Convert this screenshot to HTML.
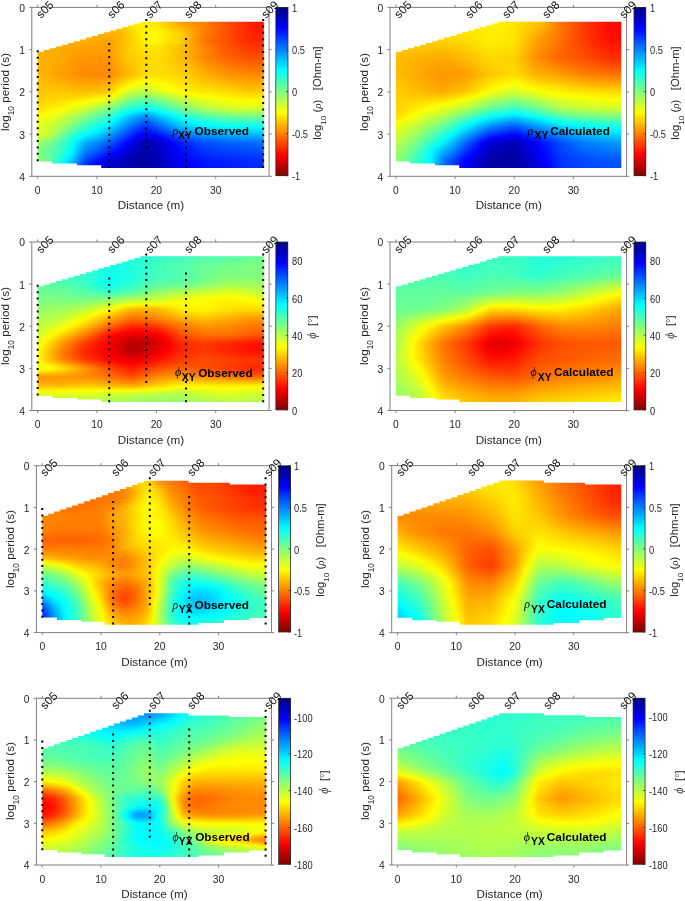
<!DOCTYPE html><html><head><meta charset="utf-8"><title>MT sections</title><style>
*{margin:0;padding:0}
body{width:685px;height:901px;position:relative;overflow:hidden;background:#fff;font-family:"Liberation Sans",sans-serif;color:#262626;-webkit-font-smoothing:antialiased}
.f{position:absolute;overflow:hidden}
.f i{position:absolute;left:0;right:0;display:block}
.cb{position:absolute}
.t{position:absolute;line-height:1;white-space:nowrap}
.t sub{font-size:0.8em;vertical-align:-0.25em;line-height:0}
.sb{position:relative}
.an{font-weight:bold;color:#000}
.an .g{font-weight:normal}
.g{font-family:"Liberation Serif",serif;font-style:italic}
svg{position:absolute;left:0;top:0}
#tx{position:absolute;left:0;top:0;width:685px;height:901px;will-change:transform}
#all{position:absolute;left:0;top:0;width:685px;height:901px;}</style></head><body><div id="all">
<div class="f" style="left:37px;top:21px;width:227px;height:147px;clip-path:polygon(0.7px 30.7px,6.8px 30.7px,6.8px 29.0px,12.8px 29.0px,12.8px 27.2px,18.8px 27.2px,18.8px 25.4px,24.9px 25.4px,24.9px 23.7px,30.9px 23.7px,30.9px 21.9px,36.9px 21.9px,36.9px 20.2px,43.0px 20.2px,43.0px 18.4px,49.0px 18.4px,49.0px 16.6px,55.0px 16.6px,55.0px 14.9px,61.0px 14.9px,61.0px 13.1px,67.1px 13.1px,67.1px 11.3px,73.1px 11.3px,73.1px 9.6px,79.1px 9.6px,79.1px 7.8px,85.2px 7.8px,85.2px 6.0px,91.2px 6.0px,91.2px 4.3px,97.2px 4.3px,97.2px 2.5px,103.3px 2.5px,103.3px 0.8px,109.3px 0.8px,109.3px 0.8px,226.8px 0.8px,226.8px 146.9px,64.2px 146.9px,64.2px 144.3px,39.9px 144.3px,39.9px 142.6px,15.0px 142.6px,15.0px 140.5px,0.7px 140.5px)">
<i style="top:0px;height:2px;background:linear-gradient(90deg,#ffeb00,#ffeb00,#ffeb00,#ffeb00,#ffeb00,#ffeb00,#ffeb00,#ffeb00,#ffeb00,#ffeb00,#ffeb00,#ffeb00,#ffeb00,#ffeb00,#ffeb00,#ffeb00,#ffeb00,#ffeb00,#ffeb00,#ffeb00,#ffeb00,#ffec00,#ffec00,#ffed00,#ffee00,#ffef00,#fff000,#fff000,#ffed00,#ffea00,#ffe600,#ffdb00,#ffd000,#ffc400,#ffb800,#ffad00,#ffa200,#ff9c00,#ff9600,#ff9000,#ff8b00,#ff8500,#ff7f00,#ff7700,#ff6e00,#ff6600,#ff5d00,#ff5400,#ff4c00,#ff4400,#ff3b00,#ff3300,#ff2a00,#ff2200,#ff1b00,#ff1700,#ff1300,#ff1000)"></i>
<i style="top:2px;height:2px;background:linear-gradient(90deg,#ffe300,#ffe300,#ffe300,#ffe300,#ffe300,#ffe300,#ffe300,#ffe300,#ffe300,#ffe300,#ffe300,#ffe300,#ffe300,#ffe300,#ffe300,#ffe300,#ffe300,#ffe300,#ffe300,#ffe300,#ffe300,#ffe300,#ffe500,#ffe800,#ffea00,#ffed00,#ffef00,#fff100,#ffef00,#ffec00,#ffe800,#ffdf00,#ffd400,#ffc900,#ffbe00,#ffb300,#ffa900,#ffa200,#ff9b00,#ff9400,#ff8d00,#ff8600,#ff7f00,#ff7700,#ff6e00,#ff6600,#ff5d00,#ff5400,#ff4c00,#ff4400,#ff3c00,#ff3400,#ff2b00,#ff2300,#ff1c00,#ff1800,#ff1500,#ff1200)"></i>
<i style="top:4px;height:2px;background:linear-gradient(90deg,#ffd800,#ffd800,#ffd800,#ffd800,#ffd800,#ffd800,#ffd800,#ffd800,#ffd800,#ffd800,#ffd800,#ffd800,#ffd800,#ffd800,#ffd800,#ffd800,#ffd800,#ffd800,#ffd800,#ffd800,#ffd800,#ffd900,#ffdd00,#ffe100,#ffe600,#ffea00,#ffef00,#fff300,#fff200,#ffef00,#ffec00,#ffe300,#ffd900,#ffcf00,#ffc500,#ffbb00,#ffb200,#ffa900,#ffa100,#ff9800,#ff9000,#ff8800,#ff7f00,#ff7700,#ff6e00,#ff6600,#ff5d00,#ff5400,#ff4c00,#ff4400,#ff3c00,#ff3400,#ff2d00,#ff2500,#ff1e00,#ff1a00,#ff1600,#ff1400)"></i>
<i style="top:6px;height:2px;background:linear-gradient(90deg,#ffcd00,#ffcd00,#ffcd00,#ffcd00,#ffcd00,#ffcd00,#ffcd00,#ffcd00,#ffcd00,#ffcd00,#ffcd00,#ffcd00,#ffcd00,#ffcd00,#ffcd00,#ffcd00,#ffcd00,#ffcd00,#ffcd00,#ffcd00,#ffcd00,#ffce00,#ffd400,#ffda00,#ffe100,#ffe800,#ffef00,#fff400,#fff400,#fff300,#fff000,#ffe800,#ffdf00,#ffd600,#ffcd00,#ffc400,#ffbb00,#ffb100,#ffa700,#ff9d00,#ff9300,#ff8900,#ff7f00,#ff7700,#ff6e00,#ff6600,#ff5d00,#ff5400,#ff4c00,#ff4400,#ff3d00,#ff3500,#ff2e00,#ff2600,#ff2000,#ff1c00,#ff1800,#ff1500)"></i>
<i style="top:8px;height:2px;background:linear-gradient(90deg,#ffc200,#ffc200,#ffc200,#ffc200,#ffc200,#ffc200,#ffc200,#ffc200,#ffc200,#ffc200,#ffc200,#ffc200,#ffc200,#ffc200,#ffc200,#ffc200,#ffc200,#ffc200,#ffc200,#ffc200,#ffc200,#ffc300,#ffcb00,#ffd400,#ffdd00,#ffe600,#ffee00,#fff600,#fff600,#fff600,#fff400,#ffed00,#ffe400,#ffdc00,#ffd400,#ffcc00,#ffc300,#ffb800,#ffad00,#ffa100,#ff9600,#ff8a00,#ff7f00,#ff7700,#ff6e00,#ff6600,#ff5d00,#ff5400,#ff4c00,#ff4500,#ff3e00,#ff3600,#ff2f00,#ff2800,#ff2100,#ff1d00,#ff1a00,#ff1700)"></i>
<i style="top:10px;height:2px;background:linear-gradient(90deg,#ffb800,#ffb800,#ffb800,#ffb800,#ffb800,#ffb800,#ffb800,#ffb800,#ffb800,#ffb800,#ffb800,#ffb800,#ffb800,#ffb800,#ffb800,#ffb800,#ffb800,#ffb800,#ffb800,#ffb800,#ffb800,#ffba00,#ffc300,#ffce00,#ffd900,#ffe300,#ffee00,#fff700,#fff900,#fff800,#fff700,#fff000,#ffe900,#ffe200,#ffdb00,#ffd300,#ffcb00,#ffbf00,#ffb200,#ffa500,#ff9800,#ff8b00,#ff7f00,#ff7600,#ff6e00,#ff6500,#ff5d00,#ff5400,#ff4c00,#ff4500,#ff3e00,#ff3700,#ff3000,#ff2900,#ff2300,#ff1f00,#ff1c00,#ff1a00)"></i>
<i style="top:12px;height:2px;background:linear-gradient(90deg,#ffb400,#ffb400,#ffb400,#ffb400,#ffb400,#ffb400,#ffb400,#ffb400,#ffb400,#ffb400,#ffb400,#ffb400,#ffb300,#ffb300,#ffb200,#ffb200,#ffb100,#ffb100,#ffb000,#ffb200,#ffb300,#ffb600,#ffc000,#ffcb00,#ffd600,#ffe100,#ffed00,#fff700,#fffa00,#fffa00,#fff800,#fff300,#ffec00,#ffe500,#ffde00,#ffd700,#ffcf00,#ffc200,#ffb400,#ffa600,#ff9900,#ff8b00,#ff7e00,#ff7500,#ff6d00,#ff6500,#ff5c00,#ff5400,#ff4c00,#ff4500,#ff3e00,#ff3800,#ff3100,#ff2a00,#ff2400,#ff2100,#ff1f00,#ff1d00)"></i>
<i style="top:14px;height:2px;background:linear-gradient(90deg,#ffb300,#ffb300,#ffb300,#ffb300,#ffb300,#ffb300,#ffb300,#ffb300,#ffb300,#ffb300,#ffb300,#ffb300,#ffb200,#ffb100,#ffb000,#ffaf00,#ffad00,#ffac00,#ffab00,#ffae00,#ffb100,#ffb600,#ffbf00,#ffca00,#ffd400,#ffe000,#ffec00,#fff700,#fffa00,#fffa00,#fff900,#fff300,#ffec00,#ffe500,#ffde00,#ffd800,#ffd000,#ffc200,#ffb400,#ffa600,#ff9700,#ff8900,#ff7c00,#ff7300,#ff6b00,#ff6400,#ff5c00,#ff5400,#ff4c00,#ff4500,#ff3e00,#ff3800,#ff3100,#ff2a00,#ff2400,#ff2300,#ff2200,#ff2100)"></i>
<i style="top:16px;height:2px;background:linear-gradient(90deg,#ffb300,#ffb200,#ffb200,#ffb200,#ffb200,#ffb200,#ffb200,#ffb200,#ffb200,#ffb200,#ffb200,#ffb200,#ffb200,#ffb000,#ffae00,#ffac00,#ffaa00,#ffa800,#ffa700,#ffab00,#ffb000,#ffb600,#ffbf00,#ffc900,#ffd300,#ffdf00,#ffeb00,#fff600,#fffa00,#fffa00,#fff900,#fff300,#ffec00,#ffe500,#ffde00,#ffd800,#ffcf00,#ffc200,#ffb300,#ffa500,#ff9600,#ff8700,#ff7a00,#ff7100,#ff6a00,#ff6200,#ff5b00,#ff5400,#ff4c00,#ff4500,#ff3e00,#ff3800,#ff3100,#ff2a00,#ff2500,#ff2500,#ff2500,#ff2600)"></i>
<i style="top:18px;height:2px;background:linear-gradient(90deg,#ffb200,#ffb200,#ffb200,#ffb200,#ffb200,#ffb200,#ffb200,#ffb200,#ffb200,#ffb200,#ffb200,#ffb200,#ffb200,#ffaf00,#ffad00,#ffaa00,#ffa700,#ffa400,#ffa300,#ffa900,#ffb000,#ffb700,#ffc000,#ffc900,#ffd200,#ffde00,#ffe900,#fff500,#fff900,#fff900,#fff800,#fff200,#ffec00,#ffe500,#ffde00,#ffd700,#ffcf00,#ffc100,#ffb200,#ffa400,#ff9500,#ff8600,#ff7800,#ff7000,#ff6900,#ff6200,#ff5b00,#ff5300,#ff4c00,#ff4600,#ff3f00,#ff3800,#ff3100,#ff2a00,#ff2500,#ff2700,#ff2900,#ff2b00)"></i>
<i style="top:20px;height:2px;background:linear-gradient(90deg,#ffb200,#ffb200,#ffb200,#ffb200,#ffb200,#ffb100,#ffb100,#ffb100,#ffb100,#ffb000,#ffb000,#ffb000,#ffaf00,#ffad00,#ffaa00,#ffa700,#ffa500,#ffa200,#ffa100,#ffa700,#ffaf00,#ffb800,#ffc000,#ffc900,#ffd200,#ffdc00,#ffe700,#fff200,#fff700,#fff700,#fff500,#fff000,#ffe900,#ffe300,#ffdc00,#ffd500,#ffcd00,#ffc000,#ffb100,#ffa300,#ff9500,#ff8600,#ff7900,#ff7100,#ff6a00,#ff6300,#ff5c00,#ff5500,#ff4e00,#ff4700,#ff4000,#ff3a00,#ff3300,#ff2d00,#ff2800,#ff2900,#ff2c00,#ff2e00)"></i>
<i style="top:22px;height:2px;background:linear-gradient(90deg,#ffb200,#ffb200,#ffb100,#ffb100,#ffb000,#ffb000,#ffaf00,#ffaf00,#ffae00,#ffad00,#ffad00,#ffac00,#ffab00,#ffa900,#ffa700,#ffa500,#ffa300,#ffa000,#ffa000,#ffa700,#ffaf00,#ffb800,#ffc100,#ffc900,#ffd100,#ffdb00,#ffe500,#ffee00,#fff200,#fff200,#fff000,#ffeb00,#ffe500,#ffde00,#ffd800,#ffd100,#ffc900,#ffbd00,#ffb000,#ffa300,#ff9600,#ff8900,#ff7d00,#ff7400,#ff6d00,#ff6600,#ff5e00,#ff5700,#ff5000,#ff4900,#ff4300,#ff3d00,#ff3700,#ff3000,#ff2c00,#ff2d00,#ff2f00,#ff3100)"></i>
<i style="top:24px;height:2px;background:linear-gradient(90deg,#ffb200,#ffb200,#ffb100,#ffb000,#ffaf00,#ffae00,#ffad00,#ffac00,#ffab00,#ffaa00,#ffa900,#ffa800,#ffa700,#ffa500,#ffa400,#ffa300,#ffa100,#ffa000,#ffa000,#ffa700,#ffb000,#ffb900,#ffc100,#ffc900,#ffd100,#ffd900,#ffe200,#ffea00,#ffed00,#ffec00,#ffea00,#ffe600,#ffe000,#ffda00,#ffd300,#ffcc00,#ffc500,#ffbb00,#ffaf00,#ffa400,#ff9800,#ff8c00,#ff8100,#ff7900,#ff7100,#ff6900,#ff6100,#ff5a00,#ff5200,#ff4c00,#ff4600,#ff4000,#ff3b00,#ff3500,#ff3000,#ff3100,#ff3200,#ff3400)"></i>
<i style="top:26px;height:2px;background:linear-gradient(90deg,#ffb200,#ffb100,#ffb000,#ffaf00,#ffad00,#ffac00,#ffaa00,#ffa900,#ffa800,#ffa600,#ffa500,#ffa400,#ffa200,#ffa100,#ffa100,#ffa000,#ff9f00,#ff9f00,#ff9f00,#ffa700,#ffb000,#ffb900,#ffc200,#ffca00,#ffd000,#ffd800,#ffdf00,#ffe600,#ffe800,#ffe600,#ffe400,#ffe100,#ffdc00,#ffd500,#ffce00,#ffc800,#ffc000,#ffb800,#ffae00,#ffa400,#ff9a00,#ff8f00,#ff8500,#ff7d00,#ff7500,#ff6d00,#ff6500,#ff5c00,#ff5500,#ff4f00,#ff4a00,#ff4400,#ff3f00,#ff3900,#ff3500,#ff3500,#ff3600,#ff3600)"></i>
<i style="top:28px;height:2px;background:linear-gradient(90deg,#ffb200,#ffb100,#ffaf00,#ffae00,#ffac00,#ffab00,#ffa900,#ffa700,#ffa500,#ffa400,#ffa200,#ffa000,#ff9e00,#ff9e00,#ff9e00,#ff9e00,#ff9d00,#ff9d00,#ff9f00,#ffa600,#ffb000,#ffb900,#ffc200,#ffca00,#ffd000,#ffd600,#ffdd00,#ffe300,#ffe400,#ffe200,#ffe000,#ffde00,#ffd900,#ffd200,#ffcb00,#ffc400,#ffbe00,#ffb600,#ffae00,#ffa400,#ff9b00,#ff9200,#ff8800,#ff8000,#ff7800,#ff6f00,#ff6700,#ff5f00,#ff5700,#ff5200,#ff4d00,#ff4800,#ff4300,#ff3e00,#ff3a00,#ff3a00,#ff3a00,#ff3a00)"></i>
<i style="top:30px;height:2px;background:linear-gradient(90deg,#ffb200,#ffb100,#ffaf00,#ffae00,#ffac00,#ffaa00,#ffa800,#ffa600,#ffa400,#ffa200,#ffa000,#ff9e00,#ff9c00,#ff9b00,#ff9b00,#ff9b00,#ff9b00,#ff9b00,#ff9d00,#ffa500,#ffaf00,#ffb800,#ffc200,#ffca00,#ffcf00,#ffd500,#ffdb00,#ffe000,#ffe200,#ffe000,#ffde00,#ffdc00,#ffd800,#ffd100,#ffca00,#ffc300,#ffbd00,#ffb600,#ffae00,#ffa500,#ff9b00,#ff9200,#ff8900,#ff8100,#ff7900,#ff7100,#ff6900,#ff6100,#ff5a00,#ff5500,#ff5000,#ff4b00,#ff4700,#ff4200,#ff3f00,#ff3f00,#ff4000,#ff4100)"></i>
<i style="top:32px;height:2px;background:linear-gradient(90deg,#ffb200,#ffb100,#ffaf00,#ffad00,#ffac00,#ffaa00,#ffa800,#ffa600,#ffa300,#ffa100,#ff9e00,#ff9b00,#ff9900,#ff9900,#ff9900,#ff9900,#ff9900,#ff9900,#ff9a00,#ffa300,#ffad00,#ffb700,#ffc200,#ffc900,#ffcf00,#ffd400,#ffd900,#ffde00,#ffdf00,#ffde00,#ffdd00,#ffdc00,#ffd800,#ffd100,#ffca00,#ffc300,#ffbc00,#ffb600,#ffae00,#ffa500,#ff9b00,#ff9200,#ff8a00,#ff8200,#ff7a00,#ff7200,#ff6b00,#ff6300,#ff5c00,#ff5800,#ff5300,#ff4f00,#ff4b00,#ff4700,#ff4400,#ff4500,#ff4600,#ff4800)"></i>
<i style="top:34px;height:2px;background:linear-gradient(90deg,#ffb200,#ffb100,#ffaf00,#ffad00,#ffac00,#ffaa00,#ffa800,#ffa500,#ffa200,#ff9f00,#ff9c00,#ff9a00,#ff9700,#ff9600,#ff9600,#ff9600,#ff9600,#ff9600,#ff9800,#ffa100,#ffac00,#ffb700,#ffc100,#ffc900,#ffce00,#ffd200,#ffd700,#ffdc00,#ffdd00,#ffdd00,#ffdc00,#ffdb00,#ffd800,#ffd100,#ffca00,#ffc300,#ffbd00,#ffb600,#ffae00,#ffa500,#ff9c00,#ff9300,#ff8a00,#ff8200,#ff7b00,#ff7400,#ff6d00,#ff6500,#ff5f00,#ff5a00,#ff5700,#ff5300,#ff4f00,#ff4b00,#ff4900,#ff4a00,#ff4d00,#ff4f00)"></i>
<i style="top:36px;height:2px;background:linear-gradient(90deg,#ffb300,#ffb100,#ffaf00,#ffad00,#ffac00,#ffaa00,#ffa800,#ffa500,#ffa200,#ff9e00,#ff9b00,#ff9800,#ff9500,#ff9400,#ff9400,#ff9400,#ff9400,#ff9400,#ff9600,#ff9f00,#ffaa00,#ffb500,#ffc000,#ffc800,#ffcd00,#ffd100,#ffd600,#ffda00,#ffdc00,#ffdc00,#ffdc00,#ffdb00,#ffd800,#ffd100,#ffcb00,#ffc400,#ffbd00,#ffb700,#ffaf00,#ffa600,#ff9d00,#ff9400,#ff8b00,#ff8400,#ff7d00,#ff7600,#ff6f00,#ff6800,#ff6200,#ff5e00,#ff5b00,#ff5700,#ff5400,#ff5000,#ff4e00,#ff5000,#ff5300,#ff5600)"></i>
<i style="top:38px;height:2px;background:linear-gradient(90deg,#ffb300,#ffb200,#ffb000,#ffae00,#ffab00,#ffa900,#ffa700,#ffa400,#ffa000,#ff9d00,#ff9a00,#ff9600,#ff9300,#ff9300,#ff9300,#ff9300,#ff9300,#ff9300,#ff9400,#ff9e00,#ffa900,#ffb400,#ffbf00,#ffc700,#ffcb00,#ffd000,#ffd500,#ffd900,#ffdb00,#ffdb00,#ffdb00,#ffdb00,#ffd800,#ffd200,#ffcc00,#ffc500,#ffbf00,#ffb900,#ffb100,#ffa900,#ffa000,#ff9700,#ff8f00,#ff8800,#ff8100,#ff7a00,#ff7400,#ff6d00,#ff6700,#ff6300,#ff6000,#ff5d00,#ff5a00,#ff5700,#ff5500,#ff5700,#ff5a00,#ff5c00)"></i>
<i style="top:40px;height:2px;background:linear-gradient(90deg,#ffb500,#ffb300,#ffb000,#ffae00,#ffab00,#ffa900,#ffa600,#ffa300,#ff9f00,#ff9c00,#ff9800,#ff9500,#ff9200,#ff9200,#ff9200,#ff9200,#ff9200,#ff9200,#ff9300,#ff9c00,#ffa700,#ffb200,#ffbd00,#ffc500,#ffca00,#ffcf00,#ffd400,#ffd900,#ffdb00,#ffdb00,#ffdb00,#ffdb00,#ffd800,#ffd300,#ffcd00,#ffc700,#ffc200,#ffbc00,#ffb500,#ffac00,#ffa400,#ff9b00,#ff9300,#ff8c00,#ff8600,#ff8000,#ff7900,#ff7300,#ff6d00,#ff6a00,#ff6700,#ff6400,#ff6100,#ff5e00,#ff5c00,#ff5e00,#ff6000,#ff6200)"></i>
<i style="top:42px;height:2px;background:linear-gradient(90deg,#ffb600,#ffb300,#ffb000,#ffae00,#ffab00,#ffa800,#ffa500,#ffa100,#ff9e00,#ff9b00,#ff9700,#ff9400,#ff9100,#ff9000,#ff9000,#ff9000,#ff9000,#ff9000,#ff9200,#ff9b00,#ffa500,#ffb000,#ffba00,#ffc200,#ffc800,#ffce00,#ffd300,#ffd900,#ffdb00,#ffdb00,#ffdb00,#ffdb00,#ffd900,#ffd400,#ffcf00,#ffca00,#ffc500,#ffbf00,#ffb900,#ffb100,#ffa800,#ffa000,#ff9800,#ff9200,#ff8b00,#ff8500,#ff7f00,#ff7900,#ff7300,#ff7000,#ff6d00,#ff6a00,#ff6700,#ff6500,#ff6300,#ff6400,#ff6700,#ff6800)"></i>
<i style="top:44px;height:2px;background:linear-gradient(90deg,#ffb700,#ffb400,#ffb100,#ffae00,#ffaa00,#ffa700,#ffa400,#ffa000,#ff9d00,#ff9900,#ff9600,#ff9300,#ff9000,#ff8f00,#ff8f00,#ff8f00,#ff8f00,#ff8f00,#ff9100,#ff9900,#ffa400,#ffae00,#ffb800,#ffc000,#ffc600,#ffcc00,#ffd300,#ffd800,#ffdb00,#ffdb00,#ffdb00,#ffdb00,#ffd900,#ffd500,#ffd000,#ffcc00,#ffc700,#ffc300,#ffbd00,#ffb500,#ffad00,#ffa500,#ff9d00,#ff9700,#ff9100,#ff8b00,#ff8500,#ff7e00,#ff7900,#ff7600,#ff7300,#ff7100,#ff6e00,#ff6c00,#ff6a00,#ff6b00,#ff6d00,#ff6e00)"></i>
<i style="top:46px;height:2px;background:linear-gradient(90deg,#ffb800,#ffb500,#ffb100,#ffae00,#ffaa00,#ffa600,#ffa300,#ff9f00,#ff9c00,#ff9800,#ff9500,#ff9100,#ff8f00,#ff8e00,#ff8e00,#ff8e00,#ff8e00,#ff8e00,#ff8f00,#ff9800,#ffa200,#ffac00,#ffb600,#ffbe00,#ffc500,#ffcb00,#ffd200,#ffd800,#ffdb00,#ffdb00,#ffdb00,#ffdb00,#ffd900,#ffd600,#ffd200,#ffce00,#ffca00,#ffc600,#ffc000,#ffb900,#ffb100,#ffa900,#ffa200,#ff9c00,#ff9600,#ff9000,#ff8a00,#ff8400,#ff7f00,#ff7c00,#ff7a00,#ff7800,#ff7500,#ff7300,#ff7100,#ff7200,#ff7300,#ff7500)"></i>
<i style="top:48px;height:2px;background:linear-gradient(90deg,#ffb900,#ffb600,#ffb200,#ffae00,#ffa900,#ffa500,#ffa100,#ff9e00,#ff9a00,#ff9700,#ff9400,#ff9000,#ff8d00,#ff8d00,#ff8d00,#ff8d00,#ff8d00,#ff8d00,#ff8e00,#ff9600,#ffa000,#ffaa00,#ffb400,#ffbc00,#ffc300,#ffca00,#ffd100,#ffd800,#ffdb00,#ffdb00,#ffdb00,#ffdb00,#ffda00,#ffd600,#ffd300,#ffd000,#ffcd00,#ffca00,#ffc400,#ffbd00,#ffb500,#ffae00,#ffa700,#ffa100,#ff9b00,#ff9500,#ff9000,#ff8a00,#ff8500,#ff8300,#ff8000,#ff7e00,#ff7c00,#ff7a00,#ff7800,#ff7900,#ff7a00,#ff7b00)"></i>
<i style="top:50px;height:2px;background:linear-gradient(90deg,#ffba00,#ffb700,#ffb200,#ffae00,#ffa900,#ffa500,#ffa000,#ff9d00,#ff9900,#ff9600,#ff9200,#ff8f00,#ff8c00,#ff8c00,#ff8c00,#ff8c00,#ff8c00,#ff8c00,#ff8d00,#ff9500,#ff9e00,#ffa800,#ffb100,#ffba00,#ffc200,#ffc900,#ffd100,#ffd800,#ffdb00,#ffdb00,#ffdb00,#ffdb00,#ffda00,#ffd700,#ffd500,#ffd200,#ffd000,#ffcd00,#ffc800,#ffc100,#ffb900,#ffb200,#ffab00,#ffa600,#ffa000,#ff9b00,#ff9500,#ff9000,#ff8b00,#ff8900,#ff8700,#ff8500,#ff8300,#ff8100,#ff7f00,#ff8000,#ff8000,#ff8100)"></i>
<i style="top:52px;height:2px;background:linear-gradient(90deg,#ffbc00,#ffb800,#ffb300,#ffae00,#ffa900,#ffa400,#ffa000,#ff9c00,#ff9900,#ff9600,#ff9200,#ff8f00,#ff8c00,#ff8b00,#ff8b00,#ff8b00,#ff8b00,#ff8b00,#ff8d00,#ff9500,#ff9e00,#ffa800,#ffb100,#ffba00,#ffc200,#ffca00,#ffd200,#ffd900,#ffdd00,#ffdd00,#ffdd00,#ffdc00,#ffdb00,#ffd900,#ffd700,#ffd500,#ffd300,#ffd000,#ffcc00,#ffc500,#ffbe00,#ffb700,#ffb000,#ffab00,#ffa600,#ffa100,#ff9b00,#ff9600,#ff9200,#ff8f00,#ff8e00,#ff8c00,#ff8a00,#ff8800,#ff8700,#ff8700,#ff8700,#ff8700)"></i>
<i style="top:54px;height:2px;background:linear-gradient(90deg,#ffbd00,#ffb900,#ffb400,#ffb000,#ffab00,#ffa600,#ffa200,#ff9e00,#ff9b00,#ff9800,#ff9400,#ff9100,#ff8e00,#ff8e00,#ff8e00,#ff8e00,#ff8e00,#ff8e00,#ff9000,#ff9800,#ffa200,#ffac00,#ffb600,#ffbf00,#ffc800,#ffd000,#ffd800,#ffdf00,#ffe300,#ffe200,#ffe100,#ffe000,#ffdf00,#ffdd00,#ffdb00,#ffd800,#ffd600,#ffd400,#ffcf00,#ffc900,#ffc200,#ffbc00,#ffb600,#ffb100,#ffac00,#ffa700,#ffa200,#ff9d00,#ff9900,#ff9700,#ff9500,#ff9300,#ff9100,#ff8f00,#ff8e00,#ff8e00,#ff8e00,#ff8e00)"></i>
<i style="top:56px;height:2px;background:linear-gradient(90deg,#ffbe00,#ffbb00,#ffb600,#ffb200,#ffae00,#ffaa00,#ffa600,#ffa300,#ff9f00,#ff9c00,#ff9900,#ff9600,#ff9400,#ff9300,#ff9400,#ff9400,#ff9400,#ff9400,#ff9600,#ffa000,#ffab00,#ffb600,#ffc100,#ffcb00,#ffd400,#ffdc00,#ffe300,#ffea00,#ffed00,#ffeb00,#ffe900,#ffe700,#ffe500,#ffe200,#ffe000,#ffdd00,#ffda00,#ffd800,#ffd300,#ffcd00,#ffc700,#ffc100,#ffbc00,#ffb700,#ffb200,#ffae00,#ffa900,#ffa500,#ffa100,#ff9f00,#ff9d00,#ff9b00,#ff9900,#ff9700,#ff9500,#ff9500,#ff9600,#ff9700)"></i>
<i style="top:58px;height:2px;background:linear-gradient(90deg,#ffbf00,#ffbc00,#ffb900,#ffb500,#ffb200,#ffae00,#ffab00,#ffa800,#ffa500,#ffa200,#ff9f00,#ff9c00,#ff9a00,#ff9900,#ff9a00,#ff9a00,#ff9b00,#ff9b00,#ff9e00,#ffa800,#ffb500,#ffc100,#ffcd00,#ffd800,#ffe200,#ffe900,#fff000,#fff700,#fff800,#fff500,#fff200,#ffef00,#ffec00,#ffe900,#ffe500,#ffe200,#ffdf00,#ffdc00,#ffd700,#ffd200,#ffcc00,#ffc700,#ffc200,#ffbd00,#ffb900,#ffb500,#ffb100,#ffad00,#ffa900,#ffa700,#ffa500,#ffa200,#ffa000,#ff9e00,#ff9c00,#ff9d00,#ff9e00,#ff9f00)"></i>
<i style="top:60px;height:2px;background:linear-gradient(90deg,#ffc100,#ffbe00,#ffbb00,#ffb800,#ffb500,#ffb200,#ffaf00,#ffad00,#ffaa00,#ffa700,#ffa400,#ffa200,#ffa000,#ffa000,#ffa000,#ffa100,#ffa200,#ffa200,#ffa500,#ffb100,#ffbf00,#ffcc00,#ffd900,#ffe500,#fff000,#fff700,#fefc01,#fbff04,#fbff04,#fefe01,#fffb00,#fff700,#fff300,#ffef00,#ffeb00,#ffe700,#ffe300,#ffe000,#ffdb00,#ffd600,#ffd100,#ffcc00,#ffc800,#ffc400,#ffc000,#ffbd00,#ffb900,#ffb500,#ffb200,#ffaf00,#ffad00,#ffaa00,#ffa800,#ffa500,#ffa400,#ffa500,#ffa600,#ffa700)"></i>
<i style="top:62px;height:2px;background:linear-gradient(90deg,#ffc200,#ffc000,#ffbe00,#ffbb00,#ffb900,#ffb600,#ffb400,#ffb200,#ffaf00,#ffad00,#ffaa00,#ffa800,#ffa600,#ffa600,#ffa700,#ffa800,#ffa900,#ffaa00,#ffad00,#ffb900,#ffc900,#ffd700,#ffe500,#fff200,#fefd01,#f9ff06,#f4ff0b,#efff10,#efff10,#f5ff0a,#faff05,#fefe01,#fffa00,#fff500,#fff100,#ffec00,#ffe800,#ffe400,#ffdf00,#ffdb00,#ffd600,#ffd200,#ffce00,#ffca00,#ffc700,#ffc400,#ffc000,#ffbd00,#ffba00,#ffb700,#ffb500,#ffb200,#ffaf00,#ffad00,#ffab00,#ffac00,#ffae00,#ffb000)"></i>
<i style="top:64px;height:2px;background:linear-gradient(90deg,#ffc300,#ffc200,#ffc000,#ffbe00,#ffbc00,#ffbb00,#ffb900,#ffb700,#ffb400,#ffb200,#ffb000,#ffad00,#ffac00,#ffac00,#ffad00,#ffae00,#ffaf00,#ffb100,#ffb400,#ffc200,#ffd300,#ffe300,#fff100,#fdfe02,#f2ff0d,#ecff13,#e7ff18,#e2ff1d,#e4ff1b,#eaff15,#f1ff0e,#f7ff08,#fdff02,#fffc00,#fff700,#fff200,#ffec00,#ffe700,#ffe300,#ffdf00,#ffdb00,#ffd800,#ffd400,#ffd100,#ffce00,#ffcb00,#ffc800,#ffc500,#ffc200,#ffc000,#ffbd00,#ffba00,#ffb700,#ffb400,#ffb200,#ffb400,#ffb600,#ffb800)"></i>
<i style="top:66px;height:2px;background:linear-gradient(90deg,#ffc400,#ffc300,#ffc200,#ffc100,#ffc000,#ffbf00,#ffbe00,#ffbc00,#ffba00,#ffb700,#ffb500,#ffb300,#ffb200,#ffb200,#ffb400,#ffb500,#ffb600,#ffb800,#ffbc00,#ffcb00,#ffdc00,#ffee00,#fefd01,#f1ff0e,#e4ff1b,#deff21,#daff25,#d6ff29,#d8ff27,#e0ff1f,#e8ff17,#f0ff0f,#f6ff09,#fcff03,#fffc00,#fff700,#fff100,#ffeb00,#ffe700,#ffe400,#ffe000,#ffdd00,#ffda00,#ffd700,#ffd500,#ffd200,#ffd000,#ffcd00,#ffcb00,#ffc800,#ffc500,#ffc200,#ffbf00,#ffbc00,#ffba00,#ffbc00,#ffbe00,#ffc100)"></i>
<i style="top:68px;height:2px;background:linear-gradient(90deg,#ffc600,#ffc500,#ffc500,#ffc400,#ffc400,#ffc300,#ffc200,#ffc100,#ffbf00,#ffbd00,#ffbb00,#ffb900,#ffb800,#ffb900,#ffba00,#ffbc00,#ffbe00,#ffbf00,#ffc300,#ffd400,#ffe700,#fff900,#f4ff0b,#e4ff1b,#d6ff29,#d0ff2f,#ccff33,#c9ff36,#ccff33,#d5ff2a,#deff21,#e7ff18,#efff10,#f5ff0a,#fbff04,#fffc00,#fff600,#fff000,#ffec00,#ffe900,#ffe600,#ffe300,#ffe000,#ffde00,#ffdc00,#ffda00,#ffd800,#ffd600,#ffd300,#ffd000,#ffcd00,#ffca00,#ffc700,#ffc300,#ffc100,#ffc400,#ffc700,#ffc900)"></i>
<i style="top:70px;height:2px;background:linear-gradient(90deg,#ffc700,#ffc700,#ffc700,#ffc700,#ffc700,#ffc700,#ffc700,#ffc600,#ffc500,#ffc300,#ffc200,#ffc100,#ffc000,#ffc100,#ffc300,#ffc600,#ffc800,#ffca00,#ffcf00,#ffe000,#fff400,#f7ff08,#e5ff1a,#d4ff2b,#c5ff3a,#c0ff3f,#bcff43,#b9ff46,#bdff42,#c7ff38,#d0ff2f,#daff25,#e3ff1c,#eaff15,#f1ff0e,#f8ff07,#fdfe02,#fff800,#fff300,#fff000,#ffee00,#ffeb00,#ffe800,#ffe600,#ffe400,#ffe200,#ffe000,#ffde00,#ffdc00,#ffd900,#ffd600,#ffd300,#ffcf00,#ffcc00,#ffca00,#ffcd00,#ffd000,#ffd300)"></i>
<i style="top:72px;height:2px;background:linear-gradient(90deg,#ffca00,#ffca00,#ffca00,#ffcb00,#ffcb00,#ffcc00,#ffcc00,#ffcc00,#ffcb00,#ffcb00,#ffcb00,#ffca00,#ffca00,#ffcd00,#ffd000,#ffd300,#ffd600,#ffd900,#ffdf00,#fff000,#f9ff06,#e5ff1a,#d3ff2c,#c1ff3e,#b1ff4e,#acff53,#a8ff57,#a4ff5b,#a8ff57,#b2ff4d,#bcff43,#c6ff39,#cfff30,#d7ff28,#dfff20,#e8ff17,#f0ff0f,#f8ff07,#fcfe03,#fefc01,#fff900,#fff600,#fff300,#fff000,#ffee00,#ffec00,#ffea00,#ffe800,#ffe500,#ffe300,#ffe000,#ffdd00,#ffda00,#ffd700,#ffd500,#ffd800,#ffdb00,#ffde00)"></i>
<i style="top:74px;height:2px;background:linear-gradient(90deg,#ffcc00,#ffcd00,#ffce00,#ffce00,#ffcf00,#ffd000,#ffd100,#ffd200,#ffd300,#ffd300,#ffd400,#ffd500,#ffd600,#ffda00,#ffde00,#ffe200,#ffe700,#ffeb00,#fff100,#fafe05,#e6ff19,#d2ff2d,#bfff40,#acff53,#9cff63,#95ff6a,#91ff6e,#8dff72,#90ff6f,#9aff65,#a4ff5b,#aeff51,#b8ff47,#c2ff3d,#cbff34,#d4ff2b,#deff21,#e7ff18,#eeff11,#f2ff0d,#f7ff08,#fbff04,#fefd01,#fffc00,#fff900,#fff700,#fff400,#fff200,#ffef00,#ffed00,#ffea00,#ffe700,#ffe500,#ffe200,#ffe100,#ffe400,#ffe700,#ffea00)"></i>
<i style="top:76px;height:2px;background:linear-gradient(90deg,#ffce00,#ffd000,#ffd100,#ffd200,#ffd300,#ffd500,#ffd600,#ffd800,#ffda00,#ffdc00,#ffde00,#ffe000,#ffe200,#ffe700,#ffed00,#fff200,#fff800,#fefc01,#f9ff06,#e7ff18,#d3ff2c,#bfff40,#abff54,#98ff67,#86ff79,#7fff80,#7aff85,#75ff8a,#78ff87,#82ff7d,#8cff73,#97ff68,#a1ff5e,#abff54,#b6ff49,#c0ff3f,#cbff34,#d5ff2a,#ddff22,#e3ff1c,#e8ff17,#eeff11,#f3ff0c,#f6ff09,#f9ff06,#fcff03,#fefe01,#fffc00,#fff900,#fff700,#fff500,#fff200,#fff000,#ffee00,#ffed00,#fff000,#fff300,#fff600)"></i>
<i style="top:78px;height:2px;background:linear-gradient(90deg,#ffd100,#ffd200,#ffd400,#ffd600,#ffd800,#ffd900,#ffdb00,#ffde00,#ffe200,#ffe500,#ffe800,#ffeb00,#ffef00,#fff500,#fffb00,#fbff04,#f5ff0a,#eeff11,#e5ff1a,#d3ff2c,#bfff40,#aaff55,#96ff69,#83ff7c,#71ff8e,#69ff96,#64ff9b,#5effa1,#61ff9e,#6bff94,#75ff8a,#7fff80,#8aff75,#96ff69,#a1ff5e,#adff52,#b8ff47,#c4ff3b,#cdff32,#d4ff2b,#daff25,#e1ff1e,#e7ff18,#ebff14,#eeff11,#f1ff0e,#f5ff0a,#f8ff07,#fbff04,#fdff02,#fefe01,#fffd00,#fffb00,#fff900,#fff800,#fffb00,#fefd01,#fcff03)"></i>
<i style="top:80px;height:2px;background:linear-gradient(90deg,#ffd300,#ffd500,#ffd800,#ffda00,#ffdd00,#ffdf00,#ffe200,#ffe600,#ffea00,#ffef00,#fff300,#fff800,#fefc01,#faff05,#f2ff0d,#e9ff16,#e1ff1e,#d9ff26,#cfff30,#bcff43,#a8ff57,#94ff6b,#81ff7e,#6eff91,#5dffa2,#55ffaa,#4fffb0,#49ffb6,#4cffb3,#56ffa9,#60ff9f,#6aff95,#76ff89,#82ff7d,#8eff71,#9aff65,#a7ff58,#b3ff4c,#bdff42,#c4ff3b,#ccff33,#d4ff2b,#dbff24,#dfff20,#e3ff1c,#e7ff18,#eaff15,#eeff11,#f2ff0d,#f3ff0c,#f5ff0a,#f7ff08,#f9ff06,#faff05,#fbff04,#f8ff07,#f5ff0a,#f2ff0d)"></i>
<i style="top:82px;height:2px;background:linear-gradient(90deg,#ffd600,#ffd900,#ffdc00,#ffdf00,#ffe200,#ffe500,#ffe900,#ffee00,#fff400,#fff900,#fdfe02,#f9ff06,#f3ff0c,#eaff15,#e0ff1f,#d6ff29,#ccff33,#c3ff3c,#b7ff48,#a5ff5a,#90ff6f,#7cff83,#6aff95,#59ffa6,#49ffb6,#41ffbe,#3bffc4,#36ffc9,#39ffc6,#43ffbc,#4dffb2,#57ffa8,#62ff9d,#6fff90,#7cff83,#88ff77,#95ff6a,#a2ff5d,#acff53,#b5ff4a,#beff41,#c7ff38,#cfff30,#d3ff2c,#d8ff27,#dcff23,#e0ff1f,#e4ff1b,#e8ff17,#eaff15,#ecff13,#edff12,#efff10,#f1ff0e,#f1ff0e,#efff10,#ebff14,#e8ff17)"></i>
<i style="top:84px;height:2px;background:linear-gradient(90deg,#ffd900,#ffdc00,#ffe000,#ffe400,#ffe800,#ffec00,#fff000,#fff700,#fefd01,#faff05,#f3ff0c,#ecff13,#e4ff1b,#daff25,#ceff31,#c3ff3c,#b8ff47,#acff53,#9fff60,#8cff73,#78ff87,#64ff9b,#54ffab,#44ffbb,#35ffca,#2effd1,#28ffd7,#22ffdd,#25ffda,#2fffd0,#39ffc6,#44ffbb,#4fffb0,#5cffa3,#69ff96,#76ff89,#83ff7c,#90ff6f,#9cff63,#a6ff59,#b0ff4f,#b9ff46,#c2ff3d,#c8ff37,#ccff33,#d1ff2e,#d5ff2a,#daff25,#deff21,#e0ff1f,#e2ff1d,#e3ff1c,#e5ff1a,#e7ff18,#e7ff18,#e5ff1a,#e1ff1e,#dfff20)"></i>
<i style="top:86px;height:2px;background:linear-gradient(90deg,#ffdc00,#ffe000,#ffe500,#ffe900,#ffee00,#fff300,#fff800,#fdfe02,#f6ff09,#eeff11,#e6ff19,#deff21,#d5ff2a,#c9ff36,#bcff43,#b0ff4f,#a3ff5c,#96ff69,#88ff77,#75ff8a,#61ff9e,#4dffb2,#3dffc2,#2fffd0,#21ffde,#1affe5,#13ffec,#0dfff2,#10ffef,#1affe5,#25ffda,#2fffd0,#3bffc4,#49ffb6,#56ffa9,#63ff9c,#71ff8e,#7eff81,#8aff75,#95ff6a,#a0ff5f,#aaff55,#b4ff4b,#baff45,#bfff40,#c3ff3c,#c8ff37,#cdff32,#d2ff2d,#d4ff2b,#d5ff2a,#d7ff28,#d9ff26,#dbff24,#dbff24,#d9ff26,#d5ff2a,#d3ff2c)"></i>
<i style="top:88px;height:2px;background:linear-gradient(90deg,#ffe100,#ffe600,#ffeb00,#fff100,#fff600,#fffc00,#fcff03,#f3ff0c,#eaff15,#e1ff1e,#d7ff28,#ceff31,#c4ff3b,#b7ff48,#aaff55,#9cff63,#8fff70,#81ff7e,#73ff8c,#60ff9f,#4bffb4,#38ffc7,#28ffd7,#19ffe6,#0bfff4,#04fdfb,#01f9fe,#00f3ff,#00f6ff,#04fdfb,#0dfff2,#19ffe6,#25ffda,#33ffcc,#40ffbf,#4effb1,#5cffa3,#69ff96,#75ff8a,#80ff7f,#8bff74,#96ff69,#a0ff5f,#a6ff59,#abff54,#b0ff4f,#b5ff4a,#baff45,#beff41,#c1ff3e,#c2ff3d,#c4ff3b,#c6ff39,#c7ff38,#c8ff37,#c6ff39,#c3ff3c,#c1ff3e)"></i>
<i style="top:90px;height:2px;background:linear-gradient(90deg,#ffe800,#ffed00,#fff400,#fffa00,#fdfe02,#f7ff08,#f0ff0f,#e6ff19,#dcff23,#d1ff2e,#c7ff38,#bcff43,#b1ff4e,#a4ff5b,#97ff68,#89ff76,#7bff84,#6eff91,#5fffa0,#4cffb3,#37ffc8,#24ffdb,#13ffec,#04fdfb,#00f2ff,#00e8ff,#00deff,#00d6ff,#00d8ff,#00e5ff,#00f2ff,#03fcfc,#0efff1,#1bffe4,#29ffd6,#36ffc9,#44ffbb,#52ffad,#5effa1,#68ff97,#73ff8c,#7dff82,#87ff78,#8cff73,#92ff6d,#97ff68,#9cff63,#a1ff5e,#a5ff5a,#a7ff58,#a9ff56,#abff54,#adff52,#aeff51,#afff50,#aeff51,#acff53,#aaff55)"></i>
<i style="top:92px;height:2px;background:linear-gradient(90deg,#ffef00,#fff500,#fffc00,#faff05,#f3ff0c,#ecff13,#e4ff1b,#d9ff26,#cdff32,#c2ff3d,#b6ff49,#aaff55,#9eff61,#91ff6e,#83ff7c,#76ff89,#68ff97,#5bffa4,#4cffb3,#39ffc6,#24ffdb,#10ffef,#02fbfd,#00ebff,#00daff,#00ceff,#00c2ff,#00b7ff,#00baff,#00c9ff,#00d8ff,#00e6ff,#00f4ff,#05fefa,#11ffee,#1effe1,#2cffd3,#3affc5,#45ffba,#4fffb0,#59ffa6,#63ff9c,#6cff93,#72ff8d,#77ff88,#7cff83,#81ff7e,#86ff79,#8bff74,#8dff72,#8fff70,#90ff6f,#92ff6d,#94ff6b,#95ff6a,#94ff6b,#93ff6c,#92ff6d)"></i>
<i style="top:94px;height:2px;background:linear-gradient(90deg,#fff700,#fffd00,#f9ff06,#f1ff0e,#e9ff16,#e1ff1e,#d8ff27,#ccff33,#c0ff3f,#b3ff4c,#a6ff59,#99ff66,#8cff73,#7eff81,#71ff8e,#63ff9c,#55ffaa,#48ffb7,#39ffc6,#26ffd9,#11ffee,#01fbfe,#00e8ff,#00d5ff,#00c2ff,#00b4ff,#00a7ff,#009aff,#009dff,#00adff,#00beff,#00ceff,#00ddff,#00ebff,#00f8ff,#07fff8,#15ffea,#22ffdd,#2effd1,#37ffc8,#41ffbe,#4affb5,#53ffac,#58ffa7,#5dffa2,#63ff9c,#68ff97,#6dff92,#71ff8e,#73ff8c,#75ff8a,#77ff88,#78ff87,#7aff85,#7bff84,#7bff84,#7aff85,#7aff85)"></i>
<i style="top:96px;height:2px;background:linear-gradient(90deg,#fffe00,#f9ff06,#f1ff0e,#e9ff16,#e1ff1e,#d8ff27,#cfff30,#c2ff3d,#b4ff4b,#a6ff59,#97ff68,#89ff76,#7bff84,#6dff92,#5fffa0,#52ffad,#44ffbb,#37ffc8,#28ffd7,#14ffeb,#02fdfd,#00eaff,#00d6ff,#00c1ff,#00aeff,#009eff,#0090ff,#0082ff,#0085ff,#0096ff,#00a7ff,#00b8ff,#00c8ff,#00d6ff,#00e4ff,#00f2ff,#03fdfc,#0efff1,#19ffe6,#22ffdd,#2bffd4,#34ffcb,#3dffc2,#42ffbd,#47ffb8,#4cffb3,#51ffae,#56ffa9,#5affa5,#5cffa3,#5dffa2,#5fffa0,#60ff9f,#62ff9d,#63ff9c,#63ff9c,#63ff9c,#63ff9c)"></i>
<i style="top:98px;height:2px;background:linear-gradient(90deg,#f9ff06,#f2ff0d,#eaff15,#e2ff1d,#daff25,#d0ff2f,#c7ff38,#b9ff46,#aaff55,#9bff64,#8bff74,#7cff83,#6cff93,#5effa1,#50ffaf,#43ffbc,#35ffca,#27ffd8,#19ffe6,#05fffa,#00efff,#00daff,#00c5ff,#00b0ff,#009cff,#008cff,#007dff,#006fff,#0072ff,#0083ff,#0094ff,#00a5ff,#00b5ff,#00c4ff,#00d3ff,#00e1ff,#00f0ff,#01fbfe,#07fff8,#10ffef,#19ffe6,#22ffdd,#2affd5,#2fffd0,#34ffcb,#38ffc7,#3dffc2,#42ffbd,#45ffba,#47ffb8,#48ffb7,#49ffb6,#4affb5,#4cffb3,#4cffb3,#4dffb2,#4dffb2,#4dffb2)"></i>
<i style="top:100px;height:2px;background:linear-gradient(90deg,#f2ff0d,#ecff13,#e4ff1b,#dcff23,#d3ff2c,#caff35,#bfff40,#b1ff4e,#a1ff5e,#91ff6e,#80ff7f,#6fff90,#5effa1,#4fffb0,#42ffbd,#34ffcb,#26ffd9,#19ffe6,#0afff5,#00f5ff,#00dfff,#00caff,#00b5ff,#009fff,#008bff,#007bff,#006cff,#005eff,#0061ff,#0071ff,#0082ff,#0093ff,#00a3ff,#00b3ff,#00c3ff,#00d2ff,#00e1ff,#00ecff,#00f6ff,#02fdfd,#08fff7,#11ffee,#19ffe6,#1effe1,#22ffdd,#26ffd9,#2affd5,#2effd1,#32ffcd,#33ffcc,#34ffcb,#35ffca,#35ffca,#36ffc9,#37ffc8,#37ffc8,#37ffc8,#37ffc8)"></i>
<i style="top:102px;height:2px;background:linear-gradient(90deg,#ebff14,#e5ff1a,#deff21,#d6ff29,#cdff32,#c3ff3c,#b8ff47,#a8ff57,#98ff67,#87ff78,#75ff8a,#62ff9d,#4fffb0,#41ffbe,#33ffcc,#26ffd9,#18ffe7,#0afff5,#00faff,#00e6ff,#00d0ff,#00baff,#00a4ff,#008fff,#007aff,#006aff,#005bff,#004dff,#004fff,#005fff,#0070ff,#0081ff,#0092ff,#00a2ff,#00b2ff,#00c3ff,#00d2ff,#00dcff,#00e5ff,#00eeff,#00f7ff,#02fdfd,#08fff7,#0cfff3,#10ffef,#14ffeb,#18ffe7,#1bffe4,#1fffe0,#1fffe0,#20ffdf,#20ffdf,#20ffdf,#21ffde,#21ffde,#21ffde,#21ffde,#21ffde)"></i>
<i style="top:104px;height:2px;background:linear-gradient(90deg,#e6ff19,#e0ff1f,#d9ff26,#d1ff2e,#c7ff38,#bbff44,#afff50,#9eff61,#8dff72,#7bff84,#68ff97,#54ffab,#41ffbe,#33ffcc,#25ffda,#18ffe7,#0afff5,#00faff,#00ebff,#00d6ff,#00c0ff,#00aaff,#0094ff,#007eff,#006aff,#005aff,#004bff,#003dff,#003fff,#004eff,#005eff,#006eff,#007fff,#0090ff,#00a1ff,#00b1ff,#00c1ff,#00cbff,#00d3ff,#00dcff,#00e5ff,#00edff,#00f5ff,#00f9ff,#01fbfe,#03fdfc,#05fffa,#08fff7,#0bfff4,#0bfff4,#0cfff3,#0cfff3,#0cfff3,#0cfff3,#0cfff3,#0cfff3,#0dfff2,#0dfff2)"></i>
<i style="top:106px;height:2px;background:linear-gradient(90deg,#e5ff1a,#deff21,#d7ff28,#ceff31,#c1ff3e,#b3ff4c,#a4ff5b,#92ff6d,#7fff80,#6cff93,#59ffa6,#45ffba,#33ffcc,#25ffda,#18ffe7,#0bfff4,#00faff,#00ebff,#00dbff,#00c6ff,#00b0ff,#009aff,#0084ff,#006eff,#005aff,#0049ff,#003aff,#002dff,#002fff,#003dff,#004bff,#005bff,#006cff,#007dff,#008dff,#009eff,#00aeff,#00b7ff,#00c0ff,#00c8ff,#00d1ff,#00d9ff,#00e1ff,#00e5ff,#00e8ff,#00ecff,#00efff,#00f3ff,#00f6ff,#00f6ff,#00f6ff,#00f7ff,#00f7ff,#00f7ff,#00f8ff,#00f8ff,#00f8ff,#00f9ff)"></i>
<i style="top:108px;height:2px;background:linear-gradient(90deg,#e4ff1b,#ddff22,#d5ff2a,#cbff34,#bbff44,#aaff55,#98ff67,#84ff7b,#70ff8f,#5cffa3,#49ffb6,#36ffc9,#24ffdb,#17ffe8,#0bfff4,#01fcfe,#00edff,#00dcff,#00caff,#00b5ff,#009fff,#008aff,#0074ff,#005eff,#004aff,#0039ff,#002aff,#001dff,#0020ff,#002bff,#0038ff,#0048ff,#0058ff,#0069ff,#007aff,#008aff,#0099ff,#00a3ff,#00abff,#00b4ff,#00bcff,#00c5ff,#00ccff,#00d1ff,#00d4ff,#00d7ff,#00dbff,#00deff,#00e1ff,#00e2ff,#00e2ff,#00e3ff,#00e3ff,#00e4ff,#00e4ff,#00e5ff,#00e6ff,#00e7ff)"></i>
<i style="top:110px;height:2px;background:linear-gradient(90deg,#e4ff1b,#dcff23,#d3ff2c,#c8ff37,#b6ff49,#a1ff5e,#8dff72,#77ff88,#61ff9e,#4bffb4,#38ffc7,#26ffd9,#15ffea,#09fff6,#00fcff,#00efff,#00deff,#00ccff,#00baff,#00a4ff,#008fff,#0079ff,#0064ff,#004eff,#003aff,#0029ff,#001aff,#000dff,#0010ff,#001aff,#0025ff,#0034ff,#0045ff,#0055ff,#0065ff,#0076ff,#0085ff,#008eff,#0097ff,#009fff,#00a8ff,#00b0ff,#00b8ff,#00bcff,#00bfff,#00c3ff,#00c6ff,#00caff,#00cdff,#00cdff,#00ceff,#00cfff,#00cfff,#00d0ff,#00d1ff,#00d2ff,#00d3ff,#00d4ff)"></i>
<i style="top:112px;height:2px;background:linear-gradient(90deg,#dfff20,#d7ff28,#cdff32,#c2ff3d,#adff52,#97ff68,#80ff7f,#69ff96,#52ffad,#3cffc3,#29ffd6,#17ffe8,#06fff9,#00f8ff,#00edff,#00e0ff,#00cfff,#00bcff,#00a9ff,#0094ff,#007eff,#0069ff,#0054ff,#003fff,#002aff,#0019ff,#0009ff,#0000fb,#0002fd,#0008ff,#0011ff,#0021ff,#0031ff,#0041ff,#0051ff,#0061ff,#0070ff,#007aff,#0082ff,#008bff,#0093ff,#009cff,#00a3ff,#00a8ff,#00abff,#00aeff,#00b2ff,#00b5ff,#00b8ff,#00b9ff,#00baff,#00bbff,#00bcff,#00bdff,#00beff,#00bfff,#00c1ff,#00c2ff)"></i>
<i style="top:114px;height:2px;background:linear-gradient(90deg,#d3ff2c,#cbff34,#c1ff3e,#b5ff4a,#a0ff5f,#89ff76,#72ff8d,#5bffa4,#44ffbb,#2effd1,#1affe5,#06fff9,#00f3ff,#00e6ff,#00daff,#00ceff,#00bdff,#00abff,#0098ff,#0083ff,#006eff,#0059ff,#0044ff,#002fff,#001aff,#0009ff,#0000f8,#0000eb,#0000ef,#0000f5,#0002fc,#000dff,#001dff,#002dff,#003dff,#004dff,#005cff,#0065ff,#006eff,#0076ff,#007fff,#0087ff,#008fff,#0093ff,#0096ff,#009aff,#009dff,#00a1ff,#00a4ff,#00a5ff,#00a6ff,#00a7ff,#00a8ff,#00a9ff,#00aaff,#00acff,#00aeff,#00b0ff)"></i>
<i style="top:116px;height:2px;background:linear-gradient(90deg,#c3ff3c,#bbff44,#b0ff4f,#a5ff5a,#91ff6e,#7aff85,#64ff9b,#4effb1,#37ffc8,#21ffde,#0bfff4,#00f5ff,#00e0ff,#00d2ff,#00c6ff,#00b9ff,#00a9ff,#0098ff,#0087ff,#0072ff,#005dff,#0048ff,#0034ff,#001fff,#000bff,#0000f8,#0000e8,#0000db,#0000dd,#0000e3,#0000ea,#0000f9,#0009ff,#0019ff,#0029ff,#0039ff,#0047ff,#0051ff,#0059ff,#0062ff,#006aff,#0073ff,#007aff,#007eff,#0082ff,#0085ff,#0089ff,#008cff,#008fff,#0091ff,#0092ff,#0093ff,#0094ff,#0096ff,#0097ff,#0099ff,#009cff,#009eff)"></i>
<i style="top:118px;height:2px;background:linear-gradient(90deg,#b2ff4d,#aaff55,#a0ff5f,#94ff6b,#81ff7e,#6bff94,#56ffa9,#40ffbf,#2bffd4,#15ffea,#01fbfe,#00e4ff,#00cdff,#00bfff,#00b2ff,#00a5ff,#0095ff,#0086ff,#0076ff,#0062ff,#004dff,#0038ff,#0024ff,#000fff,#0000fa,#0000e9,#0000d8,#0000cb,#0000cc,#0000d1,#0000d7,#0000e5,#0000f5,#0006ff,#0015ff,#0025ff,#0033ff,#003cff,#0045ff,#004dff,#0056ff,#005eff,#0066ff,#006aff,#006eff,#0071ff,#0074ff,#0078ff,#007bff,#007cff,#007eff,#007fff,#0081ff,#0082ff,#0084ff,#0087ff,#008aff,#008cff)"></i>
<i style="top:120px;height:2px;background:linear-gradient(90deg,#a3ff5c,#9bff64,#91ff6e,#85ff7a,#72ff8d,#5effa1,#49ffb6,#34ffcb,#20ffdf,#0afff5,#00efff,#00d4ff,#00bcff,#00acff,#009fff,#0091ff,#0083ff,#0075ff,#0065ff,#0052ff,#003dff,#0029ff,#0015ff,#0002fe,#0000ec,#0000db,#0000ca,#0000bc,#0000bd,#0000c1,#0000c7,#0000d5,#0000e4,#0000f4,#0004ff,#0013ff,#0021ff,#002bff,#0033ff,#003cff,#0044ff,#004dff,#0054ff,#0058ff,#005cff,#005fff,#0062ff,#0066ff,#0069ff,#006bff,#006cff,#006eff,#006fff,#0071ff,#0073ff,#0076ff,#0079ff,#007cff)"></i>
<i style="top:122px;height:2px;background:linear-gradient(90deg,#98ff67,#90ff6f,#86ff79,#7aff85,#69ff96,#55ffaa,#42ffbd,#2effd1,#19ffe6,#03fffc,#00e6ff,#00c9ff,#00adff,#009dff,#0090ff,#0083ff,#0074ff,#0065ff,#0056ff,#0043ff,#0030ff,#001cff,#0009ff,#0000f4,#0000e1,#0000d1,#0000c1,#0000b4,#0000b6,#0000b9,#0000bf,#0000cc,#0000db,#0000ea,#0000f9,#0009ff,#0017ff,#0020ff,#0029ff,#0031ff,#0039ff,#0041ff,#0048ff,#004cff,#0050ff,#0053ff,#0056ff,#0059ff,#005cff,#005eff,#0060ff,#0062ff,#0063ff,#0065ff,#0067ff,#006aff,#006dff,#006fff)"></i>
<i style="top:124px;height:2px;background:linear-gradient(90deg,#90ff6f,#88ff77,#7eff81,#73ff8c,#62ff9d,#51ffae,#3fffc0,#2bffd4,#16ffe9,#01fefe,#00e0ff,#00bfff,#00a1ff,#0091ff,#0085ff,#0078ff,#0068ff,#0058ff,#0048ff,#0036ff,#0023ff,#0011ff,#0001fd,#0000eb,#0000da,#0000cb,#0000bc,#0000b1,#0000b2,#0000b7,#0000bc,#0000ca,#0000d8,#0000e7,#0000f5,#0005ff,#0013ff,#001bff,#0023ff,#002bff,#0033ff,#003bff,#0042ff,#0045ff,#0048ff,#004cff,#004fff,#0052ff,#0054ff,#0056ff,#0058ff,#005aff,#005bff,#005dff,#005fff,#0061ff,#0064ff,#0066ff)"></i>
<i style="top:126px;height:2px;background:linear-gradient(90deg,#89ff76,#81ff7e,#76ff89,#6cff93,#5cffa3,#4cffb3,#3cffc3,#28ffd7,#14ffeb,#01fbfe,#00dbff,#00b7ff,#0096ff,#0086ff,#007aff,#006dff,#005dff,#004bff,#0039ff,#0028ff,#0017ff,#0006ff,#0000f4,#0000e3,#0000d2,#0000c5,#0000b8,#0000ae,#0000b0,#0000b5,#0000bb,#0000c8,#0000d6,#0000e4,#0000f3,#0002ff,#000fff,#0017ff,#001fff,#0026ff,#002dff,#0035ff,#003bff,#003fff,#0042ff,#0045ff,#0048ff,#004aff,#004dff,#004fff,#0051ff,#0052ff,#0054ff,#0056ff,#0057ff,#005aff,#005cff,#005eff)"></i>
<i style="top:128px;height:2px;background:linear-gradient(90deg,#83ff7c,#7bff84,#71ff8e,#66ff99,#57ffa8,#48ffb7,#39ffc6,#25ffda,#10ffef,#00f8ff,#00d4ff,#00adff,#008aff,#007aff,#006fff,#0062ff,#0051ff,#003eff,#002bff,#001bff,#000bff,#0000fa,#0000ea,#0000da,#0000cb,#0000bf,#0000b4,#0000ac,#0000ae,#0000b3,#0000ba,#0000c6,#0000d4,#0000e2,#0000f0,#0000fd,#000bff,#0013ff,#001aff,#0021ff,#0028ff,#002fff,#0035ff,#0039ff,#003cff,#003eff,#0041ff,#0043ff,#0046ff,#0048ff,#0049ff,#004bff,#004dff,#004eff,#0050ff,#0052ff,#0054ff,#0055ff)"></i>
<i style="top:130px;height:2px;background:linear-gradient(90deg,#82ff7d,#79ff86,#6fff90,#63ff9c,#54ffab,#44ffbb,#34ffcb,#1fffe0,#0afff5,#00f1ff,#00cbff,#00a3ff,#007fff,#006eff,#0062ff,#0055ff,#0043ff,#0030ff,#001dff,#000eff,#0001fd,#0000ef,#0000e1,#0000d2,#0000c4,#0000ba,#0000b0,#0000a9,#0000ac,#0000b2,#0000b8,#0000c5,#0000d2,#0000df,#0000ed,#0000fa,#0008ff,#000fff,#0016ff,#001cff,#0023ff,#002aff,#002fff,#0033ff,#0035ff,#0038ff,#003aff,#003cff,#003fff,#0040ff,#0042ff,#0044ff,#0045ff,#0047ff,#0049ff,#004aff,#004cff,#004dff)"></i>
<i style="top:132px;height:2px;background:linear-gradient(90deg,#86ff79,#7cff83,#71ff8e,#64ff9b,#53ffac,#40ffbf,#2dffd2,#17ffe8,#02fefd,#00e6ff,#00c0ff,#0097ff,#0072ff,#0060ff,#0053ff,#0045ff,#0033ff,#0021ff,#000fff,#0002fe,#0000f2,#0000e4,#0000d7,#0000c9,#0000bd,#0000b4,#0000ac,#0000a7,#0000aa,#0000b0,#0000b7,#0000c3,#0000d0,#0000dd,#0000ea,#0000f7,#0004ff,#000bff,#0011ff,#0018ff,#001eff,#0024ff,#0029ff,#002cff,#002fff,#0031ff,#0033ff,#0035ff,#0037ff,#0039ff,#003bff,#003dff,#003eff,#0040ff,#0042ff,#0043ff,#0044ff,#0045ff)"></i>
<i style="top:134px;height:2px;background:linear-gradient(90deg,#8aff75,#80ff7f,#74ff8b,#66ff99,#52ffad,#3dffc2,#26ffd9,#0efff1,#00f5ff,#00daff,#00b4ff,#008bff,#0066ff,#0053ff,#0044ff,#0035ff,#0024ff,#0012ff,#0002fd,#0000f2,#0000e6,#0000da,#0000cd,#0000c1,#0000b6,#0000af,#0000a8,#0000a4,#0000a8,#0000af,#0000b6,#0000c1,#0000ce,#0000db,#0000e7,#0000f4,#0001ff,#0007ff,#000dff,#0013ff,#0018ff,#001eff,#0023ff,#0026ff,#0028ff,#002aff,#002cff,#002eff,#0030ff,#0032ff,#0034ff,#0035ff,#0037ff,#0039ff,#003aff,#003bff,#003cff,#003cff)"></i>
<i style="top:136px;height:2px;background:linear-gradient(90deg,#8eff71,#83ff7c,#76ff89,#68ff97,#51ffae,#39ffc6,#20ffdf,#06fff9,#00ebff,#00ceff,#00a8ff,#007fff,#005aff,#0046ff,#0036ff,#0026ff,#0015ff,#0004fe,#0000f2,#0000e5,#0000da,#0000cf,#0000c4,#0000b9,#0000af,#0000a9,#0000a5,#0000a2,#0000a7,#0000ad,#0000b4,#0000c0,#0000cc,#0000d8,#0000e4,#0000f1,#0000fc,#0003ff,#0009ff,#000eff,#0013ff,#0019ff,#001eff,#0020ff,#0022ff,#0024ff,#0026ff,#0027ff,#0029ff,#002bff,#002dff,#002eff,#0030ff,#0032ff,#0033ff,#0034ff,#0034ff,#0034ff)"></i>
<i style="top:138px;height:2px;background:linear-gradient(90deg,#8fff70,#84ff7b,#77ff88,#67ff98,#4fffb0,#34ffcb,#1affe5,#01fcfe,#00e1ff,#00c4ff,#009dff,#0073ff,#004eff,#0039ff,#0029ff,#0019ff,#0008ff,#0000f7,#0000e7,#0000dc,#0000d1,#0000c7,#0000bd,#0000b3,#0000aa,#0000a5,#0000a2,#0000a1,#0000a5,#0000ac,#0000b3,#0000be,#0000ca,#0000d6,#0000e2,#0000ee,#0000f9,#0000fe,#0005ff,#000aff,#000fff,#0015ff,#0019ff,#001bff,#001dff,#001fff,#0021ff,#0022ff,#0024ff,#0026ff,#0027ff,#0029ff,#002bff,#002dff,#002eff,#002eff,#002eff,#002eff)"></i>
<i style="top:140px;height:2px;background:linear-gradient(90deg,#8cff73,#81ff7e,#73ff8c,#64ff9b,#4bffb4,#30ffcf,#14ffeb,#00f6ff,#00d9ff,#00baff,#0092ff,#0068ff,#0042ff,#002eff,#001eff,#000fff,#0001fe,#0000ef,#0000e0,#0000d6,#0000cc,#0000c2,#0000b9,#0000af,#0000a6,#0000a3,#0000a2,#0000a1,#0000a5,#0000aa,#0000b1,#0000bb,#0000c7,#0000d3,#0000df,#0000eb,#0000f6,#0000fc,#0002ff,#0007ff,#000cff,#0012ff,#0016ff,#0018ff,#001aff,#001cff,#001dff,#001fff,#0021ff,#0022ff,#0024ff,#0026ff,#0028ff,#0029ff,#002bff,#002bff,#002bff,#002bff)"></i>
<i style="top:142px;height:2px;background:linear-gradient(90deg,#87ff78,#7cff83,#6eff91,#5fffa0,#46ffb9,#2bffd4,#0ffff0,#00f0ff,#00d1ff,#00b0ff,#0088ff,#005dff,#0036ff,#0023ff,#0015ff,#0006ff,#0000f7,#0000e9,#0000db,#0000d1,#0000c8,#0000bf,#0000b5,#0000ac,#0000a4,#0000a2,#0000a1,#0000a2,#0000a5,#0000a9,#0000ae,#0000b9,#0000c5,#0000d1,#0000dd,#0000e9,#0000f4,#0000fa,#0000fe,#0005ff,#000aff,#000fff,#0014ff,#0016ff,#0017ff,#0019ff,#001bff,#001dff,#001eff,#0020ff,#0022ff,#0023ff,#0025ff,#0027ff,#0028ff,#0028ff,#0028ff,#0028ff)"></i>
<i style="top:144px;height:2px;background:linear-gradient(90deg,#83ff7c,#77ff88,#6aff95,#5affa5,#42ffbd,#26ffd9,#0afff5,#00eaff,#00c9ff,#00a7ff,#007eff,#0052ff,#002bff,#0019ff,#000cff,#0000fd,#0000f0,#0000e3,#0000d7,#0000cd,#0000c4,#0000bb,#0000b2,#0000a9,#0000a2,#0000a1,#0000a2,#0000a2,#0000a5,#0000a8,#0000ac,#0000b7,#0000c3,#0000cf,#0000db,#0000e7,#0000f1,#0000f7,#0000fc,#0003ff,#0008ff,#000dff,#0011ff,#0013ff,#0015ff,#0017ff,#0019ff,#001aff,#001cff,#001eff,#001fff,#0021ff,#0023ff,#0025ff,#0026ff,#0026ff,#0026ff,#0026ff)"></i>
<i style="top:146px;height:1px;background:linear-gradient(90deg,#80ff7f,#75ff8a,#67ff98,#58ffa7,#3fffc0,#24ffdb,#08fff7,#00e6ff,#00c5ff,#00a2ff,#0078ff,#004cff,#0025ff,#0013ff,#0006ff,#0000f9,#0000ed,#0000e0,#0000d4,#0000cb,#0000c2,#0000b9,#0000b1,#0000a8,#0000a1,#0000a0,#0000a2,#0000a3,#0000a5,#0000a7,#0000ab,#0000b6,#0000c1,#0000cd,#0000d9,#0000e5,#0000f0,#0000f6,#0000fb,#0001ff,#0006ff,#000cff,#0010ff,#0012ff,#0014ff,#0016ff,#0017ff,#0019ff,#001bff,#001cff,#001eff,#0020ff,#0022ff,#0023ff,#0025ff,#0025ff,#0025ff,#0025ff)"></i>
</div>
<div class="cb" style="left:275.80px;top:7.40px;width:12.20px;height:168.30px;background:linear-gradient(180deg,#000080,#00009f,#0000bf,#0000df,#0000ff,#0020ff,#0040ff,#0060ff,#0080ff,#009fff,#00bfff,#00dfff,#00ffff,#20ffdf,#40ffbf,#60ff9f,#80ff80,#9fff60,#bfff40,#dfff20,#ffff00,#ffdf00,#ffbf00,#ff9f00,#ff8000,#ff6000,#ff4000,#ff2000,#ff0000,#df0000,#bf0000,#9f0000,#800000)"></div>
<div class="f" style="left:395px;top:21px;width:227px;height:147px;clip-path:polygon(0.9px 30.7px,6.9px 30.7px,6.9px 29.0px,12.9px 29.0px,12.9px 27.2px,19.0px 27.2px,19.0px 25.4px,25.0px 25.4px,25.0px 23.7px,31.0px 23.7px,31.0px 21.9px,37.0px 21.9px,37.0px 20.2px,43.0px 20.2px,43.0px 18.4px,49.0px 18.4px,49.0px 16.6px,55.0px 16.6px,55.0px 14.9px,61.1px 14.9px,61.1px 13.1px,67.1px 13.1px,67.1px 11.3px,73.1px 11.3px,73.1px 9.6px,79.1px 9.6px,79.1px 7.8px,85.1px 7.8px,85.1px 6.0px,91.1px 6.0px,91.1px 4.3px,97.1px 4.3px,97.1px 2.5px,103.1px 2.5px,103.1px 0.8px,109.2px 0.8px,109.2px 0.8px,226.3px 0.8px,226.3px 146.9px,64.2px 146.9px,64.2px 144.3px,40.0px 144.3px,40.0px 142.6px,15.1px 142.6px,15.1px 140.5px,0.9px 140.5px)">
<i style="top:0px;height:2px;background:linear-gradient(90deg,#ffee00,#ffee00,#ffee00,#ffee00,#ffee00,#ffee00,#ffee00,#ffee00,#ffee00,#ffee00,#ffee00,#ffee00,#ffef00,#ffef00,#ffef00,#ffef00,#ffef00,#ffef00,#ffef00,#ffef00,#ffef00,#ffef00,#ffef00,#fff000,#fff000,#fff000,#fff000,#ffef00,#ffec00,#ffe900,#ffe500,#ffe000,#ffda00,#ffd500,#ffd000,#ffca00,#ffc300,#ffb700,#ffa900,#ff9c00,#ff8e00,#ff8100,#ff7400,#ff6900,#ff5f00,#ff5500,#ff4b00,#ff4100,#ff3700,#ff2e00,#ff2600,#ff1d00,#ff1500,#ff0c00,#ff0600,#ff0600,#ff0600,#ff0600)"></i>
<i style="top:2px;height:2px;background:linear-gradient(90deg,#ffec00,#ffec00,#ffec00,#ffec00,#ffec00,#ffec00,#ffec00,#ffec00,#ffec00,#ffec00,#ffec00,#ffec00,#ffec00,#ffec00,#ffec00,#ffed00,#ffed00,#ffed00,#ffed00,#ffee00,#ffee00,#ffee00,#ffef00,#ffef00,#fff000,#ffef00,#ffef00,#ffef00,#ffec00,#ffe900,#ffe500,#ffdf00,#ffd900,#ffd300,#ffcd00,#ffc700,#ffc000,#ffb400,#ffa700,#ff9a00,#ff8d00,#ff8000,#ff7300,#ff6900,#ff5f00,#ff5500,#ff4b00,#ff4100,#ff3700,#ff2e00,#ff2600,#ff1e00,#ff1500,#ff0d00,#ff0700,#ff0600,#ff0600,#ff0600)"></i>
<i style="top:4px;height:2px;background:linear-gradient(90deg,#ffe900,#ffe900,#ffe900,#ffe900,#ffe900,#ffe900,#ffe900,#ffe900,#ffe900,#ffe900,#ffe900,#ffe900,#ffe900,#ffe900,#ffea00,#ffea00,#ffea00,#ffeb00,#ffeb00,#ffec00,#ffed00,#ffed00,#ffee00,#ffef00,#fff000,#ffef00,#ffef00,#ffee00,#ffeb00,#ffe800,#ffe500,#ffde00,#ffd800,#ffd100,#ffcb00,#ffc400,#ffbc00,#ffb000,#ffa400,#ff9700,#ff8b00,#ff7e00,#ff7200,#ff6800,#ff5e00,#ff5400,#ff4a00,#ff4000,#ff3700,#ff2f00,#ff2600,#ff1e00,#ff1600,#ff0e00,#ff0800,#ff0700,#ff0700,#ff0700)"></i>
<i style="top:6px;height:2px;background:linear-gradient(90deg,#ffe600,#ffe600,#ffe600,#ffe600,#ffe600,#ffe600,#ffe600,#ffe600,#ffe600,#ffe600,#ffe600,#ffe600,#ffe600,#ffe600,#ffe700,#ffe700,#ffe800,#ffe900,#ffe900,#ffea00,#ffeb00,#ffec00,#ffee00,#ffef00,#ffef00,#ffef00,#ffef00,#ffee00,#ffeb00,#ffe800,#ffe500,#ffde00,#ffd600,#ffcf00,#ffc800,#ffc000,#ffb800,#ffad00,#ffa100,#ff9500,#ff8900,#ff7d00,#ff7100,#ff6700,#ff5d00,#ff5400,#ff4a00,#ff4000,#ff3700,#ff2f00,#ff2700,#ff1f00,#ff1700,#ff0f00,#ff0900,#ff0800,#ff0800,#ff0800)"></i>
<i style="top:8px;height:2px;background:linear-gradient(90deg,#ffe300,#ffe300,#ffe300,#ffe300,#ffe300,#ffe300,#ffe300,#ffe300,#ffe300,#ffe300,#ffe300,#ffe300,#ffe300,#ffe300,#ffe400,#ffe500,#ffe600,#ffe600,#ffe700,#ffe800,#ffea00,#ffeb00,#ffed00,#ffee00,#ffef00,#ffef00,#ffee00,#ffed00,#ffeb00,#ffe800,#ffe400,#ffdd00,#ffd500,#ffcd00,#ffc500,#ffbd00,#ffb400,#ffa900,#ff9e00,#ff9200,#ff8700,#ff7b00,#ff7000,#ff6600,#ff5d00,#ff5300,#ff4a00,#ff4000,#ff3700,#ff2f00,#ff2700,#ff1f00,#ff1800,#ff1000,#ff0a00,#ff0900,#ff0900,#ff0900)"></i>
<i style="top:10px;height:2px;background:linear-gradient(90deg,#ffe000,#ffe000,#ffe000,#ffe000,#ffe000,#ffe000,#ffe000,#ffe000,#ffe000,#ffe000,#ffe000,#ffe000,#ffe000,#ffe000,#ffe100,#ffe200,#ffe300,#ffe400,#ffe500,#ffe700,#ffe900,#ffea00,#ffec00,#ffee00,#ffef00,#ffef00,#ffee00,#ffed00,#ffea00,#ffe800,#ffe400,#ffdc00,#ffd400,#ffcb00,#ffc200,#ffb900,#ffb000,#ffa500,#ff9a00,#ff8f00,#ff8500,#ff7a00,#ff6f00,#ff6500,#ff5c00,#ff5300,#ff4900,#ff4000,#ff3700,#ff2f00,#ff2800,#ff2000,#ff1800,#ff1100,#ff0b00,#ff0a00,#ff0a00,#ff0a00)"></i>
<i style="top:12px;height:2px;background:linear-gradient(90deg,#ffdc00,#ffdc00,#ffdc00,#ffdc00,#ffdc00,#ffdc00,#ffdc00,#ffdc00,#ffdc00,#ffdc00,#ffdc00,#ffdc00,#ffdd00,#ffdd00,#ffdf00,#ffe000,#ffe100,#ffe200,#ffe300,#ffe500,#ffe700,#ffe900,#ffeb00,#ffee00,#ffef00,#ffef00,#ffee00,#ffec00,#ffea00,#ffe800,#ffe400,#ffdc00,#ffd200,#ffc900,#ffbf00,#ffb600,#ffac00,#ffa200,#ff9700,#ff8d00,#ff8200,#ff7800,#ff6e00,#ff6500,#ff5b00,#ff5200,#ff4900,#ff4000,#ff3700,#ff2f00,#ff2800,#ff2100,#ff1900,#ff1200,#ff0c00,#ff0c00,#ff0c00,#ff0c00)"></i>
<i style="top:14px;height:2px;background:linear-gradient(90deg,#ffd900,#ffd900,#ffd900,#ffd900,#ffd900,#ffd900,#ffd900,#ffd900,#ffd900,#ffd900,#ffd900,#ffd900,#ffd900,#ffda00,#ffdc00,#ffdd00,#ffde00,#ffdf00,#ffe100,#ffe300,#ffe600,#ffe800,#ffeb00,#ffed00,#ffef00,#ffee00,#ffed00,#ffec00,#ffea00,#ffe800,#ffe400,#ffdb00,#ffd100,#ffc600,#ffbc00,#ffb200,#ffa800,#ff9e00,#ff9400,#ff8a00,#ff8000,#ff7700,#ff6d00,#ff6400,#ff5b00,#ff5200,#ff4900,#ff4000,#ff3700,#ff3000,#ff2800,#ff2100,#ff1a00,#ff1300,#ff0d00,#ff0d00,#ff0d00,#ff0d00)"></i>
<i style="top:16px;height:2px;background:linear-gradient(90deg,#ffd600,#ffd600,#ffd600,#ffd600,#ffd600,#ffd600,#ffd600,#ffd600,#ffd600,#ffd600,#ffd600,#ffd600,#ffd600,#ffd700,#ffd900,#ffda00,#ffdc00,#ffdd00,#ffdf00,#ffe100,#ffe400,#ffe700,#ffea00,#ffed00,#ffef00,#ffee00,#ffed00,#ffeb00,#ffe900,#ffe700,#ffe400,#ffda00,#ffcf00,#ffc400,#ffb900,#ffaf00,#ffa400,#ff9b00,#ff9100,#ff8800,#ff7e00,#ff7500,#ff6c00,#ff6300,#ff5a00,#ff5100,#ff4800,#ff4000,#ff3700,#ff3000,#ff2900,#ff2200,#ff1b00,#ff1300,#ff0e00,#ff0e00,#ff0e00,#ff0e00)"></i>
<i style="top:18px;height:2px;background:linear-gradient(90deg,#ffd300,#ffd300,#ffd300,#ffd300,#ffd300,#ffd300,#ffd300,#ffd300,#ffd300,#ffd300,#ffd300,#ffd300,#ffd300,#ffd400,#ffd600,#ffd800,#ffd900,#ffdb00,#ffdd00,#ffe000,#ffe300,#ffe600,#ffe900,#ffec00,#ffef00,#ffee00,#ffec00,#ffeb00,#ffe900,#ffe700,#ffe300,#ffd900,#ffce00,#ffc200,#ffb700,#ffab00,#ffa000,#ff9700,#ff8e00,#ff8500,#ff7c00,#ff7300,#ff6b00,#ff6200,#ff5900,#ff5100,#ff4800,#ff4000,#ff3700,#ff3000,#ff2900,#ff2200,#ff1c00,#ff1500,#ff1000,#ff0f00,#ff0f00,#ff0f00)"></i>
<i style="top:20px;height:2px;background:linear-gradient(90deg,#ffd000,#ffd000,#ffd000,#ffd000,#ffd000,#ffd000,#ffd000,#ffcf00,#ffcf00,#ffcf00,#ffcf00,#ffcf00,#ffcf00,#ffd100,#ffd200,#ffd400,#ffd600,#ffd800,#ffda00,#ffdd00,#ffe100,#ffe400,#ffe700,#ffeb00,#ffee00,#ffed00,#ffeb00,#ffe900,#ffe800,#ffe600,#ffe200,#ffd800,#ffcc00,#ffc000,#ffb400,#ffa800,#ff9d00,#ff9400,#ff8c00,#ff8300,#ff7b00,#ff7200,#ff6a00,#ff6100,#ff5900,#ff5100,#ff4900,#ff4000,#ff3900,#ff3200,#ff2b00,#ff2400,#ff1d00,#ff1700,#ff1200,#ff1100,#ff1100,#ff1100)"></i>
<i style="top:22px;height:2px;background:linear-gradient(90deg,#ffce00,#ffcd00,#ffcd00,#ffcd00,#ffcd00,#ffcc00,#ffcc00,#ffcc00,#ffcb00,#ffcb00,#ffcb00,#ffcb00,#ffcb00,#ffcc00,#ffce00,#ffd000,#ffd200,#ffd400,#ffd600,#ffda00,#ffde00,#ffe100,#ffe500,#ffe900,#ffeb00,#ffeb00,#ffe900,#ffe700,#ffe500,#ffe400,#ffe000,#ffd500,#ffc900,#ffbd00,#ffb200,#ffa600,#ff9a00,#ff9200,#ff8900,#ff8100,#ff7900,#ff7100,#ff6900,#ff6100,#ff5900,#ff5100,#ff4a00,#ff4200,#ff3b00,#ff3400,#ff2d00,#ff2700,#ff2000,#ff1a00,#ff1500,#ff1400,#ff1400,#ff1400)"></i>
<i style="top:24px;height:2px;background:linear-gradient(90deg,#ffcb00,#ffcb00,#ffca00,#ffca00,#ffc900,#ffc900,#ffc800,#ffc800,#ffc700,#ffc700,#ffc600,#ffc600,#ffc600,#ffc800,#ffca00,#ffcc00,#ffce00,#ffd000,#ffd300,#ffd600,#ffda00,#ffde00,#ffe200,#ffe600,#ffe900,#ffe800,#ffe600,#ffe500,#ffe300,#ffe100,#ffde00,#ffd300,#ffc700,#ffbb00,#ffaf00,#ffa300,#ff9800,#ff8f00,#ff8700,#ff7f00,#ff7700,#ff6f00,#ff6700,#ff6000,#ff5900,#ff5200,#ff4b00,#ff4400,#ff3d00,#ff3700,#ff3000,#ff2a00,#ff2400,#ff1d00,#ff1900,#ff1800,#ff1800,#ff1800)"></i>
<i style="top:26px;height:2px;background:linear-gradient(90deg,#ffc900,#ffc800,#ffc800,#ffc700,#ffc600,#ffc500,#ffc500,#ffc400,#ffc300,#ffc300,#ffc200,#ffc100,#ffc100,#ffc300,#ffc500,#ffc800,#ffca00,#ffcd00,#ffcf00,#ffd300,#ffd700,#ffdb00,#ffdf00,#ffe300,#ffe700,#ffe600,#ffe400,#ffe200,#ffe100,#ffdf00,#ffdb00,#ffd100,#ffc500,#ffb900,#ffad00,#ffa100,#ff9600,#ff8d00,#ff8500,#ff7e00,#ff7600,#ff6e00,#ff6600,#ff6000,#ff5900,#ff5300,#ff4c00,#ff4600,#ff3f00,#ff3900,#ff3300,#ff2d00,#ff2700,#ff2100,#ff1c00,#ff1c00,#ff1c00,#ff1c00)"></i>
<i style="top:28px;height:2px;background:linear-gradient(90deg,#ffc600,#ffc600,#ffc500,#ffc400,#ffc300,#ffc200,#ffc100,#ffc000,#ffbf00,#ffbf00,#ffbe00,#ffbd00,#ffbc00,#ffbe00,#ffc100,#ffc300,#ffc600,#ffc900,#ffcc00,#ffd000,#ffd400,#ffd800,#ffdd00,#ffe100,#ffe400,#ffe300,#ffe200,#ffe000,#ffde00,#ffdc00,#ffd900,#ffce00,#ffc200,#ffb600,#ffaa00,#ff9e00,#ff9300,#ff8b00,#ff8300,#ff7c00,#ff7400,#ff6c00,#ff6500,#ff5f00,#ff5900,#ff5300,#ff4e00,#ff4800,#ff4200,#ff3c00,#ff3600,#ff3000,#ff2a00,#ff2400,#ff2000,#ff1f00,#ff1f00,#ff1f00)"></i>
<i style="top:30px;height:2px;background:linear-gradient(90deg,#ffc400,#ffc300,#ffc200,#ffc100,#ffc000,#ffbf00,#ffbe00,#ffbc00,#ffbb00,#ffba00,#ffb900,#ffb800,#ffb800,#ffba00,#ffbc00,#ffbf00,#ffc200,#ffc500,#ffc800,#ffcc00,#ffd100,#ffd500,#ffda00,#ffde00,#ffe200,#ffe100,#ffdf00,#ffdd00,#ffdc00,#ffda00,#ffd600,#ffcc00,#ffc000,#ffb400,#ffa800,#ff9c00,#ff9100,#ff8900,#ff8100,#ff7a00,#ff7300,#ff6b00,#ff6400,#ff5f00,#ff5900,#ff5400,#ff4f00,#ff4a00,#ff4400,#ff3f00,#ff3900,#ff3300,#ff2d00,#ff2800,#ff2300,#ff2300,#ff2300,#ff2300)"></i>
<i style="top:32px;height:2px;background:linear-gradient(90deg,#ffc100,#ffc000,#ffbf00,#ffbe00,#ffbd00,#ffbb00,#ffba00,#ffb900,#ffb700,#ffb600,#ffb500,#ffb300,#ffb300,#ffb500,#ffb800,#ffbb00,#ffbe00,#ffc100,#ffc400,#ffc900,#ffcd00,#ffd200,#ffd700,#ffdc00,#ffdf00,#ffde00,#ffdd00,#ffdb00,#ffd900,#ffd800,#ffd400,#ffc900,#ffbd00,#ffb100,#ffa500,#ff9a00,#ff8f00,#ff8700,#ff7f00,#ff7800,#ff7100,#ff6a00,#ff6300,#ff5e00,#ff5900,#ff5500,#ff5000,#ff4c00,#ff4700,#ff4100,#ff3c00,#ff3600,#ff3100,#ff2b00,#ff2700,#ff2700,#ff2700,#ff2700)"></i>
<i style="top:34px;height:2px;background:linear-gradient(90deg,#ffbf00,#ffbe00,#ffbc00,#ffbb00,#ffb900,#ffb800,#ffb600,#ffb500,#ffb300,#ffb200,#ffb000,#ffaf00,#ffae00,#ffb000,#ffb400,#ffb700,#ffba00,#ffbd00,#ffc100,#ffc500,#ffca00,#ffcf00,#ffd400,#ffd900,#ffdd00,#ffdc00,#ffda00,#ffd900,#ffd700,#ffd500,#ffd200,#ffc700,#ffbb00,#ffaf00,#ffa300,#ff9700,#ff8c00,#ff8500,#ff7e00,#ff7700,#ff7000,#ff6900,#ff6200,#ff5e00,#ff5a00,#ff5600,#ff5200,#ff4e00,#ff4900,#ff4400,#ff3f00,#ff3900,#ff3400,#ff2f00,#ff2b00,#ff2a00,#ff2a00,#ff2a00)"></i>
<i style="top:36px;height:2px;background:linear-gradient(90deg,#ffbd00,#ffbc00,#ffba00,#ffb900,#ffb700,#ffb500,#ffb300,#ffb200,#ffb000,#ffae00,#ffad00,#ffab00,#ffaa00,#ffac00,#ffb000,#ffb300,#ffb600,#ffba00,#ffbd00,#ffc200,#ffc700,#ffcc00,#ffd100,#ffd600,#ffda00,#ffda00,#ffd800,#ffd700,#ffd500,#ffd400,#ffd000,#ffc600,#ffba00,#ffae00,#ffa200,#ff9700,#ff8c00,#ff8500,#ff7e00,#ff7700,#ff7000,#ff6900,#ff6300,#ff5f00,#ff5c00,#ff5800,#ff5400,#ff5100,#ff4d00,#ff4800,#ff4300,#ff3e00,#ff3800,#ff3300,#ff3000,#ff2f00,#ff2f00,#ff2f00)"></i>
<i style="top:38px;height:2px;background:linear-gradient(90deg,#ffbd00,#ffbb00,#ffb900,#ffb700,#ffb500,#ffb300,#ffb200,#ffb000,#ffae00,#ffac00,#ffaa00,#ffa800,#ffa700,#ffa900,#ffac00,#ffb000,#ffb300,#ffb600,#ffba00,#ffbe00,#ffc400,#ffc900,#ffce00,#ffd400,#ffd800,#ffd800,#ffd700,#ffd600,#ffd500,#ffd300,#ffd000,#ffc600,#ffbb00,#ffb000,#ffa400,#ff9900,#ff8f00,#ff8800,#ff8100,#ff7b00,#ff7400,#ff6e00,#ff6800,#ff6400,#ff6100,#ff5d00,#ff5900,#ff5600,#ff5200,#ff4d00,#ff4800,#ff4400,#ff3f00,#ff3a00,#ff3700,#ff3600,#ff3600,#ff3600)"></i>
<i style="top:40px;height:2px;background:linear-gradient(90deg,#ffbc00,#ffbb00,#ffb900,#ffb700,#ffb400,#ffb200,#ffb000,#ffae00,#ffac00,#ffaa00,#ffa800,#ffa600,#ffa400,#ffa600,#ffa900,#ffac00,#ffb000,#ffb300,#ffb600,#ffbb00,#ffc100,#ffc600,#ffcc00,#ffd100,#ffd600,#ffd600,#ffd600,#ffd500,#ffd400,#ffd400,#ffd200,#ffc800,#ffbd00,#ffb300,#ffa800,#ff9d00,#ff9300,#ff8d00,#ff8700,#ff8100,#ff7a00,#ff7400,#ff6f00,#ff6b00,#ff6700,#ff6300,#ff5f00,#ff5c00,#ff5800,#ff5300,#ff4f00,#ff4b00,#ff4600,#ff4200,#ff3f00,#ff3f00,#ff3f00,#ff3f00)"></i>
<i style="top:42px;height:2px;background:linear-gradient(90deg,#ffbc00,#ffbb00,#ffb800,#ffb600,#ffb400,#ffb100,#ffaf00,#ffad00,#ffaa00,#ffa800,#ffa600,#ffa400,#ffa200,#ffa400,#ffa700,#ffa900,#ffac00,#ffaf00,#ffb200,#ffb800,#ffbd00,#ffc300,#ffc900,#ffcf00,#ffd300,#ffd400,#ffd400,#ffd400,#ffd500,#ffd500,#ffd300,#ffca00,#ffc000,#ffb600,#ffab00,#ffa100,#ff9800,#ff9200,#ff8c00,#ff8700,#ff8100,#ff7b00,#ff7600,#ff7200,#ff6e00,#ff6a00,#ff6600,#ff6200,#ff5e00,#ff5a00,#ff5600,#ff5200,#ff4e00,#ff4a00,#ff4700,#ff4700,#ff4700,#ff4700)"></i>
<i style="top:44px;height:2px;background:linear-gradient(90deg,#ffbc00,#ffba00,#ffb800,#ffb500,#ffb300,#ffb000,#ffae00,#ffab00,#ffa900,#ffa600,#ffa400,#ffa100,#ffa000,#ffa100,#ffa400,#ffa600,#ffa900,#ffac00,#ffaf00,#ffb400,#ffba00,#ffc000,#ffc600,#ffcc00,#ffd100,#ffd200,#ffd300,#ffd400,#ffd500,#ffd500,#ffd400,#ffcc00,#ffc200,#ffb900,#ffaf00,#ffa600,#ff9d00,#ff9700,#ff9200,#ff8d00,#ff8700,#ff8200,#ff7d00,#ff7900,#ff7500,#ff7000,#ff6c00,#ff6800,#ff6400,#ff6000,#ff5d00,#ff5900,#ff5600,#ff5200,#ff5000,#ff4f00,#ff4f00,#ff4f00)"></i>
<i style="top:46px;height:2px;background:linear-gradient(90deg,#ffbc00,#ffba00,#ffb800,#ffb500,#ffb200,#ffaf00,#ffad00,#ffaa00,#ffa700,#ffa500,#ffa200,#ff9f00,#ff9d00,#ff9f00,#ffa100,#ffa300,#ffa600,#ffa800,#ffab00,#ffb100,#ffb700,#ffbd00,#ffc300,#ffc900,#ffcf00,#ffd100,#ffd200,#ffd300,#ffd500,#ffd600,#ffd500,#ffce00,#ffc500,#ffbc00,#ffb300,#ffaa00,#ffa200,#ff9c00,#ff9800,#ff9300,#ff8e00,#ff8900,#ff8400,#ff8000,#ff7b00,#ff7700,#ff7300,#ff6e00,#ff6a00,#ff6700,#ff6400,#ff6100,#ff5e00,#ff5a00,#ff5800,#ff5800,#ff5800,#ff5800)"></i>
<i style="top:48px;height:2px;background:linear-gradient(90deg,#ffbc00,#ffba00,#ffb700,#ffb400,#ffb100,#ffae00,#ffac00,#ffa900,#ffa600,#ffa300,#ffa000,#ff9d00,#ff9b00,#ff9c00,#ff9e00,#ffa000,#ffa300,#ffa500,#ffa800,#ffad00,#ffb400,#ffba00,#ffc000,#ffc700,#ffcc00,#ffcf00,#ffd100,#ffd300,#ffd500,#ffd600,#ffd700,#ffcf00,#ffc700,#ffbf00,#ffb600,#ffae00,#ffa700,#ffa200,#ff9d00,#ff9900,#ff9400,#ff9000,#ff8c00,#ff8700,#ff8200,#ff7e00,#ff7900,#ff7400,#ff7000,#ff6d00,#ff6b00,#ff6800,#ff6500,#ff6300,#ff6100,#ff6000,#ff6000,#ff6000)"></i>
<i style="top:50px;height:2px;background:linear-gradient(90deg,#ffbc00,#ffba00,#ffb700,#ffb400,#ffb100,#ffad00,#ffaa00,#ffa700,#ffa400,#ffa100,#ff9e00,#ff9b00,#ff9800,#ff9900,#ff9b00,#ff9d00,#ffa000,#ffa200,#ffa400,#ffaa00,#ffb100,#ffb700,#ffbe00,#ffc400,#ffca00,#ffcd00,#ffd000,#ffd200,#ffd500,#ffd700,#ffd800,#ffd100,#ffca00,#ffc200,#ffba00,#ffb200,#ffab00,#ffa700,#ffa300,#ff9f00,#ff9b00,#ff9700,#ff9300,#ff8e00,#ff8900,#ff8400,#ff8000,#ff7b00,#ff7600,#ff7400,#ff7200,#ff6f00,#ff6d00,#ff6b00,#ff6900,#ff6900,#ff6900,#ff6900)"></i>
<i style="top:52px;height:2px;background:linear-gradient(90deg,#ffbd00,#ffba00,#ffb700,#ffb300,#ffb000,#ffad00,#ffaa00,#ffa600,#ffa300,#ffa000,#ff9c00,#ff9900,#ff9700,#ff9800,#ff9900,#ff9b00,#ff9d00,#ff9f00,#ffa200,#ffa800,#ffae00,#ffb500,#ffbc00,#ffc300,#ffc900,#ffcd00,#ffd000,#ffd300,#ffd600,#ffd900,#ffda00,#ffd400,#ffcd00,#ffc600,#ffbf00,#ffb700,#ffb100,#ffad00,#ffa900,#ffa600,#ffa200,#ff9e00,#ff9a00,#ff9500,#ff9000,#ff8b00,#ff8700,#ff8200,#ff7d00,#ff7b00,#ff7900,#ff7700,#ff7500,#ff7300,#ff7200,#ff7200,#ff7200,#ff7200)"></i>
<i style="top:54px;height:2px;background:linear-gradient(90deg,#ffbe00,#ffbb00,#ffb800,#ffb400,#ffb100,#ffae00,#ffaa00,#ffa700,#ffa300,#ffa000,#ff9d00,#ff9900,#ff9700,#ff9800,#ff9a00,#ff9c00,#ff9e00,#ffa000,#ffa200,#ffa900,#ffb000,#ffb700,#ffbe00,#ffc500,#ffcb00,#ffd000,#ffd300,#ffd700,#ffda00,#ffde00,#ffe000,#ffda00,#ffd300,#ffcc00,#ffc500,#ffbe00,#ffb800,#ffb400,#ffb100,#ffad00,#ffaa00,#ffa600,#ffa300,#ff9e00,#ff9900,#ff9400,#ff8f00,#ff8b00,#ff8700,#ff8500,#ff8300,#ff8100,#ff7f00,#ff7d00,#ff7c00,#ff7c00,#ff7c00,#ff7c00)"></i>
<i style="top:56px;height:2px;background:linear-gradient(90deg,#ffc000,#ffbd00,#ffba00,#ffb700,#ffb300,#ffb000,#ffac00,#ffa900,#ffa500,#ffa200,#ff9f00,#ff9b00,#ff9900,#ff9a00,#ff9c00,#ff9f00,#ffa100,#ffa300,#ffa600,#ffad00,#ffb400,#ffbc00,#ffc300,#ffcb00,#ffd200,#ffd600,#ffda00,#ffde00,#ffe200,#ffe600,#ffe800,#ffe300,#ffdc00,#ffd500,#ffce00,#ffc700,#ffc100,#ffbd00,#ffba00,#ffb700,#ffb300,#ffb000,#ffac00,#ffa800,#ffa300,#ff9f00,#ff9a00,#ff9600,#ff9200,#ff9000,#ff8e00,#ff8d00,#ff8b00,#ff8900,#ff8800,#ff8800,#ff8800,#ff8800)"></i>
<i style="top:58px;height:2px;background:linear-gradient(90deg,#ffc200,#ffc000,#ffbc00,#ffb900,#ffb500,#ffb200,#ffaf00,#ffab00,#ffa800,#ffa400,#ffa100,#ff9e00,#ff9b00,#ff9d00,#ff9f00,#ffa200,#ffa500,#ffa800,#ffab00,#ffb200,#ffba00,#ffc200,#ffca00,#ffd200,#ffd900,#ffde00,#ffe200,#ffe700,#ffeb00,#ffef00,#fff200,#ffec00,#ffe600,#ffdf00,#ffd800,#ffd100,#ffcb00,#ffc700,#ffc400,#ffc000,#ffbd00,#ffb900,#ffb600,#ffb200,#ffae00,#ffaa00,#ffa600,#ffa100,#ff9e00,#ff9c00,#ff9a00,#ff9900,#ff9700,#ff9500,#ff9400,#ff9400,#ff9400,#ff9400)"></i>
<i style="top:60px;height:2px;background:linear-gradient(90deg,#ffc500,#ffc200,#ffbf00,#ffbb00,#ffb800,#ffb400,#ffb100,#ffae00,#ffaa00,#ffa700,#ffa300,#ffa000,#ff9d00,#ff9f00,#ffa300,#ffa600,#ffa900,#ffac00,#ffb000,#ffb700,#ffc000,#ffc800,#ffd000,#ffd800,#ffe000,#ffe500,#ffea00,#ffef00,#fff400,#fff900,#fffb00,#fff600,#ffef00,#ffe800,#ffe200,#ffdb00,#ffd500,#ffd100,#ffcd00,#ffca00,#ffc700,#ffc300,#ffc000,#ffbc00,#ffb800,#ffb500,#ffb100,#ffad00,#ffaa00,#ffa800,#ffa600,#ffa500,#ffa300,#ffa100,#ffa000,#ffa000,#ffa000,#ffa000)"></i>
<i style="top:62px;height:2px;background:linear-gradient(90deg,#ffc700,#ffc500,#ffc100,#ffbe00,#ffba00,#ffb700,#ffb300,#ffb000,#ffad00,#ffa900,#ffa600,#ffa200,#ffa000,#ffa200,#ffa600,#ffa900,#ffad00,#ffb000,#ffb500,#ffbd00,#ffc500,#ffce00,#ffd700,#ffdf00,#ffe700,#ffed00,#fff200,#fff800,#fffd00,#fcff03,#f9ff06,#fdfe02,#fff900,#fff200,#ffeb00,#ffe400,#ffde00,#ffda00,#ffd700,#ffd400,#ffd000,#ffcd00,#ffc900,#ffc600,#ffc300,#ffbf00,#ffbc00,#ffb900,#ffb600,#ffb400,#ffb200,#ffb100,#ffaf00,#ffad00,#ffac00,#ffac00,#ffac00,#ffac00)"></i>
<i style="top:64px;height:2px;background:linear-gradient(90deg,#ffca00,#ffc700,#ffc400,#ffc000,#ffbd00,#ffb900,#ffb600,#ffb200,#ffaf00,#ffac00,#ffa800,#ffa500,#ffa200,#ffa500,#ffa900,#ffad00,#ffb100,#ffb500,#ffba00,#ffc200,#ffcb00,#ffd400,#ffdd00,#ffe600,#ffef00,#fff500,#fffa00,#fdfe02,#f8ff07,#f3ff0c,#efff10,#f5ff0a,#fbff04,#fffc00,#fff500,#ffee00,#ffe800,#ffe400,#ffe100,#ffdd00,#ffda00,#ffd600,#ffd300,#ffd000,#ffcd00,#ffca00,#ffc800,#ffc500,#ffc200,#ffc000,#ffbe00,#ffbd00,#ffbb00,#ffb900,#ffb800,#ffb800,#ffb800,#ffb800)"></i>
<i style="top:66px;height:2px;background:linear-gradient(90deg,#ffcc00,#ffc900,#ffc600,#ffc300,#ffbf00,#ffbc00,#ffb800,#ffb500,#ffb100,#ffae00,#ffab00,#ffa700,#ffa500,#ffa800,#ffac00,#ffb100,#ffb500,#ffb900,#ffbe00,#ffc700,#ffd100,#ffda00,#ffe300,#ffed00,#fff600,#fffc00,#fcff03,#f6ff09,#efff10,#e9ff16,#e6ff19,#ebff14,#f2ff0d,#f9ff06,#fefe01,#fff800,#fff200,#ffee00,#ffea00,#ffe700,#ffe400,#ffe000,#ffdd00,#ffda00,#ffd800,#ffd500,#ffd300,#ffd000,#ffce00,#ffcc00,#ffcb00,#ffc900,#ffc700,#ffc500,#ffc400,#ffc400,#ffc400,#ffc400)"></i>
<i style="top:68px;height:2px;background:linear-gradient(90deg,#ffce00,#ffcc00,#ffc800,#ffc500,#ffc200,#ffbe00,#ffbb00,#ffb800,#ffb400,#ffb100,#ffad00,#ffaa00,#ffa800,#ffab00,#ffb000,#ffb500,#ffb900,#ffbe00,#ffc400,#ffcd00,#ffd700,#ffe100,#ffea00,#fff400,#fffd00,#f9ff06,#f3ff0c,#edff12,#e6ff19,#e0ff1f,#dcff23,#e1ff1e,#e8ff17,#efff10,#f5ff0a,#fcff03,#fffc00,#fff800,#fff400,#fff100,#ffed00,#ffea00,#ffe700,#ffe400,#ffe200,#ffe000,#ffde00,#ffdc00,#ffda00,#ffd800,#ffd700,#ffd500,#ffd300,#ffd100,#ffd000,#ffd000,#ffd000,#ffd000)"></i>
<i style="top:70px;height:2px;background:linear-gradient(90deg,#ffd000,#ffce00,#ffca00,#ffc700,#ffc400,#ffc100,#ffbe00,#ffbb00,#ffb800,#ffb500,#ffb200,#ffaf00,#ffae00,#ffb100,#ffb600,#ffbc00,#ffc100,#ffc600,#ffcc00,#ffd500,#ffe000,#ffea00,#fff400,#fefd01,#f6ff09,#efff10,#e8ff17,#e1ff1e,#daff25,#d4ff2b,#cfff30,#d5ff2a,#dcff23,#e2ff1d,#e9ff16,#f0ff0f,#f7ff08,#fbff04,#fdfe02,#fffc00,#fff800,#fff400,#fff100,#ffef00,#ffed00,#ffeb00,#ffe900,#ffe700,#ffe500,#ffe400,#ffe200,#ffe000,#ffde00,#ffdd00,#ffdb00,#ffdb00,#ffdb00,#ffdb00)"></i>
<i style="top:72px;height:2px;background:linear-gradient(90deg,#ffd100,#ffcf00,#ffcc00,#ffca00,#ffc800,#ffc600,#ffc300,#ffc100,#ffbf00,#ffbd00,#ffbb00,#ffb900,#ffb800,#ffbc00,#ffc200,#ffc700,#ffcd00,#ffd300,#ffd900,#ffe300,#ffed00,#fff800,#fbff04,#f0ff0f,#e6ff19,#dfff20,#d8ff27,#d1ff2e,#cbff34,#c4ff3b,#c0ff3f,#c5ff3a,#ccff33,#d3ff2c,#daff25,#e1ff1e,#e8ff17,#ecff13,#f1ff0e,#f6ff09,#faff05,#fdfe02,#fffb00,#fff900,#fff700,#fff500,#fff300,#fff100,#fff000,#ffee00,#ffec00,#ffea00,#ffe900,#ffe700,#ffe600,#ffe600,#ffe600,#ffe600)"></i>
<i style="top:74px;height:2px;background:linear-gradient(90deg,#ffd100,#ffd000,#ffce00,#ffcc00,#ffcb00,#ffca00,#ffc900,#ffc800,#ffc800,#ffc700,#ffc600,#ffc500,#ffc500,#ffca00,#ffd000,#ffd600,#ffdc00,#ffe100,#ffe800,#fff300,#fefc01,#f5ff0a,#eaff15,#dfff20,#d5ff2a,#cdff32,#c6ff39,#c0ff3f,#b9ff46,#b2ff4d,#aeff51,#b3ff4c,#baff45,#c2ff3d,#c9ff36,#d0ff2f,#d7ff28,#ddff22,#e2ff1d,#e8ff17,#edff12,#f3ff0c,#f8ff07,#faff05,#fcff03,#fdfe02,#fffd00,#fffb00,#fff900,#fff800,#fff600,#fff400,#fff200,#fff100,#ffef00,#ffef00,#ffef00,#ffef00)"></i>
<i style="top:76px;height:2px;background:linear-gradient(90deg,#ffd100,#ffd000,#ffcf00,#ffcf00,#ffcf00,#ffcf00,#ffcf00,#ffd000,#ffd000,#ffd000,#ffd100,#ffd100,#ffd200,#ffd700,#ffde00,#ffe400,#ffea00,#fff100,#fff800,#fbff04,#f0ff0f,#e4ff1b,#d9ff26,#cdff32,#c3ff3c,#bbff44,#b4ff4b,#aeff51,#a7ff58,#a0ff5f,#9cff63,#a1ff5e,#a9ff56,#b0ff4f,#b8ff47,#bfff40,#c6ff39,#cdff32,#d4ff2b,#daff25,#e1ff1e,#e7ff18,#edff12,#efff10,#f2ff0d,#f4ff0b,#f6ff09,#f9ff06,#fbff04,#fdff02,#fefe01,#fefd01,#fffc00,#fffa00,#fff900,#fff900,#fff900,#fff900)"></i>
<i style="top:78px;height:2px;background:linear-gradient(90deg,#ffd100,#ffd100,#ffd100,#ffd100,#ffd200,#ffd400,#ffd500,#ffd700,#ffd800,#ffda00,#ffdb00,#ffdd00,#ffdf00,#ffe500,#ffec00,#fff300,#fff900,#fdfe02,#f6ff09,#ebff14,#dfff20,#d3ff2c,#c8ff37,#bcff43,#b1ff4e,#a9ff56,#a2ff5d,#9bff64,#95ff6a,#8eff71,#8aff75,#8fff70,#97ff68,#9fff60,#a6ff59,#aeff51,#b6ff49,#bdff42,#c5ff3a,#ccff33,#d4ff2b,#dbff24,#e2ff1d,#e5ff1a,#e7ff18,#eaff15,#ecff13,#efff10,#f1ff0e,#f3ff0c,#f5ff0a,#f7ff08,#f8ff07,#faff05,#fbff04,#fbff04,#fbff04,#fbff04)"></i>
<i style="top:80px;height:2px;background:linear-gradient(90deg,#ffd100,#ffd200,#ffd200,#ffd300,#ffd600,#ffd800,#ffdb00,#ffde00,#ffe100,#ffe300,#ffe600,#ffe900,#ffec00,#fff300,#fffa00,#fcfe03,#f6ff09,#efff10,#e7ff18,#dbff24,#cfff30,#c3ff3c,#b6ff49,#aaff55,#9fff60,#97ff68,#90ff6f,#89ff76,#82ff7d,#7cff83,#77ff88,#7dff82,#85ff7a,#8dff72,#95ff6a,#9dff62,#a5ff5a,#adff52,#b6ff49,#bfff40,#c7ff38,#d0ff2f,#d7ff28,#daff25,#ddff22,#e0ff1f,#e2ff1d,#e5ff1a,#e8ff17,#e9ff16,#ebff14,#edff12,#efff10,#f0ff0f,#f2ff0d,#f2ff0d,#f2ff0d,#f2ff0d)"></i>
<i style="top:82px;height:2px;background:linear-gradient(90deg,#ffd100,#ffd200,#ffd400,#ffd600,#ffd900,#ffdd00,#ffe100,#ffe500,#ffe900,#ffed00,#fff100,#fff500,#fff900,#fdfe02,#f6ff09,#efff10,#e7ff18,#dfff20,#d7ff28,#cbff34,#beff41,#b2ff4d,#a5ff5a,#98ff67,#8cff73,#85ff7a,#7eff81,#77ff88,#70ff8f,#69ff96,#65ff9a,#6cff93,#74ff8b,#7cff83,#84ff7b,#8cff73,#94ff6b,#9eff61,#a7ff58,#b1ff4e,#baff45,#c4ff3b,#ccff33,#d0ff2f,#d3ff2c,#d5ff2a,#d8ff27,#dbff24,#deff21,#e0ff1f,#e1ff1e,#e3ff1c,#e5ff1a,#e7ff18,#e8ff17,#e8ff17,#e8ff17,#e8ff17)"></i>
<i style="top:84px;height:2px;background:linear-gradient(90deg,#ffd100,#ffd300,#ffd600,#ffd800,#ffdd00,#ffe200,#ffe700,#ffec00,#fff100,#fff700,#fffc00,#fdfe02,#f8ff07,#f0ff0f,#e8ff17,#e0ff1f,#d8ff27,#d0ff2f,#c7ff38,#bbff44,#aeff51,#a1ff5e,#94ff6b,#86ff79,#7aff85,#73ff8c,#6cff93,#65ff9a,#5effa1,#57ffa8,#53ffac,#5affa5,#62ff9d,#6aff95,#72ff8d,#7bff84,#83ff7c,#8eff71,#98ff67,#a3ff5c,#adff52,#b8ff47,#c1ff3e,#c5ff3a,#c8ff37,#cbff34,#ceff31,#d1ff2e,#d4ff2b,#d6ff29,#d8ff27,#d9ff26,#dbff24,#ddff22,#deff21,#deff21,#deff21,#deff21)"></i>
<i style="top:86px;height:2px;background:linear-gradient(90deg,#ffd200,#ffd400,#ffd800,#ffdb00,#ffe100,#ffe700,#ffee00,#fff400,#fffa00,#fdfe02,#f7ff08,#f1ff0e,#ebff14,#e2ff1d,#daff25,#d1ff2e,#c8ff37,#c0ff3f,#b7ff48,#aaff55,#9cff63,#8fff70,#81ff7e,#74ff8b,#67ff98,#60ff9f,#59ffa6,#52ffad,#4bffb4,#44ffbb,#40ffbf,#47ffb8,#4fffb0,#58ffa7,#60ff9f,#68ff97,#72ff8d,#7dff82,#88ff77,#93ff6c,#9fff60,#aaff55,#b4ff4b,#b8ff47,#bbff44,#bfff40,#c2ff3d,#c5ff3a,#c8ff37,#caff35,#ccff33,#ceff31,#d0ff2f,#d1ff2e,#d3ff2c,#d3ff2c,#d3ff2c,#d3ff2c)"></i>
<i style="top:88px;height:2px;background:linear-gradient(90deg,#ffd300,#ffd700,#ffdb00,#ffe000,#ffe700,#ffee00,#fff600,#fffd00,#faff05,#f3ff0c,#ecff13,#e5ff1a,#deff21,#d4ff2b,#caff35,#c1ff3e,#b7ff48,#aeff51,#a4ff5b,#96ff69,#88ff77,#7bff84,#6dff92,#5fffa0,#52ffad,#4affb5,#43ffbc,#3cffc3,#35ffca,#2effd1,#2affd5,#31ffce,#39ffc6,#42ffbd,#4bffb4,#53ffac,#5dffa2,#68ff97,#74ff8b,#80ff7f,#8cff73,#98ff67,#a2ff5d,#a6ff59,#a9ff56,#adff52,#b1ff4e,#b4ff4b,#b7ff48,#b9ff46,#bbff44,#bdff42,#bfff40,#c1ff3e,#c2ff3d,#c2ff3d,#c2ff3d,#c2ff3d)"></i>
<i style="top:90px;height:2px;background:linear-gradient(90deg,#ffd600,#ffda00,#ffe100,#ffe700,#ffef00,#fff700,#fefe01,#f7ff08,#efff10,#e7ff18,#e0ff1f,#d9ff26,#d1ff2e,#c6ff39,#bbff44,#afff50,#a4ff5b,#9aff65,#8eff71,#81ff7e,#72ff8d,#64ff9b,#56ffa9,#47ffb8,#3affc5,#32ffcd,#2bffd4,#24ffdb,#1dffe2,#15ffea,#11ffee,#18ffe7,#21ffde,#2affd5,#33ffcc,#3cffc3,#45ffba,#51ffae,#5dffa2,#69ff96,#75ff8a,#81ff7e,#8bff74,#8fff70,#93ff6c,#97ff68,#9aff65,#9eff61,#a2ff5d,#a4ff5b,#a6ff59,#a8ff57,#aaff55,#acff53,#adff52,#aeff51,#aeff51,#aeff51)"></i>
<i style="top:92px;height:2px;background:linear-gradient(90deg,#ffd800,#ffde00,#ffe600,#ffee00,#fff700,#fefe01,#f6ff09,#edff12,#e4ff1b,#dbff24,#d4ff2b,#cdff32,#c5ff3a,#b8ff47,#abff54,#9dff62,#91ff6e,#85ff7a,#79ff86,#6bff94,#5cffa3,#4dffb2,#3effc1,#30ffcf,#22ffdd,#1affe5,#12ffed,#0bfff4,#05fefa,#01fafe,#00f7ff,#03fbfc,#08fff7,#11ffee,#1affe5,#23ffdc,#2dffd2,#39ffc6,#45ffba,#51ffae,#5dffa2,#68ff97,#73ff8c,#77ff88,#7bff84,#7fff80,#83ff7c,#87ff78,#8bff74,#8dff72,#8fff70,#91ff6e,#94ff6b,#96ff69,#98ff67,#98ff67,#98ff67,#98ff67)"></i>
<i style="top:94px;height:2px;background:linear-gradient(90deg,#ffdc00,#ffe300,#ffec00,#fff500,#fefe01,#f6ff09,#ecff13,#e2ff1d,#d8ff27,#cfff30,#c7ff38,#c0ff3f,#b8ff47,#aaff55,#9aff65,#8bff74,#7eff81,#71ff8e,#63ff9c,#55ffaa,#45ffba,#36ffc9,#27ffd8,#18ffe7,#0afff5,#04fdfb,#00f9ff,#00f1ff,#00e9ff,#00e2ff,#00deff,#00e5ff,#00eeff,#00f7ff,#04fdfb,#0bfff4,#15ffea,#20ffdf,#2cffd3,#38ffc7,#44ffbb,#50ffaf,#5bffa4,#5fffa0,#63ff9c,#67ff98,#6cff93,#70ff8f,#74ff8b,#76ff89,#79ff86,#7bff84,#7eff81,#80ff7f,#82ff7d,#82ff7d,#82ff7d,#82ff7d)"></i>
<i style="top:96px;height:2px;background:linear-gradient(90deg,#ffe100,#ffea00,#fff400,#fefd01,#f6ff09,#ecff13,#e2ff1d,#d8ff27,#cdff32,#c3ff3c,#bbff44,#b3ff4c,#aaff55,#9bff64,#8aff75,#79ff86,#6aff95,#5cffa3,#4effb1,#3effc1,#2fffd0,#1fffe0,#10ffef,#03fcfc,#00f1ff,#00e8ff,#00e0ff,#00d8ff,#00d0ff,#00c9ff,#00c4ff,#00ccff,#00d5ff,#00deff,#00e8ff,#00f2ff,#01fafe,#08fff7,#14ffeb,#20ffdf,#2cffd3,#38ffc7,#42ffbd,#47ffb8,#4cffb3,#50ffaf,#54ffab,#59ffa6,#5dffa2,#60ff9f,#62ff9d,#65ff9a,#67ff98,#6aff95,#6cff93,#6cff93,#6cff93,#6cff93)"></i>
<i style="top:98px;height:2px;background:linear-gradient(90deg,#ffea00,#fff300,#fefd01,#f4ff0b,#ebff14,#e2ff1d,#d8ff27,#cdff32,#c2ff3d,#b7ff48,#adff52,#a4ff5b,#9aff65,#8aff75,#78ff87,#67ff98,#57ffa8,#48ffb7,#38ffc7,#28ffd7,#18ffe7,#08fff7,#00f7ff,#00e7ff,#00d9ff,#00d0ff,#00c8ff,#00bfff,#00b8ff,#00b0ff,#00abff,#00b2ff,#00bcff,#00c6ff,#00cfff,#00d9ff,#00e3ff,#00efff,#01fafe,#08fff7,#14ffeb,#20ffdf,#2affd5,#2fffd0,#34ffcb,#38ffc7,#3dffc2,#42ffbd,#46ffb9,#49ffb6,#4cffb3,#4effb1,#51ffae,#54ffab,#56ffa9,#57ffa8,#57ffa8,#57ffa8)"></i>
<i style="top:100px;height:2px;background:linear-gradient(90deg,#fff400,#fefd01,#f4ff0b,#e9ff16,#dfff20,#d7ff28,#ceff31,#c3ff3c,#b7ff48,#abff54,#a0ff5f,#95ff6a,#89ff76,#78ff87,#66ff99,#55ffaa,#44ffbb,#33ffcc,#23ffdc,#12ffed,#04fdfb,#00f0ff,#00e0ff,#00d0ff,#00c1ff,#00b7ff,#00afff,#00a7ff,#009fff,#0097ff,#0092ff,#0099ff,#00a3ff,#00adff,#00b7ff,#00c1ff,#00cbff,#00d7ff,#00e3ff,#00efff,#01fafe,#08fff7,#12ffed,#18ffe7,#1cffe3,#21ffde,#26ffd9,#2bffd4,#2fffd0,#32ffcd,#35ffca,#38ffc7,#3bffc4,#3effc1,#41ffbe,#41ffbe,#41ffbe,#41ffbe)"></i>
<i style="top:102px;height:2px;background:linear-gradient(90deg,#fefd01,#f6ff09,#e9ff16,#ddff22,#d4ff2b,#cdff32,#c4ff3b,#b8ff47,#abff54,#9fff60,#92ff6d,#86ff79,#79ff86,#67ff98,#55ffaa,#42ffbd,#31ffce,#1fffe0,#0dfff2,#01fafe,#00eaff,#00daff,#00c9ff,#00b8ff,#00a9ff,#009fff,#0097ff,#008eff,#0086ff,#007eff,#0079ff,#0081ff,#008bff,#0095ff,#009fff,#00a9ff,#00b3ff,#00bfff,#00cbff,#00d7ff,#00e3ff,#00efff,#00f9ff,#03fcfc,#05fffa,#0afff5,#0ffff0,#14ffeb,#19ffe6,#1cffe3,#1fffe0,#22ffdd,#26ffd9,#29ffd6,#2bffd4,#2cffd3,#2cffd3,#2cffd3)"></i>
<i style="top:104px;height:2px;background:linear-gradient(90deg,#f7ff08,#edff12,#e0ff1f,#d4ff2b,#cbff34,#c3ff3c,#bbff44,#aeff51,#a0ff5f,#92ff6d,#85ff7a,#77ff88,#69ff96,#57ffa8,#44ffbb,#31ffce,#1effe1,#0bfff4,#00f8ff,#00e6ff,#00d5ff,#00c3ff,#00b2ff,#00a1ff,#0091ff,#0087ff,#007fff,#0077ff,#006eff,#0066ff,#0061ff,#0069ff,#0074ff,#007eff,#0088ff,#0093ff,#009dff,#00a9ff,#00b5ff,#00c1ff,#00cdff,#00d9ff,#00e3ff,#00e9ff,#00efff,#00f4ff,#00f9ff,#02fcfd,#04fffb,#08fff7,#0bfff4,#0efff1,#12ffed,#15ffea,#18ffe7,#18ffe7,#18ffe7,#18ffe7)"></i>
<i style="top:106px;height:2px;background:linear-gradient(90deg,#edff12,#e4ff1b,#d8ff27,#cdff32,#c4ff3b,#bbff44,#b1ff4e,#a4ff5b,#95ff6a,#86ff79,#78ff87,#69ff96,#5affa5,#48ffb7,#35ffca,#21ffde,#0efff1,#00f9ff,#00e5ff,#00d3ff,#00c1ff,#00aeff,#009cff,#008aff,#007aff,#0070ff,#0068ff,#0060ff,#0058ff,#0050ff,#004cff,#0054ff,#005fff,#006aff,#0074ff,#007fff,#008aff,#0096ff,#00a2ff,#00aeff,#00baff,#00c6ff,#00d0ff,#00d6ff,#00dcff,#00e2ff,#00e7ff,#00edff,#00f2ff,#00f6ff,#00f9ff,#01fcfe,#02fdfd,#04fffb,#07fff8,#08fff7,#08fff7,#08fff7)"></i>
<i style="top:108px;height:2px;background:linear-gradient(90deg,#e4ff1b,#dcff23,#d2ff2d,#c7ff38,#bdff42,#b3ff4c,#a8ff57,#99ff66,#8aff75,#7aff85,#6bff94,#5bffa4,#4bffb4,#39ffc6,#26ffd9,#12ffed,#01fbfe,#00e7ff,#00d3ff,#00c0ff,#00adff,#009aff,#0087ff,#0074ff,#0063ff,#005aff,#0052ff,#004bff,#0043ff,#003bff,#0037ff,#0040ff,#004bff,#0056ff,#0061ff,#006cff,#0078ff,#0084ff,#0090ff,#009cff,#00a7ff,#00b3ff,#00beff,#00c5ff,#00cbff,#00d1ff,#00d7ff,#00ddff,#00e2ff,#00e6ff,#00e9ff,#00edff,#00f0ff,#00f3ff,#00f6ff,#00f7ff,#00f8ff,#00f9ff)"></i>
<i style="top:110px;height:2px;background:linear-gradient(90deg,#daff25,#d4ff2b,#cbff34,#c2ff3d,#b7ff48,#abff54,#9eff61,#8fff70,#7fff80,#6eff91,#5effa1,#4effb1,#3dffc2,#2affd5,#17ffe8,#04fefb,#00ecff,#00d6ff,#00c1ff,#00adff,#0099ff,#0085ff,#0072ff,#005eff,#004cff,#0043ff,#003cff,#0035ff,#002eff,#0026ff,#0023ff,#002cff,#0037ff,#0043ff,#004eff,#005aff,#0066ff,#0071ff,#007dff,#0089ff,#0095ff,#00a1ff,#00acff,#00b3ff,#00b9ff,#00c0ff,#00c6ff,#00cdff,#00d2ff,#00d6ff,#00d9ff,#00ddff,#00e0ff,#00e4ff,#00e7ff,#00e8ff,#00e9ff,#00eaff)"></i>
<i style="top:112px;height:2px;background:linear-gradient(90deg,#d2ff2d,#ccff33,#c4ff3b,#bcff43,#b0ff4f,#a3ff5c,#95ff6a,#84ff7b,#73ff8c,#62ff9d,#51ffae,#41ffbe,#2fffd0,#1cffe3,#08fff7,#00f2ff,#00dcff,#00c5ff,#00afff,#009aff,#0085ff,#0071ff,#005cff,#0048ff,#0036ff,#002dff,#0026ff,#001fff,#0018ff,#0011ff,#000eff,#0018ff,#0024ff,#0030ff,#003bff,#0047ff,#0053ff,#005fff,#006bff,#0077ff,#0083ff,#008fff,#009aff,#00a1ff,#00a8ff,#00afff,#00b6ff,#00bdff,#00c3ff,#00c6ff,#00caff,#00cdff,#00d1ff,#00d4ff,#00d7ff,#00d9ff,#00daff,#00dcff)"></i>
<i style="top:114px;height:2px;background:linear-gradient(90deg,#ccff33,#c6ff39,#beff41,#b6ff49,#a8ff57,#9aff65,#8bff74,#7aff85,#68ff97,#56ffa9,#45ffba,#34ffcb,#22ffdd,#0efff1,#00f8ff,#00e2ff,#00cbff,#00b4ff,#009cff,#0087ff,#0072ff,#005cff,#0047ff,#0032ff,#001fff,#0016ff,#0010ff,#0009ff,#0004fe,#0001fb,#0000f9,#0004fe,#0010ff,#001cff,#0029ff,#0035ff,#0041ff,#004dff,#0059ff,#0065ff,#0071ff,#007dff,#0088ff,#0090ff,#0097ff,#009eff,#00a5ff,#00adff,#00b3ff,#00b7ff,#00baff,#00bdff,#00c1ff,#00c4ff,#00c7ff,#00caff,#00ccff,#00cdff)"></i>
<i style="top:116px;height:2px;background:linear-gradient(90deg,#c7ff38,#c0ff3f,#b8ff47,#aeff51,#a1ff5e,#91ff6e,#82ff7d,#70ff8f,#5dffa2,#4affb5,#39ffc6,#28ffd7,#16ffe9,#02fefd,#00e9ff,#00d2ff,#00baff,#00a2ff,#008aff,#0074ff,#005eff,#0048ff,#0032ff,#001cff,#0008ff,#0003fc,#0000f9,#0000f3,#0000ed,#0000e7,#0000e4,#0000ee,#0001fb,#0009ff,#0016ff,#0022ff,#002fff,#003bff,#0047ff,#0053ff,#005fff,#006bff,#0076ff,#007eff,#0086ff,#008dff,#0095ff,#009dff,#00a3ff,#00a7ff,#00aaff,#00aeff,#00b1ff,#00b5ff,#00b8ff,#00baff,#00bdff,#00bfff)"></i>
<i style="top:118px;height:2px;background:linear-gradient(90deg,#c2ff3d,#bbff44,#b1ff4e,#a7ff58,#99ff66,#89ff76,#78ff87,#65ff9a,#52ffad,#3fffc0,#2dffd2,#1cffe3,#0afff5,#00f2ff,#00daff,#00c2ff,#00aaff,#0091ff,#0078ff,#0061ff,#004aff,#0033ff,#001cff,#0006ff,#0000f1,#0000e9,#0000e3,#0000dd,#0000d8,#0000d2,#0000d0,#0000db,#0000e8,#0000f5,#0004fe,#0010ff,#001dff,#0029ff,#0035ff,#0041ff,#004dff,#0059ff,#0064ff,#006dff,#0075ff,#007dff,#0085ff,#008dff,#0094ff,#0097ff,#009bff,#009eff,#00a2ff,#00a5ff,#00a8ff,#00abff,#00aeff,#00b0ff)"></i>
<i style="top:120px;height:2px;background:linear-gradient(90deg,#bdff42,#b5ff4a,#abff54,#a0ff5f,#91ff6e,#80ff7f,#6eff91,#5bffa4,#47ffb8,#33ffcc,#21ffde,#0ffff0,#01fbfe,#00e4ff,#00ccff,#00b3ff,#009aff,#0080ff,#0067ff,#0050ff,#0038ff,#0021ff,#000aff,#0000f1,#0000dd,#0000d5,#0000d0,#0000cb,#0000c6,#0000c0,#0000be,#0000ca,#0000d7,#0000e5,#0000f2,#0002fe,#000eff,#001aff,#0026ff,#0032ff,#003eff,#004aff,#0055ff,#005eff,#0066ff,#006eff,#0076ff,#007eff,#0086ff,#0089ff,#008dff,#0090ff,#0094ff,#0097ff,#009aff,#009dff,#00a1ff,#00a3ff)"></i>
<i style="top:122px;height:2px;background:linear-gradient(90deg,#b8ff47,#afff50,#a5ff5a,#99ff66,#89ff76,#77ff88,#65ff9a,#51ffae,#3dffc2,#28ffd7,#15ffea,#03fefc,#00edff,#00d6ff,#00beff,#00a6ff,#008cff,#0072ff,#0059ff,#0042ff,#002bff,#0014ff,#0000fc,#0000e5,#0000d1,#0000ca,#0000c5,#0000c0,#0000bb,#0000b7,#0000b5,#0000c0,#0000ce,#0000db,#0000e9,#0000f6,#0004ff,#0011ff,#001dff,#0029ff,#0035ff,#0041ff,#004cff,#0055ff,#005dff,#0065ff,#006dff,#0075ff,#007cff,#007fff,#0083ff,#0086ff,#0089ff,#008dff,#0090ff,#0093ff,#0096ff,#0098ff)"></i>
<i style="top:124px;height:2px;background:linear-gradient(90deg,#b3ff4c,#aaff55,#9eff61,#92ff6d,#81ff7e,#6eff91,#5bffa4,#47ffb8,#33ffcc,#1effe1,#09fff6,#00f3ff,#00ddff,#00c7ff,#00b1ff,#009aff,#0080ff,#0066ff,#004dff,#0036ff,#0020ff,#000bff,#0000f4,#0000de,#0000cb,#0000c4,#0000c0,#0000bb,#0000b7,#0000b3,#0000b1,#0000bd,#0000ca,#0000d7,#0000e5,#0000f2,#0001fe,#000cff,#0019ff,#0025ff,#0031ff,#003eff,#0049ff,#0051ff,#0058ff,#0060ff,#0067ff,#006fff,#0075ff,#0079ff,#007cff,#007fff,#0082ff,#0085ff,#0088ff,#008bff,#008dff,#008fff)"></i>
<i style="top:126px;height:2px;background:linear-gradient(90deg,#aeff51,#a4ff5b,#98ff67,#8bff74,#79ff86,#65ff9a,#52ffad,#3effc1,#29ffd6,#14ffeb,#01fbfe,#00e4ff,#00cdff,#00b8ff,#00a3ff,#008eff,#0075ff,#005aff,#0041ff,#002bff,#0017ff,#0003ff,#0000ed,#0000d8,#0000c6,#0000c0,#0000bc,#0000b8,#0000b4,#0000b0,#0000af,#0000ba,#0000c7,#0000d4,#0000e1,#0000ee,#0000fb,#0009ff,#0016ff,#0022ff,#002fff,#003bff,#0046ff,#004eff,#0055ff,#005cff,#0062ff,#0069ff,#006fff,#0072ff,#0075ff,#0078ff,#007bff,#007eff,#0080ff,#0083ff,#0085ff,#0087ff)"></i>
<i style="top:128px;height:2px;background:linear-gradient(90deg,#a9ff56,#9fff60,#92ff6d,#84ff7b,#71ff8e,#5dffa2,#49ffb6,#35ffca,#20ffdf,#0bfff4,#00f1ff,#00d7ff,#00bdff,#00a9ff,#0096ff,#0082ff,#0069ff,#004eff,#0035ff,#0020ff,#000dff,#0000f9,#0000e5,#0000d2,#0000c1,#0000bb,#0000b8,#0000b4,#0000b0,#0000ad,#0000ac,#0000b7,#0000c4,#0000d1,#0000de,#0000eb,#0000f8,#0006ff,#0012ff,#001fff,#002cff,#0038ff,#0044ff,#004bff,#0051ff,#0057ff,#005eff,#0064ff,#0069ff,#006cff,#006fff,#0072ff,#0074ff,#0077ff,#0079ff,#007bff,#007dff,#007eff)"></i>
<i style="top:130px;height:2px;background:linear-gradient(90deg,#a4ff5b,#9aff65,#8cff73,#7eff81,#6bff94,#56ffa9,#42ffbd,#2effd1,#1affe5,#05fffa,#00e8ff,#00cbff,#00afff,#009bff,#0088ff,#0074ff,#005cff,#0042ff,#0029ff,#0016ff,#0004ff,#0000f0,#0000de,#0000cc,#0000bc,#0000b7,#0000b4,#0000b0,#0000ad,#0000aa,#0000aa,#0000b5,#0000c2,#0000ce,#0000db,#0000e7,#0000f4,#0002ff,#000fff,#001cff,#0029ff,#0036ff,#0041ff,#0048ff,#004dff,#0053ff,#0059ff,#005eff,#0063ff,#0066ff,#0068ff,#006bff,#006dff,#0070ff,#0072ff,#0073ff,#0075ff,#0076ff)"></i>
<i style="top:132px;height:2px;background:linear-gradient(90deg,#a0ff5f,#95ff6a,#87ff78,#79ff86,#65ff9a,#51ffae,#3dffc2,#29ffd6,#16ffe9,#02fefd,#00e2ff,#00c2ff,#00a3ff,#008eff,#007aff,#0066ff,#004eff,#0035ff,#001dff,#000bff,#0000f9,#0000e8,#0000d7,#0000c6,#0000b7,#0000b2,#0000b0,#0000ad,#0000aa,#0000a7,#0000a7,#0000b2,#0000bf,#0000cb,#0000d8,#0000e4,#0000f1,#0000fe,#000cff,#0019ff,#0026ff,#0033ff,#003eff,#0044ff,#004aff,#004fff,#0054ff,#0059ff,#005dff,#0060ff,#0062ff,#0064ff,#0066ff,#0069ff,#006aff,#006cff,#006dff,#006dff)"></i>
<i style="top:134px;height:2px;background:linear-gradient(90deg,#9bff64,#90ff6f,#82ff7d,#74ff8b,#61ff9e,#4cffb3,#38ffc7,#25ffda,#13ffec,#01fcfe,#00dcff,#00b9ff,#0098ff,#0081ff,#006cff,#0057ff,#0040ff,#0028ff,#0011ff,#0001fe,#0000ef,#0000df,#0000d0,#0000c0,#0000b2,#0000ae,#0000ac,#0000a9,#0000a7,#0000a5,#0000a5,#0000af,#0000bc,#0000c8,#0000d4,#0000e1,#0000ed,#0000fa,#0009ff,#0016ff,#0023ff,#0031ff,#003cff,#0041ff,#0046ff,#004aff,#004fff,#0053ff,#0057ff,#0059ff,#005bff,#005dff,#005fff,#0061ff,#0063ff,#0064ff,#0065ff,#0065ff)"></i>
<i style="top:136px;height:2px;background:linear-gradient(90deg,#96ff69,#8bff74,#7eff81,#6fff90,#5cffa3,#47ffb8,#33ffcc,#21ffde,#0ffff0,#00faff,#00d7ff,#00b1ff,#008dff,#0074ff,#005fff,#0049ff,#0032ff,#001bff,#0005ff,#0000f4,#0000e6,#0000d7,#0000c9,#0000ba,#0000ae,#0000aa,#0000a8,#0000a6,#0000a4,#0000a2,#0000a2,#0000ad,#0000b9,#0000c5,#0000d1,#0000dd,#0000ea,#0000f7,#0005ff,#0013ff,#0021ff,#002eff,#0039ff,#003eff,#0042ff,#0046ff,#004aff,#004eff,#0051ff,#0053ff,#0055ff,#0057ff,#0059ff,#005bff,#005cff,#005dff,#005dff,#005dff)"></i>
<i style="top:138px;height:2px;background:linear-gradient(90deg,#92ff6d,#87ff78,#7aff85,#6bff94,#58ffa7,#44ffbb,#2fffd0,#1dffe2,#0cfff3,#00f6ff,#00d2ff,#00a9ff,#0084ff,#006aff,#0054ff,#003eff,#0028ff,#0011ff,#0000fb,#0000ec,#0000de,#0000d1,#0000c3,#0000b5,#0000aa,#0000a6,#0000a5,#0000a3,#0000a2,#0000a0,#0000a1,#0000ab,#0000b7,#0000c3,#0000ce,#0000da,#0000e6,#0000f4,#0003ff,#0010ff,#001eff,#002bff,#0037ff,#003bff,#003fff,#0042ff,#0046ff,#0049ff,#004dff,#004eff,#0050ff,#0052ff,#0054ff,#0055ff,#0057ff,#0057ff,#0057ff,#0057ff)"></i>
<i style="top:140px;height:2px;background:linear-gradient(90deg,#8fff70,#85ff7a,#77ff88,#68ff97,#55ffaa,#41ffbe,#2dffd2,#1affe5,#08fff7,#00f2ff,#00cdff,#00a4ff,#007eff,#0064ff,#004eff,#0038ff,#0021ff,#000bff,#0000f5,#0000e7,#0000da,#0000cc,#0000bf,#0000b2,#0000a7,#0000a4,#0000a3,#0000a2,#0000a0,#00009f,#0000a0,#0000aa,#0000b6,#0000c1,#0000cd,#0000d8,#0000e4,#0000f1,#0001fe,#000eff,#001bff,#0029ff,#0034ff,#0039ff,#003cff,#0040ff,#0043ff,#0047ff,#004aff,#004bff,#004dff,#004fff,#0051ff,#0052ff,#0054ff,#0054ff,#0054ff,#0054ff)"></i>
<i style="top:142px;height:2px;background:linear-gradient(90deg,#8dff72,#82ff7d,#74ff8b,#66ff99,#53ffac,#3effc1,#2affd5,#17ffe8,#04fffb,#00edff,#00c8ff,#009fff,#0079ff,#005fff,#0049ff,#0033ff,#001cff,#0006ff,#0000f0,#0000e2,#0000d5,#0000c9,#0000bc,#0000af,#0000a4,#0000a2,#0000a1,#0000a0,#0000a0,#00009f,#0000a0,#0000aa,#0000b5,#0000c0,#0000cb,#0000d6,#0000e2,#0000ef,#0000fd,#000bff,#0019ff,#0027ff,#0032ff,#0036ff,#003aff,#003dff,#0041ff,#0044ff,#0047ff,#0049ff,#004bff,#004cff,#004eff,#0050ff,#0051ff,#0051ff,#0051ff,#0051ff)"></i>
<i style="top:144px;height:2px;background:linear-gradient(90deg,#8bff74,#80ff7f,#72ff8d,#64ff9b,#51ffae,#3cffc3,#28ffd7,#14ffeb,#01fefe,#00e9ff,#00c4ff,#009bff,#0074ff,#005bff,#0044ff,#002eff,#0018ff,#0002fe,#0000ec,#0000de,#0000d2,#0000c5,#0000b9,#0000ad,#0000a2,#0000a0,#0000a0,#00009f,#00009f,#00009e,#0000a0,#0000a9,#0000b4,#0000bf,#0000c9,#0000d4,#0000df,#0000ed,#0000fa,#0009ff,#0017ff,#0024ff,#0030ff,#0034ff,#0038ff,#003bff,#003eff,#0042ff,#0045ff,#0047ff,#0048ff,#004aff,#004cff,#004eff,#004fff,#004fff,#004fff,#004fff)"></i>
<i style="top:146px;height:1px;background:linear-gradient(90deg,#89ff76,#7fff80,#71ff8e,#62ff9d,#4fffb0,#3bffc4,#26ffd9,#12ffed,#00fdff,#00e6ff,#00c1ff,#0098ff,#0072ff,#0058ff,#0042ff,#002cff,#0015ff,#0001fd,#0000e9,#0000dc,#0000d0,#0000c3,#0000b7,#0000ab,#0000a1,#00009f,#00009f,#00009f,#00009e,#00009e,#0000a0,#0000a9,#0000b4,#0000be,#0000c8,#0000d3,#0000de,#0000eb,#0000f9,#0008ff,#0015ff,#0023ff,#002eff,#0033ff,#0036ff,#003aff,#003dff,#0041ff,#0044ff,#0045ff,#0047ff,#0049ff,#004bff,#004cff,#004dff,#004eff,#004eff,#004eff)"></i>
</div>
<div class="cb" style="left:634.00px;top:7.40px;width:11.80px;height:168.30px;background:linear-gradient(180deg,#000080,#00009f,#0000bf,#0000df,#0000ff,#0020ff,#0040ff,#0060ff,#0080ff,#009fff,#00bfff,#00dfff,#00ffff,#20ffdf,#40ffbf,#60ff9f,#80ff80,#9fff60,#bfff40,#dfff20,#ffff00,#ffdf00,#ffbf00,#ff9f00,#ff8000,#ff6000,#ff4000,#ff2000,#ff0000,#df0000,#bf0000,#9f0000,#800000)"></div>
<div class="f" style="left:37px;top:256px;width:227px;height:147px;clip-path:polygon(0.7px 30.2px,6.8px 30.2px,6.8px 28.5px,12.8px 28.5px,12.8px 26.7px,18.8px 26.7px,18.8px 25.0px,24.9px 25.0px,24.9px 23.2px,30.9px 23.2px,30.9px 21.4px,36.9px 21.4px,36.9px 19.7px,43.0px 19.7px,43.0px 17.9px,49.0px 17.9px,49.0px 16.2px,55.0px 16.2px,55.0px 14.4px,61.0px 14.4px,61.0px 12.6px,67.1px 12.6px,67.1px 10.9px,73.1px 10.9px,73.1px 9.1px,79.1px 9.1px,79.1px 7.4px,85.2px 7.4px,85.2px 5.6px,91.2px 5.6px,91.2px 3.8px,97.2px 3.8px,97.2px 2.1px,103.3px 2.1px,103.3px 0.3px,109.3px 0.3px,109.3px 0.3px,226.8px 0.3px,226.8px 146.1px,64.2px 146.1px,64.2px 143.5px,39.9px 143.5px,39.9px 141.9px,15.0px 141.9px,15.0px 139.8px,0.7px 139.8px)">
<i style="top:0px;height:2px;background:linear-gradient(90deg,#23ffdc,#23ffdc,#23ffdc,#23ffdc,#23ffdc,#23ffdc,#23ffdc,#23ffdc,#23ffdc,#23ffdc,#23ffdc,#23ffdc,#23ffdc,#23ffdc,#23ffdc,#23ffdc,#23ffdc,#23ffdc,#23ffdc,#23ffdc,#23ffdc,#23ffdc,#23ffdc,#23ffdc,#24ffdb,#24ffdb,#24ffdb,#25ffda,#28ffd7,#2cffd3,#30ffcf,#32ffcd,#34ffcb,#36ffc9,#37ffc8,#39ffc6,#3bffc4,#3fffc0,#42ffbd,#45ffba,#49ffb6,#4cffb3,#4fffb0,#51ffae,#53ffac,#55ffaa,#56ffa9,#58ffa7,#5affa5,#5bffa4,#5dffa2,#5fffa0,#61ff9e,#62ff9d,#64ff9b,#67ff98,#6aff95,#6dff92)"></i>
<i style="top:2px;height:2px;background:linear-gradient(90deg,#21ffde,#21ffde,#21ffde,#21ffde,#21ffde,#21ffde,#21ffde,#21ffde,#21ffde,#21ffde,#21ffde,#21ffde,#21ffde,#21ffde,#21ffde,#21ffde,#21ffde,#21ffde,#21ffde,#21ffde,#21ffde,#21ffde,#22ffdd,#23ffdc,#24ffdb,#25ffda,#25ffda,#27ffd8,#2bffd4,#2fffd0,#33ffcc,#35ffca,#37ffc8,#39ffc6,#3bffc4,#3effc1,#40ffbf,#43ffbc,#47ffb8,#4affb5,#4dffb2,#51ffae,#54ffab,#56ffa9,#58ffa7,#59ffa6,#5bffa4,#5dffa2,#5effa1,#60ff9f,#62ff9d,#63ff9c,#65ff9a,#67ff98,#69ff96,#6bff94,#6eff91,#70ff8f)"></i>
<i style="top:4px;height:2px;background:linear-gradient(90deg,#1fffe0,#1fffe0,#1fffe0,#1fffe0,#1fffe0,#1fffe0,#1fffe0,#1fffe0,#1fffe0,#1fffe0,#1fffe0,#1fffe0,#1fffe0,#1fffe0,#1fffe0,#1fffe0,#1fffe0,#1fffe0,#1fffe0,#1fffe0,#1fffe0,#20ffdf,#21ffde,#22ffdd,#24ffdb,#25ffda,#27ffd8,#29ffd6,#2dffd2,#32ffcd,#36ffc9,#39ffc6,#3cffc3,#3effc1,#40ffbf,#43ffbc,#45ffba,#49ffb6,#4cffb3,#50ffaf,#53ffac,#56ffa9,#59ffa6,#5bffa4,#5dffa2,#5fffa0,#60ff9f,#62ff9d,#64ff9b,#66ff99,#67ff98,#69ff96,#6bff94,#6cff93,#6eff91,#70ff8f,#72ff8d,#74ff8b)"></i>
<i style="top:6px;height:2px;background:linear-gradient(90deg,#1dffe2,#1dffe2,#1dffe2,#1dffe2,#1dffe2,#1dffe2,#1dffe2,#1dffe2,#1dffe2,#1dffe2,#1dffe2,#1dffe2,#1dffe2,#1dffe2,#1dffe2,#1dffe2,#1dffe2,#1dffe2,#1dffe2,#1dffe2,#1dffe2,#1effe1,#20ffdf,#22ffdd,#24ffdb,#26ffd9,#28ffd7,#2affd5,#2fffd0,#35ffca,#3affc5,#3dffc2,#40ffbf,#43ffbc,#45ffba,#48ffb7,#4bffb4,#4effb1,#52ffad,#55ffaa,#58ffa7,#5cffa3,#5fffa0,#61ff9e,#63ff9c,#64ff9b,#66ff99,#68ff97,#69ff96,#6bff94,#6dff92,#6fff90,#70ff8f,#72ff8d,#74ff8b,#75ff8a,#76ff89,#77ff88)"></i>
<i style="top:8px;height:2px;background:linear-gradient(90deg,#1cffe3,#1cffe3,#1cffe3,#1cffe3,#1cffe3,#1cffe3,#1cffe3,#1cffe3,#1cffe3,#1cffe3,#1cffe3,#1cffe3,#1cffe3,#1cffe3,#1cffe3,#1cffe3,#1cffe3,#1cffe3,#1cffe3,#1cffe3,#1cffe3,#1cffe3,#1effe1,#21ffde,#24ffdb,#26ffd9,#29ffd6,#2cffd3,#32ffcd,#38ffc7,#3effc1,#41ffbe,#44ffbb,#47ffb8,#4affb5,#4dffb2,#50ffaf,#54ffab,#57ffa8,#5affa5,#5effa1,#61ff9e,#64ff9b,#66ff99,#68ff97,#6aff95,#6cff93,#6dff92,#6fff90,#71ff8e,#72ff8d,#74ff8b,#76ff89,#77ff88,#79ff86,#7aff85,#7aff85,#7bff84)"></i>
<i style="top:10px;height:2px;background:linear-gradient(90deg,#1cffe3,#1cffe3,#1cffe3,#1cffe3,#1cffe3,#1cffe3,#1cffe3,#1cffe3,#1cffe3,#1cffe3,#1cffe3,#1cffe3,#1cffe3,#1cffe3,#1bffe4,#1bffe4,#1affe5,#1affe5,#1affe5,#1affe5,#1affe5,#1affe5,#1dffe2,#20ffdf,#23ffdc,#26ffd9,#2affd5,#2effd1,#34ffcb,#3affc5,#40ffbf,#44ffbb,#47ffb8,#4affb5,#4effb1,#51ffae,#54ffab,#58ffa7,#5bffa4,#5fffa0,#62ff9d,#66ff99,#69ff96,#6bff94,#6dff92,#6eff91,#70ff8f,#72ff8d,#74ff8b,#75ff8a,#77ff88,#79ff86,#7aff85,#7cff83,#7dff82,#7eff81,#7eff81,#7eff81)"></i>
<i style="top:12px;height:2px;background:linear-gradient(90deg,#20ffdf,#20ffdf,#20ffdf,#20ffdf,#20ffdf,#20ffdf,#20ffdf,#20ffdf,#20ffdf,#20ffdf,#20ffdf,#20ffdf,#20ffdf,#1fffe0,#1dffe2,#1cffe3,#1affe5,#19ffe6,#18ffe7,#18ffe7,#18ffe7,#19ffe6,#1bffe4,#1effe1,#22ffdd,#26ffd9,#2affd5,#2effd1,#35ffca,#3bffc4,#42ffbd,#45ffba,#48ffb7,#4bffb4,#4effb1,#51ffae,#54ffab,#58ffa7,#5cffa3,#60ff9f,#63ff9c,#67ff98,#6bff94,#6dff92,#6fff90,#71ff8e,#73ff8c,#75ff8a,#77ff88,#79ff86,#7aff85,#7bff84,#7dff82,#7eff81,#7fff80,#7fff80,#7fff80,#7fff80)"></i>
<i style="top:14px;height:2px;background:linear-gradient(90deg,#27ffd8,#27ffd8,#27ffd8,#27ffd8,#27ffd8,#27ffd8,#27ffd8,#27ffd8,#27ffd8,#27ffd8,#27ffd8,#27ffd8,#27ffd8,#24ffdb,#21ffde,#1effe1,#1bffe4,#18ffe7,#16ffe9,#16ffe9,#16ffe9,#18ffe7,#1affe5,#1dffe2,#20ffdf,#24ffdb,#29ffd6,#2effd1,#35ffca,#3cffc3,#42ffbd,#45ffba,#48ffb7,#4affb5,#4dffb2,#50ffaf,#53ffac,#56ffa9,#5bffa4,#5fffa0,#63ff9c,#67ff98,#6bff94,#6eff91,#70ff8f,#73ff8c,#75ff8a,#77ff88,#7aff85,#7bff84,#7cff83,#7dff82,#7eff81,#7fff80,#7fff80,#7fff80,#7fff80,#7fff80)"></i>
<i style="top:16px;height:2px;background:linear-gradient(90deg,#2effd1,#2effd1,#2effd1,#2effd1,#2effd1,#2effd1,#2effd1,#2effd1,#2effd1,#2effd1,#2effd1,#2effd1,#2effd1,#2affd5,#25ffda,#20ffdf,#1cffe3,#17ffe8,#14ffeb,#14ffeb,#15ffea,#16ffe9,#18ffe7,#1bffe4,#1dffe2,#23ffdc,#28ffd7,#2effd1,#35ffca,#3cffc3,#42ffbd,#45ffba,#47ffb8,#49ffb6,#4bffb4,#4effb1,#50ffaf,#55ffaa,#59ffa6,#5effa1,#62ff9d,#67ff98,#6bff94,#6eff91,#71ff8e,#74ff8b,#77ff88,#7aff85,#7cff83,#7dff82,#7dff82,#7eff81,#7fff80,#7fff80,#80ff7f,#80ff7f,#80ff7f,#80ff7f)"></i>
<i style="top:18px;height:2px;background:linear-gradient(90deg,#36ffc9,#36ffc9,#36ffc9,#36ffc9,#36ffc9,#36ffc9,#36ffc9,#35ffca,#35ffca,#35ffca,#35ffca,#35ffca,#33ffcc,#2effd1,#28ffd7,#22ffdd,#1cffe3,#16ffe9,#11ffee,#12ffed,#14ffeb,#15ffea,#17ffe8,#19ffe6,#1cffe3,#22ffdd,#28ffd7,#2fffd0,#36ffc9,#3cffc3,#42ffbd,#45ffba,#47ffb8,#49ffb6,#4bffb4,#4dffb2,#4fffb0,#54ffab,#59ffa6,#5dffa2,#62ff9d,#67ff98,#6cff93,#6fff90,#73ff8c,#76ff89,#79ff86,#7cff83,#7fff80,#80ff7f,#80ff7f,#80ff7f,#80ff7f,#81ff7e,#81ff7e,#81ff7e,#81ff7e,#81ff7e)"></i>
<i style="top:20px;height:2px;background:linear-gradient(90deg,#3fffc0,#3effc1,#3effc1,#3effc1,#3dffc2,#3dffc2,#3dffc2,#3cffc3,#3bffc4,#3affc5,#39ffc6,#38ffc7,#37ffc8,#31ffce,#2affd5,#23ffdc,#1cffe3,#15ffea,#0ffff0,#10ffef,#13ffec,#15ffea,#18ffe7,#1bffe4,#1effe1,#24ffdb,#2bffd4,#32ffcd,#38ffc7,#3fffc0,#45ffba,#48ffb7,#49ffb6,#4bffb4,#4dffb2,#4fffb0,#51ffae,#56ffa9,#5bffa4,#60ff9f,#65ff9a,#6aff95,#6fff90,#73ff8c,#76ff89,#7aff85,#7eff81,#81ff7e,#84ff7b,#85ff7a,#85ff7a,#85ff7a,#85ff7a,#85ff7a,#85ff7a,#85ff7a,#85ff7a,#85ff7a)"></i>
<i style="top:22px;height:2px;background:linear-gradient(90deg,#48ffb7,#47ffb8,#47ffb8,#46ffb9,#45ffba,#45ffba,#44ffbb,#42ffbd,#40ffbf,#3effc1,#3cffc3,#3affc5,#37ffc8,#31ffce,#29ffd6,#22ffdd,#1affe5,#13ffec,#0dfff2,#0ffff0,#13ffec,#16ffe9,#1affe5,#1effe1,#22ffdd,#28ffd7,#2fffd0,#36ffc9,#3dffc2,#44ffbb,#4affb5,#4cffb3,#4effb1,#4fffb0,#51ffae,#53ffac,#55ffaa,#5affa5,#5fffa0,#64ff9b,#69ff96,#6eff91,#73ff8c,#77ff88,#7bff84,#80ff7f,#84ff7b,#88ff77,#8bff74,#8cff73,#8cff73,#8cff73,#8cff73,#8cff73,#8cff73,#8cff73,#8cff73,#8cff73)"></i>
<i style="top:24px;height:2px;background:linear-gradient(90deg,#52ffad,#51ffae,#50ffaf,#4fffb0,#4effb1,#4cffb3,#4bffb4,#48ffb7,#45ffba,#42ffbd,#3fffc0,#3bffc4,#38ffc7,#30ffcf,#29ffd6,#21ffde,#19ffe6,#11ffee,#0bfff4,#0efff1,#13ffec,#18ffe7,#1dffe2,#21ffde,#27ffd8,#2dffd2,#34ffcb,#3bffc4,#42ffbd,#48ffb7,#4fffb0,#51ffae,#53ffac,#54ffab,#56ffa9,#58ffa7,#5affa5,#5fffa0,#64ff9b,#69ff96,#6eff91,#73ff8c,#78ff87,#7dff82,#81ff7e,#86ff79,#8aff75,#8fff70,#92ff6d,#93ff6c,#93ff6c,#93ff6c,#93ff6c,#93ff6c,#93ff6c,#93ff6c,#93ff6c,#93ff6c)"></i>
<i style="top:26px;height:2px;background:linear-gradient(90deg,#5affa5,#59ffa6,#58ffa7,#57ffa8,#55ffaa,#54ffab,#52ffad,#4effb1,#4affb5,#46ffb9,#42ffbd,#3dffc2,#38ffc7,#31ffce,#29ffd6,#21ffde,#19ffe6,#10ffef,#0afff5,#0efff1,#14ffeb,#1affe5,#20ffdf,#26ffd9,#2cffd3,#33ffcc,#3affc5,#40ffbf,#47ffb8,#4effb1,#54ffab,#57ffa8,#59ffa6,#5bffa4,#5cffa3,#5effa1,#60ff9f,#65ff9a,#6aff95,#6fff90,#74ff8b,#7aff85,#7fff80,#83ff7c,#88ff77,#8dff72,#92ff6d,#97ff68,#9bff64,#9bff64,#9bff64,#9bff64,#9bff64,#9bff64,#9bff64,#9aff65,#9aff65,#9aff65)"></i>
<i style="top:28px;height:2px;background:linear-gradient(90deg,#61ff9e,#60ff9f,#5effa1,#5dffa2,#5bffa4,#5affa5,#58ffa7,#54ffab,#4fffb0,#4bffb4,#46ffb9,#41ffbe,#3cffc3,#35ffca,#2dffd2,#25ffda,#1dffe2,#15ffea,#0ffff0,#13ffec,#19ffe6,#20ffdf,#26ffd9,#2cffd3,#33ffcc,#3affc5,#41ffbe,#49ffb6,#50ffaf,#57ffa8,#5effa1,#61ff9e,#63ff9c,#65ff9a,#67ff98,#69ff96,#6cff93,#71ff8e,#76ff89,#7bff84,#80ff7f,#85ff7a,#8aff75,#8fff70,#94ff6b,#99ff66,#9eff61,#a2ff5d,#a6ff59,#a6ff59,#a6ff59,#a5ff5a,#a5ff5a,#a5ff5a,#a4ff5b,#a3ff5c,#a2ff5d,#a1ff5e)"></i>
<i style="top:30px;height:2px;background:linear-gradient(90deg,#64ff9b,#63ff9c,#62ff9d,#61ff9e,#60ff9f,#5fffa0,#5dffa2,#59ffa6,#55ffaa,#50ffaf,#4cffb3,#47ffb8,#42ffbd,#3bffc4,#34ffcb,#2dffd2,#25ffda,#1effe1,#19ffe6,#1dffe2,#23ffdc,#29ffd6,#2fffd0,#36ffc9,#3cffc3,#44ffbb,#4cffb3,#54ffab,#5cffa3,#64ff9b,#6bff94,#6fff90,#71ff8e,#74ff8b,#77ff88,#7aff85,#7dff82,#82ff7d,#87ff78,#8cff73,#92ff6d,#97ff68,#9cff63,#a0ff5f,#a5ff5a,#a9ff56,#aeff51,#b2ff4d,#b6ff49,#b5ff4a,#b4ff4b,#b3ff4c,#b2ff4d,#b1ff4e,#afff50,#adff52,#abff54,#a9ff56)"></i>
<i style="top:32px;height:2px;background:linear-gradient(90deg,#67ff98,#66ff99,#65ff9a,#65ff9a,#64ff9b,#63ff9c,#62ff9d,#5fffa0,#5affa5,#56ffa9,#52ffad,#4effb1,#4affb5,#43ffbc,#3dffc2,#36ffc9,#30ffcf,#29ffd6,#25ffda,#28ffd7,#2effd1,#34ffcb,#3affc5,#40ffbf,#46ffb9,#4effb1,#57ffa8,#60ff9f,#69ff96,#71ff8e,#79ff86,#7eff81,#82ff7d,#85ff7a,#89ff76,#8dff72,#90ff6f,#95ff6a,#9aff65,#a0ff5f,#a5ff5a,#aaff55,#afff50,#b3ff4c,#b7ff48,#bbff44,#bfff40,#c4ff3b,#c7ff38,#c5ff3a,#c3ff3c,#c1ff3e,#bfff40,#bdff42,#bbff44,#b7ff48,#b3ff4c,#b0ff4f)"></i>
<i style="top:34px;height:2px;background:linear-gradient(90deg,#69ff96,#69ff96,#69ff96,#68ff97,#68ff97,#68ff97,#67ff98,#64ff9b,#60ff9f,#5cffa3,#59ffa6,#55ffaa,#51ffae,#4cffb3,#46ffb9,#40ffbf,#3bffc4,#35ffca,#31ffce,#35ffca,#3affc5,#40ffbf,#45ffba,#4bffb4,#51ffae,#5affa5,#63ff9c,#6dff92,#76ff89,#7fff80,#88ff77,#8dff72,#92ff6d,#96ff69,#9bff64,#9fff60,#a4ff5b,#a9ff56,#aeff51,#b3ff4c,#b8ff47,#bdff42,#c2ff3d,#c6ff39,#c9ff36,#cdff32,#d1ff2e,#d4ff2b,#d7ff28,#d5ff2a,#d2ff2d,#d0ff2f,#cdff32,#caff35,#c7ff38,#c2ff3d,#bcff43,#b8ff47)"></i>
<i style="top:36px;height:2px;background:linear-gradient(90deg,#6dff92,#6dff92,#6dff92,#6cff93,#6cff93,#6cff93,#6cff93,#69ff96,#66ff99,#63ff9c,#60ff9f,#5dffa2,#59ffa6,#55ffaa,#51ffae,#4dffb2,#49ffb6,#44ffbb,#42ffbd,#45ffba,#4bffb4,#50ffaf,#55ffaa,#5bffa4,#61ff9e,#69ff96,#73ff8c,#7cff83,#85ff7a,#8eff71,#97ff68,#9cff63,#a1ff5e,#a7ff58,#acff53,#b1ff4e,#b6ff49,#bbff44,#bfff40,#c4ff3b,#c9ff36,#ceff31,#d2ff2d,#d6ff29,#d9ff26,#dcff23,#e0ff1f,#e3ff1c,#e5ff1a,#e3ff1c,#e0ff1f,#ddff22,#daff25,#d7ff28,#d3ff2c,#cdff32,#c7ff38,#c2ff3d)"></i>
<i style="top:38px;height:2px;background:linear-gradient(90deg,#71ff8e,#71ff8e,#71ff8e,#71ff8e,#71ff8e,#71ff8e,#71ff8e,#6fff90,#6cff93,#6aff95,#67ff98,#65ff9a,#63ff9c,#61ff9e,#5effa1,#5cffa3,#5affa5,#58ffa7,#57ffa8,#5cffa3,#61ff9e,#67ff98,#6cff93,#72ff8d,#78ff87,#7fff80,#87ff78,#8fff70,#96ff69,#9eff61,#a5ff5a,#abff54,#b1ff4e,#b7ff48,#bcff43,#c2ff3d,#c7ff38,#cbff34,#d0ff2f,#d4ff2b,#d8ff27,#dcff23,#e0ff1f,#e3ff1c,#e6ff19,#e9ff16,#ecff13,#eeff11,#f0ff0f,#eeff11,#ebff14,#e8ff17,#e5ff1a,#e3ff1c,#dfff20,#daff25,#d4ff2b,#cfff30)"></i>
<i style="top:40px;height:2px;background:linear-gradient(90deg,#76ff89,#76ff89,#76ff89,#76ff89,#76ff89,#76ff89,#76ff89,#74ff8b,#73ff8c,#71ff8e,#70ff8f,#6eff91,#6dff92,#6dff92,#6dff92,#6dff92,#6dff92,#6eff91,#6fff90,#74ff8b,#7aff85,#80ff7f,#86ff79,#8cff73,#92ff6d,#98ff67,#9dff62,#a3ff5c,#a9ff56,#afff50,#b4ff4b,#baff45,#c0ff3f,#c6ff39,#ccff33,#d2ff2d,#d8ff27,#dcff23,#dfff20,#e2ff1d,#e6ff19,#e9ff16,#ecff13,#efff10,#f1ff0e,#f4ff0b,#f6ff09,#f9ff06,#faff05,#f8ff07,#f6ff09,#f3ff0c,#f1ff0e,#eeff11,#ebff14,#e7ff18,#e2ff1d,#deff21)"></i>
<i style="top:42px;height:2px;background:linear-gradient(90deg,#7bff84,#7bff84,#7bff84,#7bff84,#7bff84,#7bff84,#7bff84,#7aff85,#79ff86,#79ff86,#78ff87,#77ff88,#77ff88,#79ff86,#7bff84,#7eff81,#81ff7e,#83ff7c,#87ff78,#8cff73,#93ff6c,#99ff66,#a0ff5f,#a6ff59,#acff53,#b1ff4e,#b4ff4b,#b8ff47,#bcff43,#c0ff3f,#c4ff3b,#caff35,#d0ff2f,#d6ff29,#dcff23,#e3ff1c,#e8ff17,#ebff14,#eeff11,#f0ff0f,#f3ff0c,#f5ff0a,#f8ff07,#faff05,#fcff03,#fdfe02,#fefd01,#fffc00,#fffa00,#fffc00,#fefd01,#fdfe02,#fcff03,#faff05,#f7ff08,#f3ff0c,#efff10,#ecff13)"></i>
<i style="top:44px;height:2px;background:linear-gradient(90deg,#80ff7f,#80ff7f,#80ff7f,#80ff7f,#80ff7f,#80ff7f,#80ff7f,#80ff7f,#81ff7e,#81ff7e,#81ff7e,#81ff7e,#82ff7d,#86ff79,#8bff74,#8fff70,#94ff6b,#99ff66,#9eff61,#a5ff5a,#acff53,#b3ff4c,#baff45,#c2ff3d,#c8ff37,#cbff34,#cdff32,#cfff30,#d2ff2d,#d4ff2b,#d7ff28,#dbff24,#e1ff1e,#e6ff19,#ecff13,#f1ff0e,#f6ff09,#f8ff07,#faff05,#fbff04,#fdff02,#fefe01,#fffd00,#fffc00,#fffa00,#fff800,#fff600,#fff400,#fff200,#fff400,#fff500,#fff700,#fff800,#fffa00,#fffc00,#fefe01,#fcff03,#f9ff06)"></i>
<i style="top:46px;height:2px;background:linear-gradient(90deg,#84ff7b,#85ff7a,#85ff7a,#86ff79,#86ff79,#87ff78,#87ff78,#88ff77,#89ff76,#8bff74,#8cff73,#8dff72,#8fff70,#95ff6a,#9bff64,#a1ff5e,#a7ff58,#aeff51,#b4ff4b,#bcff43,#c5ff3a,#cdff32,#d6ff29,#deff21,#e6ff19,#e8ff17,#eaff15,#ebff14,#ecff13,#eeff11,#efff10,#f2ff0d,#f4ff0b,#f7ff08,#f9ff06,#fcff03,#feff01,#fefe01,#fffe00,#fffd00,#fffc00,#fffb00,#fffa00,#fff800,#fff600,#fff400,#fff200,#fff000,#ffee00,#ffee00,#ffef00,#fff000,#fff100,#fff200,#fff300,#fff600,#fff800,#fffa00)"></i>
<i style="top:48px;height:2px;background:linear-gradient(90deg,#89ff76,#8aff75,#8bff74,#8cff73,#8cff73,#8dff72,#8eff71,#90ff6f,#93ff6c,#95ff6a,#98ff67,#9aff65,#9dff62,#a4ff5b,#acff53,#b3ff4c,#bbff44,#c2ff3d,#caff35,#d4ff2b,#deff21,#e8ff17,#f2ff0d,#fafd05,#fef801,#fff700,#fff600,#fff500,#fff400,#fff300,#fff300,#fff400,#fff500,#fff600,#fff800,#fff900,#fffa00,#fffa00,#fffa00,#fffa00,#fffa00,#fffa00,#fff900,#fff700,#fff500,#fff200,#fff000,#ffed00,#ffeb00,#ffeb00,#ffeb00,#ffeb00,#ffeb00,#ffeb00,#ffec00,#ffed00,#ffef00,#fff000)"></i>
<i style="top:50px;height:2px;background:linear-gradient(90deg,#8eff71,#8fff70,#90ff6f,#92ff6d,#93ff6c,#94ff6b,#96ff69,#99ff66,#9dff62,#a0ff5f,#a4ff5b,#a8ff57,#acff53,#b4ff4b,#bdff42,#c5ff3a,#ceff31,#d7ff28,#e0ff1f,#ebff14,#f7ff08,#fdfa02,#fff000,#ffe400,#ffda00,#ffd800,#ffd800,#ffd700,#ffd700,#ffd600,#ffd700,#ffdb00,#ffe000,#ffe600,#ffeb00,#fff000,#fff500,#fff600,#fff700,#fff800,#fff800,#fff900,#fff900,#fff700,#fff400,#fff100,#ffee00,#ffeb00,#ffe800,#ffe700,#ffe700,#ffe600,#ffe500,#ffe500,#ffe400,#ffe500,#ffe600,#ffe700)"></i>
<i style="top:52px;height:2px;background:linear-gradient(90deg,#93ff6c,#94ff6b,#96ff69,#98ff67,#99ff66,#9bff64,#9dff62,#a1ff5e,#a6ff59,#abff54,#b0ff4f,#b5ff4a,#baff45,#c3ff3c,#cdff32,#d7ff28,#e1ff1e,#ebff14,#f5ff0a,#fefb01,#fff000,#ffe300,#ffd600,#ffc900,#ffbf00,#ffbd00,#ffbd00,#ffbd00,#ffbd00,#ffbd00,#ffbe00,#ffc500,#ffcd00,#ffd600,#ffde00,#ffe600,#ffee00,#fff000,#fff100,#fff300,#fff400,#fff600,#fff600,#fff400,#fff100,#ffed00,#ffea00,#ffe700,#ffe400,#ffe200,#ffe100,#ffdf00,#ffde00,#ffdc00,#ffdb00,#ffdc00,#ffdc00,#ffdc00)"></i>
<i style="top:54px;height:2px;background:linear-gradient(90deg,#98ff67,#9aff65,#9cff63,#9eff61,#a0ff5f,#a2ff5d,#a4ff5b,#aaff55,#b0ff4f,#b6ff49,#bcff43,#c2ff3d,#c9ff36,#d3ff2c,#deff21,#e9ff16,#f3ff0c,#fcfd03,#fff500,#ffe800,#ffdb00,#ffce00,#ffc200,#ffb500,#ffaa00,#ffa900,#ffa900,#ffaa00,#ffab00,#ffab00,#ffad00,#ffb500,#ffbf00,#ffc800,#ffd100,#ffda00,#ffe200,#ffe600,#ffe800,#ffea00,#ffec00,#ffee00,#ffef00,#ffec00,#ffe900,#ffe500,#ffe200,#ffde00,#ffdb00,#ffd900,#ffd700,#ffd500,#ffd300,#ffd100,#ffcf00,#ffcf00,#ffcf00,#ffcf00)"></i>
<i style="top:56px;height:2px;background:linear-gradient(90deg,#9dff62,#9fff60,#a1ff5e,#a4ff5b,#a6ff59,#a9ff56,#acff53,#b2ff4d,#b9ff46,#c1ff3e,#c8ff37,#cfff30,#d7ff28,#e2ff1d,#eeff11,#f9ff06,#fff900,#ffed00,#ffe100,#ffd500,#ffc900,#ffbd00,#ffb100,#ffa500,#ff9a00,#ff9a00,#ff9b00,#ff9d00,#ff9e00,#ffa000,#ffa200,#ffaa00,#ffb300,#ffbc00,#ffc400,#ffcd00,#ffd500,#ffd800,#ffda00,#ffdd00,#ffdf00,#ffe200,#ffe300,#ffe100,#ffdd00,#ffda00,#ffd600,#ffd300,#ffd000,#ffcd00,#ffcb00,#ffc800,#ffc600,#ffc300,#ffc100,#ffc100,#ffc100,#ffc100)"></i>
<i style="top:58px;height:2px;background:linear-gradient(90deg,#a2ff5d,#a4ff5b,#a7ff58,#aaff55,#adff52,#b0ff4f,#b3ff4c,#bbff44,#c3ff3c,#ccff33,#d4ff2b,#ddff22,#e6ff19,#f2ff0d,#fcfd03,#fff400,#ffe700,#ffdb00,#ffce00,#ffc300,#ffb700,#ffac00,#ffa100,#ff9500,#ff8c00,#ff8c00,#ff8e00,#ff9100,#ff9300,#ff9500,#ff9800,#ff9f00,#ffa700,#ffaf00,#ffb700,#ffbf00,#ffc600,#ffca00,#ffcd00,#ffd000,#ffd200,#ffd500,#ffd700,#ffd400,#ffd100,#ffce00,#ffca00,#ffc700,#ffc400,#ffc100,#ffbe00,#ffbb00,#ffb800,#ffb500,#ffb300,#ffb300,#ffb300,#ffb300)"></i>
<i style="top:60px;height:2px;background:linear-gradient(90deg,#a7ff58,#a9ff56,#adff52,#b0ff4f,#b3ff4c,#b7ff48,#bbff44,#c3ff3c,#cdff32,#d7ff28,#e0ff1f,#eaff15,#f4ff0b,#fefc01,#fff000,#ffe300,#ffd600,#ffc800,#ffbb00,#ffb000,#ffa600,#ff9b00,#ff9000,#ff8500,#ff7d00,#ff7e00,#ff8000,#ff8300,#ff8600,#ff8900,#ff8d00,#ff9400,#ff9b00,#ffa300,#ffaa00,#ffb100,#ffb800,#ffbc00,#ffbf00,#ffc200,#ffc600,#ffc900,#ffcb00,#ffc800,#ffc500,#ffc200,#ffbe00,#ffbb00,#ffb800,#ffb400,#ffb100,#ffae00,#ffab00,#ffa800,#ffa500,#ffa500,#ffa500,#ffa500)"></i>
<i style="top:62px;height:2px;background:linear-gradient(90deg,#acff53,#afff50,#b3ff4c,#b7ff48,#bbff44,#bfff40,#c3ff3c,#cdff32,#d8ff27,#e2ff1d,#edff12,#f7ff08,#fffb00,#ffee00,#ffe000,#ffd200,#ffc500,#ffb700,#ffa900,#ff9e00,#ff9400,#ff8900,#ff7f00,#ff7400,#ff6c00,#ff6d00,#ff7000,#ff7300,#ff7700,#ff7a00,#ff7e00,#ff8500,#ff8c00,#ff9400,#ff9b00,#ffa300,#ffaa00,#ffae00,#ffb100,#ffb500,#ffb900,#ffbc00,#ffbf00,#ffbd00,#ffb900,#ffb600,#ffb300,#ffb000,#ffad00,#ffaa00,#ffa600,#ffa300,#ff9f00,#ff9c00,#ff9900,#ff9900,#ff9900,#ff9900)"></i>
<i style="top:64px;height:2px;background:linear-gradient(90deg,#b1ff4e,#b4ff4b,#b9ff46,#beff41,#c2ff3d,#c7ff38,#cdff32,#d7ff28,#e3ff1c,#eeff11,#faff05,#fff900,#ffed00,#ffdf00,#ffd100,#ffc300,#ffb400,#ffa600,#ff9800,#ff8d00,#ff8200,#ff7700,#ff6c00,#ff6100,#ff5900,#ff5a00,#ff5d00,#ff6100,#ff6400,#ff6800,#ff6c00,#ff7300,#ff7b00,#ff8300,#ff8b00,#ff9400,#ff9b00,#ffa000,#ffa400,#ffa800,#ffac00,#ffb000,#ffb300,#ffb100,#ffae00,#ffab00,#ffa800,#ffa600,#ffa300,#ffa000,#ff9c00,#ff9900,#ff9500,#ff9200,#ff8f00,#ff8f00,#ff8f00,#ff8f00)"></i>
<i style="top:66px;height:2px;background:linear-gradient(90deg,#b5ff4a,#baff45,#c0ff3f,#c5ff3a,#cbff34,#d0ff2f,#d6ff29,#e2ff1d,#eeff11,#faff05,#fff700,#ffeb00,#ffde00,#ffd000,#ffc200,#ffb300,#ffa400,#ff9500,#ff8700,#ff7c00,#ff7000,#ff6500,#ff5a00,#ff4e00,#ff4500,#ff4700,#ff4a00,#ff4d00,#ff5100,#ff5400,#ff5900,#ff6100,#ff6a00,#ff7200,#ff7b00,#ff8400,#ff8c00,#ff9200,#ff9600,#ff9a00,#ff9f00,#ffa300,#ffa700,#ffa500,#ffa300,#ffa000,#ff9e00,#ff9c00,#ff9900,#ff9600,#ff9200,#ff8f00,#ff8c00,#ff8800,#ff8500,#ff8500,#ff8500,#ff8500)"></i>
<i style="top:68px;height:2px;background:linear-gradient(90deg,#baff45,#bfff40,#c6ff39,#ccff33,#d3ff2c,#d9ff26,#e1ff1e,#ecff13,#faff05,#fff700,#ffea00,#ffdd00,#ffd000,#ffc100,#ffb200,#ffa300,#ff9400,#ff8500,#ff7600,#ff6a00,#ff5e00,#ff5300,#ff4700,#ff3c00,#ff3300,#ff3400,#ff3700,#ff3a00,#ff3e00,#ff4100,#ff4600,#ff4e00,#ff5800,#ff6200,#ff6c00,#ff7500,#ff7e00,#ff8400,#ff8900,#ff8e00,#ff9200,#ff9700,#ff9b00,#ff9a00,#ff9800,#ff9600,#ff9400,#ff9200,#ff9000,#ff8d00,#ff8900,#ff8600,#ff8200,#ff7f00,#ff7c00,#ff7c00,#ff7c00,#ff7c00)"></i>
<i style="top:70px;height:2px;background:linear-gradient(90deg,#beff41,#c5ff3a,#ccff33,#d4ff2b,#dcff23,#e4ff1b,#ecff13,#f9ff06,#fff700,#ffea00,#ffdc00,#ffce00,#ffc000,#ffb100,#ffa100,#ff9100,#ff8200,#ff7200,#ff6300,#ff5700,#ff4c00,#ff4100,#ff3500,#ff2a00,#ff2100,#ff2200,#ff2500,#ff2900,#ff2c00,#ff2f00,#ff3300,#ff3d00,#ff4800,#ff5300,#ff5d00,#ff6800,#ff7200,#ff7800,#ff7d00,#ff8200,#ff8800,#ff8d00,#ff9100,#ff9000,#ff8f00,#ff8d00,#ff8c00,#ff8a00,#ff8800,#ff8500,#ff8200,#ff7e00,#ff7b00,#ff7700,#ff7500,#ff7400,#ff7300,#ff7300)"></i>
<i style="top:72px;height:2px;background:linear-gradient(90deg,#c1ff3e,#c9ff36,#d3ff2c,#dcff23,#e6ff19,#f0ff0f,#faff05,#fff700,#ffe900,#ffdb00,#ffcc00,#ffbe00,#ffb000,#ffa000,#ff8f00,#ff7f00,#ff6e00,#ff5e00,#ff4e00,#ff4300,#ff3900,#ff2e00,#ff2400,#ff1a00,#ff1200,#ff1300,#ff1500,#ff1800,#ff1b00,#ff1e00,#ff2200,#ff2d00,#ff3900,#ff4500,#ff5100,#ff5d00,#ff6700,#ff6e00,#ff7400,#ff7900,#ff7f00,#ff8500,#ff8900,#ff8900,#ff8800,#ff8600,#ff8500,#ff8400,#ff8300,#ff7f00,#ff7c00,#ff7900,#ff7500,#ff7200,#ff6f00,#ff6d00,#ff6c00,#ff6b00)"></i>
<i style="top:74px;height:2px;background:linear-gradient(90deg,#c4ff3b,#cdff32,#d9ff26,#e5ff1a,#f0ff0f,#fcff03,#fff600,#ffe800,#ffd900,#ffcb00,#ffbc00,#ffae00,#ff9f00,#ff8e00,#ff7d00,#ff6b00,#ff5a00,#ff4900,#ff3900,#ff2e00,#ff2500,#ff1c00,#ff1300,#ff0a00,#ff0300,#ff0400,#ff0600,#ff0900,#ff0b00,#ff0d00,#ff1200,#ff1d00,#ff2a00,#ff3700,#ff4500,#ff5200,#ff5d00,#ff6500,#ff6b00,#ff7100,#ff7700,#ff7d00,#ff8200,#ff8200,#ff8100,#ff8000,#ff8000,#ff7f00,#ff7e00,#ff7b00,#ff7700,#ff7400,#ff7000,#ff6d00,#ff6a00,#ff6800,#ff6600,#ff6400)"></i>
<i style="top:76px;height:2px;background:linear-gradient(90deg,#c7ff38,#d2ff2d,#e0ff1f,#edff12,#fbff04,#fff600,#ffe800,#ffd900,#ffca00,#ffbb00,#ffac00,#ff9d00,#ff8e00,#ff7c00,#ff6a00,#ff5800,#ff4700,#ff3500,#ff2400,#ff1b00,#ff1300,#ff0b00,#fe0300,#fa0000,#f30000,#f40000,#f60000,#f80000,#fa0000,#fc0100,#fe0300,#ff0e00,#ff1c00,#ff2a00,#ff3900,#ff4700,#ff5400,#ff5b00,#ff6200,#ff6800,#ff6e00,#ff7500,#ff7a00,#ff7b00,#ff7a00,#ff7a00,#ff7900,#ff7900,#ff7800,#ff7500,#ff7100,#ff6e00,#ff6b00,#ff6700,#ff6400,#ff6100,#ff5f00,#ff5d00)"></i>
<i style="top:78px;height:2px;background:linear-gradient(90deg,#cbff34,#d8ff27,#e7ff18,#f6ff09,#fff800,#ffe900,#ffda00,#ffca00,#ffbb00,#ffab00,#ff9c00,#ff8d00,#ff7d00,#ff6c00,#ff5a00,#ff4800,#ff3600,#ff2500,#ff1400,#ff0b00,#ff0400,#fb0000,#f30000,#ec0000,#e60000,#e60000,#e80000,#ea0000,#ed0000,#ef0000,#f30000,#fe0200,#ff1000,#ff1f00,#ff2e00,#ff3d00,#ff4a00,#ff5200,#ff5800,#ff5e00,#ff6500,#ff6b00,#ff7000,#ff7100,#ff7000,#ff7000,#ff6f00,#ff6f00,#ff6e00,#ff6b00,#ff6800,#ff6400,#ff6100,#ff5d00,#ff5a00,#ff5700,#ff5400,#ff5200)"></i>
<i style="top:80px;height:2px;background:linear-gradient(90deg,#d2ff2d,#dfff20,#f0ff0f,#fffd00,#ffed00,#ffdc00,#ffcb00,#ffbb00,#ffab00,#ff9c00,#ff8c00,#ff7c00,#ff6c00,#ff5c00,#ff4c00,#ff3b00,#ff2b00,#ff1b00,#ff0c00,#ff0200,#f90000,#f00000,#e80000,#e00000,#d90000,#da0000,#dd0000,#e00000,#e20000,#e50000,#e90000,#f70000,#ff0600,#ff1500,#ff2400,#ff3300,#ff4000,#ff4700,#ff4d00,#ff5300,#ff5900,#ff5f00,#ff6300,#ff6300,#ff6200,#ff6100,#ff6000,#ff5f00,#ff5e00,#ff5b00,#ff5700,#ff5400,#ff5100,#ff4d00,#ff4a00,#ff4700,#ff4500,#ff4300)"></i>
<i style="top:82px;height:2px;background:linear-gradient(90deg,#d9ff26,#e8ff17,#f9ff06,#fff300,#ffe100,#ffcf00,#ffbd00,#ffac00,#ff9c00,#ff8c00,#ff7c00,#ff6c00,#ff5c00,#ff4d00,#ff3f00,#ff3000,#ff2200,#ff1300,#ff0600,#fb0000,#f10000,#e80000,#de0000,#d50000,#cd0000,#cf0000,#d20000,#d60000,#d90000,#dd0000,#e20000,#ef0000,#fd0000,#ff0d00,#ff1b00,#ff2a00,#ff3600,#ff3d00,#ff4200,#ff4700,#ff4c00,#ff5100,#ff5500,#ff5400,#ff5200,#ff5100,#ff4f00,#ff4d00,#ff4b00,#ff4800,#ff4400,#ff4100,#ff3e00,#ff3a00,#ff3700,#ff3500,#ff3400,#ff3200)"></i>
<i style="top:84px;height:2px;background:linear-gradient(90deg,#e0ff1f,#f0ff0f,#fffb00,#ffe800,#ffd500,#ffc200,#ffaf00,#ff9e00,#ff8d00,#ff7d00,#ff6c00,#ff5b00,#ff4b00,#ff3e00,#ff3200,#ff2600,#ff1900,#ff0d00,#ff0100,#f50000,#ea0000,#df0000,#d50000,#ca0000,#c20000,#c40000,#c80000,#cc0000,#d10000,#d50000,#db0000,#e70000,#f50000,#ff0500,#ff1300,#ff2100,#ff2d00,#ff3300,#ff3700,#ff3b00,#ff4000,#ff4400,#ff4700,#ff4500,#ff4300,#ff4000,#ff3e00,#ff3b00,#ff3800,#ff3500,#ff3200,#ff2e00,#ff2b00,#ff2700,#ff2500,#ff2300,#ff2300,#ff2200)"></i>
<i style="top:86px;height:2px;background:linear-gradient(90deg,#e7ff18,#f7ff08,#fff200,#ffde00,#ffca00,#ffb600,#ffa200,#ff9100,#ff8000,#ff6f00,#ff5f00,#ff4e00,#ff3e00,#ff3200,#ff2700,#ff1d00,#ff1200,#ff0700,#fc0000,#f00000,#e50000,#d90000,#ce0000,#c20000,#b90000,#bc0000,#c10000,#c60000,#cb0000,#d00000,#d60000,#e30000,#f00000,#fe0000,#ff0c00,#ff1a00,#ff2600,#ff2b00,#ff2f00,#ff3200,#ff3600,#ff3a00,#ff3c00,#ff3a00,#ff3700,#ff3400,#ff3000,#ff2d00,#ff2a00,#ff2700,#ff2300,#ff2000,#ff1d00,#ff1900,#ff1600,#ff1600,#ff1500,#ff1500)"></i>
<i style="top:88px;height:2px;background:linear-gradient(90deg,#edff12,#feff01,#ffec00,#ffd700,#ffc200,#ffad00,#ff9900,#ff8800,#ff7700,#ff6600,#ff5600,#ff4500,#ff3600,#ff2b00,#ff2100,#ff1800,#ff0e00,#ff0500,#fa0000,#ee0000,#e30000,#d70000,#cb0000,#bf0000,#b60000,#b90000,#bf0000,#c50000,#cb0000,#d00000,#d70000,#e30000,#f00000,#fd0000,#ff0b00,#ff1800,#ff2300,#ff2800,#ff2b00,#ff2f00,#ff3200,#ff3500,#ff3800,#ff3500,#ff3200,#ff2e00,#ff2b00,#ff2800,#ff2400,#ff2100,#ff1e00,#ff1a00,#ff1700,#ff1300,#ff1100,#ff1000,#ff1000,#ff1000)"></i>
<i style="top:90px;height:2px;background:linear-gradient(90deg,#f2ff0d,#fffb00,#ffe600,#ffd100,#ffbb00,#ffa600,#ff9200,#ff8000,#ff7000,#ff6000,#ff5000,#ff3f00,#ff3000,#ff2600,#ff1e00,#ff1500,#ff0c00,#ff0400,#fa0000,#ee0000,#e20000,#d60000,#ca0000,#be0000,#b50000,#b90000,#c00000,#c70000,#cd0000,#d40000,#dc0000,#e70000,#f30000,#ff0000,#ff0c00,#ff1800,#ff2300,#ff2700,#ff2b00,#ff2e00,#ff3100,#ff3500,#ff3700,#ff3500,#ff3100,#ff2e00,#ff2a00,#ff2700,#ff2400,#ff2000,#ff1d00,#ff1900,#ff1600,#ff1200,#ff1000,#ff0f00,#ff0f00,#ff0f00)"></i>
<i style="top:92px;height:2px;background:linear-gradient(90deg,#f6ff09,#fff600,#ffe000,#ffcb00,#ffb500,#ff9f00,#ff8b00,#ff7a00,#ff6a00,#ff5a00,#ff4a00,#ff3a00,#ff2c00,#ff2200,#ff1a00,#ff1300,#ff0b00,#ff0300,#f90000,#ee0000,#e20000,#d60000,#ca0000,#bf0000,#b60000,#ba0000,#c20000,#c90000,#d10000,#d80000,#e00000,#eb0000,#f60000,#ff0200,#ff0e00,#ff1900,#ff2300,#ff2700,#ff2b00,#ff2e00,#ff3200,#ff3500,#ff3700,#ff3500,#ff3100,#ff2e00,#ff2a00,#ff2700,#ff2400,#ff2000,#ff1d00,#ff1900,#ff1600,#ff1300,#ff1000,#ff0f00,#ff0f00,#ff0f00)"></i>
<i style="top:94px;height:2px;background:linear-gradient(90deg,#fbff04,#fff100,#ffdb00,#ffc600,#ffb000,#ff9a00,#ff8500,#ff7500,#ff6500,#ff5600,#ff4600,#ff3700,#ff2800,#ff2000,#ff1900,#ff1100,#ff0a00,#ff0300,#fa0000,#ef0000,#e30000,#d80000,#cc0000,#c00000,#b80000,#bd0000,#c50000,#cd0000,#d50000,#dd0000,#e60000,#f00000,#fa0000,#ff0600,#ff1000,#ff1b00,#ff2400,#ff2800,#ff2c00,#ff2f00,#ff3200,#ff3600,#ff3800,#ff3600,#ff3200,#ff2f00,#ff2c00,#ff2800,#ff2500,#ff2200,#ff1e00,#ff1b00,#ff1800,#ff1400,#ff1200,#ff1100,#ff1100,#ff1100)"></i>
<i style="top:96px;height:2px;background:linear-gradient(90deg,#feff01,#ffee00,#ffd900,#ffc300,#ffae00,#ff9800,#ff8400,#ff7400,#ff6500,#ff5500,#ff4600,#ff3700,#ff2a00,#ff2100,#ff1a00,#ff1300,#ff0b00,#ff0400,#fb0000,#f10000,#e70000,#dc0000,#d10000,#c70000,#bf0000,#c40000,#cd0000,#d50000,#dd0000,#e50000,#ed0000,#f70000,#ff0200,#ff0b00,#ff1500,#ff1e00,#ff2700,#ff2b00,#ff2f00,#ff3200,#ff3500,#ff3900,#ff3b00,#ff3900,#ff3600,#ff3300,#ff3000,#ff2c00,#ff2900,#ff2600,#ff2300,#ff2000,#ff1d00,#ff1a00,#ff1700,#ff1700,#ff1700,#ff1700)"></i>
<i style="top:98px;height:2px;background:linear-gradient(90deg,#fffd00,#ffec00,#ffd800,#ffc300,#ffae00,#ff9900,#ff8500,#ff7600,#ff6700,#ff5800,#ff4a00,#ff3b00,#ff2e00,#ff2500,#ff1d00,#ff1600,#ff0e00,#ff0700,#fe0000,#f50000,#ec0000,#e30000,#da0000,#d10000,#ca0000,#cf0000,#d70000,#df0000,#e70000,#ef0000,#f70000,#fe0100,#ff0900,#ff1200,#ff1b00,#ff2400,#ff2b00,#ff3000,#ff3300,#ff3600,#ff3a00,#ff3d00,#ff4000,#ff3e00,#ff3b00,#ff3800,#ff3600,#ff3300,#ff3000,#ff2d00,#ff2b00,#ff2800,#ff2500,#ff2300,#ff2000,#ff2000,#ff2000,#ff2000)"></i>
<i style="top:100px;height:2px;background:linear-gradient(90deg,#fffb00,#ffeb00,#ffd700,#ffc300,#ffaf00,#ff9b00,#ff8800,#ff7900,#ff6b00,#ff5c00,#ff4e00,#ff4000,#ff3200,#ff2900,#ff2200,#ff1a00,#ff1200,#ff0a00,#ff0200,#f90000,#f20000,#ea0000,#e30000,#db0000,#d60000,#db0000,#e20000,#ea0000,#f10000,#f90000,#fe0200,#ff0900,#ff1100,#ff1900,#ff2100,#ff2900,#ff3000,#ff3500,#ff3800,#ff3b00,#ff3f00,#ff4200,#ff4400,#ff4300,#ff4100,#ff3e00,#ff3c00,#ff3a00,#ff3700,#ff3500,#ff3300,#ff3000,#ff2e00,#ff2c00,#ff2a00,#ff2a00,#ff2a00,#ff2a00)"></i>
<i style="top:102px;height:2px;background:linear-gradient(90deg,#fffb00,#ffeb00,#ffd800,#ffc500,#ffb200,#ff9f00,#ff8d00,#ff7e00,#ff7000,#ff6300,#ff5500,#ff4700,#ff3a00,#ff3000,#ff2800,#ff1f00,#ff1700,#ff0f00,#ff0600,#fe0100,#f90000,#f20000,#ec0000,#e60000,#e20000,#e70000,#ee0000,#f50000,#fc0000,#ff0400,#ff0b00,#ff1300,#ff1a00,#ff2100,#ff2800,#ff2f00,#ff3600,#ff3a00,#ff3d00,#ff4000,#ff4300,#ff4600,#ff4900,#ff4700,#ff4500,#ff4300,#ff4100,#ff3f00,#ff3d00,#ff3b00,#ff3900,#ff3700,#ff3500,#ff3300,#ff3200,#ff3200,#ff3200,#ff3200)"></i>
<i style="top:104px;height:2px;background:linear-gradient(90deg,#fdfe02,#fff200,#ffe000,#ffce00,#ffbd00,#ffab00,#ff9a00,#ff8c00,#ff7e00,#ff7100,#ff6300,#ff5500,#ff4800,#ff3e00,#ff3500,#ff2c00,#ff2200,#ff1900,#ff1000,#ff0a00,#ff0400,#fd0100,#f80000,#f20000,#ee0000,#f30000,#fa0000,#ff0300,#ff0900,#ff1100,#ff1800,#ff1e00,#ff2400,#ff2b00,#ff3100,#ff3800,#ff3d00,#ff4000,#ff4300,#ff4500,#ff4700,#ff4a00,#ff4b00,#ff4a00,#ff4800,#ff4600,#ff4400,#ff4200,#ff4000,#ff3e00,#ff3c00,#ff3a00,#ff3800,#ff3600,#ff3400,#ff3400,#ff3400,#ff3400)"></i>
<i style="top:106px;height:2px;background:linear-gradient(90deg,#f3ff0c,#fefd01,#ffee00,#ffde00,#ffcf00,#ffbf00,#ffb000,#ffa200,#ff9400,#ff8600,#ff7900,#ff6b00,#ff5e00,#ff5300,#ff4900,#ff3e00,#ff3400,#ff2a00,#ff2000,#ff1900,#ff1200,#ff0c00,#ff0600,#fd0100,#fa0000,#fe0200,#ff0800,#ff0f00,#ff1700,#ff1e00,#ff2500,#ff2b00,#ff3100,#ff3600,#ff3c00,#ff4200,#ff4600,#ff4800,#ff4900,#ff4a00,#ff4b00,#ff4c00,#ff4c00,#ff4a00,#ff4800,#ff4500,#ff4300,#ff4100,#ff3e00,#ff3c00,#ff3a00,#ff3700,#ff3500,#ff3300,#ff3100,#ff3100,#ff3100,#ff3100)"></i>
<i style="top:108px;height:2px;background:linear-gradient(90deg,#e7ff18,#f3ff0c,#fefc01,#fff000,#ffe300,#ffd500,#ffc700,#ffba00,#ffac00,#ff9e00,#ff9100,#ff8300,#ff7600,#ff6a00,#ff5e00,#ff5300,#ff4700,#ff3c00,#ff3100,#ff2900,#ff2200,#ff1b00,#ff1300,#ff0c00,#ff0700,#ff0d00,#ff1500,#ff1d00,#ff2400,#ff2c00,#ff3400,#ff3900,#ff3e00,#ff4200,#ff4700,#ff4c00,#ff5000,#ff5000,#ff4f00,#ff4f00,#ff4e00,#ff4d00,#ff4c00,#ff4a00,#ff4700,#ff4400,#ff4200,#ff3f00,#ff3c00,#ff3900,#ff3700,#ff3400,#ff3100,#ff2e00,#ff2c00,#ff2c00,#ff2c00,#ff2c00)"></i>
<i style="top:110px;height:2px;background:linear-gradient(90deg,#dfff20,#e8ff17,#f4ff0b,#fefe01,#fff300,#ffe700,#ffdc00,#ffce00,#ffc100,#ffb400,#ffa600,#ff9900,#ff8c00,#ff7f00,#ff7200,#ff6600,#ff5900,#ff4d00,#ff4100,#ff3800,#ff3100,#ff2900,#ff2100,#ff1900,#ff1400,#ff1900,#ff2200,#ff2a00,#ff3200,#ff3a00,#ff4200,#ff4700,#ff4b00,#ff4f00,#ff5300,#ff5700,#ff5a00,#ff5800,#ff5600,#ff5400,#ff5200,#ff5000,#ff4d00,#ff4a00,#ff4700,#ff4400,#ff4100,#ff3e00,#ff3b00,#ff3800,#ff3500,#ff3200,#ff2f00,#ff2b00,#ff2900,#ff2900,#ff2900,#ff2900)"></i>
<i style="top:112px;height:2px;background:linear-gradient(90deg,#e7ff18,#efff10,#f8ff07,#fefc01,#fff300,#ffea00,#ffe100,#ffd500,#ffc900,#ffbc00,#ffb000,#ffa400,#ff9800,#ff8b00,#ff7f00,#ff7300,#ff6700,#ff5b00,#ff4f00,#ff4600,#ff3e00,#ff3600,#ff2e00,#ff2500,#ff2000,#ff2600,#ff2f00,#ff3700,#ff4000,#ff4900,#ff5000,#ff5500,#ff5800,#ff5c00,#ff5f00,#ff6300,#ff6500,#ff6300,#ff6000,#ff5d00,#ff5a00,#ff5700,#ff5300,#ff5000,#ff4d00,#ff4900,#ff4600,#ff4300,#ff3f00,#ff3c00,#ff3900,#ff3500,#ff3200,#ff2f00,#ff2c00,#ff2c00,#ff2c00,#ff2c00)"></i>
<i style="top:114px;height:2px;background:linear-gradient(90deg,#fef701,#fff300,#ffed00,#ffe600,#ffe000,#ffd900,#ffd200,#ffc900,#ffbf00,#ffb500,#ffab00,#ffa100,#ff9800,#ff8d00,#ff8300,#ff7800,#ff6e00,#ff6400,#ff5a00,#ff5100,#ff4900,#ff4100,#ff3900,#ff3100,#ff2c00,#ff3200,#ff3c00,#ff4500,#ff4e00,#ff5700,#ff5f00,#ff6300,#ff6600,#ff6a00,#ff6d00,#ff7100,#ff7300,#ff7100,#ff6d00,#ff6a00,#ff6600,#ff6300,#ff6000,#ff5c00,#ff5900,#ff5500,#ff5200,#ff4f00,#ff4b00,#ff4800,#ff4400,#ff4100,#ff3e00,#ff3a00,#ff3700,#ff3700,#ff3700,#ff3700)"></i>
<i style="top:116px;height:2px;background:linear-gradient(90deg,#ffd300,#ffd000,#ffcc00,#ffc900,#ffc500,#ffc100,#ffbd00,#ffb700,#ffaf00,#ffa800,#ffa100,#ff9a00,#ff9300,#ff8b00,#ff8300,#ff7b00,#ff7300,#ff6b00,#ff6300,#ff5b00,#ff5400,#ff4c00,#ff4500,#ff3d00,#ff3800,#ff3f00,#ff4800,#ff5200,#ff5b00,#ff6500,#ff6d00,#ff7200,#ff7500,#ff7800,#ff7c00,#ff7f00,#ff8100,#ff7f00,#ff7c00,#ff7800,#ff7500,#ff7100,#ff6e00,#ff6b00,#ff6700,#ff6400,#ff6000,#ff5d00,#ff5a00,#ff5600,#ff5300,#ff4f00,#ff4c00,#ff4800,#ff4600,#ff4500,#ff4500,#ff4500)"></i>
<i style="top:118px;height:2px;background:linear-gradient(90deg,#ffaf00,#ffae00,#ffad00,#ffac00,#ffab00,#ffaa00,#ffa900,#ffa500,#ffa100,#ff9c00,#ff9800,#ff9400,#ff8f00,#ff8900,#ff8400,#ff7e00,#ff7800,#ff7300,#ff6d00,#ff6600,#ff5f00,#ff5700,#ff5000,#ff4900,#ff4500,#ff4c00,#ff5600,#ff5f00,#ff6900,#ff7300,#ff7c00,#ff8000,#ff8400,#ff8700,#ff8a00,#ff8e00,#ff9000,#ff8e00,#ff8a00,#ff8700,#ff8400,#ff8000,#ff7d00,#ff7a00,#ff7600,#ff7300,#ff6f00,#ff6c00,#ff6900,#ff6500,#ff6200,#ff5f00,#ff5b00,#ff5800,#ff5500,#ff5500,#ff5500,#ff5500)"></i>
<i style="top:120px;height:2px;background:linear-gradient(90deg,#ff9800,#ff9900,#ff9900,#ff9a00,#ff9b00,#ff9c00,#ff9c00,#ff9b00,#ff9900,#ff9700,#ff9500,#ff9200,#ff9000,#ff8c00,#ff8800,#ff8400,#ff8000,#ff7c00,#ff7800,#ff7200,#ff6b00,#ff6400,#ff5e00,#ff5700,#ff5300,#ff5a00,#ff6400,#ff6e00,#ff7800,#ff8100,#ff8a00,#ff8f00,#ff9300,#ff9600,#ff9a00,#ff9e00,#ffa000,#ff9e00,#ff9b00,#ff9800,#ff9500,#ff9200,#ff8f00,#ff8b00,#ff8800,#ff8500,#ff8200,#ff7f00,#ff7c00,#ff7900,#ff7600,#ff7300,#ff7000,#ff6c00,#ff6a00,#ff6a00,#ff6a00,#ff6a00)"></i>
<i style="top:122px;height:2px;background:linear-gradient(90deg,#ff9600,#ff9700,#ff9800,#ff9900,#ff9a00,#ff9c00,#ff9d00,#ff9c00,#ff9c00,#ff9c00,#ff9b00,#ff9b00,#ff9a00,#ff9700,#ff9300,#ff9000,#ff8c00,#ff8900,#ff8500,#ff8000,#ff7a00,#ff7400,#ff6e00,#ff6800,#ff6400,#ff6b00,#ff7500,#ff7e00,#ff8700,#ff9100,#ff9900,#ff9e00,#ffa200,#ffa700,#ffab00,#ffaf00,#ffb200,#ffb100,#ffae00,#ffac00,#ffaa00,#ffa700,#ffa500,#ffa200,#ffa000,#ff9d00,#ff9b00,#ff9800,#ff9600,#ff9300,#ff9100,#ff8e00,#ff8c00,#ff8900,#ff8700,#ff8700,#ff8700,#ff8700)"></i>
<i style="top:124px;height:2px;background:linear-gradient(90deg,#ff9e00,#ff9f00,#ffa000,#ffa100,#ffa100,#ffa200,#ffa300,#ffa400,#ffa500,#ffa600,#ffa700,#ffa700,#ffa800,#ffa500,#ffa200,#ff9e00,#ff9b00,#ff9700,#ff9400,#ff8f00,#ff8a00,#ff8500,#ff7f00,#ff7a00,#ff7700,#ff7e00,#ff8600,#ff8f00,#ff9700,#ffa000,#ffa800,#ffad00,#ffb300,#ffb800,#ffbd00,#ffc200,#ffc600,#ffc500,#ffc300,#ffc200,#ffc000,#ffbe00,#ffbc00,#ffbb00,#ffb900,#ffb700,#ffb600,#ffb400,#ffb200,#ffb100,#ffaf00,#ffad00,#ffab00,#ffaa00,#ffa800,#ffa800,#ffa800,#ffa800)"></i>
<i style="top:126px;height:2px;background:linear-gradient(90deg,#ffa800,#ffa900,#ffa900,#ffaa00,#ffaa00,#ffaa00,#ffab00,#ffad00,#ffaf00,#ffb100,#ffb300,#ffb500,#ffb600,#ffb400,#ffb000,#ffad00,#ffaa00,#ffa600,#ffa300,#ff9f00,#ff9a00,#ff9600,#ff9200,#ff8d00,#ff8b00,#ff9100,#ff9800,#ffa000,#ffa800,#ffb000,#ffb700,#ffbd00,#ffc300,#ffc900,#ffcf00,#ffd500,#ffd900,#ffd900,#ffd800,#ffd700,#ffd600,#ffd500,#ffd400,#ffd300,#ffd300,#ffd200,#ffd100,#ffd000,#ffcf00,#ffce00,#ffcd00,#ffcc00,#ffcb00,#ffca00,#ffca00,#ffc900,#ffc900,#ffc900)"></i>
<i style="top:128px;height:2px;background:linear-gradient(90deg,#ffb500,#ffb500,#ffb600,#ffb600,#ffb600,#ffb600,#ffb700,#ffb900,#ffbc00,#ffbe00,#ffc100,#ffc400,#ffc600,#ffc400,#ffc100,#ffbe00,#ffbb00,#ffb800,#ffb500,#ffb100,#ffae00,#ffab00,#ffa700,#ffa400,#ffa200,#ffa700,#ffae00,#ffb500,#ffbc00,#ffc200,#ffc900,#ffcf00,#ffd600,#ffdc00,#ffe200,#ffe800,#ffed00,#ffee00,#ffed00,#ffec00,#ffec00,#ffeb00,#ffea00,#ffea00,#ffe900,#ffe900,#ffe800,#ffe800,#ffe700,#ffe700,#ffe700,#ffe700,#ffe700,#ffe700,#ffe700,#ffe700,#ffe700,#ffe700)"></i>
<i style="top:130px;height:2px;background:linear-gradient(90deg,#ffc900,#ffc900,#ffc900,#ffc900,#ffc900,#ffc900,#ffc900,#ffcb00,#ffce00,#ffd100,#ffd300,#ffd600,#ffd800,#ffd700,#ffd500,#ffd300,#ffd100,#ffcf00,#ffcd00,#ffcb00,#ffc800,#ffc600,#ffc400,#ffc200,#ffc000,#ffc500,#ffcb00,#ffd000,#ffd600,#ffdc00,#ffe200,#ffe700,#ffed00,#fff200,#fff800,#fdfc02,#fbfe04,#fbfe04,#fcfd03,#fcfd03,#fdfc02,#fefc01,#fefc01,#fffb00,#fffa00,#fffa00,#fff900,#fff800,#fff800,#fff800,#fff900,#fff900,#fffa00,#fffb00,#fffb00,#fffb00,#fffb00,#fffb00)"></i>
<i style="top:132px;height:2px;background:linear-gradient(90deg,#ffe000,#ffe000,#ffe000,#ffe000,#ffe000,#ffe000,#ffe000,#ffe200,#ffe400,#ffe600,#ffe800,#ffea00,#ffeb00,#ffeb00,#ffeb00,#ffea00,#ffea00,#ffea00,#ffe900,#ffe800,#ffe700,#ffe600,#ffe500,#ffe400,#ffe400,#ffe700,#ffec00,#fff000,#fff500,#fef801,#fcfb03,#fafd05,#f7ff08,#f3ff0c,#eeff11,#eaff15,#e6ff19,#e8ff17,#eaff15,#ecff13,#eeff11,#f1ff0e,#f3ff0c,#f5ff0a,#f6ff09,#f8ff07,#f9ff06,#fbff04,#fcff03,#faff05,#f9ff06,#f7ff08,#f6ff09,#f4ff0b,#f3ff0c,#f3ff0c,#f3ff0c,#f3ff0c)"></i>
<i style="top:134px;height:2px;background:linear-gradient(90deg,#fff800,#fff800,#fff800,#fff800,#fff800,#fff800,#fff800,#fff900,#fffa00,#fefb01,#fefb01,#fdfc02,#fdfc02,#fcfd03,#fbfd04,#fafe05,#fafe05,#f9ff06,#f8ff07,#f8ff07,#f8ff07,#f7ff08,#f7ff08,#f7fe08,#f7ff08,#f4ff0b,#f1ff0e,#edff12,#eaff15,#e7ff18,#e3ff1c,#e0ff1f,#ddff22,#d9ff26,#d6ff29,#d3ff2c,#d1ff2e,#d3ff2c,#d7ff28,#daff25,#deff21,#e1ff1e,#e4ff1b,#e7ff18,#e9ff16,#ebff14,#eeff11,#f0ff0f,#f2ff0d,#f0ff0f,#eeff11,#ebff14,#e9ff16,#e7ff18,#e5ff1a,#e4ff1b,#e4ff1b,#e4ff1b)"></i>
<i style="top:136px;height:2px;background:linear-gradient(90deg,#f0ff0f,#efff10,#efff10,#efff10,#efff10,#efff10,#efff10,#efff10,#efff10,#eeff11,#eeff11,#edff12,#edff12,#eaff15,#e8ff17,#e5ff1a,#e3ff1c,#e0ff1f,#deff21,#ddff22,#dcff23,#dbff24,#daff25,#d8ff27,#d7ff28,#d5ff2a,#d3ff2c,#d0ff2f,#ceff31,#ccff33,#caff35,#c7ff38,#c5ff3a,#c3ff3c,#c1ff3e,#beff41,#bdff42,#c1ff3e,#c5ff3a,#caff35,#ceff31,#d2ff2d,#d7ff28,#daff25,#ddff22,#e0ff1f,#e3ff1c,#e5ff1a,#e7ff18,#e5ff1a,#e2ff1d,#dfff20,#ddff22,#daff25,#d7ff28,#d7ff28,#d7ff28,#d7ff28)"></i>
<i style="top:138px;height:2px;background:linear-gradient(90deg,#deff21,#deff21,#deff21,#deff21,#deff21,#deff21,#deff21,#deff21,#ddff22,#ddff22,#ddff22,#ddff22,#dcff23,#daff25,#d7ff28,#d5ff2a,#d2ff2d,#cfff30,#ccff33,#cbff34,#c9ff36,#c7ff38,#c6ff39,#c4ff3b,#c3ff3c,#c1ff3e,#bfff40,#bdff42,#bbff44,#baff45,#b8ff47,#b6ff49,#b5ff4a,#b3ff4c,#b2ff4d,#b0ff4f,#b0ff4f,#b4ff4b,#b8ff47,#bdff42,#c2ff3d,#c6ff39,#cbff34,#ceff31,#d1ff2e,#d4ff2b,#d7ff28,#daff25,#dcff23,#daff25,#d8ff27,#d5ff2a,#d2ff2d,#cfff30,#cdff32,#cdff32,#cdff32,#cdff32)"></i>
<i style="top:140px;height:2px;background:linear-gradient(90deg,#d1ff2e,#d1ff2e,#d1ff2e,#d1ff2e,#d0ff2f,#d0ff2f,#d0ff2f,#d0ff2f,#cfff30,#cfff30,#cfff30,#cfff30,#ceff31,#ccff33,#caff35,#c8ff37,#c6ff39,#c3ff3c,#c1ff3e,#bfff40,#beff41,#bcff43,#baff45,#b9ff46,#b7ff48,#b5ff4a,#b3ff4c,#b2ff4d,#b0ff4f,#aeff51,#adff52,#acff53,#aaff55,#a9ff56,#a8ff57,#a7ff58,#a7ff58,#abff54,#afff50,#b4ff4b,#b8ff47,#bdff42,#c1ff3e,#c4ff3b,#c6ff39,#c9ff36,#ccff33,#cfff30,#d0ff2f,#cfff30,#cdff32,#cbff34,#c9ff36,#c7ff38,#c5ff3a,#c5ff3a,#c5ff3a,#c5ff3a)"></i>
<i style="top:142px;height:2px;background:linear-gradient(90deg,#c5ff3a,#c5ff3a,#c5ff3a,#c4ff3b,#c4ff3b,#c3ff3c,#c3ff3c,#c3ff3c,#c2ff3d,#c2ff3d,#c2ff3d,#c1ff3e,#c1ff3e,#bfff40,#beff41,#bcff43,#bbff44,#b9ff46,#b7ff48,#b6ff49,#b4ff4b,#b2ff4d,#b0ff4f,#afff50,#adff52,#abff54,#aaff55,#a8ff57,#a6ff59,#a5ff5a,#a3ff5c,#a2ff5d,#a2ff5d,#a1ff5e,#a0ff5f,#a0ff5f,#a0ff5f,#a3ff5c,#a7ff58,#abff54,#afff50,#b3ff4c,#b7ff48,#baff45,#bcff43,#beff41,#c1ff3e,#c3ff3c,#c5ff3a,#c4ff3b,#c3ff3c,#c1ff3e,#c0ff3f,#bfff40,#beff41,#beff41,#beff41,#beff41)"></i>
<i style="top:144px;height:2px;background:linear-gradient(90deg,#baff45,#baff45,#baff45,#b9ff46,#b9ff46,#b8ff47,#b8ff47,#b7ff48,#b7ff48,#b6ff49,#b6ff49,#b5ff4a,#b5ff4a,#b4ff4b,#b3ff4c,#b2ff4d,#b1ff4e,#b0ff4f,#afff50,#adff52,#abff54,#aaff55,#a8ff57,#a6ff59,#a4ff5b,#a3ff5c,#a1ff5e,#9fff60,#9eff61,#9cff63,#9aff65,#9aff65,#9aff65,#99ff66,#99ff66,#99ff66,#99ff66,#9cff63,#a0ff5f,#a4ff5b,#a8ff57,#abff54,#afff50,#b1ff4e,#b3ff4c,#b5ff4a,#b7ff48,#b9ff46,#baff45,#baff45,#b9ff46,#b9ff46,#b8ff47,#b8ff47,#b7ff48,#b7ff48,#b7ff48,#b7ff48)"></i>
<i style="top:146px;height:1px;background:linear-gradient(90deg,#b5ff4a,#b5ff4a,#b4ff4b,#b3ff4c,#b3ff4c,#b2ff4d,#b2ff4d,#b1ff4e,#b1ff4e,#b0ff4f,#b0ff4f,#afff50,#afff50,#aeff51,#adff52,#acff53,#acff53,#abff54,#aaff55,#a9ff56,#a7ff58,#a5ff5a,#a4ff5b,#a2ff5d,#a0ff5f,#9eff61,#9dff62,#9bff64,#99ff66,#98ff67,#96ff69,#96ff69,#96ff69,#96ff69,#96ff69,#96ff69,#96ff69,#99ff66,#9dff62,#a0ff5f,#a4ff5b,#a7ff58,#aaff55,#acff53,#aeff51,#b0ff4f,#b2ff4d,#b3ff4c,#b5ff4a,#b5ff4a,#b5ff4a,#b5ff4a,#b4ff4b,#b4ff4b,#b4ff4b,#b4ff4b,#b4ff4b,#b4ff4b)"></i>
</div>
<div class="cb" style="left:275.80px;top:242.00px;width:12.00px;height:167.90px;background:linear-gradient(180deg,#000080,#00009f,#0000bf,#0000df,#0000ff,#0020ff,#0040ff,#0060ff,#0080ff,#009fff,#00bfff,#00dfff,#00ffff,#20ffdf,#40ffbf,#60ff9f,#80ff80,#9fff60,#bfff40,#dfff20,#ffff00,#ffdf00,#ffbf00,#ff9f00,#ff8000,#ff6000,#ff4000,#ff2000,#ff0000,#df0000,#bf0000,#9f0000,#800000)"></div>
<div class="f" style="left:395px;top:256px;width:227px;height:147px;clip-path:polygon(0.9px 30.2px,6.9px 30.2px,6.9px 28.5px,12.9px 28.5px,12.9px 26.7px,19.0px 26.7px,19.0px 25.0px,25.0px 25.0px,25.0px 23.2px,31.0px 23.2px,31.0px 21.4px,37.0px 21.4px,37.0px 19.7px,43.0px 19.7px,43.0px 17.9px,49.0px 17.9px,49.0px 16.2px,55.0px 16.2px,55.0px 14.4px,61.1px 14.4px,61.1px 12.6px,67.1px 12.6px,67.1px 10.9px,73.1px 10.9px,73.1px 9.1px,79.1px 9.1px,79.1px 7.4px,85.1px 7.4px,85.1px 5.6px,91.1px 5.6px,91.1px 3.8px,97.1px 3.8px,97.1px 2.1px,103.1px 2.1px,103.1px 0.3px,109.2px 0.3px,109.2px 0.3px,226.3px 0.3px,226.3px 146.1px,64.2px 146.1px,64.2px 143.5px,40.0px 143.5px,40.0px 141.9px,15.1px 141.9px,15.1px 139.8px,0.9px 139.8px)">
<i style="top:0px;height:2px;background:linear-gradient(90deg,#39ffc6,#39ffc6,#39ffc6,#39ffc6,#39ffc6,#39ffc6,#39ffc6,#39ffc6,#39ffc6,#39ffc6,#39ffc6,#39ffc6,#39ffc6,#39ffc6,#39ffc6,#39ffc6,#38ffc7,#38ffc7,#38ffc7,#38ffc7,#38ffc7,#39ffc6,#39ffc6,#39ffc6,#39ffc6,#39ffc6,#39ffc6,#39ffc6,#39ffc6,#39ffc6,#38ffc7,#35ffca,#32ffcd,#2effd1,#2bffd4,#27ffd8,#25ffda,#24ffdb,#25ffda,#25ffda,#25ffda,#25ffda,#26ffd9,#27ffd8,#29ffd6,#2bffd4,#2cffd3,#2effd1,#30ffcf,#32ffcd,#33ffcc,#35ffca,#37ffc8,#39ffc6,#3affc5,#3affc5,#3affc5,#3affc5)"></i>
<i style="top:2px;height:2px;background:linear-gradient(90deg,#3bffc4,#3bffc4,#3bffc4,#3bffc4,#3bffc4,#3bffc4,#3bffc4,#3bffc4,#3bffc4,#3bffc4,#3bffc4,#3bffc4,#3bffc4,#3affc5,#3affc5,#3affc5,#39ffc6,#39ffc6,#38ffc7,#39ffc6,#39ffc6,#3affc5,#3affc5,#3affc5,#3bffc4,#3bffc4,#3affc5,#3affc5,#3affc5,#3affc5,#39ffc6,#36ffc9,#32ffcd,#2fffd0,#2cffd3,#28ffd7,#26ffd9,#26ffd9,#26ffd9,#27ffd8,#27ffd8,#28ffd7,#28ffd7,#2affd5,#2cffd3,#2dffd2,#2fffd0,#31ffce,#33ffcc,#34ffcb,#36ffc9,#38ffc7,#3affc5,#3cffc3,#3effc1,#3effc1,#3effc1,#3effc1)"></i>
<i style="top:4px;height:2px;background:linear-gradient(90deg,#3dffc2,#3dffc2,#3dffc2,#3dffc2,#3dffc2,#3dffc2,#3dffc2,#3dffc2,#3dffc2,#3dffc2,#3dffc2,#3dffc2,#3dffc2,#3cffc3,#3bffc4,#3bffc4,#3affc5,#39ffc6,#38ffc7,#39ffc6,#3affc5,#3bffc4,#3bffc4,#3cffc3,#3dffc2,#3dffc2,#3cffc3,#3cffc3,#3bffc4,#3bffc4,#3affc5,#37ffc8,#34ffcb,#30ffcf,#2dffd2,#29ffd6,#27ffd8,#27ffd8,#28ffd7,#29ffd6,#2affd5,#2affd5,#2bffd4,#2dffd2,#2fffd0,#30ffcf,#32ffcd,#34ffcb,#36ffc9,#38ffc7,#3affc5,#3cffc3,#3effc1,#40ffbf,#42ffbd,#42ffbd,#42ffbd,#42ffbd)"></i>
<i style="top:6px;height:2px;background:linear-gradient(90deg,#3fffc0,#3fffc0,#3fffc0,#3fffc0,#3fffc0,#3fffc0,#3fffc0,#3fffc0,#3fffc0,#3fffc0,#3fffc0,#3fffc0,#3fffc0,#3effc1,#3dffc2,#3cffc3,#3affc5,#39ffc6,#38ffc7,#39ffc6,#3affc5,#3cffc3,#3dffc2,#3effc1,#3fffc0,#3fffc0,#3effc1,#3dffc2,#3dffc2,#3cffc3,#3bffc4,#38ffc7,#35ffca,#31ffce,#2effd1,#2affd5,#28ffd7,#29ffd6,#2affd5,#2bffd4,#2cffd3,#2dffd2,#2fffd0,#30ffcf,#32ffcd,#34ffcb,#35ffca,#37ffc8,#39ffc6,#3bffc4,#3dffc2,#40ffbf,#42ffbd,#44ffbb,#46ffb9,#46ffb9,#46ffb9,#46ffb9)"></i>
<i style="top:8px;height:2px;background:linear-gradient(90deg,#41ffbe,#41ffbe,#41ffbe,#41ffbe,#41ffbe,#41ffbe,#41ffbe,#41ffbe,#41ffbe,#41ffbe,#41ffbe,#41ffbe,#41ffbe,#40ffbf,#3effc1,#3dffc2,#3bffc4,#3affc5,#39ffc6,#3affc5,#3bffc4,#3dffc2,#3effc1,#40ffbf,#41ffbe,#40ffbf,#40ffbf,#3fffc0,#3effc1,#3dffc2,#3cffc3,#39ffc6,#36ffc9,#32ffcd,#2fffd0,#2bffd4,#29ffd6,#2affd5,#2bffd4,#2dffd2,#2fffd0,#30ffcf,#32ffcd,#33ffcc,#35ffca,#37ffc8,#38ffc7,#3affc5,#3cffc3,#3effc1,#41ffbe,#43ffbc,#46ffb9,#48ffb7,#4affb5,#4affb5,#4affb5,#4affb5)"></i>
<i style="top:10px;height:2px;background:linear-gradient(90deg,#43ffbc,#43ffbc,#43ffbc,#43ffbc,#43ffbc,#43ffbc,#43ffbc,#43ffbc,#43ffbc,#43ffbc,#43ffbc,#43ffbc,#43ffbc,#42ffbd,#40ffbf,#3effc1,#3cffc3,#3affc5,#39ffc6,#3affc5,#3cffc3,#3effc1,#40ffbf,#42ffbd,#43ffbc,#42ffbd,#41ffbe,#40ffbf,#40ffbf,#3fffc0,#3dffc2,#3affc5,#37ffc8,#33ffcc,#30ffcf,#2cffd3,#2affd5,#2bffd4,#2dffd2,#2fffd0,#31ffce,#33ffcc,#35ffca,#36ffc9,#38ffc7,#3affc5,#3cffc3,#3dffc2,#3fffc0,#42ffbd,#44ffbb,#47ffb8,#4affb5,#4cffb3,#4effb1,#4fffb0,#4fffb0,#4fffb0)"></i>
<i style="top:12px;height:2px;background:linear-gradient(90deg,#45ffba,#45ffba,#45ffba,#45ffba,#45ffba,#45ffba,#45ffba,#45ffba,#45ffba,#45ffba,#45ffba,#45ffba,#45ffba,#43ffbc,#41ffbe,#3fffc0,#3dffc2,#3affc5,#39ffc6,#3affc5,#3dffc2,#3fffc0,#41ffbe,#43ffbc,#45ffba,#44ffbb,#43ffbc,#42ffbd,#41ffbe,#40ffbf,#3effc1,#3bffc4,#38ffc7,#34ffcb,#31ffce,#2dffd2,#2bffd4,#2dffd2,#2fffd0,#31ffce,#34ffcb,#36ffc9,#38ffc7,#3affc5,#3bffc4,#3dffc2,#3fffc0,#40ffbf,#42ffbd,#45ffba,#48ffb7,#4bffb4,#4effb1,#50ffaf,#53ffac,#53ffac,#53ffac,#53ffac)"></i>
<i style="top:14px;height:2px;background:linear-gradient(90deg,#48ffb7,#48ffb7,#48ffb7,#48ffb7,#48ffb7,#48ffb7,#48ffb7,#48ffb7,#48ffb7,#48ffb7,#48ffb7,#48ffb7,#47ffb8,#45ffba,#42ffbd,#40ffbf,#3dffc2,#3bffc4,#39ffc6,#3bffc4,#3dffc2,#40ffbf,#42ffbd,#45ffba,#47ffb8,#46ffb9,#45ffba,#44ffbb,#42ffbd,#41ffbe,#3fffc0,#3cffc3,#39ffc6,#35ffca,#32ffcd,#2fffd0,#2cffd3,#2effd1,#31ffce,#33ffcc,#36ffc9,#39ffc6,#3bffc4,#3dffc2,#3fffc0,#40ffbf,#42ffbd,#44ffbb,#46ffb9,#49ffb6,#4cffb3,#4fffb0,#52ffad,#55ffaa,#57ffa8,#57ffa8,#57ffa8,#57ffa8)"></i>
<i style="top:16px;height:2px;background:linear-gradient(90deg,#4affb5,#4affb5,#4affb5,#4affb5,#4affb5,#4affb5,#4affb5,#4affb5,#4affb5,#4affb5,#4affb5,#4affb5,#49ffb6,#47ffb8,#44ffbb,#41ffbe,#3effc1,#3bffc4,#39ffc6,#3bffc4,#3effc1,#41ffbe,#44ffbb,#47ffb8,#49ffb6,#48ffb7,#47ffb8,#45ffba,#44ffbb,#42ffbd,#41ffbe,#3dffc2,#3affc5,#37ffc8,#33ffcc,#30ffcf,#2effd1,#30ffcf,#33ffcc,#36ffc9,#39ffc6,#3cffc3,#3effc1,#40ffbf,#42ffbd,#43ffbc,#45ffba,#47ffb8,#49ffb6,#4cffb3,#4fffb0,#52ffad,#56ffa9,#59ffa6,#5bffa4,#5bffa4,#5bffa4,#5bffa4)"></i>
<i style="top:18px;height:2px;background:linear-gradient(90deg,#4cffb3,#4cffb3,#4cffb3,#4cffb3,#4cffb3,#4cffb3,#4cffb3,#4cffb3,#4cffb3,#4cffb3,#4cffb3,#4cffb3,#4bffb4,#49ffb6,#46ffb9,#42ffbd,#3fffc0,#3cffc3,#3affc5,#3cffc3,#3fffc0,#43ffbc,#46ffb9,#49ffb6,#4bffb4,#4affb5,#49ffb6,#47ffb8,#46ffb9,#44ffbb,#43ffbc,#3fffc0,#3cffc3,#39ffc6,#35ffca,#32ffcd,#30ffcf,#33ffcc,#36ffc9,#39ffc6,#3cffc3,#3fffc0,#42ffbd,#44ffbb,#46ffb9,#48ffb7,#4affb5,#4cffb3,#4effb1,#51ffae,#54ffab,#58ffa7,#5bffa4,#5fffa0,#61ff9e,#62ff9d,#62ff9d,#62ff9d)"></i>
<i style="top:20px;height:2px;background:linear-gradient(90deg,#4effb1,#4effb1,#4effb1,#4effb1,#4effb1,#4effb1,#4effb1,#4effb1,#4effb1,#4effb1,#4effb1,#4effb1,#4effb1,#4bffb4,#48ffb7,#45ffba,#42ffbd,#3fffc0,#3dffc2,#3fffc0,#42ffbd,#45ffba,#49ffb6,#4cffb3,#4effb1,#4effb1,#4cffb3,#4bffb4,#4affb5,#49ffb6,#47ffb8,#44ffbb,#41ffbe,#3effc1,#3bffc4,#38ffc7,#36ffc9,#39ffc6,#3cffc3,#3fffc0,#43ffbc,#46ffb9,#49ffb6,#4cffb3,#4effb1,#50ffaf,#52ffad,#54ffab,#57ffa8,#5affa5,#5effa1,#62ff9d,#65ff9a,#69ff96,#6cff93,#6dff92,#6eff91,#6eff91)"></i>
<i style="top:22px;height:2px;background:linear-gradient(90deg,#50ffaf,#50ffaf,#50ffaf,#50ffaf,#50ffaf,#50ffaf,#50ffaf,#50ffaf,#50ffaf,#50ffaf,#50ffaf,#50ffaf,#50ffaf,#4effb1,#4bffb4,#48ffb7,#46ffb9,#43ffbc,#41ffbe,#43ffbc,#46ffb9,#49ffb6,#4cffb3,#4fffb0,#52ffad,#52ffad,#51ffae,#50ffaf,#50ffaf,#4fffb0,#4effb1,#4bffb4,#49ffb6,#46ffb9,#43ffbc,#40ffbf,#3fffc0,#42ffbd,#45ffba,#48ffb7,#4cffb3,#4fffb0,#53ffac,#55ffaa,#58ffa7,#5bffa4,#5effa1,#60ff9f,#63ff9c,#67ff98,#6bff94,#6fff90,#74ff8b,#78ff87,#7bff84,#7dff82,#7eff81,#7fff80)"></i>
<i style="top:24px;height:2px;background:linear-gradient(90deg,#53ffac,#53ffac,#53ffac,#53ffac,#53ffac,#53ffac,#53ffac,#53ffac,#53ffac,#53ffac,#53ffac,#53ffac,#53ffac,#51ffae,#4effb1,#4cffb3,#4affb5,#47ffb8,#46ffb9,#48ffb7,#4bffb4,#4effb1,#50ffaf,#53ffac,#56ffa9,#56ffa9,#56ffa9,#56ffa9,#56ffa9,#56ffa9,#55ffaa,#53ffac,#51ffae,#4effb1,#4cffb3,#4affb5,#49ffb6,#4bffb4,#4fffb0,#52ffad,#56ffa9,#59ffa6,#5cffa3,#60ff9f,#63ff9c,#66ff99,#6aff95,#6dff92,#71ff8e,#75ff8a,#79ff86,#7eff81,#82ff7d,#87ff78,#8bff74,#8dff72,#8fff70,#91ff6e)"></i>
<i style="top:26px;height:2px;background:linear-gradient(90deg,#55ffaa,#55ffaa,#55ffaa,#55ffaa,#55ffaa,#55ffaa,#55ffaa,#55ffaa,#55ffaa,#55ffaa,#55ffaa,#55ffaa,#55ffaa,#53ffac,#52ffad,#50ffaf,#4effb1,#4cffb3,#4bffb4,#4cffb3,#4fffb0,#52ffad,#54ffab,#57ffa8,#59ffa6,#5affa5,#5bffa4,#5bffa4,#5cffa3,#5cffa3,#5cffa3,#5bffa4,#59ffa6,#57ffa8,#55ffaa,#53ffac,#52ffad,#55ffaa,#58ffa7,#5cffa3,#5fffa0,#63ff9c,#66ff99,#6aff95,#6eff91,#72ff8d,#76ff89,#7aff85,#7eff81,#83ff7c,#88ff77,#8dff72,#91ff6e,#96ff69,#9bff64,#9eff61,#a1ff5e,#a3ff5c)"></i>
<i style="top:28px;height:2px;background:linear-gradient(90deg,#58ffa7,#58ffa7,#58ffa7,#58ffa7,#58ffa7,#58ffa7,#58ffa7,#58ffa7,#58ffa7,#58ffa7,#58ffa7,#58ffa7,#58ffa7,#56ffa9,#55ffaa,#53ffac,#52ffad,#50ffaf,#4fffb0,#51ffae,#54ffab,#56ffa9,#59ffa6,#5bffa4,#5dffa2,#5fffa0,#60ff9f,#61ff9e,#62ff9d,#63ff9c,#64ff9b,#62ff9d,#61ff9e,#5fffa0,#5effa1,#5cffa3,#5cffa3,#5fffa0,#62ff9d,#66ff99,#69ff96,#6cff93,#70ff8f,#74ff8b,#79ff86,#7eff81,#82ff7d,#87ff78,#8bff74,#91ff6e,#96ff69,#9bff64,#a0ff5f,#a6ff59,#abff54,#afff50,#b2ff4d,#b5ff4a)"></i>
<i style="top:30px;height:2px;background:linear-gradient(90deg,#5affa5,#5affa5,#5affa5,#5affa5,#5affa5,#5affa5,#5affa5,#5affa5,#5affa5,#5affa5,#5affa5,#5affa5,#5affa5,#59ffa6,#58ffa7,#57ffa8,#56ffa9,#55ffaa,#54ffab,#56ffa9,#58ffa7,#5affa5,#5dffa2,#5fffa0,#61ff9e,#63ff9c,#65ff9a,#66ff99,#68ff97,#6aff95,#6bff94,#6aff95,#69ff96,#68ff97,#67ff98,#66ff99,#65ff9a,#68ff97,#6cff93,#6fff90,#73ff8c,#76ff89,#7aff85,#7fff80,#84ff7b,#89ff76,#8eff71,#93ff6c,#99ff66,#9eff61,#a4ff5b,#aaff55,#afff50,#b5ff4a,#bbff44,#bfff40,#c4ff3b,#c7ff38)"></i>
<i style="top:32px;height:2px;background:linear-gradient(90deg,#5dffa2,#5dffa2,#5dffa2,#5dffa2,#5dffa2,#5dffa2,#5dffa2,#5dffa2,#5dffa2,#5dffa2,#5dffa2,#5dffa2,#5dffa2,#5cffa3,#5bffa4,#5affa5,#5affa5,#59ffa6,#59ffa6,#5affa5,#5cffa3,#5fffa0,#61ff9e,#63ff9c,#65ff9a,#67ff98,#69ff96,#6cff93,#6eff91,#70ff8f,#72ff8d,#72ff8d,#71ff8e,#70ff8f,#70ff8f,#6fff90,#6fff90,#72ff8d,#75ff8a,#79ff86,#7cff83,#80ff7f,#84ff7b,#89ff76,#8fff70,#95ff6a,#9aff65,#a0ff5f,#a6ff59,#acff53,#b2ff4d,#b8ff47,#beff41,#c5ff3a,#cbff34,#d0ff2f,#d5ff2a,#d9ff26)"></i>
<i style="top:34px;height:2px;background:linear-gradient(90deg,#5fffa0,#5fffa0,#5fffa0,#5fffa0,#5fffa0,#5fffa0,#5fffa0,#5fffa0,#5fffa0,#5fffa0,#5fffa0,#5fffa0,#5fffa0,#5fffa0,#5fffa0,#5effa1,#5effa1,#5effa1,#5effa1,#5fffa0,#61ff9e,#63ff9c,#65ff9a,#67ff98,#6aff95,#6cff93,#6fff90,#72ff8d,#75ff8a,#78ff87,#7aff85,#7aff85,#7aff85,#7aff85,#79ff86,#79ff86,#79ff86,#7cff83,#80ff7f,#83ff7c,#86ff79,#8aff75,#8eff71,#94ff6b,#9aff65,#a0ff5f,#a7ff58,#adff52,#b3ff4c,#baff45,#c0ff3f,#c7ff38,#cdff32,#d4ff2b,#daff25,#e0ff1f,#e7ff18,#ebff14)"></i>
<i style="top:36px;height:2px;background:linear-gradient(90deg,#61ff9e,#61ff9e,#61ff9e,#61ff9e,#61ff9e,#61ff9e,#61ff9e,#61ff9e,#61ff9e,#61ff9e,#62ff9d,#62ff9d,#62ff9d,#62ff9d,#63ff9c,#63ff9c,#63ff9c,#64ff9b,#64ff9b,#67ff98,#69ff96,#6cff93,#6fff90,#71ff8e,#74ff8b,#77ff88,#7aff85,#7dff82,#80ff7f,#83ff7c,#86ff79,#86ff79,#86ff79,#86ff79,#85ff7a,#85ff7a,#86ff79,#88ff77,#8cff73,#8fff70,#92ff6d,#95ff6a,#99ff66,#a0ff5f,#a6ff59,#adff52,#b3ff4c,#baff45,#c1ff3e,#c7ff38,#ceff31,#d5ff2a,#dbff24,#e2ff1d,#e9ff16,#efff10,#f6ff09,#fbff04)"></i>
<i style="top:38px;height:2px;background:linear-gradient(90deg,#62ff9d,#62ff9d,#62ff9d,#62ff9d,#62ff9d,#62ff9d,#62ff9d,#63ff9c,#63ff9c,#64ff9b,#64ff9b,#65ff9a,#65ff9a,#67ff98,#68ff97,#69ff96,#6aff95,#6cff93,#6dff92,#71ff8e,#75ff8a,#7aff85,#7eff81,#82ff7d,#86ff79,#89ff76,#8cff73,#8fff70,#92ff6d,#95ff6a,#97ff68,#97ff68,#96ff69,#96ff69,#95ff6a,#95ff6a,#95ff6a,#98ff67,#9aff65,#9dff62,#a0ff5f,#a3ff5c,#a7ff58,#adff52,#b4ff4b,#baff45,#c1ff3e,#c7ff38,#ceff31,#d5ff2a,#dbff24,#e2ff1d,#e8ff17,#efff10,#f6ff09,#fcff03,#fffb00,#fff600)"></i>
<i style="top:40px;height:2px;background:linear-gradient(90deg,#64ff9b,#64ff9b,#64ff9b,#64ff9b,#64ff9b,#64ff9b,#64ff9b,#64ff9b,#65ff9a,#66ff99,#67ff98,#68ff97,#69ff96,#6bff94,#6dff92,#70ff8f,#72ff8d,#74ff8b,#77ff88,#7dff82,#83ff7c,#89ff76,#8fff70,#96ff69,#9bff64,#9eff61,#a1ff5e,#a3ff5c,#a6ff59,#a8ff57,#aaff55,#aaff55,#a9ff56,#a8ff57,#a7ff58,#a6ff59,#a6ff59,#a8ff57,#aaff55,#adff52,#b0ff4f,#b2ff4d,#b5ff4a,#bbff44,#c2ff3d,#c8ff37,#cfff30,#d5ff2a,#dbff24,#e2ff1d,#e8ff17,#eeff11,#f5ff0a,#fbff04,#fffc00,#fff500,#ffef00,#ffea00)"></i>
<i style="top:42px;height:2px;background:linear-gradient(90deg,#65ff9a,#65ff9a,#65ff9a,#65ff9a,#65ff9a,#65ff9a,#65ff9a,#66ff99,#67ff98,#69ff96,#6aff95,#6bff94,#6dff92,#70ff8f,#73ff8c,#76ff89,#7aff85,#7dff82,#81ff7e,#88ff77,#91ff6e,#99ff66,#a1ff5e,#a9ff56,#b1ff4e,#b4ff4b,#b6ff49,#b8ff47,#baff45,#bcff43,#bdff42,#bdff42,#bbff44,#baff45,#b9ff46,#b7ff48,#b7ff48,#b8ff47,#bbff44,#bdff42,#bfff40,#c1ff3e,#c4ff3b,#caff35,#d0ff2f,#d6ff29,#dcff23,#e2ff1d,#e9ff16,#efff10,#f5ff0a,#fbff04,#fffc00,#fff600,#fff000,#ffe900,#ffe300,#ffde00)"></i>
<i style="top:44px;height:2px;background:linear-gradient(90deg,#66ff99,#66ff99,#66ff99,#66ff99,#66ff99,#66ff99,#66ff99,#68ff97,#69ff96,#6bff94,#6dff92,#6eff91,#71ff8e,#74ff8b,#79ff86,#7dff82,#81ff7e,#86ff79,#8bff74,#94ff6b,#9eff61,#a9ff56,#b3ff4c,#bdff42,#c6ff39,#c9ff36,#cbff34,#ccff33,#ceff31,#d0ff2f,#d1ff2e,#d0ff2f,#ceff31,#ccff33,#caff35,#c9ff36,#c8ff37,#c9ff36,#cbff34,#ccff33,#ceff31,#d0ff2f,#d2ff2d,#d8ff27,#deff21,#e4ff1b,#eaff15,#f0ff0f,#f6ff09,#fcff03,#fffc00,#fff600,#fff000,#ffea00,#ffe400,#ffdd00,#ffd600,#ffd100)"></i>
<i style="top:46px;height:2px;background:linear-gradient(90deg,#67ff98,#67ff98,#67ff98,#67ff98,#67ff98,#67ff98,#67ff98,#69ff96,#6bff94,#6dff92,#70ff8f,#72ff8d,#74ff8b,#79ff86,#7eff81,#84ff7b,#89ff76,#8eff71,#95ff6a,#a0ff5f,#acff53,#b8ff47,#c5ff3a,#d1ff2e,#dbff24,#deff21,#e0ff1f,#e1ff1e,#e2ff1d,#e3ff1c,#e4ff1b,#e2ff1d,#e0ff1f,#deff21,#dcff23,#daff25,#d9ff26,#d9ff26,#dbff24,#dcff23,#ddff22,#dfff20,#e1ff1e,#e6ff19,#ecff13,#f2ff0d,#f8ff07,#fdfe02,#fffb00,#fff500,#ffef00,#ffe900,#ffe400,#ffde00,#ffd800,#ffd100,#ffca00,#ffc500)"></i>
<i style="top:48px;height:2px;background:linear-gradient(90deg,#68ff97,#68ff97,#68ff97,#68ff97,#68ff97,#68ff97,#69ff96,#6bff94,#6dff92,#70ff8f,#72ff8d,#75ff8a,#78ff87,#7eff81,#84ff7b,#8aff75,#91ff6e,#97ff68,#9eff61,#abff54,#baff45,#c8ff37,#d6ff29,#e5ff1a,#f1ff0e,#f4ff0b,#f5ff0a,#f5ff0a,#f6ff09,#f7ff08,#f8ff07,#f5ff0a,#f3ff0c,#f0ff0f,#eeff11,#ebff14,#e9ff16,#eaff15,#ebff14,#ecff13,#edff12,#eeff11,#efff10,#f5ff0a,#faff05,#fefd01,#fff900,#fff300,#ffee00,#ffe800,#ffe200,#ffdd00,#ffd700,#ffd200,#ffcc00,#ffc500,#ffbe00,#ffb900)"></i>
<i style="top:50px;height:2px;background:linear-gradient(90deg,#6aff95,#6aff95,#6aff95,#6aff95,#6aff95,#6aff95,#6aff95,#6dff92,#70ff8f,#73ff8c,#76ff89,#78ff87,#7cff83,#83ff7c,#8aff75,#91ff6e,#98ff67,#a0ff5f,#a9ff56,#b7ff48,#c8ff37,#d8ff27,#e8ff17,#f8ff07,#fff800,#fff500,#fff400,#fff400,#fff300,#fff300,#fff300,#fff600,#fff900,#fefb01,#fdfc02,#fcfe03,#faff05,#faff05,#fbff04,#fbff04,#fcff03,#fcfe03,#fdfe02,#fffb00,#fff600,#fff000,#ffeb00,#ffe600,#ffe000,#ffdb00,#ffd600,#ffd000,#ffcb00,#ffc600,#ffc000,#ffb900,#ffb200,#ffad00)"></i>
<i style="top:52px;height:2px;background:linear-gradient(90deg,#6cff93,#6cff93,#6cff93,#6dff92,#6dff92,#6dff92,#6eff91,#71ff8e,#75ff8a,#78ff87,#7cff83,#7fff80,#83ff7c,#8bff74,#93ff6c,#9bff64,#a3ff5c,#abff54,#b5ff4a,#c5ff3a,#d7ff28,#e9ff16,#faff05,#fff200,#ffe300,#ffe000,#ffe000,#ffdf00,#ffdf00,#ffdf00,#ffdf00,#ffe200,#ffe600,#ffe900,#ffed00,#fff000,#fff300,#fff300,#fff300,#fff300,#fff300,#fff300,#fff200,#ffed00,#ffe800,#ffe300,#ffde00,#ffd900,#ffd400,#ffcf00,#ffca00,#ffc500,#ffc000,#ffba00,#ffb500,#ffae00,#ffa800,#ffa300)"></i>
<i style="top:54px;height:2px;background:linear-gradient(90deg,#6fff90,#70ff8f,#72ff8d,#73ff8c,#75ff8a,#76ff89,#78ff87,#7cff83,#80ff7f,#85ff7a,#89ff76,#8dff72,#92ff6d,#9aff65,#a3ff5c,#acff53,#b4ff4b,#bdff42,#c7ff38,#d8ff27,#eaff15,#fbfe04,#fff000,#ffde00,#ffce00,#ffcc00,#ffcb00,#ffcb00,#ffca00,#ffca00,#ffcb00,#ffce00,#ffd200,#ffd600,#ffda00,#ffde00,#ffe200,#ffe300,#ffe400,#ffe400,#ffe500,#ffe600,#ffe500,#ffe100,#ffdc00,#ffd800,#ffd300,#ffcf00,#ffca00,#ffc500,#ffc000,#ffbb00,#ffb700,#ffb200,#ffad00,#ffa700,#ffa100,#ff9c00)"></i>
<i style="top:56px;height:2px;background:linear-gradient(90deg,#74ff8b,#76ff89,#79ff86,#7cff83,#7fff80,#82ff7d,#85ff7a,#8aff75,#90ff6f,#96ff69,#9bff64,#a1ff5e,#a7ff58,#afff50,#b8ff47,#c1ff3e,#caff35,#d3ff2c,#ddff22,#eeff11,#fcfc03,#ffed00,#ffdb00,#ffca00,#ffbb00,#ffb800,#ffb700,#ffb600,#ffb500,#ffb500,#ffb500,#ffb900,#ffbe00,#ffc300,#ffc800,#ffcd00,#ffd100,#ffd300,#ffd400,#ffd600,#ffd700,#ffd900,#ffd900,#ffd500,#ffd100,#ffcd00,#ffc900,#ffc500,#ffc100,#ffbd00,#ffb800,#ffb400,#ffb000,#ffab00,#ffa700,#ffa100,#ff9c00,#ff9800)"></i>
<i style="top:58px;height:2px;background:linear-gradient(90deg,#79ff86,#7dff82,#81ff7e,#86ff79,#8aff75,#8fff70,#94ff6b,#9aff65,#a1ff5e,#a8ff57,#afff50,#b5ff4a,#bdff42,#c5ff3a,#ceff31,#d8ff27,#e1ff1e,#eaff15,#f4ff0b,#fef901,#ffe900,#ffd800,#ffc700,#ffb600,#ffa700,#ffa400,#ffa300,#ffa200,#ffa000,#ff9f00,#ff9f00,#ffa400,#ffaa00,#ffb000,#ffb500,#ffbb00,#ffc000,#ffc300,#ffc500,#ffc700,#ffca00,#ffcc00,#ffcd00,#ffca00,#ffc700,#ffc300,#ffc000,#ffbc00,#ffb900,#ffb500,#ffb100,#ffad00,#ffa900,#ffa500,#ffa100,#ff9c00,#ff9800,#ff9400)"></i>
<i style="top:60px;height:2px;background:linear-gradient(90deg,#7eff81,#83ff7c,#89ff76,#8fff70,#96ff69,#9cff63,#a2ff5d,#aaff55,#b2ff4d,#baff45,#c2ff3d,#caff35,#d2ff2d,#dbff24,#e5ff1a,#eeff11,#f7ff08,#fdfb02,#fff300,#ffe400,#ffd300,#ffc300,#ffb200,#ffa200,#ff9400,#ff9000,#ff8f00,#ff8d00,#ff8b00,#ff8a00,#ff8a00,#ff8f00,#ff9600,#ff9c00,#ffa300,#ffa900,#ffaf00,#ffb300,#ffb600,#ffb900,#ffbc00,#ffbf00,#ffc100,#ffbf00,#ffbc00,#ffb900,#ffb600,#ffb300,#ffb000,#ffad00,#ffa900,#ffa600,#ffa200,#ff9e00,#ff9b00,#ff9700,#ff9300,#ff9100)"></i>
<i style="top:62px;height:2px;background:linear-gradient(90deg,#83ff7c,#89ff76,#91ff6e,#99ff66,#a1ff5e,#a8ff57,#b0ff4f,#b9ff46,#c3ff3c,#ccff33,#d5ff2a,#deff21,#e8ff17,#f1ff0e,#fafe05,#fff900,#fff000,#ffe700,#ffdc00,#ffcd00,#ffbd00,#ffae00,#ff9e00,#ff8e00,#ff8000,#ff7c00,#ff7a00,#ff7800,#ff7600,#ff7500,#ff7400,#ff7a00,#ff8200,#ff8900,#ff9000,#ff9800,#ff9e00,#ffa300,#ffa600,#ffaa00,#ffae00,#ffb200,#ffb500,#ffb300,#ffb100,#ffaf00,#ffac00,#ffaa00,#ffa800,#ffa500,#ffa200,#ff9e00,#ff9b00,#ff9800,#ff9500,#ff9200,#ff8f00,#ff8d00)"></i>
<i style="top:64px;height:2px;background:linear-gradient(90deg,#88ff77,#90ff6f,#99ff66,#a2ff5d,#acff53,#b5ff4a,#bfff40,#c9ff36,#d4ff2b,#deff21,#e9ff16,#f3ff0c,#fbfd04,#fff700,#ffed00,#ffe300,#ffda00,#ffd000,#ffc500,#ffb700,#ffa800,#ff9800,#ff8900,#ff7a00,#ff6d00,#ff6900,#ff6600,#ff6400,#ff6100,#ff5f00,#ff5f00,#ff6600,#ff6e00,#ff7600,#ff7e00,#ff8600,#ff8d00,#ff9300,#ff9700,#ff9c00,#ffa100,#ffa500,#ffa900,#ffa800,#ffa600,#ffa400,#ffa300,#ffa100,#ff9f00,#ff9d00,#ff9a00,#ff9700,#ff9400,#ff9200,#ff8f00,#ff8d00,#ff8b00,#ff8900)"></i>
<i style="top:66px;height:2px;background:linear-gradient(90deg,#8dff72,#96ff69,#a1ff5e,#acff53,#b7ff48,#c2ff3d,#cdff32,#d9ff26,#e4ff1b,#f0ff0f,#fbfe04,#fff700,#ffeb00,#ffe100,#ffd700,#ffcd00,#ffc300,#ffb900,#ffae00,#ffa100,#ff9200,#ff8300,#ff7500,#ff6600,#ff5900,#ff5500,#ff5200,#ff4f00,#ff4d00,#ff4a00,#ff4900,#ff5100,#ff5a00,#ff6300,#ff6b00,#ff7400,#ff7d00,#ff8300,#ff8800,#ff8e00,#ff9300,#ff9900,#ff9d00,#ff9c00,#ff9b00,#ff9a00,#ff9900,#ff9800,#ff9700,#ff9500,#ff9200,#ff9000,#ff8e00,#ff8b00,#ff8900,#ff8800,#ff8600,#ff8500)"></i>
<i style="top:68px;height:2px;background:linear-gradient(90deg,#92ff6d,#9cff63,#a8ff57,#b5ff4a,#c2ff3d,#ceff31,#dbff24,#e8ff17,#f4ff0b,#fefc01,#fff000,#ffe300,#ffd700,#ffcc00,#ffc200,#ffb800,#ffae00,#ffa400,#ff9900,#ff8b00,#ff7d00,#ff6f00,#ff6100,#ff5300,#ff4700,#ff4200,#ff3f00,#ff3c00,#ff3900,#ff3600,#ff3500,#ff3d00,#ff4700,#ff5000,#ff5a00,#ff6400,#ff6d00,#ff7300,#ff7a00,#ff8000,#ff8600,#ff8c00,#ff9100,#ff9100,#ff9100,#ff9000,#ff9000,#ff9000,#ff8f00,#ff8d00,#ff8b00,#ff8900,#ff8700,#ff8500,#ff8300,#ff8300,#ff8200,#ff8200)"></i>
<i style="top:70px;height:2px;background:linear-gradient(90deg,#96ff69,#a1ff5e,#afff50,#bdff42,#caff35,#d8ff27,#e6ff19,#f4ff0b,#fffc00,#ffef00,#ffe100,#ffd300,#ffc600,#ffbb00,#ffb100,#ffa700,#ff9d00,#ff9300,#ff8800,#ff7b00,#ff6d00,#ff5f00,#ff5100,#ff4300,#ff3700,#ff3300,#ff2f00,#ff2c00,#ff2900,#ff2700,#ff2600,#ff2f00,#ff3900,#ff4300,#ff4d00,#ff5700,#ff6100,#ff6800,#ff6e00,#ff7500,#ff7b00,#ff8200,#ff8700,#ff8800,#ff8800,#ff8800,#ff8800,#ff8800,#ff8700,#ff8600,#ff8400,#ff8300,#ff8100,#ff7f00,#ff7e00,#ff7e00,#ff7e00,#ff7d00)"></i>
<i style="top:72px;height:2px;background:linear-gradient(90deg,#99ff66,#a4ff5b,#b3ff4c,#c2ff3d,#d1ff2e,#e0ff1f,#eeff11,#fcff03,#fff300,#ffe500,#ffd700,#ffc900,#ffbb00,#ffb000,#ffa600,#ff9b00,#ff9100,#ff8700,#ff7c00,#ff6f00,#ff6100,#ff5400,#ff4600,#ff3800,#ff2c00,#ff2700,#ff2400,#ff2100,#ff1f00,#ff1d00,#ff1e00,#ff2600,#ff3100,#ff3b00,#ff4500,#ff4f00,#ff5900,#ff6000,#ff6600,#ff6d00,#ff7300,#ff7a00,#ff7f00,#ff8000,#ff8000,#ff8100,#ff8100,#ff8100,#ff8100,#ff8000,#ff7e00,#ff7d00,#ff7b00,#ff7a00,#ff7900,#ff7900,#ff7900,#ff7900)"></i>
<i style="top:74px;height:2px;background:linear-gradient(90deg,#9bff64,#a8ff57,#b7ff48,#c7ff38,#d6ff29,#e6ff19,#f6ff09,#fffa00,#ffeb00,#ffdc00,#ffce00,#ffbf00,#ffb100,#ffa600,#ff9c00,#ff9200,#ff8700,#ff7d00,#ff7200,#ff6500,#ff5700,#ff4a00,#ff3c00,#ff2e00,#ff2200,#ff1e00,#ff1a00,#ff1700,#ff1600,#ff1600,#ff1700,#ff2000,#ff2a00,#ff3500,#ff3f00,#ff4900,#ff5300,#ff5900,#ff6000,#ff6600,#ff6d00,#ff7300,#ff7800,#ff7900,#ff7900,#ff7a00,#ff7a00,#ff7b00,#ff7b00,#ff7a00,#ff7900,#ff7700,#ff7600,#ff7500,#ff7400,#ff7400,#ff7400,#ff7400)"></i>
<i style="top:76px;height:2px;background:linear-gradient(90deg,#9eff61,#abff54,#bbff44,#ccff33,#dcff23,#ecff13,#fdff02,#fff200,#ffe300,#ffd400,#ffc500,#ffb600,#ffa700,#ff9c00,#ff9200,#ff8800,#ff7e00,#ff7300,#ff6900,#ff5b00,#ff4e00,#ff4000,#ff3200,#ff2500,#ff1900,#ff1400,#ff1000,#ff0e00,#ff0e00,#ff0f00,#ff1100,#ff1a00,#ff2400,#ff2f00,#ff3900,#ff4300,#ff4d00,#ff5300,#ff5900,#ff5f00,#ff6600,#ff6c00,#ff7100,#ff7200,#ff7300,#ff7300,#ff7400,#ff7500,#ff7500,#ff7400,#ff7300,#ff7200,#ff7100,#ff7000,#ff6f00,#ff6f00,#ff6f00,#ff6f00)"></i>
<i style="top:78px;height:2px;background:linear-gradient(90deg,#a0ff5f,#aeff51,#bfff40,#d0ff2f,#e2ff1d,#f3ff0c,#fffa00,#ffea00,#ffdb00,#ffcb00,#ffbc00,#ffad00,#ff9e00,#ff9300,#ff8800,#ff7e00,#ff7400,#ff6a00,#ff5f00,#ff5200,#ff4400,#ff3600,#ff2900,#ff1b00,#ff0f00,#ff0a00,#ff0700,#ff0400,#ff0600,#ff0700,#ff0b00,#ff1400,#ff1e00,#ff2900,#ff3300,#ff3d00,#ff4600,#ff4d00,#ff5300,#ff5900,#ff5f00,#ff6500,#ff6a00,#ff6b00,#ff6c00,#ff6d00,#ff6e00,#ff6e00,#ff6f00,#ff6e00,#ff6d00,#ff6d00,#ff6c00,#ff6b00,#ff6a00,#ff6a00,#ff6a00,#ff6a00)"></i>
<i style="top:80px;height:2px;background:linear-gradient(90deg,#a3ff5c,#b1ff4e,#c3ff3c,#d5ff2a,#e7ff18,#f9ff06,#fff300,#ffe300,#ffd300,#ffc300,#ffb300,#ffa300,#ff9400,#ff8900,#ff7f00,#ff7400,#ff6a00,#ff6000,#ff5500,#ff4800,#ff3a00,#ff2d00,#ff1f00,#ff1100,#ff0500,#fe0100,#fc0000,#fa0000,#fc0000,#fe0100,#ff0500,#ff0e00,#ff1800,#ff2300,#ff2d00,#ff3700,#ff4000,#ff4700,#ff4c00,#ff5200,#ff5800,#ff5e00,#ff6200,#ff6400,#ff6500,#ff6600,#ff6700,#ff6800,#ff6900,#ff6800,#ff6800,#ff6700,#ff6700,#ff6600,#ff6600,#ff6500,#ff6500,#ff6500)"></i>
<i style="top:82px;height:2px;background:linear-gradient(90deg,#a5ff5a,#b4ff4b,#c7ff38,#daff25,#edff12,#fefe01,#ffec00,#ffdb00,#ffcb00,#ffbb00,#ffaa00,#ff9a00,#ff8b00,#ff7f00,#ff7500,#ff6b00,#ff6100,#ff5600,#ff4c00,#ff3e00,#ff3100,#ff2300,#ff1500,#ff0800,#fb0000,#f60000,#f20000,#f00000,#f40000,#f80000,#fd0000,#ff0800,#ff1200,#ff1c00,#ff2700,#ff3100,#ff3a00,#ff4000,#ff4600,#ff4b00,#ff5100,#ff5700,#ff5b00,#ff5d00,#ff5e00,#ff5f00,#ff6100,#ff6200,#ff6300,#ff6300,#ff6200,#ff6200,#ff6100,#ff6100,#ff6100,#ff6100,#ff6100,#ff6100)"></i>
<i style="top:84px;height:2px;background:linear-gradient(90deg,#a8ff57,#b7ff48,#cbff34,#dfff20,#f2ff0d,#fff800,#ffe500,#ffd400,#ffc300,#ffb200,#ffa200,#ff9100,#ff8100,#ff7600,#ff6c00,#ff6200,#ff5700,#ff4d00,#ff4200,#ff3500,#ff2700,#ff1a00,#ff0c00,#fd0100,#f20000,#ed0000,#e90000,#e70000,#ec0000,#f10000,#f80000,#ff0200,#ff0d00,#ff1700,#ff2100,#ff2b00,#ff3500,#ff3a00,#ff4000,#ff4500,#ff4a00,#ff5000,#ff5400,#ff5600,#ff5800,#ff5900,#ff5b00,#ff5c00,#ff5d00,#ff5d00,#ff5d00,#ff5d00,#ff5c00,#ff5c00,#ff5c00,#ff5c00,#ff5c00,#ff5c00)"></i>
<i style="top:86px;height:2px;background:linear-gradient(90deg,#aaff55,#baff45,#ceff31,#e2ff1d,#f6ff09,#fff400,#ffe000,#ffce00,#ffbd00,#ffad00,#ff9c00,#ff8b00,#ff7b00,#ff6f00,#ff6500,#ff5b00,#ff5100,#ff4600,#ff3c00,#ff2f00,#ff2100,#ff1400,#ff0600,#f70000,#ec0000,#e70000,#e40000,#e20000,#e70000,#ed0000,#f40000,#fe0000,#ff0900,#ff1300,#ff1e00,#ff2800,#ff3100,#ff3700,#ff3c00,#ff4100,#ff4600,#ff4b00,#ff4f00,#ff5100,#ff5300,#ff5400,#ff5600,#ff5800,#ff5900,#ff5900,#ff5900,#ff5900,#ff5900,#ff5900,#ff5900,#ff5900,#ff5900,#ff5900)"></i>
<i style="top:88px;height:2px;background:linear-gradient(90deg,#acff53,#bbff44,#cfff30,#e4ff1b,#f8ff07,#fff200,#ffdf00,#ffcd00,#ffbc00,#ffab00,#ff9a00,#ff8900,#ff7900,#ff6d00,#ff6300,#ff5900,#ff4f00,#ff4500,#ff3b00,#ff2e00,#ff2100,#ff1300,#ff0600,#f80000,#ec0000,#e80000,#e50000,#e40000,#e90000,#ef0000,#f60000,#ff0100,#ff0a00,#ff1500,#ff1f00,#ff2900,#ff3200,#ff3700,#ff3c00,#ff4000,#ff4500,#ff4a00,#ff4e00,#ff5000,#ff5200,#ff5300,#ff5500,#ff5700,#ff5800,#ff5800,#ff5900,#ff5900,#ff5900,#ff5900,#ff5900,#ff5900,#ff5900,#ff5900)"></i>
<i style="top:90px;height:2px;background:linear-gradient(90deg,#adff52,#bcff43,#d0ff2f,#e4ff1b,#f7ff08,#fff300,#ffdf00,#ffce00,#ffbd00,#ffac00,#ff9b00,#ff8900,#ff7900,#ff6e00,#ff6400,#ff5a00,#ff5100,#ff4700,#ff3c00,#ff3000,#ff2300,#ff1600,#ff0900,#fc0000,#f00000,#ed0000,#ea0000,#ea0000,#ee0000,#f40000,#fa0000,#ff0500,#ff0e00,#ff1800,#ff2200,#ff2c00,#ff3500,#ff3a00,#ff3e00,#ff4200,#ff4700,#ff4b00,#ff4f00,#ff5100,#ff5300,#ff5400,#ff5600,#ff5800,#ff5900,#ff5a00,#ff5a00,#ff5a00,#ff5b00,#ff5b00,#ff5b00,#ff5b00,#ff5b00,#ff5b00)"></i>
<i style="top:92px;height:2px;background:linear-gradient(90deg,#aeff51,#bdff42,#d0ff2f,#e4ff1b,#f7ff08,#fff400,#ffe100,#ffcf00,#ffbe00,#ffad00,#ff9c00,#ff8b00,#ff7b00,#ff7000,#ff6600,#ff5c00,#ff5300,#ff4900,#ff3f00,#ff3300,#ff2600,#ff1a00,#ff0d00,#ff0100,#f50000,#f20000,#f10000,#f00000,#f40000,#f90000,#fe0100,#ff0900,#ff1300,#ff1d00,#ff2600,#ff3000,#ff3800,#ff3d00,#ff4100,#ff4500,#ff4900,#ff4d00,#ff5000,#ff5200,#ff5400,#ff5500,#ff5700,#ff5900,#ff5a00,#ff5b00,#ff5c00,#ff5c00,#ff5d00,#ff5d00,#ff5e00,#ff5e00,#ff5e00,#ff5e00)"></i>
<i style="top:94px;height:2px;background:linear-gradient(90deg,#afff50,#beff41,#d1ff2e,#e4ff1b,#f7ff08,#fff400,#ffe200,#ffd000,#ffbf00,#ffae00,#ff9d00,#ff8c00,#ff7c00,#ff7100,#ff6800,#ff5e00,#ff5500,#ff4b00,#ff4100,#ff3600,#ff2a00,#ff1e00,#ff1100,#ff0500,#fa0000,#f80000,#f70000,#f60000,#fa0000,#fe0100,#ff0500,#ff0e00,#ff1700,#ff2100,#ff2a00,#ff3400,#ff3c00,#ff4000,#ff4400,#ff4700,#ff4b00,#ff4e00,#ff5100,#ff5300,#ff5500,#ff5700,#ff5800,#ff5a00,#ff5c00,#ff5c00,#ff5d00,#ff5e00,#ff5f00,#ff6000,#ff6000,#ff6000,#ff6000,#ff6000)"></i>
<i style="top:96px;height:2px;background:linear-gradient(90deg,#b0ff4f,#bfff40,#d1ff2e,#e4ff1b,#f6ff09,#fff500,#ffe300,#ffd100,#ffc000,#ffaf00,#ff9e00,#ff8d00,#ff7d00,#ff7200,#ff6900,#ff6000,#ff5700,#ff4d00,#ff4400,#ff3800,#ff2d00,#ff2100,#ff1600,#ff0a00,#fe0100,#fd0000,#fd0000,#fd0000,#ff0100,#ff0500,#ff0a00,#ff1200,#ff1c00,#ff2500,#ff2e00,#ff3700,#ff3f00,#ff4300,#ff4600,#ff4a00,#ff4d00,#ff5000,#ff5300,#ff5400,#ff5600,#ff5800,#ff5a00,#ff5b00,#ff5d00,#ff5e00,#ff5f00,#ff6000,#ff6100,#ff6200,#ff6300,#ff6300,#ff6300,#ff6300)"></i>
<i style="top:98px;height:2px;background:linear-gradient(90deg,#b1ff4e,#c0ff3f,#d2ff2d,#e4ff1b,#f6ff09,#fff600,#ffe400,#ffd300,#ffc200,#ffb000,#ff9f00,#ff8e00,#ff7e00,#ff7400,#ff6b00,#ff6200,#ff5900,#ff5000,#ff4600,#ff3b00,#ff3000,#ff2500,#ff1a00,#ff0e00,#ff0500,#ff0400,#ff0400,#ff0400,#ff0700,#ff0a00,#ff0f00,#ff1700,#ff2000,#ff2900,#ff3200,#ff3b00,#ff4300,#ff4600,#ff4900,#ff4c00,#ff4f00,#ff5100,#ff5400,#ff5600,#ff5700,#ff5900,#ff5b00,#ff5c00,#ff5e00,#ff5f00,#ff6100,#ff6200,#ff6300,#ff6400,#ff6500,#ff6500,#ff6500,#ff6500)"></i>
<i style="top:100px;height:2px;background:linear-gradient(90deg,#b3ff4c,#c1ff3e,#d2ff2d,#e4ff1b,#f6ff09,#fff700,#ffe500,#ffd400,#ffc300,#ffb200,#ffa100,#ff9000,#ff8000,#ff7500,#ff6c00,#ff6400,#ff5b00,#ff5200,#ff4900,#ff3e00,#ff3300,#ff2800,#ff1e00,#ff1300,#ff0a00,#ff0900,#ff0a00,#ff0b00,#ff0d00,#ff1000,#ff1400,#ff1c00,#ff2500,#ff2d00,#ff3600,#ff3f00,#ff4700,#ff4a00,#ff4c00,#ff4e00,#ff5100,#ff5300,#ff5500,#ff5700,#ff5900,#ff5a00,#ff5c00,#ff5e00,#ff5f00,#ff6100,#ff6200,#ff6400,#ff6500,#ff6600,#ff6700,#ff6800,#ff6800,#ff6800)"></i>
<i style="top:102px;height:2px;background:linear-gradient(90deg,#b3ff4c,#c1ff3e,#d2ff2d,#e3ff1c,#f5ff0a,#fff800,#ffe700,#ffd600,#ffc500,#ffb300,#ffa200,#ff9100,#ff8100,#ff7700,#ff6e00,#ff6600,#ff5d00,#ff5400,#ff4b00,#ff4100,#ff3700,#ff2c00,#ff2200,#ff1800,#ff0f00,#ff0f00,#ff1000,#ff1200,#ff1300,#ff1500,#ff1900,#ff2000,#ff2900,#ff3200,#ff3a00,#ff4300,#ff4a00,#ff4d00,#ff4f00,#ff5100,#ff5300,#ff5500,#ff5700,#ff5900,#ff5a00,#ff5c00,#ff5e00,#ff5f00,#ff6100,#ff6300,#ff6400,#ff6600,#ff6700,#ff6900,#ff6a00,#ff6a00,#ff6a00,#ff6a00)"></i>
<i style="top:104px;height:2px;background:linear-gradient(90deg,#b3ff4c,#c0ff3f,#d1ff2e,#e2ff1d,#f2ff0d,#fffb00,#ffea00,#ffd900,#ffc800,#ffb600,#ffa500,#ff9400,#ff8400,#ff7a00,#ff7100,#ff6900,#ff6000,#ff5800,#ff4f00,#ff4500,#ff3c00,#ff3200,#ff2800,#ff1e00,#ff1600,#ff1600,#ff1700,#ff1800,#ff1a00,#ff1b00,#ff1e00,#ff2600,#ff2e00,#ff3600,#ff3f00,#ff4700,#ff4e00,#ff5000,#ff5200,#ff5400,#ff5600,#ff5800,#ff5a00,#ff5c00,#ff5d00,#ff5f00,#ff6100,#ff6200,#ff6400,#ff6600,#ff6800,#ff6900,#ff6b00,#ff6d00,#ff6e00,#ff6e00,#ff6f00,#ff6f00)"></i>
<i style="top:106px;height:2px;background:linear-gradient(90deg,#b2ff4d,#bfff40,#cfff30,#dfff20,#eeff11,#feff01,#fff000,#ffde00,#ffcd00,#ffbb00,#ffa900,#ff9700,#ff8700,#ff7d00,#ff7500,#ff6d00,#ff6400,#ff5c00,#ff5400,#ff4b00,#ff4100,#ff3800,#ff2f00,#ff2500,#ff1e00,#ff1d00,#ff1e00,#ff2000,#ff2100,#ff2200,#ff2400,#ff2b00,#ff3300,#ff3b00,#ff4300,#ff4b00,#ff5200,#ff5400,#ff5600,#ff5800,#ff5a00,#ff5c00,#ff5e00,#ff6000,#ff6200,#ff6300,#ff6500,#ff6700,#ff6900,#ff6a00,#ff6c00,#ff6e00,#ff6f00,#ff7100,#ff7300,#ff7300,#ff7400,#ff7400)"></i>
<i style="top:108px;height:2px;background:linear-gradient(90deg,#b1ff4e,#bdff42,#ccff33,#dbff24,#eaff15,#f9ff06,#fff600,#ffe400,#ffd200,#ffc000,#ffae00,#ff9c00,#ff8b00,#ff8100,#ff7900,#ff7100,#ff6900,#ff6100,#ff5900,#ff5000,#ff4700,#ff3f00,#ff3600,#ff2d00,#ff2600,#ff2500,#ff2600,#ff2700,#ff2700,#ff2800,#ff2a00,#ff3100,#ff3800,#ff4000,#ff4700,#ff4f00,#ff5500,#ff5800,#ff5a00,#ff5d00,#ff5f00,#ff6100,#ff6300,#ff6500,#ff6700,#ff6800,#ff6a00,#ff6c00,#ff6d00,#ff6f00,#ff7100,#ff7300,#ff7400,#ff7600,#ff7700,#ff7900,#ff7a00,#ff7a00)"></i>
<i style="top:110px;height:2px;background:linear-gradient(90deg,#b0ff4f,#bbff44,#c9ff36,#d7ff28,#e6ff19,#f4ff0b,#fffb00,#ffea00,#ffd700,#ffc500,#ffb200,#ffa000,#ff8f00,#ff8500,#ff7d00,#ff7500,#ff6d00,#ff6500,#ff5e00,#ff5600,#ff4d00,#ff4500,#ff3d00,#ff3500,#ff2e00,#ff2d00,#ff2e00,#ff2e00,#ff2e00,#ff2f00,#ff3000,#ff3600,#ff3d00,#ff4500,#ff4c00,#ff5300,#ff5900,#ff5c00,#ff5e00,#ff6100,#ff6300,#ff6600,#ff6800,#ff6a00,#ff6b00,#ff6d00,#ff6f00,#ff7100,#ff7200,#ff7400,#ff7600,#ff7700,#ff7900,#ff7b00,#ff7c00,#ff7e00,#ff7f00,#ff8000)"></i>
<i style="top:112px;height:2px;background:linear-gradient(90deg,#aeff51,#b9ff46,#c6ff39,#d4ff2b,#e1ff1e,#efff10,#fdff02,#ffef00,#ffdc00,#ffc900,#ffb700,#ffa400,#ff9200,#ff8900,#ff8100,#ff7900,#ff7200,#ff6a00,#ff6200,#ff5b00,#ff5300,#ff4c00,#ff4400,#ff3d00,#ff3700,#ff3600,#ff3500,#ff3500,#ff3500,#ff3500,#ff3600,#ff3c00,#ff4300,#ff4900,#ff5000,#ff5700,#ff5d00,#ff6000,#ff6200,#ff6500,#ff6800,#ff6a00,#ff6d00,#ff6f00,#ff7000,#ff7200,#ff7400,#ff7500,#ff7700,#ff7900,#ff7a00,#ff7c00,#ff7e00,#ff8000,#ff8100,#ff8300,#ff8500,#ff8600)"></i>
<i style="top:114px;height:2px;background:linear-gradient(90deg,#adff52,#b7ff48,#c4ff3b,#d0ff2f,#ddff22,#eaff15,#f7ff08,#fff500,#ffe200,#ffce00,#ffbb00,#ffa800,#ff9600,#ff8c00,#ff8500,#ff7e00,#ff7600,#ff6f00,#ff6700,#ff6000,#ff5a00,#ff5300,#ff4c00,#ff4500,#ff3f00,#ff3e00,#ff3d00,#ff3d00,#ff3c00,#ff3b00,#ff3c00,#ff4200,#ff4800,#ff4e00,#ff5500,#ff5b00,#ff6000,#ff6400,#ff6600,#ff6900,#ff6c00,#ff6f00,#ff7200,#ff7300,#ff7500,#ff7700,#ff7900,#ff7a00,#ff7c00,#ff7e00,#ff7f00,#ff8100,#ff8300,#ff8400,#ff8600,#ff8900,#ff8b00,#ff8c00)"></i>
<i style="top:116px;height:2px;background:linear-gradient(90deg,#acff53,#b5ff4a,#c1ff3e,#cdff32,#d9ff26,#e4ff1b,#f1ff0e,#fffb00,#ffe700,#ffd300,#ffbf00,#ffac00,#ff9a00,#ff9000,#ff8900,#ff8200,#ff7b00,#ff7300,#ff6c00,#ff6600,#ff6000,#ff5900,#ff5300,#ff4d00,#ff4700,#ff4600,#ff4500,#ff4400,#ff4300,#ff4200,#ff4200,#ff4700,#ff4d00,#ff5300,#ff5900,#ff5f00,#ff6400,#ff6800,#ff6b00,#ff6e00,#ff7100,#ff7400,#ff7600,#ff7800,#ff7a00,#ff7c00,#ff7d00,#ff7f00,#ff8100,#ff8200,#ff8400,#ff8600,#ff8800,#ff8900,#ff8b00,#ff8e00,#ff9000,#ff9200)"></i>
<i style="top:118px;height:2px;background:linear-gradient(90deg,#abff54,#b3ff4c,#beff41,#c9ff36,#d4ff2b,#dfff20,#ebff14,#fdff02,#ffec00,#ffd800,#ffc400,#ffb000,#ff9e00,#ff9400,#ff8d00,#ff8600,#ff7f00,#ff7800,#ff7100,#ff6b00,#ff6600,#ff6000,#ff5a00,#ff5500,#ff5000,#ff4e00,#ff4c00,#ff4b00,#ff4a00,#ff4800,#ff4800,#ff4d00,#ff5300,#ff5800,#ff5e00,#ff6300,#ff6800,#ff6c00,#ff6f00,#ff7200,#ff7500,#ff7800,#ff7b00,#ff7d00,#ff7f00,#ff8100,#ff8200,#ff8400,#ff8600,#ff8700,#ff8900,#ff8b00,#ff8d00,#ff8e00,#ff9000,#ff9300,#ff9600,#ff9800)"></i>
<i style="top:120px;height:2px;background:linear-gradient(90deg,#a9ff56,#b1ff4e,#bbff44,#c6ff39,#d0ff2f,#daff25,#e6ff19,#f8ff07,#fff100,#ffdd00,#ffc900,#ffb400,#ffa200,#ff9900,#ff9200,#ff8b00,#ff8400,#ff7e00,#ff7700,#ff7200,#ff6c00,#ff6700,#ff6200,#ff5d00,#ff5800,#ff5600,#ff5400,#ff5300,#ff5100,#ff5000,#ff5000,#ff5400,#ff5900,#ff5e00,#ff6300,#ff6900,#ff6d00,#ff7100,#ff7400,#ff7700,#ff7b00,#ff7e00,#ff8100,#ff8300,#ff8500,#ff8600,#ff8800,#ff8a00,#ff8b00,#ff8d00,#ff8f00,#ff9000,#ff9200,#ff9400,#ff9600,#ff9900,#ff9c00,#ff9e00)"></i>
<i style="top:122px;height:2px;background:linear-gradient(90deg,#a7ff58,#aeff51,#b8ff47,#c2ff3d,#ccff33,#d6ff29,#e1ff1e,#f3ff0c,#fff700,#ffe200,#ffce00,#ffba00,#ffa800,#ff9e00,#ff9800,#ff9100,#ff8b00,#ff8400,#ff7e00,#ff7800,#ff7400,#ff6f00,#ff6a00,#ff6500,#ff6000,#ff5f00,#ff5d00,#ff5c00,#ff5a00,#ff5900,#ff5800,#ff5c00,#ff6100,#ff6600,#ff6b00,#ff7000,#ff7500,#ff7800,#ff7b00,#ff7e00,#ff8200,#ff8500,#ff8800,#ff8900,#ff8b00,#ff8d00,#ff8f00,#ff9000,#ff9200,#ff9400,#ff9500,#ff9700,#ff9900,#ff9b00,#ff9d00,#ff9f00,#ffa200,#ffa500)"></i>
<i style="top:124px;height:2px;background:linear-gradient(90deg,#a4ff5b,#acff53,#b5ff4a,#beff41,#c8ff37,#d1ff2e,#dcff23,#eeff11,#fffc00,#ffe800,#ffd400,#ffc000,#ffae00,#ffa500,#ff9e00,#ff9800,#ff9100,#ff8b00,#ff8500,#ff8000,#ff7b00,#ff7600,#ff7200,#ff6d00,#ff6900,#ff6700,#ff6600,#ff6500,#ff6300,#ff6200,#ff6200,#ff6600,#ff6b00,#ff6f00,#ff7400,#ff7900,#ff7d00,#ff8000,#ff8300,#ff8600,#ff8900,#ff8c00,#ff8f00,#ff9100,#ff9200,#ff9400,#ff9600,#ff9800,#ff9900,#ff9b00,#ff9d00,#ff9e00,#ffa000,#ffa200,#ffa400,#ffa600,#ffa900,#ffab00)"></i>
<i style="top:126px;height:2px;background:linear-gradient(90deg,#a2ff5d,#a9ff56,#b2ff4d,#bbff44,#c4ff3b,#cdff32,#d7ff28,#e9ff16,#fdff02,#ffed00,#ffd900,#ffc600,#ffb400,#ffab00,#ffa500,#ff9e00,#ff9800,#ff9200,#ff8c00,#ff8700,#ff8300,#ff7e00,#ff7a00,#ff7500,#ff7100,#ff7000,#ff6f00,#ff6e00,#ff6d00,#ff6c00,#ff6b00,#ff6f00,#ff7400,#ff7800,#ff7d00,#ff8100,#ff8500,#ff8800,#ff8b00,#ff8e00,#ff9100,#ff9400,#ff9600,#ff9800,#ff9a00,#ff9b00,#ff9d00,#ff9f00,#ffa000,#ffa200,#ffa400,#ffa600,#ffa700,#ffa900,#ffab00,#ffad00,#ffaf00,#ffb100)"></i>
<i style="top:128px;height:2px;background:linear-gradient(90deg,#9fff60,#a6ff59,#afff50,#b7ff48,#c0ff3f,#c8ff37,#d2ff2d,#e4ff1b,#f8ff07,#fff300,#ffdf00,#ffcb00,#ffba00,#ffb100,#ffab00,#ffa500,#ff9f00,#ff9900,#ff9300,#ff8f00,#ff8b00,#ff8600,#ff8200,#ff7e00,#ff7a00,#ff7900,#ff7800,#ff7700,#ff7600,#ff7500,#ff7500,#ff7900,#ff7d00,#ff8100,#ff8600,#ff8a00,#ff8e00,#ff9100,#ff9300,#ff9600,#ff9800,#ff9b00,#ff9d00,#ff9f00,#ffa100,#ffa300,#ffa400,#ffa600,#ffa800,#ffa900,#ffab00,#ffad00,#ffaf00,#ffb000,#ffb200,#ffb400,#ffb600,#ffb700)"></i>
<i style="top:130px;height:2px;background:linear-gradient(90deg,#9dff62,#a3ff5c,#abff54,#b4ff4b,#bcff43,#c4ff3b,#ceff31,#dfff20,#f2ff0d,#fff800,#ffe500,#ffd100,#ffc000,#ffb700,#ffb200,#ffac00,#ffa600,#ffa000,#ff9b00,#ff9600,#ff9200,#ff8e00,#ff8a00,#ff8600,#ff8200,#ff8100,#ff8100,#ff8000,#ff7f00,#ff7f00,#ff7f00,#ff8200,#ff8600,#ff8a00,#ff8f00,#ff9300,#ff9600,#ff9900,#ff9b00,#ff9e00,#ffa000,#ffa200,#ffa500,#ffa600,#ffa800,#ffaa00,#ffac00,#ffad00,#ffaf00,#ffb100,#ffb200,#ffb400,#ffb600,#ffb800,#ffb900,#ffbb00,#ffbc00,#ffbd00)"></i>
<i style="top:132px;height:2px;background:linear-gradient(90deg,#9aff65,#a1ff5e,#a8ff57,#b0ff4f,#b8ff47,#c0ff3f,#c9ff36,#daff25,#edff12,#fefd01,#ffea00,#ffd700,#ffc600,#ffbe00,#ffb800,#ffb200,#ffad00,#ffa700,#ffa200,#ff9e00,#ff9a00,#ff9600,#ff9200,#ff8e00,#ff8b00,#ff8a00,#ff8900,#ff8900,#ff8800,#ff8800,#ff8800,#ff8c00,#ff9000,#ff9300,#ff9700,#ff9b00,#ff9f00,#ffa100,#ffa300,#ffa600,#ffa800,#ffaa00,#ffac00,#ffae00,#ffaf00,#ffb100,#ffb300,#ffb500,#ffb600,#ffb800,#ffba00,#ffbb00,#ffbd00,#ffbf00,#ffc000,#ffc100,#ffc200,#ffc300)"></i>
<i style="top:134px;height:2px;background:linear-gradient(90deg,#98ff67,#9eff61,#a5ff5a,#adff52,#b4ff4b,#bbff44,#c4ff3b,#d5ff2a,#e8ff17,#fbff04,#fff000,#ffdd00,#ffcc00,#ffc400,#ffbe00,#ffb900,#ffb400,#ffae00,#ffa900,#ffa500,#ffa100,#ff9e00,#ff9a00,#ff9600,#ff9300,#ff9300,#ff9200,#ff9200,#ff9200,#ff9100,#ff9200,#ff9500,#ff9900,#ff9d00,#ffa000,#ffa400,#ffa700,#ffa900,#ffab00,#ffad00,#ffaf00,#ffb100,#ffb300,#ffb500,#ffb700,#ffb800,#ffba00,#ffbc00,#ffbe00,#ffbf00,#ffc100,#ffc300,#ffc400,#ffc600,#ffc700,#ffc800,#ffc900,#ffc900)"></i>
<i style="top:136px;height:2px;background:linear-gradient(90deg,#96ff69,#9bff64,#a2ff5d,#a9ff56,#b1ff4e,#b8ff47,#c0ff3f,#d1ff2e,#e3ff1c,#f6ff09,#fff500,#ffe200,#ffd200,#ffca00,#ffc500,#ffbf00,#ffba00,#ffb500,#ffb000,#ffac00,#ffa900,#ffa500,#ffa200,#ff9e00,#ff9b00,#ff9b00,#ff9a00,#ff9a00,#ff9a00,#ff9a00,#ff9b00,#ff9e00,#ffa100,#ffa500,#ffa900,#ffac00,#ffaf00,#ffb200,#ffb300,#ffb500,#ffb700,#ffb900,#ffbb00,#ffbc00,#ffbe00,#ffc000,#ffc100,#ffc300,#ffc500,#ffc700,#ffc800,#ffca00,#ffcc00,#ffcd00,#ffcf00,#ffcf00,#ffcf00,#ffcf00)"></i>
<i style="top:138px;height:2px;background:linear-gradient(90deg,#95ff6a,#9aff65,#a1ff5e,#a8ff57,#afff50,#b6ff49,#beff41,#ceff31,#e0ff1f,#f2ff0d,#fff900,#ffe700,#ffd700,#ffcf00,#ffca00,#ffc500,#ffc000,#ffbb00,#ffb600,#ffb200,#ffaf00,#ffab00,#ffa800,#ffa400,#ffa200,#ffa100,#ffa100,#ffa100,#ffa100,#ffa100,#ffa200,#ffa500,#ffa900,#ffac00,#ffb000,#ffb400,#ffb700,#ffb900,#ffbb00,#ffbd00,#ffbe00,#ffc000,#ffc200,#ffc400,#ffc500,#ffc700,#ffc900,#ffca00,#ffcc00,#ffce00,#ffcf00,#ffd100,#ffd300,#ffd500,#ffd600,#ffd600,#ffd600,#ffd600)"></i>
<i style="top:140px;height:2px;background:linear-gradient(90deg,#95ff6a,#9aff65,#a1ff5e,#a8ff57,#afff50,#b5ff4a,#bdff42,#cdff32,#deff21,#f0ff0f,#fffd00,#ffeb00,#ffdc00,#ffd400,#ffcf00,#ffca00,#ffc500,#ffc000,#ffbb00,#ffb700,#ffb400,#ffb000,#ffad00,#ffaa00,#ffa700,#ffa600,#ffa600,#ffa600,#ffa600,#ffa600,#ffa700,#ffab00,#ffaf00,#ffb300,#ffb700,#ffbb00,#ffbf00,#ffc100,#ffc200,#ffc400,#ffc600,#ffc700,#ffc900,#ffcb00,#ffcc00,#ffce00,#ffd000,#ffd200,#ffd300,#ffd500,#ffd700,#ffd800,#ffda00,#ffdc00,#ffdd00,#ffdd00,#ffdd00,#ffdd00)"></i>
<i style="top:142px;height:2px;background:linear-gradient(90deg,#95ff6a,#9aff65,#a1ff5e,#a8ff57,#afff50,#b5ff4a,#bdff42,#ccff33,#ddff22,#edff12,#feff01,#ffef00,#ffe000,#ffd900,#ffd400,#ffcf00,#ffca00,#ffc500,#ffc000,#ffbc00,#ffb900,#ffb500,#ffb200,#ffae00,#ffab00,#ffab00,#ffab00,#ffab00,#ffab00,#ffab00,#ffac00,#ffb000,#ffb400,#ffb900,#ffbd00,#ffc200,#ffc600,#ffc800,#ffc900,#ffcb00,#ffcd00,#ffcf00,#ffd000,#ffd200,#ffd400,#ffd500,#ffd700,#ffd900,#ffdb00,#ffdc00,#ffde00,#ffe000,#ffe100,#ffe300,#ffe400,#ffe400,#ffe400,#ffe400)"></i>
<i style="top:144px;height:2px;background:linear-gradient(90deg,#95ff6a,#9aff65,#a1ff5e,#a8ff57,#afff50,#b5ff4a,#bdff42,#cbff34,#dbff24,#ebff14,#fbff04,#fff300,#ffe400,#ffdd00,#ffd800,#ffd300,#ffce00,#ffc900,#ffc400,#ffc000,#ffbd00,#ffb900,#ffb600,#ffb300,#ffb000,#ffaf00,#ffaf00,#ffaf00,#ffaf00,#ffaf00,#ffb000,#ffb400,#ffb900,#ffbe00,#ffc300,#ffc800,#ffcc00,#ffce00,#ffd000,#ffd200,#ffd300,#ffd500,#ffd700,#ffd800,#ffda00,#ffdc00,#ffde00,#ffdf00,#ffe100,#ffe300,#ffe400,#ffe600,#ffe800,#ffea00,#ffeb00,#ffeb00,#ffeb00,#ffeb00)"></i>
<i style="top:146px;height:1px;background:linear-gradient(90deg,#95ff6a,#9aff65,#a1ff5e,#a8ff57,#afff50,#b5ff4a,#bdff42,#cbff34,#dbff24,#eaff15,#faff05,#fff500,#ffe700,#ffe000,#ffda00,#ffd500,#ffd000,#ffcb00,#ffc600,#ffc200,#ffbf00,#ffbc00,#ffb800,#ffb500,#ffb200,#ffb100,#ffb100,#ffb100,#ffb100,#ffb100,#ffb200,#ffb700,#ffbc00,#ffc100,#ffc600,#ffcb00,#ffcf00,#ffd100,#ffd300,#ffd500,#ffd700,#ffd800,#ffda00,#ffdc00,#ffdd00,#ffdf00,#ffe100,#ffe300,#ffe400,#ffe600,#ffe800,#ffe900,#ffeb00,#ffed00,#ffee00,#ffee00,#ffee00,#ffee00)"></i>
</div>
<div class="cb" style="left:634.00px;top:242.00px;width:11.80px;height:167.90px;background:linear-gradient(180deg,#000080,#00009f,#0000bf,#0000df,#0000ff,#0020ff,#0040ff,#0060ff,#0080ff,#009fff,#00bfff,#00dfff,#00ffff,#20ffdf,#40ffbf,#60ff9f,#80ff80,#9fff60,#bfff40,#dfff20,#ffff00,#ffdf00,#ffbf00,#ff9f00,#ff8000,#ff6000,#ff4000,#ff2000,#ff0000,#df0000,#bf0000,#9f0000,#800000)"></div>
<div class="f" style="left:42px;top:480px;width:225px;height:145px;clip-path:polygon(0.3px 35.8px,6.3px 35.8px,6.3px 33.7px,12.2px 33.7px,12.2px 31.6px,18.2px 31.6px,18.2px 29.6px,24.2px 29.6px,24.2px 27.5px,30.2px 27.5px,30.2px 25.5px,36.1px 25.5px,36.1px 23.4px,42.1px 23.4px,42.1px 21.3px,48.1px 21.3px,48.1px 19.3px,54.1px 19.3px,54.1px 17.2px,60.0px 17.2px,60.0px 15.2px,66.0px 15.2px,66.0px 13.1px,72.0px 13.1px,72.0px 11.0px,78.0px 11.0px,78.0px 9.0px,83.9px 9.0px,83.9px 6.9px,89.9px 6.9px,89.9px 4.8px,95.9px 4.8px,95.9px 2.8px,101.9px 2.8px,101.9px 0.7px,107.8px 0.7px,107.8px 0.7px,146.6px 0.7px,146.6px 2.8px,187.8px 2.8px,187.8px 4.5px,224.2px 4.5px,224.2px 138.0px,207.2px 138.0px,207.2px 140.1px,181.9px 140.1px,181.9px 143.0px,156.6px 143.0px,156.6px 144.7px,62.6px 144.7px,62.6px 141.8px,39.1px 141.8px,39.1px 140.1px,15.0px 140.1px,15.0px 137.6px,0.3px 137.6px)">
<i style="top:0px;height:2px;background:linear-gradient(90deg,#ffcf00,#ffcf00,#ffcf00,#ffcf00,#ffcf00,#ffcf00,#ffcf00,#ffcf00,#ffcf00,#ffcf00,#ffcf00,#ffcf00,#ffcf00,#ffcf00,#ffcf00,#ffcf00,#ffcf00,#ffcf00,#ffcf00,#ffcf00,#ffcf00,#ffd000,#ffd200,#ffd500,#ffd700,#ffda00,#ffdc00,#ffce00,#ffb500,#ff9b00,#ff8c00,#ff8300,#ff7b00,#ff7300,#ff6c00,#ff6500,#ff5d00,#ff5600,#ff4e00,#ff4d00,#ff4c00,#ff4c00,#ff4900,#ff4600,#ff4200,#ff3c00,#ff3600,#ff3000,#ff2b00,#ff2700,#ff2300,#ff2000,#ff1c00,#ff1a00,#ff1a00,#ff1a00,#ff1a00)"></i>
<i style="top:2px;height:2px;background:linear-gradient(90deg,#ffc100,#ffc100,#ffc100,#ffc100,#ffc100,#ffc100,#ffc100,#ffc100,#ffc100,#ffc100,#ffc100,#ffc100,#ffc100,#ffc100,#ffc100,#ffc100,#ffc100,#ffc100,#ffc100,#ffc100,#ffc100,#ffc300,#ffc800,#ffcd00,#ffd300,#ffd900,#ffde00,#ffd300,#ffbb00,#ffa400,#ff9400,#ff8900,#ff7e00,#ff7600,#ff6f00,#ff6800,#ff6000,#ff5700,#ff4f00,#ff4d00,#ff4c00,#ff4c00,#ff4900,#ff4600,#ff4200,#ff3d00,#ff3700,#ff3100,#ff2c00,#ff2800,#ff2300,#ff2000,#ff1c00,#ff1a00,#ff1a00,#ff1a00,#ff1a00)"></i>
<i style="top:4px;height:2px;background:linear-gradient(90deg,#ffb000,#ffb000,#ffb000,#ffb000,#ffb000,#ffb000,#ffb000,#ffb000,#ffb000,#ffb000,#ffb000,#ffb000,#ffb000,#ffb000,#ffb000,#ffb000,#ffb000,#ffb000,#ffb000,#ffb000,#ffb000,#ffb400,#ffbc00,#ffc400,#ffcd00,#ffd700,#ffe000,#ffd800,#ffc300,#ffae00,#ff9e00,#ff9000,#ff8300,#ff7a00,#ff7300,#ff6c00,#ff6200,#ff5800,#ff4f00,#ff4d00,#ff4c00,#ff4c00,#ff4900,#ff4600,#ff4200,#ff3d00,#ff3800,#ff3300,#ff2d00,#ff2800,#ff2400,#ff2000,#ff1c00,#ff1a00,#ff1a00,#ff1a00,#ff1a00)"></i>
<i style="top:6px;height:2px;background:linear-gradient(90deg,#ff9f00,#ff9f00,#ff9f00,#ff9f00,#ff9f00,#ff9f00,#ff9f00,#ff9f00,#ff9f00,#ff9f00,#ff9f00,#ff9f00,#ff9f00,#ff9f00,#ff9f00,#ff9f00,#ff9f00,#ff9f00,#ff9f00,#ff9f00,#ff9f00,#ffa500,#ffb000,#ffbb00,#ffc800,#ffd600,#ffe200,#ffdd00,#ffcb00,#ffb800,#ffa700,#ff9700,#ff8700,#ff7e00,#ff7700,#ff6f00,#ff6500,#ff5a00,#ff4f00,#ff4d00,#ff4d00,#ff4c00,#ff4900,#ff4600,#ff4200,#ff3e00,#ff3900,#ff3400,#ff2f00,#ff2900,#ff2400,#ff2000,#ff1c00,#ff1a00,#ff1a00,#ff1a00,#ff1a00)"></i>
<i style="top:8px;height:2px;background:linear-gradient(90deg,#ff8f00,#ff8f00,#ff8f00,#ff8f00,#ff8f00,#ff8f00,#ff8f00,#ff8f00,#ff8f00,#ff8f00,#ff8f00,#ff8f00,#ff8f00,#ff8f00,#ff8f00,#ff8f00,#ff8f00,#ff8f00,#ff8f00,#ff8f00,#ff8f00,#ff9600,#ffa500,#ffb300,#ffc300,#ffd400,#ffe500,#ffe200,#ffd200,#ffc200,#ffb000,#ff9e00,#ff8c00,#ff8100,#ff7a00,#ff7300,#ff6800,#ff5b00,#ff5000,#ff4d00,#ff4d00,#ff4c00,#ff4900,#ff4600,#ff4200,#ff3e00,#ff3a00,#ff3600,#ff3000,#ff2a00,#ff2400,#ff2000,#ff1d00,#ff1a00,#ff1a00,#ff1a00,#ff1a00)"></i>
<i style="top:10px;height:2px;background:linear-gradient(90deg,#ff8200,#ff8200,#ff8200,#ff8200,#ff8200,#ff8200,#ff8200,#ff8200,#ff8200,#ff8200,#ff8200,#ff8200,#ff8200,#ff8200,#ff8300,#ff8300,#ff8300,#ff8300,#ff8300,#ff8400,#ff8500,#ff8d00,#ff9e00,#ffaf00,#ffc100,#ffd400,#ffe700,#ffe700,#ffd900,#ffca00,#ffb800,#ffa400,#ff9100,#ff8500,#ff7e00,#ff7600,#ff6b00,#ff5e00,#ff5200,#ff4e00,#ff4e00,#ff4d00,#ff4a00,#ff4700,#ff4300,#ff4000,#ff3c00,#ff3800,#ff3200,#ff2b00,#ff2600,#ff2200,#ff1e00,#ff1c00,#ff1b00,#ff1b00,#ff1b00)"></i>
<i style="top:12px;height:2px;background:linear-gradient(90deg,#ff7a00,#ff7a00,#ff7a00,#ff7a00,#ff7a00,#ff7a00,#ff7a00,#ff7a00,#ff7a00,#ff7a00,#ff7a00,#ff7a00,#ff7b00,#ff7c00,#ff7d00,#ff7d00,#ff7d00,#ff7d00,#ff7e00,#ff8000,#ff8200,#ff8c00,#ff9e00,#ffb000,#ffc300,#ffd700,#ffea00,#ffea00,#ffde00,#ffd000,#ffbe00,#ffaa00,#ff9600,#ff8a00,#ff8200,#ff7900,#ff6e00,#ff6100,#ff5500,#ff5100,#ff5000,#ff4f00,#ff4c00,#ff4900,#ff4500,#ff4200,#ff3e00,#ff3a00,#ff3500,#ff2f00,#ff2900,#ff2600,#ff2200,#ff1f00,#ff1f00,#ff1f00,#ff1f00)"></i>
<i style="top:14px;height:2px;background:linear-gradient(90deg,#ff7500,#ff7500,#ff7500,#ff7500,#ff7500,#ff7500,#ff7500,#ff7500,#ff7500,#ff7500,#ff7500,#ff7500,#ff7600,#ff7700,#ff7900,#ff7a00,#ff7a00,#ff7a00,#ff7c00,#ff7f00,#ff8300,#ff8e00,#ffa100,#ffb400,#ffc700,#ffda00,#ffec00,#ffed00,#ffe100,#ffd500,#ffc300,#ffaf00,#ff9a00,#ff8e00,#ff8500,#ff7c00,#ff7100,#ff6500,#ff5a00,#ff5500,#ff5400,#ff5200,#ff4f00,#ff4b00,#ff4800,#ff4400,#ff4100,#ff3d00,#ff3800,#ff3300,#ff2e00,#ff2a00,#ff2700,#ff2400,#ff2400,#ff2400,#ff2400)"></i>
<i style="top:16px;height:2px;background:linear-gradient(90deg,#ff7000,#ff7000,#ff7000,#ff7000,#ff7000,#ff7000,#ff7000,#ff7000,#ff7000,#ff7000,#ff7000,#ff7000,#ff7100,#ff7400,#ff7600,#ff7800,#ff7800,#ff7800,#ff7a00,#ff8000,#ff8500,#ff9100,#ffa500,#ffb900,#ffcc00,#ffde00,#ffef00,#fff000,#ffe500,#ffda00,#ffc800,#ffb300,#ff9f00,#ff9200,#ff8900,#ff7f00,#ff7400,#ff6900,#ff5e00,#ff5a00,#ff5700,#ff5400,#ff5100,#ff4d00,#ff4a00,#ff4600,#ff4300,#ff3f00,#ff3b00,#ff3700,#ff3300,#ff2f00,#ff2c00,#ff2900,#ff2900,#ff2900,#ff2900)"></i>
<i style="top:18px;height:2px;background:linear-gradient(90deg,#ff6d00,#ff6d00,#ff6d00,#ff6d00,#ff6d00,#ff6d00,#ff6d00,#ff6d00,#ff6d00,#ff6d00,#ff6e00,#ff6e00,#ff6f00,#ff7200,#ff7500,#ff7700,#ff7700,#ff7800,#ff7b00,#ff8100,#ff8800,#ff9600,#ffaa00,#ffbe00,#ffd100,#ffe200,#fff200,#fff300,#ffe900,#ffde00,#ffcd00,#ffb800,#ffa400,#ff9600,#ff8c00,#ff8200,#ff7700,#ff6c00,#ff6200,#ff5d00,#ff5a00,#ff5600,#ff5300,#ff4f00,#ff4c00,#ff4800,#ff4500,#ff4100,#ff3e00,#ff3a00,#ff3600,#ff3300,#ff2f00,#ff2d00,#ff2c00,#ff2c00,#ff2c00)"></i>
<i style="top:20px;height:2px;background:linear-gradient(90deg,#ff6b00,#ff6b00,#ff6b00,#ff6b00,#ff6b00,#ff6b00,#ff6c00,#ff6c00,#ff6d00,#ff6e00,#ff6e00,#ff6e00,#ff6f00,#ff7200,#ff7600,#ff7800,#ff7900,#ff7a00,#ff7e00,#ff8600,#ff8f00,#ff9d00,#ffb100,#ffc500,#ffd700,#ffe600,#fff500,#fff600,#ffed00,#ffe300,#ffd200,#ffbd00,#ffa900,#ff9b00,#ff8f00,#ff8400,#ff7a00,#ff6f00,#ff6500,#ff6000,#ff5b00,#ff5700,#ff5300,#ff5000,#ff4c00,#ff4900,#ff4600,#ff4200,#ff3f00,#ff3b00,#ff3800,#ff3400,#ff3100,#ff2e00,#ff2e00,#ff2e00,#ff2e00)"></i>
<i style="top:22px;height:2px;background:linear-gradient(90deg,#ff6b00,#ff6b00,#ff6b00,#ff6b00,#ff6b00,#ff6b00,#ff6c00,#ff6d00,#ff6f00,#ff7000,#ff7000,#ff7000,#ff7100,#ff7400,#ff7800,#ff7b00,#ff7c00,#ff7e00,#ff8300,#ff8d00,#ff9800,#ffa600,#ffb900,#ffcc00,#ffdd00,#ffeb00,#fff800,#fff900,#fff100,#ffe700,#ffd700,#ffc200,#ffae00,#ff9f00,#ff9300,#ff8700,#ff7c00,#ff7200,#ff6800,#ff6100,#ff5c00,#ff5700,#ff5400,#ff5000,#ff4d00,#ff4900,#ff4600,#ff4200,#ff3f00,#ff3b00,#ff3800,#ff3400,#ff3100,#ff2e00,#ff2e00,#ff2e00,#ff2e00)"></i>
<i style="top:24px;height:2px;background:linear-gradient(90deg,#ff6b00,#ff6b00,#ff6b00,#ff6b00,#ff6b00,#ff6b00,#ff6c00,#ff6e00,#ff7000,#ff7200,#ff7200,#ff7200,#ff7400,#ff7700,#ff7a00,#ff7d00,#ff8000,#ff8200,#ff8900,#ff9500,#ffa000,#ffaf00,#ffc200,#ffd400,#ffe300,#fff000,#fffc00,#fffc00,#fff400,#ffec00,#ffdc00,#ffc700,#ffb300,#ffa300,#ff9600,#ff8a00,#ff7f00,#ff7400,#ff6a00,#ff6300,#ff5d00,#ff5800,#ff5400,#ff5000,#ff4d00,#ff4900,#ff4600,#ff4200,#ff3f00,#ff3b00,#ff3800,#ff3400,#ff3100,#ff2e00,#ff2e00,#ff2e00,#ff2e00)"></i>
<i style="top:26px;height:2px;background:linear-gradient(90deg,#ff6d00,#ff6d00,#ff6d00,#ff6d00,#ff6c00,#ff6c00,#ff6d00,#ff7000,#ff7300,#ff7500,#ff7500,#ff7500,#ff7600,#ff7900,#ff7c00,#ff8000,#ff8300,#ff8700,#ff8f00,#ff9b00,#ffa800,#ffb700,#ffc800,#ffda00,#ffe800,#fff300,#fffe00,#fffe00,#fff700,#ffef00,#ffe000,#ffcc00,#ffb800,#ffa800,#ff9a00,#ff8d00,#ff8100,#ff7700,#ff6d00,#ff6600,#ff5f00,#ff5900,#ff5500,#ff5100,#ff4e00,#ff4a00,#ff4700,#ff4300,#ff4000,#ff3c00,#ff3900,#ff3600,#ff3200,#ff3000,#ff2f00,#ff2f00,#ff2f00)"></i>
<i style="top:28px;height:2px;background:linear-gradient(90deg,#ff7100,#ff7100,#ff7100,#ff7100,#ff7100,#ff7000,#ff7000,#ff7200,#ff7500,#ff7700,#ff7700,#ff7700,#ff7800,#ff7b00,#ff7e00,#ff8100,#ff8700,#ff8c00,#ff9500,#ffa000,#ffac00,#ffba00,#ffcb00,#ffdb00,#ffe900,#fff300,#fffd00,#fffe00,#fff800,#fff100,#ffe300,#ffd000,#ffbe00,#ffae00,#ff9f00,#ff9100,#ff8500,#ff7b00,#ff7100,#ff6900,#ff6200,#ff5c00,#ff5800,#ff5400,#ff5100,#ff4d00,#ff4a00,#ff4600,#ff4300,#ff3f00,#ff3c00,#ff3900,#ff3600,#ff3400,#ff3400,#ff3400,#ff3400)"></i>
<i style="top:30px;height:2px;background:linear-gradient(90deg,#ff7800,#ff7800,#ff7800,#ff7800,#ff7700,#ff7500,#ff7400,#ff7600,#ff7800,#ff7a00,#ff7a00,#ff7a00,#ff7a00,#ff7c00,#ff7e00,#ff8300,#ff8a00,#ff9200,#ff9b00,#ffa400,#ffae00,#ffba00,#ffca00,#ffda00,#ffe700,#fff100,#fffb00,#fffc00,#fff700,#fff100,#ffe500,#ffd400,#ffc400,#ffb400,#ffa500,#ff9600,#ff8a00,#ff8000,#ff7600,#ff6e00,#ff6700,#ff6000,#ff5c00,#ff5900,#ff5500,#ff5200,#ff4e00,#ff4b00,#ff4700,#ff4400,#ff4100,#ff3f00,#ff3d00,#ff3b00,#ff3b00,#ff3b00,#ff3b00)"></i>
<i style="top:32px;height:2px;background:linear-gradient(90deg,#ff7f00,#ff7f00,#ff7f00,#ff7f00,#ff7d00,#ff7b00,#ff7900,#ff7a00,#ff7b00,#ff7c00,#ff7c00,#ff7c00,#ff7c00,#ff7e00,#ff7f00,#ff8400,#ff8e00,#ff9800,#ffa100,#ffa800,#ffaf00,#ffba00,#ffc900,#ffd800,#ffe400,#ffef00,#fff900,#fffa00,#fff600,#fff100,#ffe600,#ffd900,#ffcb00,#ffbb00,#ffab00,#ff9b00,#ff8f00,#ff8500,#ff7b00,#ff7300,#ff6c00,#ff6500,#ff6100,#ff5e00,#ff5a00,#ff5700,#ff5300,#ff5000,#ff4c00,#ff4900,#ff4600,#ff4400,#ff4300,#ff4200,#ff4200,#ff4200,#ff4200)"></i>
<i style="top:34px;height:2px;background:linear-gradient(90deg,#ff8600,#ff8600,#ff8500,#ff8500,#ff8200,#ff7f00,#ff7d00,#ff7d00,#ff7e00,#ff7e00,#ff7e00,#ff7e00,#ff7e00,#ff7f00,#ff7f00,#ff8400,#ff9000,#ff9d00,#ffa600,#ffab00,#ffb000,#ffba00,#ffc800,#ffd600,#ffe300,#ffed00,#fff700,#fff900,#fff600,#fff100,#ffe800,#ffdd00,#ffd000,#ffc100,#ffb000,#ffa000,#ff9400,#ff8a00,#ff7f00,#ff7800,#ff7100,#ff6a00,#ff6600,#ff6300,#ff5f00,#ff5c00,#ff5800,#ff5500,#ff5100,#ff4e00,#ff4b00,#ff4a00,#ff4a00,#ff4900,#ff4900,#ff4900,#ff4900)"></i>
<i style="top:36px;height:2px;background:linear-gradient(90deg,#ff8900,#ff8800,#ff8800,#ff8700,#ff8400,#ff8100,#ff7f00,#ff7f00,#ff7f00,#ff7f00,#ff7f00,#ff7f00,#ff7f00,#ff7f00,#ff8000,#ff8500,#ff9100,#ff9e00,#ffa700,#ffac00,#ffb000,#ffba00,#ffc800,#ffd700,#ffe300,#ffed00,#fff700,#fffa00,#fff700,#fff400,#ffec00,#ffe000,#ffd500,#ffc600,#ffb500,#ffa500,#ff9900,#ff8e00,#ff8400,#ff7d00,#ff7600,#ff6f00,#ff6b00,#ff6700,#ff6400,#ff6100,#ff5d00,#ff5a00,#ff5600,#ff5300,#ff5000,#ff4f00,#ff4f00,#ff4f00,#ff4f00,#ff4f00,#ff4f00)"></i>
<i style="top:38px;height:2px;background:linear-gradient(90deg,#ff8900,#ff8800,#ff8700,#ff8500,#ff8300,#ff8100,#ff8000,#ff7f00,#ff7f00,#ff7f00,#ff7f00,#ff7f00,#ff7f00,#ff7f00,#ff8000,#ff8400,#ff9100,#ff9d00,#ffa600,#ffab00,#ffb000,#ffba00,#ffc900,#ffd800,#ffe500,#ffef00,#fff900,#fffc00,#fffa00,#fff800,#fff000,#ffe400,#ffd800,#ffc900,#ffb900,#ffaa00,#ff9e00,#ff9300,#ff8900,#ff8100,#ff7b00,#ff7400,#ff7000,#ff6c00,#ff6900,#ff6500,#ff6200,#ff5e00,#ff5b00,#ff5800,#ff5500,#ff5400,#ff5400,#ff5400,#ff5400,#ff5400,#ff5400)"></i>
<i style="top:40px;height:2px;background:linear-gradient(90deg,#ff8900,#ff8700,#ff8500,#ff8300,#ff8200,#ff8100,#ff8000,#ff7f00,#ff7f00,#ff7f00,#ff7f00,#ff7f00,#ff7f00,#ff7f00,#ff8000,#ff8400,#ff8f00,#ff9b00,#ffa400,#ffaa00,#ffb000,#ffba00,#ffca00,#ffda00,#ffe700,#fff200,#fffc00,#feff01,#fffe00,#fffc00,#fff400,#ffe700,#ffdb00,#ffcc00,#ffbd00,#ffae00,#ffa300,#ff9800,#ff8e00,#ff8600,#ff7f00,#ff7900,#ff7500,#ff7100,#ff6e00,#ff6a00,#ff6700,#ff6300,#ff6000,#ff5c00,#ff5a00,#ff5900,#ff5900,#ff5900,#ff5900,#ff5900,#ff5900)"></i>
<i style="top:42px;height:2px;background:linear-gradient(90deg,#ff8900,#ff8600,#ff8300,#ff8100,#ff8000,#ff8000,#ff7f00,#ff7f00,#ff7f00,#ff7f00,#ff7f00,#ff7f00,#ff7f00,#ff7f00,#ff7f00,#ff8400,#ff8e00,#ff9900,#ffa200,#ffa900,#ffaf00,#ffbb00,#ffcb00,#ffdc00,#ffe900,#fff400,#fffe00,#fcff03,#fdff02,#feff01,#fff800,#ffeb00,#ffdd00,#ffcf00,#ffc100,#ffb300,#ffa800,#ff9d00,#ff9300,#ff8b00,#ff8400,#ff7e00,#ff7a00,#ff7600,#ff7300,#ff6f00,#ff6c00,#ff6800,#ff6500,#ff6100,#ff5f00,#ff5e00,#ff5e00,#ff5e00,#ff5e00,#ff5e00,#ff5e00)"></i>
<i style="top:44px;height:2px;background:linear-gradient(90deg,#ff8800,#ff8500,#ff8100,#ff7f00,#ff7e00,#ff7e00,#ff7e00,#ff7e00,#ff7e00,#ff7e00,#ff7e00,#ff7e00,#ff7e00,#ff7e00,#ff7e00,#ff8200,#ff8c00,#ff9700,#ffa000,#ffa700,#ffae00,#ffba00,#ffcb00,#ffdc00,#ffe900,#fff400,#fffe00,#fcff03,#fbff04,#fbff04,#fffa00,#ffed00,#ffe000,#ffd300,#ffc500,#ffb800,#ffac00,#ffa200,#ff9800,#ff9000,#ff8900,#ff8300,#ff7e00,#ff7b00,#ff7800,#ff7400,#ff7100,#ff6d00,#ff6a00,#ff6600,#ff6300,#ff6300,#ff6200,#ff6200,#ff6200,#ff6200,#ff6200)"></i>
<i style="top:46px;height:2px;background:linear-gradient(90deg,#ff8500,#ff8200,#ff7f00,#ff7c00,#ff7c00,#ff7c00,#ff7c00,#ff7c00,#ff7c00,#ff7c00,#ff7c00,#ff7c00,#ff7c00,#ff7c00,#ff7c00,#ff8000,#ff8a00,#ff9500,#ff9d00,#ffa400,#ffac00,#ffb800,#ffc900,#ffda00,#ffe800,#fff200,#fffc00,#fdff02,#fcff03,#fbff04,#fffb00,#ffef00,#ffe200,#ffd600,#ffc900,#ffbc00,#ffb100,#ffa700,#ff9d00,#ff9500,#ff8e00,#ff8800,#ff8300,#ff8000,#ff7c00,#ff7900,#ff7500,#ff7200,#ff6f00,#ff6b00,#ff6800,#ff6700,#ff6500,#ff6500,#ff6400,#ff6400,#ff6400)"></i>
<i style="top:48px;height:2px;background:linear-gradient(90deg,#ff8300,#ff8000,#ff7d00,#ff7a00,#ff7a00,#ff7a00,#ff7a00,#ff7a00,#ff7a00,#ff7a00,#ff7a00,#ff7a00,#ff7a00,#ff7a00,#ff7a00,#ff7e00,#ff8800,#ff9200,#ff9b00,#ffa200,#ffa900,#ffb500,#ffc600,#ffd800,#ffe500,#fff000,#fffa00,#ffff00,#fdff02,#fbff04,#fffc00,#fff000,#ffe400,#ffd900,#ffcd00,#ffc100,#ffb600,#ffac00,#ffa200,#ff9a00,#ff9300,#ff8c00,#ff8800,#ff8500,#ff8100,#ff7e00,#ff7a00,#ff7700,#ff7300,#ff7000,#ff6d00,#ff6b00,#ff6900,#ff6700,#ff6700,#ff6700,#ff6700)"></i>
<i style="top:50px;height:2px;background:linear-gradient(90deg,#ff8000,#ff7d00,#ff7a00,#ff7700,#ff7700,#ff7700,#ff7700,#ff7700,#ff7700,#ff7700,#ff7700,#ff7700,#ff7700,#ff7700,#ff7700,#ff7b00,#ff8500,#ff9000,#ff9800,#ffa000,#ffa700,#ffb300,#ffc400,#ffd500,#ffe300,#ffed00,#fff700,#fffd00,#feff01,#fcff03,#fffc00,#fff200,#ffe700,#ffdc00,#ffd100,#ffc600,#ffbb00,#ffb100,#ffa700,#ff9f00,#ff9800,#ff9100,#ff8d00,#ff8a00,#ff8600,#ff8300,#ff7f00,#ff7c00,#ff7900,#ff7500,#ff7200,#ff6f00,#ff6c00,#ff6a00,#ff6a00,#ff6a00,#ff6a00)"></i>
<i style="top:52px;height:2px;background:linear-gradient(90deg,#ff7c00,#ff7900,#ff7600,#ff7400,#ff7400,#ff7400,#ff7400,#ff7400,#ff7400,#ff7400,#ff7400,#ff7400,#ff7400,#ff7400,#ff7400,#ff7900,#ff8200,#ff8c00,#ff9500,#ff9e00,#ffa600,#ffb200,#ffc300,#ffd400,#ffe100,#ffeb00,#fff400,#fffa00,#fffd00,#feff01,#fffb00,#fff200,#ffe900,#ffdf00,#ffd500,#ffca00,#ffc000,#ffb600,#ffad00,#ffa500,#ff9e00,#ff9700,#ff9300,#ff9000,#ff8c00,#ff8900,#ff8500,#ff8200,#ff7e00,#ff7b00,#ff7700,#ff7400,#ff7100,#ff6e00,#ff6e00,#ff6e00,#ff6e00)"></i>
<i style="top:54px;height:2px;background:linear-gradient(90deg,#ff7600,#ff7400,#ff7100,#ff6f00,#ff6f00,#ff6f00,#ff6f00,#ff6f00,#ff6f00,#ff6f00,#ff6f00,#ff6f00,#ff6f00,#ff7000,#ff7200,#ff7600,#ff7f00,#ff8800,#ff9200,#ff9c00,#ffa600,#ffb300,#ffc400,#ffd400,#ffe000,#ffe800,#fff000,#fff600,#fff900,#fffc00,#fff900,#fff200,#ffea00,#ffe200,#ffd800,#ffcf00,#ffc600,#ffbc00,#ffb300,#ffac00,#ffa500,#ff9e00,#ff9a00,#ff9700,#ff9300,#ff9000,#ff8c00,#ff8900,#ff8500,#ff8200,#ff7e00,#ff7b00,#ff7700,#ff7500,#ff7400,#ff7400,#ff7400)"></i>
<i style="top:56px;height:2px;background:linear-gradient(90deg,#ff6f00,#ff6d00,#ff6c00,#ff6a00,#ff6a00,#ff6a00,#ff6a00,#ff6a00,#ff6a00,#ff6a00,#ff6a00,#ff6a00,#ff6b00,#ff6d00,#ff6f00,#ff7300,#ff7b00,#ff8400,#ff8e00,#ff9b00,#ffa700,#ffb500,#ffc500,#ffd400,#ffdf00,#ffe600,#ffec00,#fff100,#fff400,#fff800,#fff600,#fff100,#ffec00,#ffe500,#ffdc00,#ffd400,#ffcb00,#ffc300,#ffba00,#ffb300,#ffac00,#ffa600,#ffa100,#ff9e00,#ff9a00,#ff9700,#ff9300,#ff9000,#ff8d00,#ff8900,#ff8600,#ff8200,#ff7f00,#ff7c00,#ff7c00,#ff7c00,#ff7c00)"></i>
<i style="top:58px;height:2px;background:linear-gradient(90deg,#ff6800,#ff6700,#ff6700,#ff6600,#ff6600,#ff6600,#ff6600,#ff6600,#ff6600,#ff6600,#ff6600,#ff6600,#ff6700,#ff6900,#ff6c00,#ff7100,#ff7800,#ff8000,#ff8b00,#ff9900,#ffa800,#ffb700,#ffc600,#ffd400,#ffde00,#ffe300,#ffe800,#ffec00,#fff000,#fff300,#fff300,#fff000,#ffee00,#ffe800,#ffe000,#ffd900,#ffd100,#ffc900,#ffc100,#ffba00,#ffb300,#ffad00,#ffa900,#ffa500,#ffa200,#ff9e00,#ff9b00,#ff9700,#ff9400,#ff9000,#ff8d00,#ff8900,#ff8600,#ff8300,#ff8300,#ff8300,#ff8300)"></i>
<i style="top:60px;height:2px;background:linear-gradient(90deg,#ff6600,#ff6500,#ff6500,#ff6500,#ff6500,#ff6500,#ff6500,#ff6500,#ff6500,#ff6500,#ff6500,#ff6500,#ff6600,#ff6900,#ff6c00,#ff7000,#ff7700,#ff7e00,#ff8900,#ff9900,#ffa900,#ffb800,#ffc500,#ffd300,#ffdc00,#ffe000,#ffe400,#ffe800,#ffec00,#ffef00,#fff000,#fff000,#fff000,#ffeb00,#ffe500,#ffde00,#ffd700,#ffd000,#ffc900,#ffc200,#ffbb00,#ffb400,#ffb000,#ffad00,#ffa900,#ffa600,#ffa200,#ff9f00,#ff9b00,#ff9800,#ff9400,#ff9100,#ff8d00,#ff8b00,#ff8a00,#ff8a00,#ff8a00)"></i>
<i style="top:62px;height:2px;background:linear-gradient(90deg,#ff6900,#ff6900,#ff6900,#ff6900,#ff6900,#ff6900,#ff6900,#ff6900,#ff6900,#ff6900,#ff6900,#ff6900,#ff6a00,#ff6d00,#ff6f00,#ff7300,#ff7900,#ff7f00,#ff8900,#ff9800,#ffa800,#ffb600,#ffc300,#ffd000,#ffd800,#ffdd00,#ffe100,#ffe500,#ffe800,#ffec00,#ffee00,#fff000,#fff200,#ffef00,#ffea00,#ffe400,#ffde00,#ffd700,#ffd000,#ffc900,#ffc200,#ffbc00,#ffb700,#ffb400,#ffb000,#ffad00,#ffa900,#ffa600,#ffa300,#ff9f00,#ff9c00,#ff9800,#ff9500,#ff9200,#ff9200,#ff9200,#ff9200)"></i>
<i style="top:64px;height:2px;background:linear-gradient(90deg,#ff7000,#ff7000,#ff7000,#ff7000,#ff7000,#ff7000,#ff7000,#ff7000,#ff7000,#ff7000,#ff7000,#ff7000,#ff7100,#ff7300,#ff7400,#ff7700,#ff7c00,#ff8200,#ff8b00,#ff9800,#ffa600,#ffb300,#ffbf00,#ffcb00,#ffd400,#ffd900,#ffde00,#ffe200,#ffe600,#ffe900,#ffed00,#fff000,#fff400,#fff200,#ffef00,#ffeb00,#ffe500,#ffde00,#ffd700,#ffd000,#ffc900,#ffc300,#ffbf00,#ffbb00,#ffb800,#ffb400,#ffb100,#ffad00,#ffaa00,#ffa600,#ffa300,#ff9f00,#ff9c00,#ff9900,#ff9900,#ff9900,#ff9900)"></i>
<i style="top:66px;height:2px;background:linear-gradient(90deg,#ff7800,#ff7800,#ff7800,#ff7800,#ff7800,#ff7800,#ff7800,#ff7800,#ff7800,#ff7800,#ff7700,#ff7700,#ff7800,#ff7900,#ff7a00,#ff7c00,#ff8000,#ff8500,#ff8c00,#ff9800,#ffa400,#ffb000,#ffbc00,#ffc700,#ffcf00,#ffd500,#ffdb00,#ffe000,#ffe400,#ffe700,#ffec00,#fff100,#fff600,#fff600,#fff400,#fff200,#ffed00,#ffe600,#ffdf00,#ffd800,#ffd100,#ffca00,#ffc600,#ffc300,#ffbf00,#ffbc00,#ffb800,#ffb500,#ffb100,#ffae00,#ffaa00,#ffa700,#ffa300,#ffa100,#ffa000,#ffa000,#ffa000)"></i>
<i style="top:68px;height:2px;background:linear-gradient(90deg,#ff8000,#ff8000,#ff8000,#ff8000,#ff7f00,#ff7f00,#ff7f00,#ff7f00,#ff7e00,#ff7e00,#ff7e00,#ff7e00,#ff7e00,#ff7e00,#ff7e00,#ff8000,#ff8300,#ff8700,#ff8d00,#ff9700,#ffa100,#ffac00,#ffb600,#ffc100,#ffca00,#ffd100,#ffd800,#ffdd00,#ffe200,#ffe600,#ffec00,#fff200,#fff900,#fffb00,#fffb00,#fffa00,#fff500,#ffee00,#ffe700,#ffe000,#ffd900,#ffd300,#ffcf00,#ffcb00,#ffc700,#ffc400,#ffc000,#ffbd00,#ffb900,#ffb600,#ffb200,#ffaf00,#ffab00,#ffa900,#ffa800,#ffa800,#ffa800)"></i>
<i style="top:70px;height:2px;background:linear-gradient(90deg,#ff8b00,#ff8a00,#ff8900,#ff8900,#ff8800,#ff8700,#ff8600,#ff8500,#ff8500,#ff8400,#ff8300,#ff8200,#ff8200,#ff8200,#ff8200,#ff8300,#ff8500,#ff8800,#ff8d00,#ff9400,#ff9b00,#ffa400,#ffae00,#ffb900,#ffc200,#ffcb00,#ffd300,#ffda00,#ffe000,#ffe600,#ffee00,#fff600,#fffe00,#fcff03,#faff05,#f9ff06,#fdfe02,#fff900,#fff200,#ffeb00,#ffe400,#ffde00,#ffd900,#ffd400,#ffd000,#ffcd00,#ffc900,#ffc600,#ffc200,#ffbf00,#ffbb00,#ffb800,#ffb400,#ffb200,#ffb100,#ffb100,#ffb100)"></i>
<i style="top:72px;height:2px;background:linear-gradient(90deg,#ff9700,#ff9500,#ff9400,#ff9200,#ff9100,#ff8f00,#ff8d00,#ff8c00,#ff8a00,#ff8900,#ff8700,#ff8500,#ff8400,#ff8400,#ff8400,#ff8500,#ff8700,#ff8900,#ff8b00,#ff8f00,#ff9300,#ff9b00,#ffa500,#ffaf00,#ffba00,#ffc400,#ffce00,#ffd700,#ffdf00,#ffe800,#fff100,#fffb00,#f9ff06,#f4ff0b,#f0ff0f,#eeff11,#f2ff0d,#f9ff06,#fefd01,#fff700,#fff000,#ffe900,#ffe400,#ffdf00,#ffda00,#ffd600,#ffd300,#ffcf00,#ffcc00,#ffc800,#ffc500,#ffc200,#ffbe00,#ffbb00,#ffbb00,#ffbb00,#ffbb00)"></i>
<i style="top:74px;height:2px;background:linear-gradient(90deg,#ffa300,#ffa100,#ff9f00,#ff9c00,#ff9a00,#ff9700,#ff9500,#ff9200,#ff9000,#ff8d00,#ff8b00,#ff8900,#ff8700,#ff8700,#ff8700,#ff8700,#ff8800,#ff8900,#ff8a00,#ff8b00,#ff8c00,#ff9100,#ff9b00,#ffa600,#ffb100,#ffbd00,#ffc800,#ffd400,#ffde00,#ffe900,#fff500,#feff01,#f2ff0d,#ebff14,#e6ff19,#e2ff1d,#e6ff19,#edff12,#f4ff0b,#fbff04,#fffc00,#fff600,#fff000,#ffea00,#ffe400,#ffe000,#ffdd00,#ffd900,#ffd600,#ffd200,#ffcf00,#ffcb00,#ffc800,#ffc500,#ffc500,#ffc500,#ffc500)"></i>
<i style="top:76px;height:2px;background:linear-gradient(90deg,#ffb300,#ffb000,#ffac00,#ffa900,#ffa500,#ffa200,#ff9f00,#ff9b00,#ff9700,#ff9400,#ff9100,#ff8d00,#ff8b00,#ff8b00,#ff8b00,#ff8a00,#ff8a00,#ff8a00,#ff8900,#ff8700,#ff8500,#ff8900,#ff9300,#ff9e00,#ffaa00,#ffb700,#ffc400,#ffd100,#ffde00,#ffeb00,#fff900,#f8ff07,#ebff14,#e2ff1d,#dcff23,#d6ff29,#d9ff26,#e0ff1f,#e7ff18,#edff12,#f4ff0b,#fbff04,#fffc00,#fff500,#ffef00,#ffeb00,#ffe800,#ffe400,#ffe000,#ffdd00,#ffd900,#ffd600,#ffd200,#ffcf00,#ffcf00,#ffcf00,#ffcf00)"></i>
<i style="top:78px;height:2px;background:linear-gradient(90deg,#ffcd00,#ffc800,#ffc200,#ffbd00,#ffb800,#ffb400,#ffaf00,#ffa900,#ffa400,#ff9f00,#ff9b00,#ff9600,#ff9300,#ff9300,#ff9200,#ff9100,#ff8e00,#ff8b00,#ff8800,#ff8400,#ff8000,#ff8400,#ff8f00,#ff9a00,#ffa600,#ffb400,#ffc200,#ffd000,#ffdf00,#ffef00,#fffe00,#f1ff0e,#e2ff1d,#d9ff26,#d1ff2e,#caff35,#ccff33,#d2ff2d,#d8ff27,#deff21,#e5ff1a,#ecff13,#f3ff0c,#faff05,#fefc01,#fff900,#fff500,#fff100,#ffed00,#ffe800,#ffe400,#ffe100,#ffdd00,#ffdb00,#ffda00,#ffda00,#ffda00)"></i>
<i style="top:80px;height:2px;background:linear-gradient(90deg,#ffed00,#ffe600,#ffde00,#ffd700,#ffd000,#ffca00,#ffc300,#ffbb00,#ffb400,#ffad00,#ffa800,#ffa300,#ff9f00,#ff9d00,#ff9c00,#ff9900,#ff9300,#ff8d00,#ff8800,#ff8300,#ff7e00,#ff8100,#ff8d00,#ff9900,#ffa600,#ffb400,#ffc200,#ffd100,#ffe200,#fff300,#fbff04,#eaff15,#d9ff26,#ceff31,#c6ff39,#beff41,#bfff40,#c3ff3c,#c7ff38,#cdff32,#d4ff2b,#dbff24,#e2ff1d,#e9ff16,#f0ff0f,#f5ff0a,#faff05,#fdfd02,#fffa00,#fff500,#fff100,#ffed00,#ffe900,#ffe700,#ffe700,#ffe700,#ffe700)"></i>
<i style="top:82px;height:2px;background:linear-gradient(90deg,#f0ff0f,#f8fe07,#fdfa02,#fff200,#ffe900,#ffe100,#ffd900,#ffce00,#ffc400,#ffbb00,#ffb500,#ffaf00,#ffab00,#ffa800,#ffa600,#ffa100,#ff9800,#ff8f00,#ff8700,#ff8200,#ff7c00,#ff7f00,#ff8c00,#ff9800,#ffa600,#ffb400,#ffc200,#ffd200,#ffe500,#fff700,#f4ff0b,#e2ff1d,#d0ff2f,#c4ff3b,#bbff44,#b2ff4d,#b1ff4e,#b4ff4b,#b6ff49,#bcff43,#c3ff3c,#caff35,#d1ff2e,#d8ff27,#dfff20,#e5ff1a,#ebff14,#f0ff0f,#f6ff09,#fcff03,#fffc00,#fff900,#fff600,#fff300,#fff300,#fff300,#fff300)"></i>
<i style="top:84px;height:2px;background:linear-gradient(90deg,#d0ff2f,#daff25,#e6ff19,#f2ff0d,#fafd05,#fff900,#ffee00,#ffe200,#ffd500,#ffca00,#ffc300,#ffbc00,#ffb700,#ffb300,#ffb000,#ffa900,#ff9e00,#ff9200,#ff8900,#ff8200,#ff7c00,#ff7f00,#ff8c00,#ff9900,#ffa600,#ffb400,#ffc200,#ffd300,#ffe700,#fffb00,#eeff11,#daff25,#c6ff39,#b9ff46,#aeff51,#a5ff5a,#a3ff5c,#a4ff5b,#a5ff5a,#abff54,#b2ff4d,#b9ff46,#c0ff3f,#c7ff38,#ceff31,#d4ff2b,#dbff24,#e1ff1e,#e8ff17,#efff10,#f4ff0b,#f8ff07,#fcff03,#fdfe02,#fefd01,#fefd01,#fefd01)"></i>
<i style="top:86px;height:2px;background:linear-gradient(90deg,#b5ff4a,#c0ff3f,#cdff32,#d9ff26,#e4ff1b,#eeff11,#faff05,#fff500,#ffe700,#ffda00,#ffd100,#ffc900,#ffc300,#ffbe00,#ffb900,#ffb200,#ffa500,#ff9800,#ff8e00,#ff8700,#ff8000,#ff8300,#ff8f00,#ff9c00,#ffa800,#ffb500,#ffc200,#ffd400,#ffea00,#feff01,#e8ff17,#d1ff2e,#baff45,#abff54,#a0ff5f,#95ff6a,#92ff6d,#92ff6d,#93ff6c,#98ff67,#9fff60,#a6ff59,#aeff51,#b5ff4a,#bdff42,#c4ff3b,#cbff34,#d1ff2e,#d9ff26,#e0ff1f,#e7ff18,#ebff14,#efff10,#f3ff0c,#f3ff0c,#f4ff0b,#f4ff0b)"></i>
<i style="top:88px;height:2px;background:linear-gradient(90deg,#a0ff5f,#aaff55,#b5ff4a,#c0ff3f,#ccff33,#d8ff27,#e5ff1a,#f5ff0a,#fff900,#ffea00,#ffe000,#ffd700,#ffce00,#ffc800,#ffc200,#ffb900,#ffad00,#ffa100,#ff9600,#ff8f00,#ff8900,#ff8b00,#ff9600,#ffa100,#ffac00,#ffb700,#ffc300,#ffd500,#ffed00,#faff05,#e1ff1e,#c7ff38,#adff52,#9cff63,#8fff70,#83ff7c,#7fff80,#7fff80,#80ff7f,#85ff7a,#8cff73,#93ff6c,#9bff64,#a3ff5c,#abff54,#b3ff4c,#baff45,#c1ff3e,#c9ff36,#d1ff2e,#d9ff26,#deff21,#e3ff1c,#e6ff19,#e8ff17,#e9ff16,#eaff15)"></i>
<i style="top:90px;height:2px;background:linear-gradient(90deg,#8cff73,#94ff6b,#9eff61,#a8ff57,#b5ff4a,#c1ff3e,#cfff30,#e1ff1e,#f3ff0c,#fffb00,#ffef00,#ffe400,#ffda00,#ffd200,#ffca00,#ffc100,#ffb500,#ffaa00,#ffa000,#ff9900,#ff9200,#ff9300,#ff9d00,#ffa600,#ffb000,#ffb900,#ffc400,#ffd600,#ffef00,#f5ff0a,#daff25,#bcff43,#a0ff5f,#8cff73,#7dff82,#70ff8f,#6cff93,#6cff93,#6cff93,#72ff8d,#79ff86,#80ff7f,#88ff77,#91ff6e,#9aff65,#a2ff5d,#a8ff57,#b0ff4f,#b9ff46,#c2ff3d,#caff35,#d0ff2f,#d6ff29,#daff25,#ddff22,#dfff20,#e1ff1e)"></i>
<i style="top:92px;height:2px;background:linear-gradient(90deg,#79ff86,#80ff7f,#88ff77,#91ff6e,#9eff61,#abff54,#baff45,#cdff32,#e1ff1e,#f3ff0c,#fefd01,#fff100,#ffe500,#ffdb00,#ffd100,#ffc700,#ffbc00,#ffb100,#ffa800,#ffa100,#ff9a00,#ff9a00,#ffa200,#ffaa00,#ffb300,#ffbb00,#ffc400,#ffd700,#fff100,#f2ff0d,#d3ff2c,#b2ff4d,#92ff6d,#7dff82,#6cff93,#5dffa2,#59ffa6,#59ffa6,#59ffa6,#5effa1,#65ff9a,#6cff93,#76ff89,#7fff80,#89ff76,#90ff6f,#97ff68,#9fff60,#a8ff57,#b2ff4d,#bbff44,#c2ff3d,#c8ff37,#ceff31,#d1ff2e,#d4ff2b,#d6ff29)"></i>
<i style="top:94px;height:2px;background:linear-gradient(90deg,#67ff98,#6eff91,#76ff89,#7fff80,#8bff74,#99ff66,#a8ff57,#bcff43,#d0ff2f,#e3ff1c,#f3ff0c,#fffb00,#ffed00,#ffe000,#ffd400,#ffc800,#ffbd00,#ffb200,#ffa900,#ffa200,#ff9b00,#ff9b00,#ffa200,#ffa900,#ffb100,#ffb900,#ffc200,#ffd600,#fff200,#efff10,#ceff31,#a9ff56,#86ff79,#6eff91,#5dffa2,#4dffb2,#48ffb7,#48ffb7,#48ffb7,#4dffb2,#53ffac,#5affa5,#63ff9c,#6dff92,#77ff88,#7eff81,#86ff79,#8eff71,#98ff67,#a2ff5d,#abff54,#b3ff4c,#b9ff46,#c0ff3f,#c4ff3b,#c7ff38,#caff35)"></i>
<i style="top:96px;height:2px;background:linear-gradient(90deg,#58ffa7,#5fffa0,#67ff98,#70ff8f,#7dff82,#89ff76,#98ff67,#acff53,#c1ff3e,#d5ff2a,#e8ff17,#faff05,#fff200,#ffe100,#ffd100,#ffc300,#ffb700,#ffab00,#ffa200,#ff9b00,#ff9400,#ff9400,#ff9a00,#ffa100,#ffaa00,#ffb300,#ffbd00,#ffd200,#fff000,#efff10,#caff35,#a2ff5d,#7aff85,#62ff9d,#50ffaf,#40ffbf,#3affc5,#39ffc6,#39ffc6,#3dffc2,#43ffbc,#49ffb6,#51ffae,#5affa5,#64ff9b,#6cff93,#74ff8b,#7cff83,#87ff78,#91ff6e,#9bff64,#a2ff5d,#a9ff56,#afff50,#b4ff4b,#b9ff46,#bcff43)"></i>
<i style="top:98px;height:2px;background:linear-gradient(90deg,#4affb5,#51ffae,#5affa5,#64ff9b,#6fff90,#7bff84,#89ff76,#9eff61,#b2ff4d,#c8ff37,#ddff22,#f3ff0c,#fff500,#ffe100,#ffcd00,#ffbb00,#ffaf00,#ffa200,#ff9800,#ff9100,#ff8a00,#ff8a00,#ff9100,#ff9800,#ffa100,#ffac00,#ffb700,#ffcf00,#ffee00,#f0ff0f,#c8ff37,#9bff64,#70ff8f,#56ffa9,#44ffbb,#34ffcb,#2effd1,#2cffd3,#2affd5,#2dffd2,#32ffcd,#38ffc7,#3fffc0,#48ffb7,#50ffaf,#59ffa6,#62ff9d,#6bff94,#75ff8a,#80ff7f,#8aff75,#91ff6e,#98ff67,#9eff61,#a4ff5b,#aaff55,#adff52)"></i>
<i style="top:100px;height:2px;background:linear-gradient(90deg,#3bffc4,#44ffbb,#4dffb2,#57ffa8,#62ff9d,#6dff92,#7bff84,#8fff70,#a4ff5b,#baff45,#d3ff2c,#ecff13,#fff900,#ffe100,#ffc800,#ffb400,#ffa700,#ff9900,#ff8f00,#ff8700,#ff8100,#ff8000,#ff8700,#ff8e00,#ff9800,#ffa500,#ffb200,#ffcb00,#ffec00,#f0ff0f,#c5ff3a,#94ff6b,#65ff9a,#4affb5,#38ffc7,#28ffd7,#21ffde,#1effe1,#1cffe3,#1effe1,#22ffdd,#27ffd8,#2effd1,#35ffca,#3dffc2,#47ffb8,#50ffaf,#5affa5,#65ff9a,#6fff90,#79ff86,#80ff7f,#87ff78,#8eff71,#94ff6b,#9bff64,#9fff60)"></i>
<i style="top:102px;height:2px;background:linear-gradient(90deg,#2fffd0,#37ffc8,#41ffbe,#4bffb4,#55ffaa,#60ff9f,#6dff92,#82ff7d,#97ff68,#aeff51,#c9ff36,#e5ff1a,#fffd00,#ffe200,#ffc700,#ffb100,#ffa100,#ff9200,#ff8600,#ff7f00,#ff7700,#ff7700,#ff7e00,#ff8500,#ff9100,#ff9f00,#ffae00,#ffc900,#ffeb00,#f0ff0f,#c3ff3c,#8fff70,#5effa1,#41ffbe,#2fffd0,#1effe1,#16ffe9,#12ffed,#0efff1,#10ffef,#13ffec,#17ffe8,#1dffe2,#24ffdb,#2cffd3,#36ffc9,#40ffbf,#4bffb4,#55ffaa,#60ff9f,#6aff95,#71ff8e,#79ff86,#80ff7f,#87ff78,#8dff72,#92ff6d)"></i>
<i style="top:104px;height:2px;background:linear-gradient(90deg,#24ffdb,#2cffd3,#35ffca,#3fffc0,#49ffb6,#53ffac,#61ff9e,#76ff89,#8cff73,#a4ff5b,#c1ff3e,#dfff20,#fcff03,#ffe600,#ffca00,#ffb300,#ffa000,#ff8e00,#ff8000,#ff7700,#ff6e00,#ff6d00,#ff7500,#ff7d00,#ff8a00,#ff9b00,#ffac00,#ffc800,#ffea00,#f0ff0f,#c2ff3d,#8dff72,#5affa5,#3cffc3,#2affd5,#18ffe7,#0efff1,#08fff7,#02fffd,#03fffc,#05fffa,#08fff7,#0efff1,#15ffea,#1cffe3,#27ffd8,#32ffcd,#3effc1,#48ffb7,#53ffac,#5dffa2,#65ff9a,#6dff92,#75ff8a,#7cff83,#82ff7d,#87ff78)"></i>
<i style="top:106px;height:2px;background:linear-gradient(90deg,#1affe5,#21ffde,#2affd5,#33ffcc,#3dffc2,#47ffb8,#55ffaa,#6bff94,#81ff7e,#9aff65,#b9ff46,#d9ff26,#f7ff08,#ffeb00,#ffcf00,#ffb600,#ffa000,#ff8b00,#ff7b00,#ff7000,#ff6500,#ff6400,#ff6d00,#ff7600,#ff8400,#ff9700,#ffab00,#ffc800,#ffea00,#f0ff0f,#c1ff3e,#8cff73,#57ffa8,#39ffc6,#26ffd9,#13ffec,#07fff8,#00fdff,#00f5ff,#00f4ff,#00f6ff,#00f8ff,#01fdfe,#06fff9,#0efff1,#19ffe6,#25ffda,#31ffce,#3cffc3,#46ffb9,#50ffaf,#59ffa6,#62ff9d,#6bff94,#72ff8d,#79ff86,#7eff81)"></i>
<i style="top:108px;height:2px;background:linear-gradient(90deg,#0ffff0,#16ffe9,#1effe1,#27ffd8,#31ffce,#3bffc4,#49ffb6,#5fffa0,#77ff88,#91ff6e,#b2ff4d,#d3ff2c,#f2ff0d,#fff000,#ffd400,#ffba00,#ffa100,#ff8800,#ff7500,#ff6900,#ff5d00,#ff5b00,#ff6400,#ff6e00,#ff7e00,#ff9400,#ffaa00,#ffc800,#ffea00,#f0ff0f,#c1ff3e,#8aff75,#55ffaa,#36ffc9,#22ffdd,#0efff1,#01fefe,#00f4ff,#00eaff,#00e8ff,#00e9ff,#00eaff,#00f0ff,#00f7ff,#01fdfe,#0cfff3,#19ffe6,#25ffda,#30ffcf,#3affc5,#45ffba,#4effb1,#58ffa7,#61ff9e,#68ff97,#6fff90,#74ff8b)"></i>
<i style="top:110px;height:2px;background:linear-gradient(90deg,#03fdfc,#09fff6,#12ffed,#1bffe4,#25ffda,#30ffcf,#3effc1,#55ffaa,#6dff92,#88ff77,#aaff55,#ccff33,#ecff13,#fff500,#ffd900,#ffbd00,#ffa200,#ff8600,#ff7000,#ff6200,#ff5500,#ff5300,#ff5e00,#ff6900,#ff7a00,#ff9200,#ffaa00,#ffc800,#ffeb00,#efff10,#bfff40,#88ff77,#52ffad,#32ffcd,#1dffe2,#09fff6,#00f9ff,#00ebff,#00dfff,#00ddff,#00ddff,#00dfff,#00e4ff,#00ecff,#00f4ff,#02fffd,#0efff1,#1bffe4,#26ffd9,#30ffcf,#3affc5,#44ffbb,#4effb1,#58ffa7,#5fffa0,#66ff99,#6bff94)"></i>
<i style="top:112px;height:2px;background:linear-gradient(90deg,#00ecff,#00f7ff,#04fffb,#10ffef,#1bffe4,#25ffda,#33ffcc,#4affb5,#63ff9c,#7eff81,#a1ff5e,#c5ff3a,#e6ff19,#fffb00,#ffde00,#ffc100,#ffa300,#ff8400,#ff6d00,#ff5e00,#ff4f00,#ff4e00,#ff5a00,#ff6600,#ff7900,#ff9100,#ffa900,#ffc900,#ffed00,#ecff13,#bbff44,#84ff7b,#4effb1,#2dffd2,#17ffe8,#02fffd,#00f1ff,#00e4ff,#00d7ff,#00d5ff,#00d5ff,#00d7ff,#00deff,#00e5ff,#00eeff,#00faff,#08fff7,#14ffeb,#1effe1,#28ffd7,#32ffcd,#3cffc3,#46ffb9,#50ffaf,#57ffa8,#5effa1,#63ff9c)"></i>
<i style="top:114px;height:2px;background:linear-gradient(90deg,#00d5ff,#00e4ff,#00f5ff,#06fff9,#11ffee,#1bffe4,#29ffd6,#41ffbe,#59ffa6,#75ff8a,#98ff67,#bdff42,#dfff20,#fdff02,#ffe400,#ffc500,#ffa400,#ff8300,#ff6a00,#ff5a00,#ff4b00,#ff4a00,#ff5700,#ff6500,#ff7800,#ff9100,#ffa900,#ffca00,#fff000,#e7ff18,#b6ff49,#7fff80,#49ffb6,#28ffd7,#11ffee,#00faff,#00eaff,#00dcff,#00d0ff,#00ceff,#00cfff,#00d2ff,#00d9ff,#00e2ff,#00ebff,#00f7ff,#04fffb,#0ffff0,#18ffe7,#21ffde,#2affd5,#34ffcb,#3fffc0,#48ffb7,#50ffaf,#57ffa8,#5cffa3)"></i>
<i style="top:116px;height:2px;background:linear-gradient(90deg,#00beff,#00d1ff,#00e7ff,#00faff,#07fff8,#12ffed,#20ffdf,#37ffc8,#4fffb0,#6bff94,#90ff6f,#b5ff4a,#d8ff27,#f6ff09,#ffe900,#ffc900,#ffa600,#ff8300,#ff6800,#ff5700,#ff4700,#ff4600,#ff5500,#ff6400,#ff7900,#ff9100,#ffa900,#ffcb00,#fff200,#e3ff1c,#b1ff4e,#7aff85,#44ffbb,#23ffdc,#0bfff4,#00f3ff,#00e3ff,#00d5ff,#00c9ff,#00c7ff,#00caff,#00cdff,#00d5ff,#00dfff,#00e8ff,#00f3ff,#00feff,#0bfff4,#13ffec,#1bffe4,#23ffdc,#2dffd2,#38ffc7,#41ffbe,#48ffb7,#4fffb0,#54ffab)"></i>
<i style="top:118px;height:2px;background:linear-gradient(90deg,#00a6ff,#00bdff,#00d8ff,#00efff,#00fcff,#09fff6,#18ffe7,#2effd1,#46ffb9,#62ff9d,#88ff77,#aeff51,#d1ff2e,#f0ff0f,#ffef00,#ffce00,#ffa900,#ff8400,#ff6700,#ff5600,#ff4600,#ff4500,#ff5500,#ff6500,#ff7a00,#ff9100,#ffaa00,#ffcc00,#fff500,#deff21,#acff53,#75ff8a,#40ffbf,#1fffe0,#07fff8,#00efff,#00deff,#00d0ff,#00c4ff,#00c3ff,#00c6ff,#00c9ff,#00d2ff,#00dcff,#00e6ff,#00f1ff,#00fcff,#07fff8,#0efff1,#16ffe9,#1effe1,#27ffd8,#32ffcd,#3bffc4,#42ffbd,#49ffb6,#4effb1)"></i>
<i style="top:120px;height:2px;background:linear-gradient(90deg,#008eff,#00a9ff,#00c7ff,#00e2ff,#00f2ff,#02fffd,#12ffed,#28ffd7,#3fffc0,#5bffa4,#81ff7e,#a7ff58,#cbff34,#eaff15,#fff500,#ffd400,#ffae00,#ff8800,#ff6c00,#ff5c00,#ff4c00,#ff4c00,#ff5a00,#ff6900,#ff7c00,#ff9300,#ffaa00,#ffcd00,#fff900,#d9ff26,#a7ff58,#72ff8d,#3effc1,#1dffe2,#06fff9,#00eeff,#00ddff,#00cfff,#00c3ff,#00c2ff,#00c4ff,#00c8ff,#00d1ff,#00dbff,#00e5ff,#00f0ff,#00faff,#05fffa,#0dfff2,#14ffeb,#1bffe4,#24ffdb,#2effd1,#37ffc8,#3effc1,#45ffba,#4affb5)"></i>
<i style="top:122px;height:2px;background:linear-gradient(90deg,#0077ff,#0094ff,#00b6ff,#00d5ff,#00e8ff,#00fbff,#0ffff0,#24ffdb,#39ffc6,#53ffac,#7aff85,#a2ff5d,#c6ff39,#e4ff1b,#fffc00,#ffdb00,#ffb500,#ff8f00,#ff7400,#ff6500,#ff5700,#ff5600,#ff6200,#ff6f00,#ff8000,#ff9500,#ffab00,#ffcf00,#fffd00,#d2ff2d,#a1ff5e,#6eff91,#3dffc2,#1dffe2,#07fff8,#00efff,#00dfff,#00d1ff,#00c5ff,#00c3ff,#00c5ff,#00c8ff,#00d0ff,#00dbff,#00e5ff,#00f0ff,#00faff,#05fffa,#0cfff3,#13ffec,#1bffe4,#23ffdc,#2cffd3,#34ffcb,#3cffc3,#42ffbd,#47ffb8)"></i>
<i style="top:124px;height:2px;background:linear-gradient(90deg,#005fff,#007fff,#00a4ff,#00c7ff,#00deff,#00f5ff,#0bfff4,#1fffe0,#33ffcc,#4dffb2,#74ff8b,#9cff63,#c1ff3e,#deff21,#fbff04,#ffe200,#ffbc00,#ff9700,#ff7c00,#ff6e00,#ff6200,#ff6100,#ff6a00,#ff7500,#ff8400,#ff9700,#ffac00,#ffd000,#fdff02,#ccff33,#9cff63,#6bff94,#3cffc3,#1effe1,#08fff7,#00f2ff,#00e2ff,#00d4ff,#00c7ff,#00c5ff,#00c6ff,#00c8ff,#00d1ff,#00dbff,#00e5ff,#00f0ff,#00faff,#05fffa,#0cfff3,#13ffec,#1affe5,#22ffdd,#2affd5,#32ffcd,#39ffc6,#40ffbf,#45ffba)"></i>
<i style="top:126px;height:2px;background:linear-gradient(90deg,#004aff,#006dff,#0095ff,#00baff,#00d5ff,#00efff,#08fff7,#1bffe4,#2effd1,#47ffb8,#6eff91,#98ff67,#bcff43,#d9ff26,#f5ff0a,#ffe900,#ffc400,#ff9e00,#ff8400,#ff7800,#ff6d00,#ff6b00,#ff7300,#ff7b00,#ff8900,#ff9a00,#ffad00,#ffd200,#f9ff06,#c7ff38,#97ff68,#69ff96,#3cffc3,#1fffe0,#09fff6,#00f4ff,#00e4ff,#00d7ff,#00cbff,#00c8ff,#00c9ff,#00caff,#00d2ff,#00ddff,#00e7ff,#00f1ff,#00fbff,#06fff9,#0dfff2,#14ffeb,#1bffe4,#22ffdd,#2affd5,#31ffce,#38ffc7,#3fffc0,#43ffbc)"></i>
<i style="top:128px;height:2px;background:linear-gradient(90deg,#003cff,#0060ff,#0089ff,#00b0ff,#00ceff,#00ebff,#06fff9,#19ffe6,#2bffd4,#44ffbb,#6bff94,#94ff6b,#b9ff46,#d5ff2a,#f1ff0e,#ffee00,#ffca00,#ffa600,#ff8d00,#ff8200,#ff7800,#ff7500,#ff7c00,#ff8200,#ff8e00,#ff9f00,#ffb100,#ffd500,#f6ff09,#c4ff3b,#95ff6a,#67ff98,#3bffc4,#1fffe0,#0bfff4,#00f6ff,#00e8ff,#00dcff,#00d1ff,#00cfff,#00d0ff,#00d1ff,#00d9ff,#00e2ff,#00ebff,#00f5ff,#00feff,#09fff6,#10ffef,#17ffe8,#1effe1,#25ffda,#2cffd3,#33ffcc,#39ffc6,#3fffc0,#44ffbb)"></i>
<i style="top:130px;height:2px;background:linear-gradient(90deg,#0034ff,#0058ff,#0081ff,#00a8ff,#00c8ff,#00e7ff,#03fffc,#17ffe8,#2affd5,#43ffbc,#6aff95,#92ff6d,#b6ff49,#d2ff2d,#eeff11,#fff200,#ffd000,#ffae00,#ff9700,#ff8c00,#ff8100,#ff7f00,#ff8400,#ff8a00,#ff9500,#ffa500,#ffb600,#ffd900,#f4ff0b,#c3ff3c,#94ff6b,#67ff98,#3bffc4,#20ffdf,#0cfff3,#00f9ff,#00ecff,#00e3ff,#00daff,#00d9ff,#00daff,#00dcff,#00e3ff,#00eaff,#00f2ff,#00fbff,#05fffa,#0dfff2,#15ffea,#1cffe3,#23ffdc,#2affd5,#30ffcf,#37ffc8,#3dffc2,#42ffbd,#46ffb9)"></i>
<i style="top:132px;height:2px;background:linear-gradient(90deg,#002dff,#0050ff,#007aff,#00a1ff,#00c3ff,#00e3ff,#01fffe,#16ffe9,#29ffd6,#43ffbc,#69ff96,#90ff6f,#b4ff4b,#d0ff2f,#ecff13,#fff500,#ffd600,#ffb700,#ffa000,#ff9500,#ff8b00,#ff8800,#ff8d00,#ff9100,#ff9c00,#ffab00,#ffbb00,#ffdd00,#f2ff0d,#c2ff3d,#94ff6b,#67ff98,#3bffc4,#21ffde,#0efff1,#00fbff,#00f1ff,#00eaff,#00e3ff,#00e3ff,#00e6ff,#00e8ff,#00edff,#00f3ff,#00faff,#02fffd,#0bfff4,#13ffec,#1affe5,#21ffde,#27ffd8,#2effd1,#35ffca,#3cffc3,#41ffbe,#45ffba,#49ffb6)"></i>
<i style="top:134px;height:2px;background:linear-gradient(90deg,#0026ff,#0049ff,#0073ff,#009bff,#00bdff,#00dfff,#00feff,#14ffeb,#29ffd6,#43ffbc,#68ff97,#8fff70,#b1ff4e,#cdff32,#e9ff16,#fff900,#ffdc00,#ffbf00,#ffaa00,#ff9f00,#ff9500,#ff9100,#ff9500,#ff9900,#ffa200,#ffb100,#ffc000,#ffe100,#f0ff0f,#c2ff3d,#95ff6a,#68ff97,#3cffc3,#22ffdd,#10ffef,#00feff,#00f6ff,#00f1ff,#00edff,#00eeff,#00f1ff,#00f4ff,#00f8ff,#00fdff,#02fffd,#09fff6,#11ffee,#18ffe7,#1fffe0,#26ffd9,#2cffd3,#33ffcc,#3affc5,#40ffbf,#44ffbb,#48ffb7,#4bffb4)"></i>
<i style="top:136px;height:2px;background:linear-gradient(90deg,#0021ff,#0044ff,#006dff,#0095ff,#00b9ff,#00dcff,#00fbff,#14ffeb,#2affd5,#44ffbb,#68ff97,#8dff72,#afff50,#caff35,#e6ff19,#fffd00,#ffe200,#ffc600,#ffb200,#ffa700,#ff9d00,#ff9900,#ff9c00,#ff9f00,#ffa800,#ffb600,#ffc500,#ffe500,#edff12,#c1ff3e,#95ff6a,#69ff96,#3effc1,#25ffda,#14ffeb,#04fffb,#00fcff,#00f9ff,#00f6ff,#00f8ff,#00fbff,#01fefe,#03fffc,#07fff8,#0bfff4,#11ffee,#18ffe7,#1effe1,#24ffdb,#2bffd4,#31ffce,#38ffc7,#3effc1,#44ffbb,#47ffb8,#4bffb4,#4effb1)"></i>
<i style="top:138px;height:2px;background:linear-gradient(90deg,#001eff,#0040ff,#0069ff,#0090ff,#00b5ff,#00d9ff,#00f9ff,#13ffec,#2cffd3,#47ffb8,#69ff96,#8cff73,#acff53,#c7ff38,#e1ff1e,#fcff03,#ffe800,#ffcd00,#ffba00,#ffaf00,#ffa500,#ffa000,#ffa200,#ffa500,#ffad00,#ffbb00,#ffca00,#ffe900,#ebff14,#c1ff3e,#96ff69,#6cff93,#42ffbd,#2affd5,#1affe5,#0bfff4,#05fffa,#02fffd,#02fefd,#03fffc,#06fff9,#0afff5,#0dfff2,#11ffee,#14ffeb,#1affe5,#1fffe0,#25ffda,#2bffd4,#30ffcf,#36ffc9,#3cffc3,#41ffbe,#46ffb9,#4affb5,#4effb1,#50ffaf)"></i>
<i style="top:140px;height:2px;background:linear-gradient(90deg,#001bff,#003dff,#0065ff,#008cff,#00b1ff,#00d5ff,#00f8ff,#13ffec,#2effd1,#4affb5,#6aff95,#8bff74,#a9ff56,#c3ff3c,#ddff22,#f7ff08,#ffee00,#ffd400,#ffc100,#ffb600,#ffac00,#ffa700,#ffa900,#ffaa00,#ffb200,#ffc000,#ffcf00,#ffec00,#e9ff16,#c0ff3f,#97ff68,#6eff91,#47ffb8,#2fffd0,#20ffdf,#12ffed,#0cfff3,#0bfff4,#0afff5,#0cfff3,#10ffef,#13ffec,#17ffe8,#1affe5,#1effe1,#23ffdc,#27ffd8,#2cffd3,#31ffce,#36ffc9,#3bffc4,#40ffbf,#44ffbb,#49ffb6,#4dffb2,#50ffaf,#52ffad)"></i>
<i style="top:142px;height:2px;background:linear-gradient(90deg,#0019ff,#003aff,#0061ff,#0087ff,#00adff,#00d3ff,#00f6ff,#13ffec,#2fffd0,#4cffb3,#6bff94,#8aff75,#a7ff58,#c0ff3f,#d9ff26,#f2ff0d,#fff300,#ffda00,#ffc800,#ffbd00,#ffb300,#ffae00,#ffae00,#ffaf00,#ffb700,#ffc400,#ffd300,#fff000,#e7ff18,#c0ff3f,#98ff67,#71ff8e,#4bffb4,#34ffcb,#26ffd9,#18ffe7,#14ffeb,#13ffec,#13ffec,#15ffea,#19ffe6,#1cffe3,#20ffdf,#23ffdc,#27ffd8,#2bffd4,#2fffd0,#33ffcc,#37ffc8,#3bffc4,#3fffc0,#43ffbc,#47ffb8,#4bffb4,#4fffb0,#52ffad,#55ffaa)"></i>
<i style="top:144px;height:1px;background:linear-gradient(90deg,#0018ff,#0038ff,#005fff,#0085ff,#00abff,#00d1ff,#00f5ff,#13ffec,#30ffcf,#4effb1,#6cff93,#8aff75,#a6ff59,#bfff40,#d7ff28,#f0ff0f,#fff600,#ffde00,#ffcb00,#ffc100,#ffb600,#ffb100,#ffb100,#ffb200,#ffb900,#ffc700,#ffd500,#fff200,#e6ff19,#bfff40,#99ff66,#72ff8d,#4dffb2,#37ffc8,#29ffd6,#1cffe3,#18ffe7,#17ffe8,#17ffe8,#1affe5,#1effe1,#21ffde,#24ffdb,#28ffd7,#2bffd4,#2fffd0,#33ffcc,#36ffc9,#3affc5,#3effc1,#41ffbe,#45ffba,#49ffb6,#4cffb3,#50ffaf,#53ffac,#56ffa9)"></i>
</div>
<div class="cb" style="left:278.50px;top:465.70px;width:12.00px;height:166.30px;background:linear-gradient(180deg,#000080,#00009f,#0000bf,#0000df,#0000ff,#0020ff,#0040ff,#0060ff,#0080ff,#009fff,#00bfff,#00dfff,#00ffff,#20ffdf,#40ffbf,#60ff9f,#80ff80,#9fff60,#bfff40,#dfff20,#ffff00,#ffdf00,#ffbf00,#ff9f00,#ff8000,#ff6000,#ff4000,#ff2000,#ff0000,#df0000,#bf0000,#9f0000,#800000)"></div>
<div class="f" style="left:397px;top:480px;width:225px;height:145px;clip-path:polygon(0.6px 35.7px,6.5px 35.7px,6.5px 33.7px,12.5px 33.7px,12.5px 31.6px,18.5px 31.6px,18.5px 29.5px,24.5px 29.5px,24.5px 27.5px,30.4px 27.5px,30.4px 25.4px,36.4px 25.4px,36.4px 23.3px,42.4px 23.3px,42.4px 21.3px,48.3px 21.3px,48.3px 19.2px,54.3px 19.2px,54.3px 17.2px,60.3px 17.2px,60.3px 15.1px,66.2px 15.1px,66.2px 13.0px,72.2px 13.0px,72.2px 11.0px,78.2px 11.0px,78.2px 8.9px,84.2px 8.9px,84.2px 6.8px,90.1px 6.8px,90.1px 4.8px,96.1px 4.8px,96.1px 2.7px,102.1px 2.7px,102.1px 0.6px,108.0px 0.6px,108.0px 0.6px,146.8px 0.6px,146.8px 2.7px,187.9px 2.7px,187.9px 4.4px,224.3px 4.4px,224.3px 138.1px,207.3px 138.1px,207.3px 140.2px,182.0px 140.2px,182.0px 143.1px,156.8px 143.1px,156.8px 144.8px,62.8px 144.8px,62.8px 141.8px,39.3px 141.8px,39.3px 140.2px,15.3px 140.2px,15.3px 137.7px,0.6px 137.7px)">
<i style="top:0px;height:2px;background:linear-gradient(90deg,#ffeb00,#ffeb00,#ffeb00,#ffeb00,#ffeb00,#ffeb00,#ffeb00,#ffeb00,#ffeb00,#ffeb00,#ffeb00,#ffeb00,#ffeb00,#ffeb00,#ffeb00,#ffeb00,#ffeb00,#ffeb00,#ffeb00,#ffeb00,#ffec00,#ffec00,#ffed00,#ffed00,#ffed00,#ffee00,#ffee00,#ffeb00,#ffe500,#ffdf00,#ffd600,#ffcc00,#ffc200,#ffb700,#ffad00,#ffa300,#ff9900,#ff9100,#ff8800,#ff7f00,#ff7700,#ff6e00,#ff6800,#ff6300,#ff5d00,#ff5800,#ff5300,#ff4d00,#ff4600,#ff3f00,#ff3800,#ff3200,#ff2b00,#ff2400,#ff2100,#ff1d00,#ff1b00)"></i>
<i style="top:2px;height:2px;background:linear-gradient(90deg,#ffe500,#ffe500,#ffe500,#ffe500,#ffe500,#ffe500,#ffe500,#ffe500,#ffe500,#ffe500,#ffe500,#ffe500,#ffe500,#ffe500,#ffe500,#ffe500,#ffe500,#ffe500,#ffe600,#ffe700,#ffe700,#ffe800,#ffe900,#ffea00,#ffeb00,#ffec00,#ffed00,#ffea00,#ffe500,#ffe000,#ffd800,#ffce00,#ffc300,#ffb900,#ffaf00,#ffa400,#ff9b00,#ff9200,#ff8a00,#ff8100,#ff7800,#ff7000,#ff6a00,#ff6400,#ff5f00,#ff5900,#ff5400,#ff4e00,#ff4700,#ff4000,#ff3900,#ff3200,#ff2b00,#ff2500,#ff2100,#ff1e00,#ff1b00)"></i>
<i style="top:4px;height:2px;background:linear-gradient(90deg,#ffdf00,#ffdf00,#ffdf00,#ffdf00,#ffdf00,#ffdf00,#ffdf00,#ffdf00,#ffdf00,#ffdf00,#ffdf00,#ffdf00,#ffdf00,#ffdf00,#ffdf00,#ffdf00,#ffdf00,#ffdf00,#ffe000,#ffe100,#ffe200,#ffe400,#ffe500,#ffe700,#ffe800,#ffea00,#ffeb00,#ffe900,#ffe600,#ffe200,#ffda00,#ffd000,#ffc600,#ffbb00,#ffb100,#ffa600,#ff9d00,#ff9400,#ff8c00,#ff8300,#ff7a00,#ff7200,#ff6c00,#ff6600,#ff6000,#ff5b00,#ff5500,#ff4f00,#ff4800,#ff4100,#ff3a00,#ff3300,#ff2d00,#ff2600,#ff2300,#ff1f00,#ff1d00)"></i>
<i style="top:6px;height:2px;background:linear-gradient(90deg,#ffd900,#ffd900,#ffd900,#ffd900,#ffd900,#ffd900,#ffd900,#ffd900,#ffd900,#ffd900,#ffd900,#ffd900,#ffd900,#ffd900,#ffd900,#ffd900,#ffd900,#ffd900,#ffda00,#ffdb00,#ffdd00,#ffdf00,#ffe100,#ffe300,#ffe500,#ffe700,#ffe900,#ffe900,#ffe600,#ffe400,#ffdc00,#ffd200,#ffc800,#ffbd00,#ffb300,#ffa800,#ff9f00,#ff9700,#ff8e00,#ff8500,#ff7d00,#ff7400,#ff6e00,#ff6800,#ff6200,#ff5c00,#ff5600,#ff5000,#ff4900,#ff4200,#ff3b00,#ff3500,#ff2e00,#ff2700,#ff2400,#ff2000,#ff1e00)"></i>
<i style="top:8px;height:2px;background:linear-gradient(90deg,#ffd200,#ffd200,#ffd200,#ffd200,#ffd200,#ffd200,#ffd200,#ffd200,#ffd200,#ffd200,#ffd200,#ffd200,#ffd200,#ffd200,#ffd200,#ffd200,#ffd200,#ffd200,#ffd300,#ffd600,#ffd800,#ffdb00,#ffdd00,#ffe000,#ffe200,#ffe500,#ffe700,#ffe800,#ffe700,#ffe500,#ffdf00,#ffd400,#ffca00,#ffbf00,#ffb500,#ffab00,#ffa100,#ff9900,#ff9000,#ff8700,#ff7f00,#ff7600,#ff7000,#ff6a00,#ff6300,#ff5d00,#ff5700,#ff5100,#ff4a00,#ff4300,#ff3d00,#ff3600,#ff2f00,#ff2800,#ff2500,#ff2100,#ff1f00)"></i>
<i style="top:10px;height:2px;background:linear-gradient(90deg,#ffcc00,#ffcc00,#ffcc00,#ffcc00,#ffcc00,#ffcc00,#ffcc00,#ffcc00,#ffcc00,#ffcc00,#ffcc00,#ffcc00,#ffcc00,#ffcc00,#ffcc00,#ffcc00,#ffcc00,#ffcc00,#ffcd00,#ffd000,#ffd300,#ffd600,#ffd900,#ffdc00,#ffdf00,#ffe200,#ffe500,#ffe700,#ffe700,#ffe700,#ffe100,#ffd600,#ffcc00,#ffc100,#ffb700,#ffad00,#ffa400,#ff9b00,#ff9200,#ff8900,#ff8100,#ff7800,#ff7200,#ff6b00,#ff6500,#ff5f00,#ff5900,#ff5200,#ff4b00,#ff4500,#ff3e00,#ff3700,#ff3000,#ff2a00,#ff2600,#ff2200,#ff2000)"></i>
<i style="top:12px;height:2px;background:linear-gradient(90deg,#ffc600,#ffc600,#ffc600,#ffc600,#ffc600,#ffc600,#ffc600,#ffc600,#ffc600,#ffc600,#ffc600,#ffc600,#ffc600,#ffc600,#ffc600,#ffc600,#ffc600,#ffc600,#ffc700,#ffcb00,#ffce00,#ffd200,#ffd500,#ffd900,#ffdc00,#ffe000,#ffe400,#ffe600,#ffe700,#ffe800,#ffe300,#ffd800,#ffce00,#ffc400,#ffb900,#ffaf00,#ffa600,#ff9d00,#ff9400,#ff8c00,#ff8300,#ff7a00,#ff7400,#ff6d00,#ff6700,#ff6000,#ff5a00,#ff5300,#ff4d00,#ff4600,#ff3f00,#ff3800,#ff3100,#ff2b00,#ff2700,#ff2300,#ff2100)"></i>
<i style="top:14px;height:2px;background:linear-gradient(90deg,#ffbf00,#ffbf00,#ffbf00,#ffbf00,#ffbf00,#ffbf00,#ffbf00,#ffbf00,#ffbf00,#ffbf00,#ffbf00,#ffbf00,#ffbf00,#ffbf00,#ffbf00,#ffbf00,#ffbf00,#ffbf00,#ffc100,#ffc500,#ffc900,#ffcd00,#ffd100,#ffd500,#ffda00,#ffde00,#ffe200,#ffe500,#ffe800,#ffea00,#ffe500,#ffdb00,#ffd000,#ffc600,#ffbb00,#ffb100,#ffa800,#ff9f00,#ff9600,#ff8e00,#ff8500,#ff7d00,#ff7500,#ff6f00,#ff6800,#ff6200,#ff5b00,#ff5500,#ff4e00,#ff4700,#ff4000,#ff3900,#ff3200,#ff2c00,#ff2800,#ff2400,#ff2200)"></i>
<i style="top:16px;height:2px;background:linear-gradient(90deg,#ffb900,#ffb900,#ffb900,#ffb900,#ffb900,#ffb900,#ffb900,#ffb900,#ffb900,#ffb900,#ffb900,#ffb900,#ffb900,#ffb900,#ffb900,#ffb900,#ffb900,#ffb900,#ffbb00,#ffbf00,#ffc400,#ffc900,#ffcd00,#ffd200,#ffd700,#ffdb00,#ffe000,#ffe400,#ffe800,#ffeb00,#ffe700,#ffdd00,#ffd200,#ffc800,#ffbd00,#ffb300,#ffaa00,#ffa100,#ff9900,#ff9000,#ff8700,#ff7f00,#ff7700,#ff7100,#ff6a00,#ff6300,#ff5c00,#ff5600,#ff4f00,#ff4800,#ff4100,#ff3a00,#ff3300,#ff2d00,#ff2900,#ff2600,#ff2300)"></i>
<i style="top:18px;height:2px;background:linear-gradient(90deg,#ffb300,#ffb300,#ffb300,#ffb300,#ffb300,#ffb300,#ffb300,#ffb300,#ffb300,#ffb300,#ffb300,#ffb300,#ffb300,#ffb300,#ffb300,#ffb300,#ffb300,#ffb300,#ffb500,#ffba00,#ffbf00,#ffc400,#ffc900,#ffce00,#ffd400,#ffd900,#ffde00,#ffe300,#ffe800,#ffec00,#ffe800,#ffde00,#ffd400,#ffca00,#ffbf00,#ffb500,#ffac00,#ffa300,#ff9b00,#ff9200,#ff8900,#ff8100,#ff7a00,#ff7300,#ff6c00,#ff6500,#ff5e00,#ff5700,#ff5000,#ff4900,#ff4200,#ff3c00,#ff3500,#ff2f00,#ff2b00,#ff2800,#ff2500)"></i>
<i style="top:20px;height:2px;background:linear-gradient(90deg,#ffae00,#ffae00,#ffae00,#ffae00,#ffae00,#ffae00,#ffae00,#ffae00,#ffae00,#ffae00,#ffae00,#ffae00,#ffae00,#ffae00,#ffae00,#ffae00,#ffaf00,#ffaf00,#ffb100,#ffb600,#ffbb00,#ffc000,#ffc600,#ffcb00,#ffd000,#ffd600,#ffdb00,#ffe100,#ffe700,#ffec00,#ffe800,#ffdf00,#ffd500,#ffcb00,#ffc100,#ffb700,#ffae00,#ffa600,#ff9d00,#ff9400,#ff8c00,#ff8300,#ff7c00,#ff7500,#ff6e00,#ff6700,#ff6000,#ff5900,#ff5200,#ff4c00,#ff4500,#ff3e00,#ff3800,#ff3200,#ff2e00,#ff2b00,#ff2900)"></i>
<i style="top:22px;height:2px;background:linear-gradient(90deg,#ffa900,#ffa900,#ffa900,#ffa900,#ffa900,#ffa900,#ffa900,#ffa900,#ffa900,#ffa900,#ffa900,#ffa900,#ffa900,#ffa900,#ffaa00,#ffaa00,#ffab00,#ffab00,#ffad00,#ffb200,#ffb800,#ffbd00,#ffc200,#ffc700,#ffcd00,#ffd300,#ffd900,#ffdf00,#ffe500,#ffea00,#ffe700,#ffde00,#ffd500,#ffcc00,#ffc300,#ffba00,#ffb100,#ffa800,#ffa000,#ff9700,#ff8e00,#ff8600,#ff7e00,#ff7700,#ff7000,#ff6900,#ff6200,#ff5c00,#ff5500,#ff4e00,#ff4800,#ff4100,#ff3b00,#ff3500,#ff3200,#ff3000,#ff2e00)"></i>
<i style="top:24px;height:2px;background:linear-gradient(90deg,#ffa400,#ffa400,#ffa400,#ffa400,#ffa400,#ffa400,#ffa400,#ffa400,#ffa400,#ffa400,#ffa400,#ffa400,#ffa400,#ffa500,#ffa500,#ffa600,#ffa700,#ffa700,#ffaa00,#ffaf00,#ffb400,#ffb900,#ffbe00,#ffc400,#ffc900,#ffd000,#ffd600,#ffdd00,#ffe300,#ffe900,#ffe700,#ffde00,#ffd600,#ffcd00,#ffc500,#ffbc00,#ffb300,#ffab00,#ffa200,#ff9900,#ff9100,#ff8800,#ff8100,#ff7a00,#ff7300,#ff6c00,#ff6500,#ff5e00,#ff5800,#ff5100,#ff4b00,#ff4500,#ff3e00,#ff3900,#ff3600,#ff3400,#ff3200)"></i>
<i style="top:26px;height:2px;background:linear-gradient(90deg,#ff9f00,#ff9f00,#ff9f00,#ff9f00,#ff9f00,#ff9f00,#ff9f00,#ff9f00,#ff9f00,#ff9f00,#ff9f00,#ff9f00,#ff9f00,#ffa000,#ffa100,#ffa200,#ffa300,#ffa300,#ffa600,#ffab00,#ffb000,#ffb500,#ffbb00,#ffc000,#ffc600,#ffcd00,#ffd400,#ffda00,#ffe100,#ffe800,#ffe600,#ffde00,#ffd600,#ffce00,#ffc600,#ffbe00,#ffb600,#ffad00,#ffa400,#ff9c00,#ff9300,#ff8b00,#ff8300,#ff7c00,#ff7500,#ff6e00,#ff6700,#ff6100,#ff5a00,#ff5400,#ff4e00,#ff4800,#ff4200,#ff3d00,#ff3a00,#ff3900,#ff3700)"></i>
<i style="top:28px;height:2px;background:linear-gradient(90deg,#ff9a00,#ff9a00,#ff9a00,#ff9a00,#ff9a00,#ff9a00,#ff9a00,#ff9a00,#ff9a00,#ff9a00,#ff9a00,#ff9a00,#ff9a00,#ff9b00,#ff9c00,#ff9d00,#ff9f00,#ffa000,#ffa200,#ffa700,#ffad00,#ffb200,#ffb700,#ffbc00,#ffc200,#ffca00,#ffd100,#ffd800,#ffe000,#ffe600,#ffe500,#ffde00,#ffd600,#ffcf00,#ffc800,#ffc000,#ffb800,#ffb000,#ffa700,#ff9e00,#ff9500,#ff8d00,#ff8600,#ff7f00,#ff7800,#ff7100,#ff6a00,#ff6300,#ff5d00,#ff5700,#ff5100,#ff4b00,#ff4500,#ff4000,#ff3f00,#ff3d00,#ff3c00)"></i>
<i style="top:30px;height:2px;background:linear-gradient(90deg,#ff9500,#ff9500,#ff9500,#ff9500,#ff9500,#ff9500,#ff9500,#ff9500,#ff9500,#ff9500,#ff9500,#ff9500,#ff9600,#ff9700,#ff9800,#ff9900,#ff9b00,#ff9c00,#ff9f00,#ffa400,#ffa900,#ffae00,#ffb300,#ffb900,#ffbf00,#ffc700,#ffce00,#ffd600,#ffde00,#ffe500,#ffe400,#ffde00,#ffd700,#ffd000,#ffca00,#ffc300,#ffbb00,#ffb200,#ffa900,#ffa100,#ff9800,#ff8f00,#ff8800,#ff8100,#ff7a00,#ff7300,#ff6c00,#ff6500,#ff6000,#ff5a00,#ff5400,#ff4f00,#ff4900,#ff4400,#ff4300,#ff4200,#ff4100)"></i>
<i style="top:32px;height:2px;background:linear-gradient(90deg,#ff9000,#ff9000,#ff9000,#ff9000,#ff9000,#ff9000,#ff9000,#ff9000,#ff9000,#ff9000,#ff9000,#ff9000,#ff9100,#ff9200,#ff9400,#ff9500,#ff9700,#ff9800,#ff9b00,#ffa000,#ffa500,#ffaa00,#ffb000,#ffb500,#ffbc00,#ffc400,#ffcc00,#ffd400,#ffdc00,#ffe400,#ffe300,#ffdd00,#ffd700,#ffd100,#ffcb00,#ffc500,#ffbd00,#ffb400,#ffac00,#ffa300,#ff9a00,#ff9200,#ff8b00,#ff8400,#ff7d00,#ff7600,#ff6f00,#ff6800,#ff6200,#ff5d00,#ff5700,#ff5200,#ff4c00,#ff4800,#ff4700,#ff4600,#ff4600)"></i>
<i style="top:34px;height:2px;background:linear-gradient(90deg,#ff8d00,#ff8d00,#ff8d00,#ff8d00,#ff8d00,#ff8c00,#ff8c00,#ff8c00,#ff8c00,#ff8c00,#ff8c00,#ff8c00,#ff8c00,#ff8e00,#ff8f00,#ff9100,#ff9300,#ff9400,#ff9700,#ff9c00,#ffa100,#ffa700,#ffac00,#ffb100,#ffb800,#ffc000,#ffc900,#ffd100,#ffda00,#ffe200,#ffe200,#ffdd00,#ffd800,#ffd200,#ffcd00,#ffc700,#ffc000,#ffb700,#ffaf00,#ffa600,#ff9d00,#ff9500,#ff8e00,#ff8700,#ff8000,#ff7900,#ff7200,#ff6b00,#ff6600,#ff6100,#ff5b00,#ff5600,#ff5100,#ff4d00,#ff4c00,#ff4c00,#ff4b00)"></i>
<i style="top:36px;height:2px;background:linear-gradient(90deg,#ff8e00,#ff8d00,#ff8d00,#ff8c00,#ff8b00,#ff8b00,#ff8a00,#ff8a00,#ff8a00,#ff8900,#ff8900,#ff8900,#ff8900,#ff8a00,#ff8c00,#ff8d00,#ff8f00,#ff9100,#ff9400,#ff9800,#ff9e00,#ffa300,#ffa800,#ffad00,#ffb400,#ffbd00,#ffc600,#ffcf00,#ffd700,#ffe000,#ffe100,#ffdd00,#ffd800,#ffd400,#ffcf00,#ffca00,#ffc300,#ffbb00,#ffb200,#ffaa00,#ffa200,#ff9900,#ff9200,#ff8c00,#ff8500,#ff7e00,#ff7800,#ff7100,#ff6c00,#ff6700,#ff6200,#ff5d00,#ff5800,#ff5400,#ff5300,#ff5300,#ff5200)"></i>
<i style="top:38px;height:2px;background:linear-gradient(90deg,#ff9200,#ff9000,#ff8f00,#ff8e00,#ff8c00,#ff8b00,#ff8a00,#ff8900,#ff8800,#ff8800,#ff8700,#ff8600,#ff8600,#ff8700,#ff8900,#ff8a00,#ff8c00,#ff8d00,#ff9000,#ff9500,#ff9900,#ff9e00,#ffa300,#ffa800,#ffaf00,#ffb800,#ffc200,#ffcb00,#ffd500,#ffde00,#ffdf00,#ffdc00,#ffd800,#ffd500,#ffd100,#ffce00,#ffc700,#ffbf00,#ffb700,#ffaf00,#ffa700,#ff9f00,#ff9800,#ff9200,#ff8c00,#ff8600,#ff7f00,#ff7900,#ff7400,#ff6f00,#ff6a00,#ff6600,#ff6100,#ff5d00,#ff5c00,#ff5b00,#ff5b00)"></i>
<i style="top:40px;height:2px;background:linear-gradient(90deg,#ff9600,#ff9400,#ff9200,#ff9000,#ff8e00,#ff8c00,#ff8a00,#ff8800,#ff8700,#ff8600,#ff8500,#ff8400,#ff8400,#ff8500,#ff8600,#ff8700,#ff8800,#ff8a00,#ff8c00,#ff9100,#ff9500,#ff9a00,#ff9f00,#ffa300,#ffab00,#ffb400,#ffbe00,#ffc800,#ffd200,#ffdb00,#ffdd00,#ffdb00,#ffd900,#ffd600,#ffd400,#ffd100,#ffcb00,#ffc300,#ffbc00,#ffb400,#ffad00,#ffa500,#ff9f00,#ff9900,#ff9300,#ff8d00,#ff8700,#ff8200,#ff7d00,#ff7800,#ff7400,#ff6f00,#ff6a00,#ff6600,#ff6500,#ff6400,#ff6300)"></i>
<i style="top:42px;height:2px;background:linear-gradient(90deg,#ff9b00,#ff9800,#ff9500,#ff9200,#ff8f00,#ff8c00,#ff8a00,#ff8800,#ff8700,#ff8500,#ff8300,#ff8200,#ff8100,#ff8200,#ff8300,#ff8400,#ff8500,#ff8600,#ff8800,#ff8d00,#ff9100,#ff9600,#ff9a00,#ff9f00,#ffa600,#ffb000,#ffba00,#ffc400,#ffcf00,#ffd800,#ffdc00,#ffda00,#ffd900,#ffd700,#ffd600,#ffd400,#ffcf00,#ffc800,#ffc100,#ffb900,#ffb200,#ffab00,#ffa500,#ffa000,#ff9a00,#ff9500,#ff9000,#ff8a00,#ff8600,#ff8100,#ff7d00,#ff7800,#ff7400,#ff7000,#ff6e00,#ff6d00,#ff6c00)"></i>
<i style="top:44px;height:2px;background:linear-gradient(90deg,#ffa000,#ff9d00,#ff9900,#ff9500,#ff9100,#ff8d00,#ff8a00,#ff8800,#ff8600,#ff8400,#ff8200,#ff8000,#ff7f00,#ff7f00,#ff8000,#ff8100,#ff8200,#ff8200,#ff8500,#ff8900,#ff8d00,#ff9100,#ff9500,#ff9a00,#ffa100,#ffac00,#ffb600,#ffc100,#ffcc00,#ffd600,#ffda00,#ffda00,#ffd900,#ffd900,#ffd800,#ffd800,#ffd300,#ffcc00,#ffc500,#ffbf00,#ffb800,#ffb100,#ffac00,#ffa700,#ffa200,#ff9d00,#ff9800,#ff9300,#ff8e00,#ff8a00,#ff8600,#ff8200,#ff7d00,#ff7a00,#ff7800,#ff7600,#ff7400)"></i>
<i style="top:46px;height:2px;background:linear-gradient(90deg,#ffa500,#ffa100,#ff9c00,#ff9700,#ff9300,#ff8e00,#ff8a00,#ff8700,#ff8500,#ff8200,#ff8000,#ff7e00,#ff7c00,#ff7d00,#ff7d00,#ff7e00,#ff7e00,#ff7f00,#ff8100,#ff8500,#ff8900,#ff8d00,#ff9100,#ff9500,#ff9d00,#ffa700,#ffb200,#ffbd00,#ffc900,#ffd300,#ffd800,#ffd900,#ffd900,#ffda00,#ffdb00,#ffdb00,#ffd700,#ffd000,#ffca00,#ffc400,#ffbd00,#ffb700,#ffb200,#ffae00,#ffa900,#ffa400,#ffa000,#ff9b00,#ff9700,#ff9300,#ff8f00,#ff8b00,#ff8700,#ff8300,#ff8100,#ff7f00,#ff7d00)"></i>
<i style="top:48px;height:2px;background:linear-gradient(90deg,#ffa900,#ffa500,#ff9f00,#ff9a00,#ff9400,#ff8f00,#ff8a00,#ff8700,#ff8400,#ff8100,#ff7e00,#ff7c00,#ff7a00,#ff7a00,#ff7a00,#ff7b00,#ff7b00,#ff7b00,#ff7d00,#ff8100,#ff8500,#ff8800,#ff8c00,#ff9000,#ff9800,#ffa300,#ffaf00,#ffba00,#ffc500,#ffd100,#ffd600,#ffd800,#ffda00,#ffdb00,#ffdd00,#ffde00,#ffdb00,#ffd500,#ffcf00,#ffc900,#ffc300,#ffbd00,#ffb900,#ffb500,#ffb000,#ffac00,#ffa800,#ffa400,#ffa000,#ff9c00,#ff9800,#ff9400,#ff9100,#ff8d00,#ff8a00,#ff8700,#ff8500)"></i>
<i style="top:50px;height:2px;background:linear-gradient(90deg,#ffae00,#ffa900,#ffa300,#ff9c00,#ff9600,#ff9000,#ff8a00,#ff8700,#ff8400,#ff8000,#ff7d00,#ff7a00,#ff7800,#ff7800,#ff7800,#ff7800,#ff7800,#ff7800,#ff7900,#ff7d00,#ff8000,#ff8400,#ff8800,#ff8b00,#ff9300,#ff9f00,#ffab00,#ffb600,#ffc200,#ffce00,#ffd400,#ffd700,#ffda00,#ffdd00,#ffdf00,#ffe200,#ffdf00,#ffd900,#ffd400,#ffce00,#ffc900,#ffc300,#ffbf00,#ffbb00,#ffb800,#ffb400,#ffb000,#ffac00,#ffa900,#ffa500,#ffa100,#ff9e00,#ff9a00,#ff9700,#ff9300,#ff9000,#ff8e00)"></i>
<i style="top:52px;height:2px;background:linear-gradient(90deg,#ffb400,#ffae00,#ffa800,#ffa100,#ff9a00,#ff9300,#ff8d00,#ff8900,#ff8600,#ff8200,#ff7e00,#ff7b00,#ff7800,#ff7700,#ff7700,#ff7600,#ff7600,#ff7500,#ff7600,#ff7900,#ff7c00,#ff7f00,#ff8200,#ff8600,#ff8d00,#ff9900,#ffa600,#ffb200,#ffbe00,#ffca00,#ffd100,#ffd500,#ffd900,#ffdd00,#ffe100,#ffe500,#ffe300,#ffde00,#ffd900,#ffd300,#ffce00,#ffc900,#ffc600,#ffc200,#ffbf00,#ffbb00,#ffb800,#ffb400,#ffb100,#ffad00,#ffaa00,#ffa600,#ffa300,#ff9f00,#ff9c00,#ff9800,#ff9600)"></i>
<i style="top:54px;height:2px;background:linear-gradient(90deg,#ffbb00,#ffb500,#ffae00,#ffa700,#ffa000,#ff9900,#ff9300,#ff8f00,#ff8b00,#ff8700,#ff8300,#ff7f00,#ff7b00,#ff7a00,#ff7800,#ff7600,#ff7500,#ff7300,#ff7300,#ff7500,#ff7800,#ff7a00,#ff7d00,#ff7f00,#ff8700,#ff9300,#ff9f00,#ffac00,#ffb800,#ffc400,#ffcd00,#ffd200,#ffd800,#ffde00,#ffe300,#ffe800,#ffe700,#ffe200,#ffdd00,#ffd900,#ffd400,#ffcf00,#ffcc00,#ffc900,#ffc500,#ffc200,#ffbf00,#ffbc00,#ffb800,#ffb500,#ffb100,#ffae00,#ffaa00,#ffa700,#ffa400,#ffa000,#ff9e00)"></i>
<i style="top:56px;height:2px;background:linear-gradient(90deg,#ffc200,#ffbc00,#ffb500,#ffae00,#ffa800,#ffa100,#ff9a00,#ff9500,#ff9100,#ff8d00,#ff8800,#ff8400,#ff8000,#ff7d00,#ff7a00,#ff7700,#ff7400,#ff7200,#ff7000,#ff7200,#ff7300,#ff7500,#ff7700,#ff7800,#ff7f00,#ff8c00,#ff9800,#ffa500,#ffb200,#ffbe00,#ffc800,#ffcf00,#ffd600,#ffdd00,#ffe500,#ffeb00,#ffeb00,#ffe600,#ffe200,#ffde00,#ffda00,#ffd500,#ffd200,#ffcf00,#ffcc00,#ffc900,#ffc600,#ffc300,#ffc000,#ffbc00,#ffb900,#ffb500,#ffb200,#ffae00,#ffab00,#ffa700,#ffa500)"></i>
<i style="top:58px;height:2px;background:linear-gradient(90deg,#ffca00,#ffc400,#ffbd00,#ffb600,#ffaf00,#ffa800,#ffa100,#ff9c00,#ff9800,#ff9300,#ff8e00,#ff8900,#ff8400,#ff8000,#ff7c00,#ff7800,#ff7400,#ff7000,#ff6e00,#ff6e00,#ff6f00,#ff7000,#ff7100,#ff7100,#ff7800,#ff8500,#ff9200,#ff9f00,#ffab00,#ffb800,#ffc300,#ffcc00,#ffd400,#ffdd00,#ffe600,#ffef00,#ffef00,#ffeb00,#ffe700,#ffe300,#ffdf00,#ffdc00,#ffd800,#ffd600,#ffd300,#ffd000,#ffcd00,#ffca00,#ffc700,#ffc400,#ffc000,#ffbd00,#ffb900,#ffb600,#ffb200,#ffaf00,#ffac00)"></i>
<i style="top:60px;height:2px;background:linear-gradient(90deg,#ffd100,#ffcb00,#ffc400,#ffbd00,#ffb600,#ffaf00,#ffa900,#ffa300,#ff9e00,#ff9900,#ff9300,#ff8e00,#ff8900,#ff8400,#ff7e00,#ff7900,#ff7400,#ff6e00,#ff6b00,#ff6b00,#ff6b00,#ff6b00,#ff6a00,#ff6b00,#ff7100,#ff7e00,#ff8b00,#ff9800,#ffa500,#ffb200,#ffbe00,#ffc800,#ffd300,#ffdd00,#ffe800,#fff200,#fff300,#ffef00,#ffec00,#ffe800,#ffe500,#ffe200,#ffdf00,#ffdc00,#ffda00,#ffd700,#ffd400,#ffd200,#ffce00,#ffcb00,#ffc700,#ffc400,#ffc000,#ffbd00,#ffba00,#ffb600,#ffb400)"></i>
<i style="top:62px;height:2px;background:linear-gradient(90deg,#ffd800,#ffd200,#ffcb00,#ffc400,#ffbe00,#ffb700,#ffb000,#ffaa00,#ffa400,#ff9f00,#ff9900,#ff9300,#ff8d00,#ff8700,#ff8000,#ff7a00,#ff7300,#ff6d00,#ff6800,#ff6700,#ff6600,#ff6500,#ff6400,#ff6400,#ff6a00,#ff7700,#ff8400,#ff9100,#ff9f00,#ffac00,#ffb800,#ffc500,#ffd100,#ffdd00,#ffe900,#fff500,#fff700,#fff400,#fff100,#ffee00,#ffeb00,#ffe800,#ffe500,#ffe300,#ffe000,#ffde00,#ffdc00,#ffd900,#ffd600,#ffd200,#ffcf00,#ffcb00,#ffc800,#ffc400,#ffc100,#ffbd00,#ffbb00)"></i>
<i style="top:64px;height:2px;background:linear-gradient(90deg,#ffe000,#ffda00,#ffd300,#ffcc00,#ffc500,#ffbe00,#ffb700,#ffb100,#ffab00,#ffa500,#ff9f00,#ff9900,#ff9200,#ff8a00,#ff8200,#ff7b00,#ff7300,#ff6b00,#ff6600,#ff6400,#ff6200,#ff6000,#ff5e00,#ff5d00,#ff6300,#ff7000,#ff7d00,#ff8b00,#ff9800,#ffa600,#ffb300,#ffc100,#ffcf00,#ffdd00,#ffeb00,#fff800,#fffb00,#fff800,#fff500,#fff300,#fff000,#ffee00,#ffeb00,#ffe900,#ffe700,#ffe500,#ffe300,#ffe000,#ffdd00,#ffda00,#ffd600,#ffd300,#ffcf00,#ffcc00,#ffc800,#ffc500,#ffc200)"></i>
<i style="top:66px;height:2px;background:linear-gradient(90deg,#ffe700,#ffe100,#ffda00,#ffd300,#ffcc00,#ffc500,#ffbe00,#ffb800,#ffb100,#ffab00,#ffa400,#ff9e00,#ff9700,#ff8e00,#ff8500,#ff7c00,#ff7200,#ff6900,#ff6300,#ff6000,#ff5e00,#ff5b00,#ff5800,#ff5600,#ff5c00,#ff6900,#ff7700,#ff8400,#ff9200,#ffa000,#ffaf00,#ffbe00,#ffce00,#ffdd00,#ffed00,#fffb00,#fffe00,#fffc00,#fffa00,#fff800,#fff600,#fff400,#fff200,#fff000,#ffee00,#ffec00,#ffea00,#ffe800,#ffe400,#ffe100,#ffdd00,#ffda00,#ffd600,#ffd300,#ffcf00,#ffcc00,#ffc900)"></i>
<i style="top:68px;height:2px;background:linear-gradient(90deg,#ffef00,#ffe900,#ffe200,#ffdb00,#ffd400,#ffcd00,#ffc600,#ffbf00,#ffb800,#ffb100,#ffaa00,#ffa300,#ff9b00,#ff9100,#ff8700,#ff7d00,#ff7300,#ff6800,#ff6100,#ff5d00,#ff5a00,#ff5700,#ff5300,#ff5000,#ff5600,#ff6300,#ff7100,#ff7f00,#ff8d00,#ff9b00,#ffab00,#ffbc00,#ffcd00,#ffde00,#fff000,#feff01,#faff05,#fcff03,#feff01,#fffe00,#fffc00,#fffa00,#fff800,#fff600,#fff400,#fff200,#fff000,#ffee00,#ffeb00,#ffe800,#ffe400,#ffe100,#ffdd00,#ffda00,#ffd600,#ffd300,#ffd000)"></i>
<i style="top:70px;height:2px;background:linear-gradient(90deg,#fff800,#fff200,#ffeb00,#ffe400,#ffdd00,#ffd600,#ffcf00,#ffc800,#ffc000,#ffb900,#ffb100,#ffaa00,#ffa100,#ff9600,#ff8a00,#ff7f00,#ff7400,#ff6800,#ff6000,#ff5c00,#ff5800,#ff5400,#ff5000,#ff4d00,#ff5200,#ff6000,#ff6e00,#ff7c00,#ff8b00,#ff9900,#ffaa00,#ffbd00,#ffcf00,#ffe200,#fff500,#f8ff07,#f3ff0c,#f5ff0a,#f7ff08,#f8ff07,#faff05,#fcff03,#fefe01,#fffd00,#fffb00,#fff900,#fff600,#fff400,#fff100,#ffed00,#ffea00,#ffe600,#ffe300,#ffdf00,#ffdc00,#ffd800,#ffd600)"></i>
<i style="top:72px;height:2px;background:linear-gradient(90deg,#fcff03,#fffc00,#fff500,#ffee00,#ffe700,#ffe000,#ffd900,#ffd100,#ffc900,#ffc000,#ffb800,#ffb000,#ffa700,#ff9a00,#ff8e00,#ff8200,#ff7500,#ff6900,#ff6000,#ff5b00,#ff5700,#ff5300,#ff4e00,#ff4a00,#ff4f00,#ff5e00,#ff6c00,#ff7b00,#ff8a00,#ff9900,#ffab00,#ffbf00,#ffd300,#ffe700,#fffb00,#f0ff0f,#ebff14,#ecff13,#eeff11,#f0ff0f,#f2ff0d,#f4ff0b,#f6ff09,#f9ff06,#fcff03,#fefe01,#fffc00,#fff900,#fff600,#fff200,#ffef00,#ffeb00,#ffe800,#ffe400,#ffe100,#ffdd00,#ffdb00)"></i>
<i style="top:74px;height:2px;background:linear-gradient(90deg,#f3ff0c,#f9ff06,#fefe01,#fff800,#fff100,#ffea00,#ffe200,#ffda00,#ffd100,#ffc800,#ffbf00,#ffb700,#ffac00,#ff9f00,#ff9200,#ff8400,#ff7700,#ff6a00,#ff5f00,#ff5b00,#ff5600,#ff5100,#ff4c00,#ff4800,#ff4d00,#ff5c00,#ff6b00,#ff7a00,#ff8900,#ff9900,#ffac00,#ffc100,#ffd700,#ffec00,#fcff03,#e8ff17,#e2ff1d,#e4ff1b,#e6ff19,#e7ff18,#e9ff16,#ebff14,#eeff11,#f2ff0d,#f5ff0a,#f9ff06,#fcff03,#fffe00,#fffb00,#fff700,#fff400,#fff000,#ffed00,#ffe900,#ffe600,#ffe200,#ffe000)"></i>
<i style="top:76px;height:2px;background:linear-gradient(90deg,#e9ff16,#efff10,#f6ff09,#fdff02,#fffa00,#fff300,#ffec00,#ffe300,#ffd900,#ffd000,#ffc700,#ffbd00,#ffb200,#ffa400,#ff9600,#ff8700,#ff7900,#ff6a00,#ff5f00,#ff5a00,#ff5500,#ff5000,#ff4b00,#ff4600,#ff4b00,#ff5a00,#ff6a00,#ff7900,#ff8900,#ff9800,#ffac00,#ffc300,#ffdb00,#fff200,#f5ff0a,#dfff20,#daff25,#dbff24,#ddff22,#dfff20,#e1ff1e,#e3ff1c,#e6ff19,#eaff15,#efff10,#f3ff0c,#f7ff08,#fbff04,#feff01,#fffc00,#fff800,#fff500,#fff100,#ffee00,#ffeb00,#ffe700,#ffe500)"></i>
<i style="top:78px;height:2px;background:linear-gradient(90deg,#dfff20,#e5ff1a,#ecff13,#f3ff0c,#faff05,#fffd00,#fff600,#ffec00,#ffe200,#ffd800,#ffce00,#ffc400,#ffb800,#ffa900,#ff9900,#ff8a00,#ff7a00,#ff6b00,#ff5f00,#ff5900,#ff5400,#ff4e00,#ff4900,#ff4400,#ff4900,#ff5800,#ff6800,#ff7800,#ff8800,#ff9800,#ffad00,#ffc600,#ffde00,#fff700,#efff10,#d7ff28,#d1ff2e,#d3ff2c,#d5ff2a,#d6ff29,#d8ff27,#daff25,#deff21,#e3ff1c,#e8ff17,#edff12,#f1ff0e,#f6ff09,#faff05,#fdff02,#fffd00,#fffa00,#fff600,#fff300,#ffef00,#ffec00,#ffe900)"></i>
<i style="top:80px;height:2px;background:linear-gradient(90deg,#d5ff2a,#dbff24,#e2ff1d,#e9ff16,#f0ff0f,#f7ff08,#fefe01,#fff500,#ffea00,#ffe000,#ffd500,#ffca00,#ffbe00,#ffae00,#ff9d00,#ff8d00,#ff7c00,#ff6c00,#ff5f00,#ff5900,#ff5300,#ff4d00,#ff4700,#ff4100,#ff4600,#ff5600,#ff6700,#ff7700,#ff8800,#ff9800,#ffae00,#ffc800,#ffe200,#fffc00,#e8ff17,#cfff30,#c9ff36,#caff35,#ccff33,#ceff31,#d0ff2f,#d2ff2d,#d6ff29,#dcff23,#e1ff1e,#e7ff18,#ecff13,#f1ff0e,#f5ff0a,#f8ff07,#fcff03,#fffe00,#fffb00,#fff800,#fff400,#fff100,#ffee00)"></i>
<i style="top:82px;height:2px;background:linear-gradient(90deg,#ccff33,#d1ff2e,#d8ff27,#dfff20,#e6ff19,#edff12,#f5ff0a,#fefd01,#fff300,#ffe800,#ffdc00,#ffd100,#ffc400,#ffb300,#ffa100,#ff8f00,#ff7e00,#ff6c00,#ff5f00,#ff5800,#ff5200,#ff4c00,#ff4500,#ff3f00,#ff4400,#ff5500,#ff6500,#ff7600,#ff8700,#ff9800,#ffaf00,#ffcb00,#ffe600,#fdff02,#e1ff1e,#c7ff38,#c0ff3f,#c2ff3d,#c3ff3c,#c5ff3a,#c7ff38,#c9ff36,#ceff31,#d4ff2b,#daff25,#e0ff1f,#e6ff19,#ecff13,#f0ff0f,#f3ff0c,#f7ff08,#faff05,#feff01,#fffd00,#fff900,#fff600,#fff300)"></i>
<i style="top:84px;height:2px;background:linear-gradient(90deg,#c1ff3e,#c7ff38,#ceff31,#d5ff2a,#dcff23,#e3ff1c,#ebff14,#f7ff08,#fffc00,#fff000,#ffe400,#ffd800,#ffca00,#ffb800,#ffa500,#ff9300,#ff8000,#ff6e00,#ff6000,#ff5900,#ff5200,#ff4b00,#ff4500,#ff3e00,#ff4400,#ff5400,#ff6500,#ff7600,#ff8700,#ff9900,#ffb100,#ffce00,#ffea00,#f7ff08,#daff25,#bfff40,#b7ff48,#b9ff46,#bbff44,#bcff43,#beff41,#c0ff3f,#c5ff3a,#ccff33,#d2ff2d,#d9ff26,#dfff20,#e6ff19,#eaff15,#edff12,#f1ff0e,#f4ff0b,#f8ff07,#fbff04,#fefe01,#fffc00,#fff900)"></i>
<i style="top:86px;height:2px;background:linear-gradient(90deg,#b5ff4a,#bbff44,#c2ff3d,#c9ff36,#d1ff2e,#d8ff27,#e0ff1f,#ecff13,#f9ff06,#fff900,#ffec00,#ffe000,#ffd100,#ffbe00,#ffab00,#ff9700,#ff8400,#ff7100,#ff6200,#ff5b00,#ff5500,#ff4e00,#ff4800,#ff4200,#ff4700,#ff5800,#ff6900,#ff7a00,#ff8b00,#ff9c00,#ffb500,#ffd200,#fff000,#f0ff0f,#d3ff2c,#b7ff48,#aeff51,#afff50,#b0ff4f,#b1ff4e,#b3ff4c,#b4ff4b,#baff45,#c0ff3f,#c7ff38,#ceff31,#d4ff2b,#dbff24,#dfff20,#e3ff1c,#e7ff18,#ebff14,#efff10,#f3ff0c,#f6ff09,#faff05,#fcff03)"></i>
<i style="top:88px;height:2px;background:linear-gradient(90deg,#a7ff58,#adff52,#b5ff4a,#bcff43,#c4ff3b,#ccff33,#d4ff2b,#e1ff1e,#eeff11,#fbff04,#fff600,#ffe900,#ffd900,#ffc600,#ffb200,#ff9e00,#ff8900,#ff7500,#ff6700,#ff6000,#ff5b00,#ff5500,#ff4f00,#ff4900,#ff4e00,#ff5f00,#ff6f00,#ff8000,#ff9100,#ffa200,#ffbb00,#ffd900,#fff700,#e9ff16,#cbff34,#aeff51,#a5ff5a,#a5ff5a,#a5ff5a,#a5ff5a,#a6ff59,#a6ff59,#abff54,#b2ff4d,#b9ff46,#bfff40,#c6ff39,#ccff33,#d1ff2e,#d5ff2a,#daff25,#deff21,#e3ff1c,#e7ff18,#ebff14,#eeff11,#f1ff0e)"></i>
<i style="top:90px;height:2px;background:linear-gradient(90deg,#98ff67,#9fff60,#a7ff58,#afff50,#b7ff48,#bfff40,#c8ff37,#d5ff2a,#e3ff1c,#f1ff0e,#fefe01,#fff200,#ffe200,#ffcd00,#ffb900,#ffa400,#ff8f00,#ff7b00,#ff6c00,#ff6600,#ff6100,#ff5b00,#ff5600,#ff5100,#ff5600,#ff6600,#ff7700,#ff8700,#ff9700,#ffa800,#ffc100,#ffdf00,#fffe00,#e1ff1e,#c3ff3c,#a6ff59,#9cff63,#9bff64,#9aff65,#99ff66,#98ff67,#98ff67,#9dff62,#a3ff5c,#a9ff56,#b0ff4f,#b6ff49,#bdff42,#c2ff3d,#c7ff38,#ccff33,#d1ff2e,#d6ff29,#dbff24,#deff21,#e2ff1d,#e4ff1b)"></i>
<i style="top:92px;height:2px;background:linear-gradient(90deg,#8aff75,#91ff6e,#99ff66,#a2ff5d,#aaff55,#b2ff4d,#bcff43,#caff35,#d8ff27,#e7ff18,#f5ff0a,#fffb00,#ffea00,#ffd500,#ffc000,#ffab00,#ff9500,#ff8000,#ff7100,#ff6c00,#ff6700,#ff6200,#ff5e00,#ff5900,#ff5f00,#ff6e00,#ff7e00,#ff8e00,#ff9e00,#ffae00,#ffc700,#ffe600,#f9ff06,#daff25,#bbff44,#9dff62,#93ff6c,#91ff6e,#8fff70,#8dff72,#8bff74,#89ff76,#8eff71,#94ff6b,#9aff65,#a0ff5f,#a7ff58,#adff52,#b3ff4c,#b8ff47,#beff41,#c4ff3b,#c9ff36,#cfff30,#d2ff2d,#d6ff29,#d8ff27)"></i>
<i style="top:94px;height:2px;background:linear-gradient(90deg,#7bff84,#82ff7d,#8bff74,#94ff6b,#9dff62,#a6ff59,#b0ff4f,#beff41,#cdff32,#dcff23,#ebff14,#faff05,#fff300,#ffdd00,#ffc700,#ffb100,#ff9b00,#ff8500,#ff7600,#ff7200,#ff6e00,#ff6900,#ff6500,#ff6100,#ff6700,#ff7600,#ff8600,#ff9500,#ffa500,#ffb500,#ffce00,#ffed00,#f2ff0d,#d2ff2d,#b3ff4c,#95ff6a,#89ff76,#86ff79,#83ff7c,#80ff7f,#7dff82,#7bff84,#7fff80,#85ff7a,#8bff74,#91ff6e,#97ff68,#9dff62,#a3ff5c,#aaff55,#b0ff4f,#b6ff49,#bdff42,#c2ff3d,#c6ff39,#c9ff36,#ccff33)"></i>
<i style="top:96px;height:2px;background:linear-gradient(90deg,#6cff93,#74ff8b,#7dff82,#87ff78,#90ff6f,#99ff66,#a4ff5b,#b3ff4c,#c2ff3d,#d2ff2d,#e2ff1d,#f1ff0e,#fffb00,#ffe500,#ffce00,#ffb800,#ffa100,#ff8b00,#ff7b00,#ff7700,#ff7400,#ff7000,#ff6d00,#ff6a00,#ff6f00,#ff7e00,#ff8d00,#ff9c00,#ffab00,#ffbb00,#ffd400,#fff400,#eaff15,#cbff34,#abff54,#8cff73,#80ff7f,#7cff83,#78ff87,#74ff8b,#70ff8f,#6dff92,#70ff8f,#76ff89,#7cff83,#82ff7d,#87ff78,#8dff72,#94ff6b,#9bff64,#a2ff5d,#a9ff56,#b0ff4f,#b6ff49,#baff45,#bdff42,#c0ff3f)"></i>
<i style="top:98px;height:2px;background:linear-gradient(90deg,#5effa1,#66ff99,#70ff8f,#79ff86,#83ff7c,#8dff72,#98ff67,#a7ff58,#b8ff47,#c8ff37,#d8ff27,#e8ff17,#fbff04,#ffed00,#ffd500,#ffbe00,#ffa700,#ff9000,#ff8100,#ff7d00,#ff7a00,#ff7700,#ff7500,#ff7200,#ff7800,#ff8600,#ff9500,#ffa300,#ffb200,#ffc100,#ffda00,#fffa00,#e3ff1c,#c3ff3c,#a3ff5c,#84ff7b,#77ff88,#71ff8e,#6cff93,#67ff98,#62ff9d,#5effa1,#61ff9e,#67ff98,#6dff92,#72ff8d,#78ff87,#7eff81,#85ff7a,#8cff73,#94ff6b,#9cff63,#a3ff5c,#aaff55,#aeff51,#b1ff4e,#b4ff4b)"></i>
<i style="top:100px;height:2px;background:linear-gradient(90deg,#50ffaf,#58ffa7,#62ff9d,#6cff93,#76ff89,#80ff7f,#8cff73,#9cff63,#adff52,#beff41,#cfff30,#e0ff1f,#f3ff0c,#fff400,#ffdc00,#ffc400,#ffad00,#ff9500,#ff8600,#ff8300,#ff8000,#ff7e00,#ff7c00,#ff7a00,#ff8000,#ff8e00,#ff9c00,#ffaa00,#ffb900,#ffc700,#ffe100,#fdff02,#dcff23,#bcff43,#9bff64,#7cff83,#6dff92,#67ff98,#61ff9e,#5bffa4,#55ffaa,#50ffaf,#53ffac,#58ffa7,#5effa1,#63ff9c,#68ff97,#6eff91,#76ff89,#7eff81,#86ff79,#8eff71,#96ff69,#9eff61,#a2ff5d,#a5ff5a,#a8ff57)"></i>
<i style="top:102px;height:2px;background:linear-gradient(90deg,#44ffbb,#4cffb3,#57ffa8,#61ff9e,#6bff94,#76ff89,#82ff7d,#92ff6d,#a4ff5b,#b6ff49,#c7ff38,#d9ff26,#ecff13,#fffa00,#ffe200,#ffca00,#ffb200,#ff9a00,#ff8a00,#ff8800,#ff8600,#ff8500,#ff8300,#ff8100,#ff8700,#ff9500,#ffa300,#ffb100,#ffbf00,#ffce00,#ffe700,#f6ff09,#d5ff2a,#b4ff4b,#94ff6b,#74ff8b,#65ff9a,#5effa1,#58ffa7,#51ffae,#4affb5,#44ffbb,#47ffb8,#4cffb3,#51ffae,#56ffa9,#5bffa4,#61ff9e,#69ff96,#71ff8e,#7aff85,#82ff7d,#8bff74,#92ff6d,#96ff69,#9aff65,#9cff63)"></i>
<i style="top:104px;height:2px;background:linear-gradient(90deg,#3bffc4,#44ffbb,#4effb1,#59ffa6,#63ff9c,#6dff92,#7aff85,#8bff74,#9dff62,#b0ff4f,#c2ff3d,#d5ff2a,#e9ff16,#fffe00,#ffe600,#ffce00,#ffb500,#ff9e00,#ff8e00,#ff8c00,#ff8b00,#ff8a00,#ff8900,#ff8800,#ff8e00,#ff9c00,#ffaa00,#ffb700,#ffc500,#ffd400,#ffed00,#f0ff0f,#cfff30,#aeff51,#8dff72,#6dff92,#5effa1,#57ffa8,#50ffaf,#49ffb6,#42ffbd,#3cffc3,#3effc1,#43ffbc,#48ffb7,#4dffb2,#52ffad,#57ffa8,#5fffa0,#67ff98,#6fff90,#77ff88,#7fff80,#87ff78,#8bff74,#8fff70,#92ff6d)"></i>
<i style="top:106px;height:2px;background:linear-gradient(90deg,#34ffcb,#3cffc3,#47ffb8,#51ffae,#5cffa3,#66ff99,#72ff8d,#85ff7a,#98ff67,#abff54,#beff41,#d1ff2e,#e6ff19,#feff01,#ffe900,#ffd100,#ffb900,#ffa100,#ff9200,#ff9100,#ff9000,#ff8f00,#ff8e00,#ff8e00,#ff9400,#ffa200,#ffb000,#ffbe00,#ffcb00,#ffda00,#fff300,#eaff15,#c9ff36,#a8ff57,#87ff78,#67ff98,#58ffa7,#51ffae,#49ffb6,#42ffbd,#3affc5,#34ffcb,#36ffc9,#3bffc4,#40ffbf,#44ffbb,#49ffb6,#4effb1,#56ffa9,#5effa1,#65ff9a,#6dff92,#75ff8a,#7cff83,#81ff7e,#85ff7a,#88ff77)"></i>
<i style="top:108px;height:2px;background:linear-gradient(90deg,#2cffd3,#35ffca,#3fffc0,#4affb5,#54ffab,#5fffa0,#6bff94,#7eff81,#92ff6d,#a6ff59,#baff45,#ceff31,#e3ff1c,#fbff04,#ffeb00,#ffd400,#ffbc00,#ffa500,#ff9600,#ff9500,#ff9500,#ff9400,#ff9400,#ff9400,#ff9a00,#ffa800,#ffb600,#ffc400,#ffd200,#ffe000,#fff900,#e4ff1b,#c3ff3c,#a2ff5d,#81ff7e,#61ff9e,#52ffad,#4affb5,#43ffbc,#3bffc4,#33ffcc,#2dffd2,#2fffd0,#33ffcc,#38ffc7,#3cffc3,#41ffbe,#46ffb9,#4dffb2,#54ffab,#5bffa4,#63ff9c,#6aff95,#71ff8e,#76ff89,#7bff84,#7eff81)"></i>
<i style="top:110px;height:2px;background:linear-gradient(90deg,#25ffda,#2effd1,#38ffc7,#43ffbc,#4dffb2,#57ffa8,#64ff9b,#78ff87,#8dff72,#a2ff5d,#b6ff49,#cbff34,#e1ff1e,#f8ff07,#ffee00,#ffd700,#ffbf00,#ffa800,#ff9a00,#ff9900,#ff9900,#ff9900,#ff9900,#ff9900,#ffa000,#ffae00,#ffbc00,#ffca00,#ffd800,#ffe600,#fefe01,#deff21,#bdff42,#9cff63,#7bff84,#5bffa4,#4cffb3,#44ffbb,#3cffc3,#34ffcb,#2cffd3,#26ffd9,#27ffd8,#2cffd3,#30ffcf,#34ffcb,#39ffc6,#3dffc2,#44ffbb,#4bffb4,#52ffad,#59ffa6,#60ff9f,#66ff99,#6bff94,#71ff8e,#75ff8a)"></i>
<i style="top:112px;height:2px;background:linear-gradient(90deg,#1effe1,#26ffd9,#31ffce,#3bffc4,#46ffb9,#50ffaf,#5dffa2,#71ff8e,#87ff78,#9dff62,#b2ff4d,#c8ff37,#deff21,#f6ff09,#fff100,#ffda00,#ffc300,#ffac00,#ff9e00,#ff9d00,#ff9e00,#ff9e00,#ff9f00,#ff9f00,#ffa600,#ffb400,#ffc200,#ffd000,#ffde00,#ffec00,#f8ff07,#d8ff27,#b7ff48,#96ff69,#75ff8a,#55ffaa,#45ffba,#3dffc2,#35ffca,#2dffd2,#25ffda,#1effe1,#20ffdf,#24ffdb,#28ffd7,#2cffd3,#30ffcf,#35ffca,#3bffc4,#41ffbe,#48ffb7,#4effb1,#55ffaa,#5bffa4,#61ff9e,#67ff98,#6bff94)"></i>
<i style="top:114px;height:2px;background:linear-gradient(90deg,#16ffe9,#1fffe0,#29ffd6,#34ffcb,#3effc1,#49ffb6,#56ffa9,#6bff94,#82ff7d,#98ff67,#afff50,#c5ff3a,#dcff23,#f3ff0c,#fff400,#ffdd00,#ffc600,#ffaf00,#ffa200,#ffa200,#ffa200,#ffa300,#ffa400,#ffa500,#ffac00,#ffba00,#ffc800,#ffd600,#ffe400,#fff200,#f2ff0d,#d2ff2d,#b1ff4e,#90ff6f,#6fff90,#4fffb0,#3fffc0,#37ffc8,#2fffd0,#26ffd9,#1effe1,#17ffe8,#18ffe7,#1cffe3,#20ffdf,#24ffdb,#28ffd7,#2cffd3,#32ffcd,#38ffc7,#3effc1,#44ffbb,#4affb5,#50ffaf,#56ffa9,#5dffa2,#61ff9e)"></i>
<i style="top:116px;height:2px;background:linear-gradient(90deg,#0ffff0,#18ffe7,#22ffdd,#2dffd2,#37ffc8,#41ffbe,#4fffb0,#65ff9a,#7cff83,#93ff6c,#abff54,#c2ff3d,#d9ff26,#f0ff0f,#fff700,#ffe000,#ffc900,#ffb300,#ffa500,#ffa600,#ffa700,#ffa800,#ffaa00,#ffab00,#ffb200,#ffc000,#ffce00,#ffdc00,#ffea00,#fff800,#ecff13,#ccff33,#abff54,#8aff75,#69ff96,#49ffb6,#39ffc6,#30ffcf,#28ffd7,#20ffdf,#17ffe8,#10ffef,#11ffee,#15ffea,#18ffe7,#1cffe3,#20ffdf,#24ffdb,#29ffd6,#2fffd0,#35ffca,#3affc5,#40ffbf,#46ffb9,#4cffb3,#53ffac,#57ffa8)"></i>
<i style="top:118px;height:2px;background:linear-gradient(90deg,#08fff7,#11ffee,#1bffe4,#26ffd9,#30ffcf,#3bffc4,#48ffb7,#5fffa0,#77ff88,#8fff70,#a7ff58,#bfff40,#d7ff28,#edff12,#fffa00,#ffe300,#ffcd00,#ffb600,#ffa900,#ffaa00,#ffab00,#ffad00,#ffaf00,#ffb000,#ffb800,#ffc600,#ffd400,#ffe100,#ffef00,#fffe00,#e7ff18,#c6ff39,#a5ff5a,#84ff7b,#63ff9c,#44ffbb,#34ffcb,#2bffd4,#23ffdc,#1affe5,#11ffee,#0afff5,#0bfff4,#0efff1,#12ffed,#15ffea,#19ffe6,#1dffe2,#22ffdd,#27ffd8,#2cffd3,#32ffcd,#37ffc8,#3dffc2,#43ffbc,#4affb5,#4fffb0)"></i>
<i style="top:120px;height:2px;background:linear-gradient(90deg,#01fffe,#0afff5,#15ffea,#20ffdf,#2affd5,#35ffca,#42ffbd,#5affa5,#72ff8d,#8bff74,#a4ff5b,#bcff43,#d4ff2b,#ebff14,#fffc00,#ffe600,#ffcf00,#ffb900,#ffac00,#ffad00,#ffaf00,#ffb100,#ffb300,#ffb500,#ffbc00,#ffca00,#ffd800,#ffe500,#fff300,#fdff02,#e4ff1b,#c3ff3c,#a2ff5d,#81ff7e,#60ff9f,#41ffbe,#31ffce,#28ffd7,#1fffe0,#17ffe8,#0efff1,#07fff8,#07fff8,#0bfff4,#0efff1,#11ffee,#14ffeb,#18ffe7,#1dffe2,#22ffdd,#27ffd8,#2dffd2,#32ffcd,#37ffc8,#3effc1,#44ffbb,#49ffb6)"></i>
<i style="top:122px;height:2px;background:linear-gradient(90deg,#00faff,#04fffb,#0ffff0,#1affe5,#25ffda,#30ffcf,#3dffc2,#55ffaa,#6eff91,#87ff78,#a0ff5f,#b9ff46,#d2ff2d,#e8ff17,#ffff00,#ffe800,#ffd200,#ffbb00,#ffae00,#ffb000,#ffb200,#ffb400,#ffb600,#ffb800,#ffc000,#ffcd00,#ffdb00,#ffe800,#fff600,#faff05,#e1ff1e,#c1ff3e,#a0ff5f,#7fff80,#5fffa0,#3fffc0,#2fffd0,#27ffd8,#1effe1,#15ffea,#0dfff2,#05fffa,#06fff9,#09fff6,#0cfff3,#0ffff0,#12ffed,#15ffea,#1affe5,#1fffe0,#25ffda,#2affd5,#2fffd0,#34ffcb,#3bffc4,#41ffbe,#45ffba)"></i>
<i style="top:124px;height:2px;background:linear-gradient(90deg,#00f4ff,#00fdff,#09fff6,#14ffeb,#20ffdf,#2bffd4,#39ffc6,#51ffae,#6aff95,#84ff7b,#9dff62,#b7ff48,#cfff30,#e6ff19,#fdff02,#ffeb00,#ffd400,#ffbe00,#ffb100,#ffb200,#ffb500,#ffb700,#ffb900,#ffbc00,#ffc400,#ffd100,#ffde00,#ffeb00,#fff900,#f7ff08,#dfff20,#beff41,#9eff61,#7eff81,#5dffa2,#3effc1,#2effd1,#25ffda,#1dffe2,#14ffeb,#0bfff4,#04fffb,#04fffb,#07fff8,#0afff5,#0dfff2,#10ffef,#13ffec,#18ffe7,#1dffe2,#22ffdd,#27ffd8,#2dffd2,#32ffcd,#38ffc7,#3dffc2,#42ffbd)"></i>
<i style="top:126px;height:2px;background:linear-gradient(90deg,#00eeff,#00f8ff,#04fffb,#0ffff0,#1affe5,#25ffda,#34ffcb,#4cffb3,#66ff99,#80ff7f,#9aff65,#b4ff4b,#cdff32,#e4ff1b,#faff05,#ffed00,#ffd700,#ffc000,#ffb400,#ffb500,#ffb800,#ffba00,#ffbd00,#ffbf00,#ffc700,#ffd400,#ffe100,#ffee00,#fffb00,#f5ff0a,#dcff23,#bcff43,#9cff63,#7cff83,#5cffa3,#3dffc2,#2dffd2,#24ffdb,#1cffe3,#13ffec,#0afff5,#03fffc,#03fffc,#05fffa,#08fff7,#0bfff4,#0dfff2,#10ffef,#15ffea,#1bffe4,#20ffdf,#25ffda,#2affd5,#2fffd0,#35ffca,#3affc5,#3effc1)"></i>
<i style="top:128px;height:2px;background:linear-gradient(90deg,#00e8ff,#00f2ff,#00fdff,#0afff5,#15ffea,#20ffdf,#2fffd0,#48ffb7,#62ff9d,#7cff83,#97ff68,#b1ff4e,#caff35,#e1ff1e,#f8ff07,#fff000,#ffd900,#ffc300,#ffb600,#ffb800,#ffbb00,#ffbd00,#ffc000,#ffc300,#ffcb00,#ffd800,#ffe400,#fff100,#fffe00,#f2ff0d,#daff25,#baff45,#9aff65,#7aff85,#5affa5,#3bffc4,#2cffd3,#23ffdc,#1affe5,#12ffed,#09fff6,#01fffe,#01fffe,#04fffb,#06fff9,#09fff6,#0bfff4,#0efff1,#13ffec,#18ffe7,#1dffe2,#22ffdd,#28ffd7,#2dffd2,#32ffcd,#37ffc8,#3affc5)"></i>
<i style="top:130px;height:2px;background:linear-gradient(90deg,#00e2ff,#00ecff,#00f7ff,#04fffb,#10ffef,#1bffe4,#2affd5,#43ffbc,#5effa1,#79ff86,#94ff6b,#aeff51,#c8ff37,#dfff20,#f5ff0a,#fff200,#ffdc00,#ffc500,#ffb900,#ffbb00,#ffbe00,#ffc100,#ffc400,#ffc700,#ffce00,#ffdb00,#ffe800,#fff400,#fdff02,#f0ff0f,#d8ff27,#b8ff47,#98ff67,#79ff86,#59ffa6,#3affc5,#2bffd4,#22ffdd,#19ffe6,#10ffef,#08fff7,#00ffff,#00ffff,#02fffd,#04fffb,#07fff8,#09fff6,#0cfff3,#10ffef,#16ffe9,#1bffe4,#20ffdf,#25ffda,#2affd5,#2fffd0,#33ffcc,#37ffc8)"></i>
<i style="top:132px;height:2px;background:linear-gradient(90deg,#00dcff,#00e6ff,#00f2ff,#00feff,#0afff5,#16ffe9,#25ffda,#3fffc0,#5affa5,#75ff8a,#90ff6f,#acff53,#c5ff3a,#dcff23,#f3ff0c,#fff500,#ffde00,#ffc800,#ffbb00,#ffbd00,#ffc100,#ffc400,#ffc700,#ffca00,#ffd200,#ffde00,#ffeb00,#fff700,#faff05,#edff12,#d5ff2a,#b6ff49,#96ff69,#77ff88,#57ffa8,#39ffc6,#29ffd6,#21ffde,#18ffe7,#0ffff0,#07fff8,#00feff,#00feff,#01fffe,#03fffc,#05fffa,#07fff8,#09fff6,#0efff1,#13ffec,#18ffe7,#1effe1,#23ffdc,#28ffd7,#2cffd3,#30ffcf,#33ffcc)"></i>
<i style="top:134px;height:2px;background:linear-gradient(90deg,#00d6ff,#00e0ff,#00ecff,#00f8ff,#05fffa,#12ffed,#21ffde,#3bffc4,#56ffa9,#72ff8d,#8dff72,#a9ff56,#c3ff3c,#daff25,#f0ff0f,#fff700,#ffe000,#ffca00,#ffbe00,#ffc000,#ffc300,#ffc700,#ffca00,#ffce00,#ffd500,#ffe100,#ffee00,#fffa00,#f8ff07,#ebff14,#d3ff2c,#b4ff4b,#95ff6a,#75ff8a,#56ffa9,#38ffc7,#28ffd7,#1fffe0,#17ffe8,#0efff1,#05fffa,#00fdff,#00fcff,#00feff,#01fffe,#03fffc,#05fffa,#07fff8,#0cfff3,#11ffee,#16ffe9,#1bffe4,#21ffde,#26ffd9,#29ffd6,#2dffd2,#30ffcf)"></i>
<i style="top:136px;height:2px;background:linear-gradient(90deg,#00d2ff,#00dcff,#00e8ff,#00f5ff,#02fffd,#0efff1,#1dffe2,#37ffc8,#53ffac,#6fff90,#8bff74,#a6ff59,#c1ff3e,#d7ff28,#eeff11,#fff900,#ffe300,#ffcc00,#ffc000,#ffc300,#ffc600,#ffca00,#ffcd00,#ffd100,#ffd800,#ffe400,#fff100,#fffd00,#f5ff0a,#e8ff17,#d1ff2e,#b2ff4d,#93ff6c,#74ff8b,#55ffaa,#37ffc8,#28ffd7,#1fffe0,#16ffe9,#0efff1,#05fffa,#00fcff,#00fcff,#00fdff,#00ffff,#02fffd,#04fffb,#06fff9,#0bfff4,#10ffef,#15ffea,#1affe5,#1fffe0,#24ffdb,#28ffd7,#2cffd3,#2effd1)"></i>
<i style="top:138px;height:2px;background:linear-gradient(90deg,#00cfff,#00d9ff,#00e6ff,#00f2ff,#00feff,#0bfff4,#1bffe4,#35ffca,#50ffaf,#6cff93,#88ff77,#a4ff5b,#beff41,#d5ff2a,#ecff13,#fffc00,#ffe500,#ffcf00,#ffc300,#ffc500,#ffc900,#ffcc00,#ffd000,#ffd300,#ffdb00,#ffe700,#fff300,#ffff00,#f3ff0c,#e6ff19,#cfff30,#b0ff4f,#92ff6d,#73ff8c,#54ffab,#37ffc8,#27ffd8,#1fffe0,#16ffe9,#0dfff2,#05fffa,#00fcff,#00fbff,#00fdff,#00ffff,#02fffd,#03fffc,#06fff9,#0afff5,#10ffef,#15ffea,#1affe5,#1fffe0,#24ffdb,#28ffd7,#2bffd4,#2effd1)"></i>
<i style="top:140px;height:2px;background:linear-gradient(90deg,#00cdff,#00d7ff,#00e3ff,#00efff,#00fbff,#09fff6,#18ffe7,#32ffcd,#4effb1,#6aff95,#86ff79,#a1ff5e,#bcff43,#d3ff2c,#e9ff16,#fffe00,#ffe800,#ffd100,#ffc500,#ffc800,#ffcb00,#ffce00,#ffd200,#ffd600,#ffdd00,#ffe900,#fff600,#fcff03,#f0ff0f,#e3ff1c,#cdff32,#aeff51,#90ff6f,#72ff8d,#54ffab,#37ffc8,#27ffd8,#1fffe0,#16ffe9,#0dfff2,#05fffa,#00fcff,#00fbff,#00fdff,#00ffff,#02fffd,#03fffc,#06fff9,#0afff5,#10ffef,#15ffea,#1affe5,#1fffe0,#24ffdb,#28ffd7,#2bffd4,#2effd1)"></i>
<i style="top:142px;height:2px;background:linear-gradient(90deg,#00caff,#00d5ff,#00e1ff,#00edff,#00f9ff,#06fff9,#16ffe9,#30ffcf,#4cffb3,#68ff97,#83ff7c,#9fff60,#b9ff46,#d0ff2f,#e7ff18,#fdff02,#ffea00,#ffd400,#ffc700,#ffca00,#ffcd00,#ffd100,#ffd400,#ffd800,#ffe000,#ffec00,#fff800,#faff05,#eeff11,#e1ff1e,#cbff34,#adff52,#8fff70,#71ff8e,#53ffac,#37ffc8,#27ffd8,#1fffe0,#16ffe9,#0dfff2,#05fffa,#00fcff,#00fbff,#00fdff,#00ffff,#02fffd,#03fffc,#06fff9,#0afff5,#10ffef,#15ffea,#1affe5,#1fffe0,#24ffdb,#28ffd7,#2bffd4,#2effd1)"></i>
<i style="top:144px;height:1px;background:linear-gradient(90deg,#00c9ff,#00d3ff,#00e0ff,#00ecff,#00f8ff,#05fffa,#15ffea,#2fffd0,#4bffb4,#66ff99,#82ff7d,#9eff61,#b8ff47,#cfff30,#e6ff19,#fcff03,#ffeb00,#ffd500,#ffc800,#ffcb00,#ffce00,#ffd200,#ffd500,#ffd900,#ffe100,#ffed00,#fff900,#f9ff06,#edff12,#e0ff1f,#c9ff36,#acff53,#8eff71,#71ff8e,#53ffac,#36ffc9,#27ffd8,#1fffe0,#16ffe9,#0dfff2,#05fffa,#00fcff,#00fbff,#00fdff,#00ffff,#02fffd,#03fffc,#06fff9,#0afff5,#10ffef,#15ffea,#1affe5,#1fffe0,#24ffdb,#28ffd7,#2bffd4,#2effd1)"></i>
</div>
<div class="cb" style="left:633.10px;top:465.60px;width:12.00px;height:166.50px;background:linear-gradient(180deg,#000080,#00009f,#0000bf,#0000df,#0000ff,#0020ff,#0040ff,#0060ff,#0080ff,#009fff,#00bfff,#00dfff,#00ffff,#20ffdf,#40ffbf,#60ff9f,#80ff80,#9fff60,#bfff40,#dfff20,#ffff00,#ffdf00,#ffbf00,#ff9f00,#ff8000,#ff6000,#ff4000,#ff2000,#ff0000,#df0000,#bf0000,#9f0000,#800000)"></div>
<div class="f" style="left:42px;top:713px;width:225px;height:145px;clip-path:polygon(0.3px 35.3px,6.3px 35.3px,6.3px 33.3px,12.2px 33.3px,12.2px 31.2px,18.2px 31.2px,18.2px 29.1px,24.2px 29.1px,24.2px 27.1px,30.2px 27.1px,30.2px 25.0px,36.1px 25.0px,36.1px 23.0px,42.1px 23.0px,42.1px 20.9px,48.1px 20.9px,48.1px 18.8px,54.1px 18.8px,54.1px 16.8px,60.0px 16.8px,60.0px 14.7px,66.0px 14.7px,66.0px 12.7px,72.0px 12.7px,72.0px 10.6px,78.0px 10.6px,78.0px 8.5px,83.9px 8.5px,83.9px 6.5px,89.9px 6.5px,89.9px 4.4px,95.9px 4.4px,95.9px 2.4px,101.9px 2.4px,101.9px 0.3px,107.8px 0.3px,107.8px 0.3px,146.6px 0.3px,146.6px 2.4px,187.8px 2.4px,187.8px 4.1px,224.2px 4.1px,224.2px 137.4px,207.2px 137.4px,207.2px 139.5px,181.9px 139.5px,181.9px 142.4px,156.6px 142.4px,156.6px 144.1px,62.6px 144.1px,62.6px 141.2px,39.1px 141.2px,39.1px 139.5px,15.0px 139.5px,15.0px 137.0px,0.3px 137.0px)">
<i style="top:0px;height:2px;background:linear-gradient(90deg,#00abff,#00abff,#00abff,#00abff,#00abff,#00abff,#00abff,#00abff,#00abff,#00abff,#00abff,#00abff,#00abff,#00abff,#00abff,#00aaff,#00a8ff,#00a6ff,#00a5ff,#00a4ff,#00a2ff,#00a2ff,#00a2ff,#00a2ff,#009eff,#0097ff,#0091ff,#0093ff,#009aff,#00a2ff,#00afff,#00beff,#00ceff,#00deff,#00eeff,#00fdff,#0afff5,#14ffeb,#1dffe2,#24ffdb,#2bffd4,#31ffce,#37ffc8,#3effc1,#44ffbb,#48ffb7,#4cffb3,#50ffaf,#54ffab,#57ffa8,#5bffa4,#5fffa0,#63ff9c,#67ff98,#6bff94,#6fff90,#72ff8d)"></i>
<i style="top:2px;height:2px;background:linear-gradient(90deg,#00b6ff,#00b6ff,#00b6ff,#00b6ff,#00b6ff,#00b6ff,#00b6ff,#00b6ff,#00b6ff,#00b6ff,#00b6ff,#00b6ff,#00b6ff,#00b6ff,#00b6ff,#00b4ff,#00b1ff,#00aeff,#00abff,#00a8ff,#00a6ff,#00a5ff,#00a5ff,#00a5ff,#00a3ff,#009fff,#009cff,#009fff,#00a7ff,#00b0ff,#00bbff,#00c9ff,#00d7ff,#00e6ff,#00f5ff,#05fffa,#10ffef,#19ffe6,#22ffdd,#28ffd7,#2effd1,#34ffcb,#3affc5,#40ffbf,#45ffba,#4affb5,#4fffb0,#53ffac,#57ffa8,#5affa5,#5effa1,#62ff9d,#67ff98,#6cff93,#70ff8f,#75ff8a,#78ff87)"></i>
<i style="top:4px;height:2px;background:linear-gradient(90deg,#00c3ff,#00c3ff,#00c3ff,#00c3ff,#00c3ff,#00c3ff,#00c3ff,#00c3ff,#00c3ff,#00c3ff,#00c3ff,#00c3ff,#00c3ff,#00c3ff,#00c3ff,#00c0ff,#00bbff,#00b6ff,#00b1ff,#00aeff,#00aaff,#00a9ff,#00a9ff,#00a9ff,#00a9ff,#00a9ff,#00a9ff,#00afff,#00b7ff,#00c0ff,#00cbff,#00d7ff,#00e3ff,#00f0ff,#01fdfe,#0cfff3,#17ffe8,#1fffe0,#28ffd7,#2effd1,#33ffcc,#38ffc7,#3dffc2,#42ffbd,#47ffb8,#4dffb2,#52ffad,#57ffa8,#5bffa4,#5effa1,#62ff9d,#67ff98,#6cff93,#71ff8e,#77ff88,#7cff83,#80ff7f)"></i>
<i style="top:6px;height:2px;background:linear-gradient(90deg,#00d0ff,#00d0ff,#00d0ff,#00d0ff,#00d0ff,#00d0ff,#00d0ff,#00d0ff,#00d0ff,#00d0ff,#00d0ff,#00d0ff,#00d0ff,#00d0ff,#00d0ff,#00cdff,#00c6ff,#00bfff,#00b8ff,#00b4ff,#00afff,#00acff,#00acff,#00acff,#00afff,#00b3ff,#00b7ff,#00beff,#00c7ff,#00d1ff,#00daff,#00e5ff,#00efff,#00fbff,#08fff7,#14ffeb,#1effe1,#26ffd9,#2dffd2,#33ffcc,#37ffc8,#3cffc3,#40ffbf,#45ffba,#49ffb6,#4fffb0,#55ffaa,#5affa5,#5effa1,#62ff9d,#66ff99,#6bff94,#71ff8e,#77ff88,#7dff82,#83ff7c,#87ff78)"></i>
<i style="top:8px;height:2px;background:linear-gradient(90deg,#00dcff,#00dcff,#00dcff,#00dcff,#00dcff,#00dcff,#00dcff,#00dcff,#00dcff,#00dcff,#00dcff,#00dcff,#00dcff,#00dcff,#00dcff,#00d9ff,#00d0ff,#00c7ff,#00c0ff,#00baff,#00b4ff,#00b1ff,#00b1ff,#00b2ff,#00b6ff,#00bdff,#00c4ff,#00cdff,#00d7ff,#00e1ff,#00eaff,#00f2ff,#00faff,#06fff9,#11ffee,#1cffe3,#25ffda,#2cffd3,#33ffcc,#38ffc7,#3cffc3,#40ffbf,#44ffbb,#47ffb8,#4cffb3,#52ffad,#58ffa7,#5effa1,#62ff9d,#66ff99,#6aff95,#70ff8f,#76ff89,#7dff82,#83ff7c,#8aff75,#8eff71)"></i>
<i style="top:10px;height:2px;background:linear-gradient(90deg,#00e7ff,#00e7ff,#00e7ff,#00e7ff,#00e7ff,#00e7ff,#00e7ff,#00e7ff,#00e7ff,#00e7ff,#00e7ff,#00e7ff,#00e7ff,#00e6ff,#00e6ff,#00e2ff,#00d9ff,#00d0ff,#00c8ff,#00c2ff,#00bdff,#00baff,#00bbff,#00bcff,#00c1ff,#00caff,#00d3ff,#00dcff,#00e6ff,#00f0ff,#00f8ff,#01fdfe,#07fff8,#10ffef,#1affe5,#24ffdb,#2bffd4,#32ffcd,#38ffc7,#3dffc2,#40ffbf,#44ffbb,#47ffb8,#4bffb4,#4fffb0,#55ffaa,#5bffa4,#61ff9e,#66ff99,#69ff96,#6eff91,#74ff8b,#7bff84,#82ff7d,#88ff77,#8fff70,#93ff6c)"></i>
<i style="top:12px;height:2px;background:linear-gradient(90deg,#00efff,#00efff,#00efff,#00efff,#00efff,#00efff,#00efff,#00efff,#00efff,#00efff,#00efff,#00efff,#00efff,#00eeff,#00edff,#00e9ff,#00e1ff,#00d9ff,#00d2ff,#00cdff,#00c9ff,#00c8ff,#00caff,#00ccff,#00d2ff,#00daff,#00e2ff,#00ebff,#00f4ff,#01fcfe,#05fffa,#0bfff4,#11ffee,#19ffe6,#22ffdd,#2bffd4,#32ffcd,#38ffc7,#3effc1,#42ffbd,#45ffba,#49ffb6,#4cffb3,#50ffaf,#53ffac,#59ffa6,#5fffa0,#64ff9b,#69ff96,#6eff91,#73ff8c,#79ff86,#80ff7f,#87ff78,#8dff72,#93ff6c,#97ff68)"></i>
<i style="top:14px;height:2px;background:linear-gradient(90deg,#00f7ff,#00f7ff,#00f7ff,#00f7ff,#00f7ff,#00f7ff,#00f7ff,#00f7ff,#00f7ff,#00f7ff,#00f7ff,#00f7ff,#00f6ff,#00f4ff,#00f2ff,#00eeff,#00e8ff,#00e2ff,#00ddff,#00daff,#00d7ff,#00d7ff,#00dbff,#00dfff,#00e4ff,#00ebff,#00f1ff,#00f9ff,#03fefc,#0afff5,#11ffee,#16ffe9,#1bffe4,#22ffdd,#2bffd4,#33ffcc,#39ffc6,#3effc1,#43ffbc,#47ffb8,#4affb5,#4dffb2,#51ffae,#54ffab,#58ffa7,#5dffa2,#62ff9d,#67ff98,#6cff93,#72ff8d,#77ff88,#7eff81,#85ff7a,#8cff73,#91ff6e,#96ff69,#99ff66)"></i>
<i style="top:16px;height:2px;background:linear-gradient(90deg,#01fefe,#01fefe,#01fefe,#01fefe,#01fefe,#01fefe,#01fefe,#01fefe,#01fefe,#01fefe,#01fefe,#01fefe,#00fdff,#00fbff,#00f8ff,#00f4ff,#00efff,#00eaff,#00e7ff,#00e6ff,#00e4ff,#00e6ff,#00ecff,#00f1ff,#00f6ff,#00fbff,#03fefc,#08fff7,#0ffff0,#16ffe9,#1cffe3,#20ffdf,#25ffda,#2bffd4,#33ffcc,#3affc5,#3fffc0,#44ffbb,#48ffb7,#4bffb4,#4fffb0,#52ffad,#56ffa9,#59ffa6,#5dffa2,#61ff9e,#65ff9a,#6aff95,#70ff8f,#76ff89,#7dff82,#83ff7c,#8aff75,#90ff6f,#95ff6a,#99ff66,#9cff63)"></i>
<i style="top:18px;height:2px;background:linear-gradient(90deg,#09fff6,#09fff6,#09fff6,#09fff6,#09fff6,#09fff6,#09fff6,#09fff6,#09fff6,#08fff7,#08fff7,#08fff7,#06fff9,#03fffc,#00feff,#00faff,#00f7ff,#00f3ff,#00f1ff,#00f1ff,#00f2ff,#00f6ff,#00fcff,#04fffb,#09fff6,#0dfff2,#10ffef,#15ffea,#1bffe4,#20ffdf,#25ffda,#29ffd6,#2dffd2,#33ffcc,#3affc5,#41ffbe,#46ffb9,#49ffb6,#4dffb2,#50ffaf,#54ffab,#57ffa8,#5bffa4,#5fffa0,#63ff9c,#67ff98,#6bff94,#6fff90,#76ff89,#7cff83,#83ff7c,#8aff75,#90ff6f,#96ff69,#9aff65,#9eff61,#a0ff5f)"></i>
<i style="top:20px;height:2px;background:linear-gradient(90deg,#17ffe8,#17ffe8,#17ffe8,#17ffe8,#17ffe8,#17ffe8,#16ffe9,#15ffea,#14ffeb,#13ffec,#12ffed,#11ffee,#0ffff0,#0bfff4,#06fff9,#02fffd,#00feff,#00faff,#00faff,#00fcff,#02fefd,#05fffa,#0cfff3,#13ffec,#18ffe7,#1cffe3,#1fffe0,#22ffdd,#24ffdb,#26ffd9,#29ffd6,#2effd1,#32ffcd,#39ffc6,#40ffbf,#46ffb9,#4bffb4,#4effb1,#52ffad,#55ffaa,#59ffa6,#5cffa3,#61ff9e,#65ff9a,#6aff95,#6eff91,#72ff8d,#77ff88,#7eff81,#85ff7a,#8cff73,#92ff6d,#98ff67,#9dff62,#a1ff5e,#a4ff5b,#a7ff58)"></i>
<i style="top:22px;height:2px;background:linear-gradient(90deg,#25ffda,#25ffda,#25ffda,#25ffda,#25ffda,#25ffda,#25ffda,#23ffdc,#21ffde,#1fffe0,#1effe1,#1cffe3,#19ffe6,#14ffeb,#0efff1,#0afff5,#06fff9,#03fffc,#03fffc,#08fff7,#0efff1,#14ffeb,#1bffe4,#22ffdd,#27ffd8,#2affd5,#2effd1,#2effd1,#2cffd3,#2affd5,#2dffd2,#32ffcd,#37ffc8,#3effc1,#45ffba,#4bffb4,#50ffaf,#53ffac,#57ffa8,#5affa5,#5effa1,#61ff9e,#66ff99,#6bff94,#71ff8e,#76ff89,#7bff84,#81ff7e,#88ff77,#8fff70,#95ff6a,#9aff65,#a0ff5f,#a4ff5b,#a8ff57,#abff54,#aeff51)"></i>
<i style="top:24px;height:2px;background:linear-gradient(90deg,#33ffcc,#33ffcc,#33ffcc,#33ffcc,#33ffcc,#33ffcc,#33ffcc,#30ffcf,#2effd1,#2bffd4,#29ffd6,#26ffd9,#22ffdd,#1cffe3,#16ffe9,#11ffee,#0efff1,#0afff5,#0cfff3,#13ffec,#1bffe4,#22ffdd,#29ffd6,#30ffcf,#35ffca,#39ffc6,#3cffc3,#3affc5,#34ffcb,#2effd1,#30ffcf,#36ffc9,#3cffc3,#43ffbc,#49ffb6,#50ffaf,#55ffaa,#58ffa7,#5cffa3,#5fffa0,#63ff9c,#66ff99,#6cff93,#72ff8d,#78ff87,#7eff81,#84ff7b,#8bff74,#91ff6e,#98ff67,#9fff60,#a3ff5c,#a8ff57,#acff53,#afff50,#b3ff4c,#b5ff4a)"></i>
<i style="top:26px;height:2px;background:linear-gradient(90deg,#3fffc0,#3fffc0,#3fffc0,#3fffc0,#3effc1,#3effc1,#3effc1,#3bffc4,#38ffc7,#35ffca,#32ffcd,#2fffd0,#2bffd4,#25ffda,#1fffe0,#19ffe6,#16ffe9,#12ffed,#14ffeb,#1effe1,#27ffd8,#2fffd0,#36ffc9,#3dffc2,#42ffbd,#45ffba,#49ffb6,#44ffbb,#3bffc4,#32ffcd,#33ffcc,#3affc5,#41ffbe,#47ffb8,#4effb1,#55ffaa,#5affa5,#5dffa2,#61ff9e,#65ff9a,#69ff96,#6dff92,#73ff8c,#7aff85,#81ff7e,#88ff77,#8eff71,#95ff6a,#9cff63,#a2ff5d,#a8ff57,#acff53,#b0ff4f,#b3ff4c,#b6ff49,#b9ff46,#bcff43)"></i>
<i style="top:28px;height:2px;background:linear-gradient(90deg,#47ffb8,#46ffb9,#45ffba,#44ffbb,#44ffbb,#44ffbb,#44ffbb,#41ffbe,#3fffc0,#3cffc3,#3affc5,#37ffc8,#33ffcc,#2dffd2,#27ffd8,#22ffdd,#1fffe0,#1bffe4,#1effe1,#27ffd8,#30ffcf,#38ffc7,#3fffc0,#46ffb9,#4bffb4,#4fffb0,#52ffad,#4dffb2,#42ffbd,#37ffc8,#38ffc7,#3effc1,#45ffba,#4cffb3,#53ffac,#5affa5,#5fffa0,#63ff9c,#68ff97,#6cff93,#70ff8f,#75ff8a,#7cff83,#84ff7b,#8cff73,#93ff6c,#9aff65,#a0ff5f,#a7ff58,#adff52,#b2ff4d,#b5ff4a,#b8ff47,#baff45,#bdff42,#c0ff3f,#c1ff3e)"></i>
<i style="top:30px;height:2px;background:linear-gradient(90deg,#4cffb3,#4affb5,#49ffb6,#47ffb8,#47ffb8,#47ffb8,#47ffb8,#45ffba,#43ffbc,#42ffbd,#40ffbf,#3effc1,#3bffc4,#36ffc9,#31ffce,#2cffd3,#28ffd7,#25ffda,#27ffd8,#2fffd0,#38ffc7,#40ffbf,#47ffb8,#4effb1,#53ffac,#56ffa9,#59ffa6,#54ffab,#48ffb7,#3dffc2,#3dffc2,#43ffbc,#4affb5,#51ffae,#58ffa7,#5fffa0,#65ff9a,#6aff95,#6fff90,#74ff8b,#79ff86,#7fff80,#87ff78,#8fff70,#98ff67,#9fff60,#a6ff59,#acff53,#b2ff4d,#b7ff48,#bcff43,#beff41,#c0ff3f,#c2ff3d,#c3ff3c,#c5ff3a,#c6ff39)"></i>
<i style="top:32px;height:2px;background:linear-gradient(90deg,#50ffaf,#4effb1,#4cffb3,#4affb5,#4affb5,#4affb5,#49ffb6,#48ffb7,#47ffb8,#46ffb9,#45ffba,#44ffbb,#42ffbd,#3effc1,#3affc5,#36ffc9,#32ffcd,#2fffd0,#30ffcf,#38ffc7,#40ffbf,#47ffb8,#4effb1,#55ffaa,#5affa5,#5effa1,#61ff9e,#5bffa4,#4effb1,#42ffbd,#41ffbe,#48ffb7,#4fffb0,#56ffa9,#5dffa2,#64ff9b,#6aff95,#70ff8f,#76ff89,#7cff83,#82ff7d,#89ff76,#91ff6e,#9bff64,#a4ff5b,#abff54,#b2ff4d,#b9ff46,#bdff42,#c2ff3d,#c6ff39,#c7ff38,#c8ff37,#c9ff36,#caff35,#cbff34,#ccff33)"></i>
<i style="top:34px;height:2px;background:linear-gradient(90deg,#55ffaa,#52ffad,#4fffb0,#4dffb2,#4cffb3,#4cffb3,#4cffb3,#4bffb4,#4bffb4,#4affb5,#4affb5,#49ffb6,#48ffb7,#44ffbb,#41ffbe,#3dffc2,#3affc5,#37ffc8,#38ffc7,#3fffc0,#46ffb9,#4effb1,#54ffab,#5bffa4,#61ff9e,#64ff9b,#67ff98,#61ff9e,#54ffab,#47ffb8,#46ffb9,#4dffb2,#54ffab,#5bffa4,#63ff9c,#6aff95,#71ff8e,#78ff87,#7fff80,#85ff7a,#8cff73,#93ff6c,#9cff63,#a6ff59,#b0ff4f,#b7ff48,#beff41,#c4ff3b,#c8ff37,#ccff33,#cfff30,#d0ff2f,#d0ff2f,#d1ff2e,#d1ff2e,#d1ff2e,#d2ff2d)"></i>
<i style="top:36px;height:2px;background:linear-gradient(90deg,#58ffa7,#56ffa9,#53ffac,#51ffae,#50ffaf,#4fffb0,#4effb1,#4effb1,#4dffb2,#4cffb3,#4bffb4,#4affb5,#49ffb6,#46ffb9,#44ffbb,#41ffbe,#3effc1,#3bffc4,#3dffc2,#44ffbb,#4bffb4,#52ffad,#59ffa6,#5fffa0,#65ff9a,#69ff96,#6dff92,#67ff98,#59ffa6,#4cffb3,#4bffb4,#52ffad,#59ffa6,#61ff9e,#69ff96,#72ff8d,#7aff85,#81ff7e,#89ff76,#90ff6f,#97ff68,#9eff61,#a8ff57,#b2ff4d,#bcff43,#c3ff3c,#c9ff36,#cfff30,#d3ff2c,#d6ff29,#d9ff26,#d9ff26,#d9ff26,#daff25,#daff25,#daff25,#daff25)"></i>
<i style="top:38px;height:2px;background:linear-gradient(90deg,#5bffa4,#59ffa6,#57ffa8,#55ffaa,#54ffab,#52ffad,#51ffae,#4fffb0,#4effb1,#4cffb3,#4bffb4,#49ffb6,#47ffb8,#45ffba,#44ffbb,#42ffbd,#40ffbf,#3effc1,#40ffbf,#46ffb9,#4dffb2,#54ffab,#5bffa4,#62ff9d,#68ff97,#6dff92,#72ff8d,#6cff93,#5effa1,#51ffae,#50ffaf,#57ffa8,#5effa1,#67ff98,#71ff8e,#7bff84,#84ff7b,#8cff73,#95ff6a,#9cff63,#a3ff5c,#aaff55,#b4ff4b,#beff41,#c8ff37,#ceff31,#d4ff2b,#d9ff26,#ddff22,#e0ff1f,#e3ff1c,#e3ff1c,#e3ff1c,#e3ff1c,#e3ff1c,#e3ff1c,#e3ff1c)"></i>
<i style="top:40px;height:2px;background:linear-gradient(90deg,#5effa1,#5dffa2,#5bffa4,#5affa5,#58ffa7,#55ffaa,#53ffac,#51ffae,#4effb1,#4cffb3,#4affb5,#47ffb8,#45ffba,#44ffbb,#43ffbc,#42ffbd,#41ffbe,#40ffbf,#42ffbd,#49ffb6,#50ffaf,#57ffa8,#5effa1,#65ff9a,#6bff94,#71ff8e,#76ff89,#70ff8f,#63ff9c,#56ffa9,#55ffaa,#5cffa3,#63ff9c,#6dff92,#79ff86,#84ff7b,#8eff71,#98ff67,#a1ff5e,#a8ff57,#afff50,#b6ff49,#c0ff3f,#cbff34,#d4ff2b,#daff25,#deff21,#e3ff1c,#e6ff19,#eaff15,#ecff13,#edff12,#edff12,#edff12,#edff12,#edff12,#edff12)"></i>
<i style="top:42px;height:2px;background:linear-gradient(90deg,#61ff9e,#61ff9e,#60ff9f,#5fffa0,#5cffa3,#59ffa6,#56ffa9,#53ffac,#50ffaf,#4dffb2,#4affb5,#47ffb8,#45ffba,#44ffbb,#44ffbb,#43ffbc,#43ffbc,#42ffbd,#45ffba,#4cffb3,#52ffad,#59ffa6,#60ff9f,#68ff97,#6eff91,#75ff8a,#7bff84,#75ff8a,#68ff97,#5bffa4,#5affa5,#61ff9e,#69ff96,#74ff8b,#81ff7e,#8eff71,#99ff66,#a3ff5c,#adff52,#b4ff4b,#bbff44,#c3ff3c,#ccff33,#d6ff29,#e0ff1f,#e4ff1b,#e8ff17,#ecff13,#efff10,#f2ff0d,#f5ff0a,#f5ff0a,#f5ff0a,#f5ff0a,#f5ff0a,#f5ff0a,#f5ff0a)"></i>
<i style="top:44px;height:2px;background:linear-gradient(90deg,#66ff99,#66ff99,#66ff99,#65ff9a,#62ff9d,#5fffa0,#5bffa4,#58ffa7,#55ffaa,#51ffae,#4effb1,#4affb5,#48ffb7,#47ffb8,#46ffb9,#46ffb9,#46ffb9,#46ffb9,#49ffb6,#4fffb0,#55ffaa,#5cffa3,#64ff9b,#6bff94,#72ff8d,#79ff86,#7fff80,#7aff85,#6dff92,#5fffa0,#60ff9f,#68ff97,#70ff8f,#7cff83,#8aff75,#97ff68,#a3ff5c,#aeff51,#b9ff46,#c1ff3e,#c8ff37,#cfff30,#d8ff27,#e1ff1e,#e9ff16,#edff12,#f0ff0f,#f3ff0c,#f6ff09,#f8ff07,#fbff04,#fbff04,#fbff04,#fbff04,#fbff04,#fbff04,#fbff04)"></i>
<i style="top:46px;height:2px;background:linear-gradient(90deg,#6dff92,#6dff92,#6dff92,#6cff93,#69ff96,#66ff99,#62ff9d,#5fffa0,#5bffa4,#58ffa7,#55ffaa,#51ffae,#4effb1,#4dffb2,#4bffb4,#4bffb4,#4bffb4,#4bffb4,#4dffb2,#52ffad,#58ffa7,#5fffa0,#67ff98,#70ff8f,#77ff88,#7eff81,#84ff7b,#7fff80,#71ff8e,#64ff9b,#66ff99,#6fff90,#79ff86,#86ff79,#94ff6b,#a1ff5e,#aeff51,#b9ff46,#c5ff3a,#cdff32,#d4ff2b,#dbff24,#e2ff1d,#eaff15,#f1ff0e,#f4ff0b,#f6ff09,#f8ff07,#faff05,#fcff03,#feff01,#feff01,#feff01,#feff01,#feff01,#feff01,#feff01)"></i>
<i style="top:48px;height:2px;background:linear-gradient(90deg,#75ff8a,#75ff8a,#75ff8a,#74ff8b,#71ff8e,#6dff92,#6aff95,#66ff99,#63ff9c,#5fffa0,#5cffa3,#58ffa7,#55ffaa,#53ffac,#51ffae,#4fffb0,#4fffb0,#4fffb0,#52ffad,#56ffa9,#5bffa4,#62ff9d,#6bff94,#74ff8b,#7cff83,#83ff7c,#89ff76,#84ff7b,#76ff89,#69ff96,#6cff93,#77ff88,#82ff7d,#8fff70,#9dff62,#abff54,#b8ff47,#c5ff3a,#d1ff2e,#d9ff26,#e0ff1f,#e7ff18,#edff12,#f3ff0c,#f8ff07,#faff05,#fcff03,#fdff02,#feff01,#fffe00,#fffe00,#fffd00,#fffd00,#fffd00,#fffd00,#fffd00,#fffd00)"></i>
<i style="top:50px;height:2px;background:linear-gradient(90deg,#7dff82,#7dff82,#7dff82,#7cff83,#79ff86,#76ff89,#72ff8d,#6eff91,#6bff94,#67ff98,#63ff9c,#60ff9f,#5cffa3,#59ffa6,#56ffa9,#54ffab,#54ffab,#54ffab,#56ffa9,#5affa5,#5effa1,#65ff9a,#6eff91,#78ff87,#80ff7f,#88ff77,#8eff71,#89ff76,#7bff84,#6eff91,#72ff8d,#7eff81,#8bff74,#99ff66,#a7ff58,#b6ff49,#c3ff3c,#d0ff2f,#ddff22,#e5ff1a,#ecff13,#f3ff0c,#f8ff07,#fcff03,#fefe01,#fffd00,#fffc00,#fffc00,#fffb00,#fffb00,#fffb00,#fffa00,#fffa00,#fffa00,#fffa00,#fffa00,#fffa00)"></i>
<i style="top:52px;height:2px;background:linear-gradient(90deg,#88ff77,#88ff77,#88ff77,#87ff78,#84ff7b,#81ff7e,#7dff82,#78ff87,#74ff8b,#6fff90,#6bff94,#67ff98,#63ff9c,#60ff9f,#5cffa3,#59ffa6,#58ffa7,#58ffa7,#59ffa6,#5dffa2,#60ff9f,#67ff98,#71ff8e,#7aff85,#83ff7c,#8bff74,#93ff6c,#8eff71,#80ff7f,#73ff8c,#77ff88,#85ff7a,#94ff6b,#a3ff5c,#b2ff4d,#c1ff3e,#cfff30,#ddff22,#e9ff16,#f1ff0e,#f8ff07,#fdfe02,#fffd00,#fff900,#fff700,#fff600,#fff600,#fff600,#fff600,#fff600,#fff600,#fff600,#fff600,#fff600,#fff600,#fff600,#fff600)"></i>
<i style="top:54px;height:2px;background:linear-gradient(90deg,#96ff69,#96ff69,#96ff69,#95ff6a,#92ff6d,#8eff71,#8aff75,#84ff7b,#7eff81,#79ff86,#74ff8b,#6fff90,#6bff94,#66ff99,#61ff9e,#5effa1,#5cffa3,#5bffa4,#5cffa3,#5fffa0,#63ff9c,#69ff96,#72ff8d,#7bff84,#85ff7a,#8eff71,#97ff68,#93ff6c,#85ff7a,#78ff87,#7dff82,#8cff73,#9bff64,#acff53,#beff41,#cfff30,#ddff22,#e9ff16,#f5ff0a,#fcff03,#fffc00,#fff600,#fff300,#fff100,#ffef00,#ffef00,#ffef00,#ffef00,#ffef00,#ffef00,#ffef00,#ffef00,#ffef00,#ffef00,#ffef00,#ffef00,#ffef00)"></i>
<i style="top:56px;height:2px;background:linear-gradient(90deg,#a4ff5b,#a4ff5b,#a4ff5b,#a4ff5b,#a0ff5f,#9dff62,#98ff67,#91ff6e,#89ff76,#82ff7d,#7dff82,#77ff88,#72ff8d,#6cff93,#67ff98,#62ff9d,#60ff9f,#5effa1,#5effa1,#62ff9d,#65ff9a,#6bff94,#73ff8c,#7cff83,#86ff79,#91ff6e,#9bff64,#97ff68,#8aff75,#7dff82,#82ff7d,#92ff6d,#a2ff5d,#b5ff4a,#c9ff36,#ddff22,#ebff14,#f7ff08,#fffc00,#fff600,#fff100,#ffec00,#ffea00,#ffe900,#ffe800,#ffe700,#ffe700,#ffe700,#ffe700,#ffe700,#ffe700,#ffe700,#ffe700,#ffe700,#ffe700,#ffe700,#ffe700)"></i>
<i style="top:58px;height:2px;background:linear-gradient(90deg,#b3ff4c,#b3ff4c,#b3ff4c,#b2ff4d,#afff50,#acff53,#a7ff58,#9eff61,#94ff6b,#8cff73,#85ff7a,#7fff80,#79ff86,#72ff8d,#6cff93,#67ff98,#64ff9b,#61ff9e,#61ff9e,#64ff9b,#68ff97,#6dff92,#74ff8b,#7cff83,#86ff79,#93ff6c,#9fff60,#9cff63,#8eff71,#82ff7d,#88ff77,#99ff66,#aaff55,#beff41,#d5ff2a,#ebff14,#f9ff06,#fffa00,#fff000,#ffea00,#ffe600,#ffe200,#ffe100,#ffe100,#ffe000,#ffe000,#ffe000,#ffe000,#ffe000,#ffe000,#ffe000,#ffe000,#ffe000,#ffe000,#ffe000,#ffe000,#ffe000)"></i>
<i style="top:60px;height:2px;background:linear-gradient(90deg,#c4ff3b,#c3ff3c,#c2ff3d,#c1ff3e,#bdff42,#b9ff46,#b4ff4b,#aaff55,#9fff60,#96ff69,#8eff71,#86ff79,#7fff80,#78ff87,#71ff8e,#6cff93,#68ff97,#64ff9b,#63ff9c,#66ff99,#69ff96,#6eff91,#75ff8a,#7cff83,#87ff78,#93ff6c,#9fff60,#9dff62,#91ff6e,#86ff79,#8eff71,#a0ff5f,#b3ff4c,#c9ff36,#e1ff1e,#f8ff07,#fff800,#ffed00,#ffe400,#ffdf00,#ffdb00,#ffd900,#ffd800,#ffd800,#ffd800,#ffd800,#ffd800,#ffd800,#ffd800,#ffd800,#ffd800,#ffd800,#ffd800,#ffd800,#ffd800,#ffd800,#ffd800)"></i>
<i style="top:62px;height:2px;background:linear-gradient(90deg,#d7ff28,#d5ff2a,#d2ff2d,#d0ff2f,#cbff34,#c7ff38,#c0ff3f,#b5ff4a,#aaff55,#9fff60,#96ff69,#8cff73,#84ff7b,#7dff82,#76ff89,#70ff8f,#6bff94,#67ff98,#65ff9a,#68ff97,#6aff95,#6fff90,#75ff8a,#7cff83,#86ff79,#91ff6e,#9cff63,#9cff63,#93ff6c,#8aff75,#94ff6b,#a9ff56,#beff41,#d5ff2a,#edff12,#fffa00,#ffeb00,#ffe100,#ffd700,#ffd300,#ffd100,#ffcf00,#ffce00,#ffce00,#ffce00,#ffce00,#ffce00,#ffce00,#ffce00,#ffce00,#ffce00,#ffce00,#ffce00,#ffce00,#ffce00,#ffce00,#ffce00)"></i>
<i style="top:64px;height:2px;background:linear-gradient(90deg,#eaff15,#e6ff19,#e3ff1c,#deff21,#d9ff26,#d4ff2b,#ccff33,#c1ff3e,#b4ff4b,#a8ff57,#9dff62,#93ff6c,#89ff76,#82ff7d,#7bff84,#75ff8a,#6fff90,#6aff95,#67ff98,#69ff96,#6aff95,#6fff90,#75ff8a,#7cff83,#85ff7a,#8fff70,#98ff67,#99ff66,#93ff6c,#8eff71,#9bff64,#b2ff4d,#c9ff36,#e1ff1e,#f9ff06,#ffed00,#ffdf00,#ffd500,#ffcb00,#ffc800,#ffc600,#ffc500,#ffc400,#ffc400,#ffc400,#ffc400,#ffc400,#ffc400,#ffc400,#ffc400,#ffc400,#ffc400,#ffc400,#ffc400,#ffc400,#ffc400,#ffc400)"></i>
<i style="top:66px;height:2px;background:linear-gradient(90deg,#fcfd03,#f9ff06,#f3ff0c,#eeff11,#e8ff17,#e1ff1e,#d9ff26,#ccff33,#bfff40,#b2ff4d,#a5ff5a,#99ff66,#8eff71,#87ff78,#80ff7f,#79ff86,#73ff8c,#6dff92,#6aff95,#6aff95,#6bff94,#6eff91,#75ff8a,#7cff83,#84ff7b,#8cff73,#94ff6b,#96ff69,#93ff6c,#91ff6e,#a1ff5e,#baff45,#d4ff2b,#edff12,#fff900,#ffe200,#ffd300,#ffc900,#ffbf00,#ffbc00,#ffbb00,#ffbb00,#ffbb00,#ffbb00,#ffbb00,#ffbb00,#ffbb00,#ffbb00,#ffbb00,#ffbb00,#ffbb00,#ffbb00,#ffbb00,#ffbb00,#ffbb00,#ffbb00,#ffbb00)"></i>
<i style="top:68px;height:2px;background:linear-gradient(90deg,#ffea00,#ffef00,#fff600,#fdfb02,#faff05,#f3ff0c,#e9ff16,#dbff24,#cdff32,#beff41,#afff50,#a1ff5e,#95ff6a,#8dff72,#85ff7a,#7eff81,#77ff88,#70ff8f,#6cff93,#6cff93,#6bff94,#6eff91,#74ff8b,#7aff85,#80ff7f,#86ff79,#8cff73,#8fff70,#90ff6f,#92ff6d,#a4ff5b,#bfff40,#dbff24,#f5ff0a,#fff000,#ffd700,#ffc800,#ffbe00,#ffb400,#ffb100,#ffb100,#ffb100,#ffb100,#ffb100,#ffb100,#ffb100,#ffb100,#ffb200,#ffb200,#ffb200,#ffb200,#ffb200,#ffb200,#ffb300,#ffb300,#ffb300,#ffb300)"></i>
<i style="top:70px;height:2px;background:linear-gradient(90deg,#ffce00,#ffd400,#ffdb00,#ffe200,#ffeb00,#fff400,#fcfc03,#efff10,#deff21,#cdff32,#bcff43,#abff54,#9dff62,#94ff6b,#8bff74,#83ff7c,#7cff83,#75ff8a,#70ff8f,#6eff91,#6cff93,#6dff92,#71ff8e,#75ff8a,#79ff86,#7dff82,#81ff7e,#85ff7a,#89ff76,#8eff71,#a2ff5d,#bfff40,#ddff22,#f9ff06,#ffea00,#ffcf00,#ffc000,#ffb400,#ffaa00,#ffa700,#ffa700,#ffa700,#ffa700,#ffa700,#ffa700,#ffa800,#ffa900,#ffaa00,#ffaa00,#ffaa00,#ffaa00,#ffab00,#ffac00,#ffad00,#ffad00,#ffad00,#ffad00)"></i>
<i style="top:72px;height:2px;background:linear-gradient(90deg,#ffb100,#ffb700,#ffbe00,#ffc600,#ffd000,#ffdb00,#ffe700,#fffa00,#f1ff0e,#ddff22,#caff35,#b7ff48,#a6ff59,#9bff64,#91ff6e,#88ff77,#81ff7e,#7aff85,#74ff8b,#71ff8e,#6dff92,#6cff93,#6dff92,#6fff90,#70ff8f,#72ff8d,#74ff8b,#78ff87,#80ff7f,#88ff77,#9eff61,#beff41,#ddff22,#fbff04,#ffe500,#ffc900,#ffb800,#ffab00,#ffa000,#ff9d00,#ff9d00,#ff9d00,#ff9d00,#ff9d00,#ff9d00,#ff9f00,#ffa100,#ffa200,#ffa300,#ffa300,#ffa300,#ffa500,#ffa600,#ffa800,#ffa800,#ffa800,#ffa800)"></i>
<i style="top:74px;height:2px;background:linear-gradient(90deg,#ff9400,#ff9a00,#ffa100,#ffa900,#ffb500,#ffc100,#ffd000,#ffe500,#fffa00,#eeff11,#d8ff27,#c2ff3d,#b0ff4f,#a3ff5c,#97ff68,#8dff72,#85ff7a,#7eff81,#78ff87,#73ff8c,#6dff92,#6aff95,#69ff96,#68ff97,#68ff97,#67ff98,#66ff99,#6cff93,#76ff89,#81ff7e,#9aff65,#bbff44,#ddff22,#fdff02,#ffe100,#ffc200,#ffaf00,#ffa200,#ff9700,#ff9300,#ff9300,#ff9400,#ff9400,#ff9400,#ff9400,#ff9600,#ff9900,#ff9b00,#ff9b00,#ff9b00,#ff9c00,#ff9e00,#ffa100,#ffa300,#ffa300,#ffa300,#ffa300)"></i>
<i style="top:76px;height:2px;background:linear-gradient(90deg,#ff7800,#ff7e00,#ff8500,#ff8d00,#ff9b00,#ffa900,#ffb900,#ffd000,#ffe800,#fdfd02,#e7ff18,#cfff30,#bbff44,#acff53,#9eff61,#92ff6d,#89ff76,#81ff7e,#79ff86,#72ff8d,#6bff94,#66ff99,#63ff9c,#60ff9f,#5effa1,#5cffa3,#5affa5,#5fffa0,#6bff94,#78ff87,#93ff6c,#b7ff48,#ddff22,#fffe00,#ffdb00,#ffba00,#ffa700,#ff9900,#ff8d00,#ff8a00,#ff8a00,#ff8a00,#ff8b00,#ff8b00,#ff8c00,#ff8e00,#ff9200,#ff9400,#ff9500,#ff9500,#ff9600,#ff9900,#ff9c00,#ff9e00,#ff9e00,#ff9e00,#ff9e00)"></i>
<i style="top:78px;height:2px;background:linear-gradient(90deg,#ff5e00,#ff6400,#ff6b00,#ff7400,#ff8300,#ff9200,#ffa400,#ffbd00,#ffd600,#ffef00,#f6ff09,#ddff22,#c7ff38,#b6ff49,#a6ff59,#97ff68,#8cff73,#81ff7e,#76ff89,#6dff92,#63ff9c,#5dffa2,#59ffa6,#56ffa9,#53ffac,#51ffae,#4effb1,#53ffac,#5effa1,#69ff96,#86ff79,#b0ff4f,#ddff22,#fff900,#ffd500,#ffb200,#ff9e00,#ff9000,#ff8300,#ff8100,#ff8100,#ff8200,#ff8300,#ff8400,#ff8500,#ff8800,#ff8c00,#ff8f00,#ff9000,#ff9100,#ff9200,#ff9400,#ff9700,#ff9900,#ff9900,#ff9900,#ff9900)"></i>
<i style="top:80px;height:2px;background:linear-gradient(90deg,#ff4600,#ff4c00,#ff5200,#ff5c00,#ff6c00,#ff7d00,#ff9100,#ffaa00,#ffc400,#ffde00,#fff800,#ecff13,#d5ff2a,#c2ff3d,#afff50,#9dff62,#8eff71,#7fff80,#71ff8e,#65ff9a,#59ffa6,#51ffae,#4dffb2,#4affb5,#47ffb8,#46ffb9,#44ffbb,#47ffb8,#4fffb0,#57ffa8,#76ff89,#a6ff59,#dfff20,#fff300,#ffcd00,#ffa800,#ff9400,#ff8600,#ff7a00,#ff7800,#ff7900,#ff7b00,#ff7c00,#ff7e00,#ff8000,#ff8300,#ff8700,#ff8a00,#ff8c00,#ff8d00,#ff8f00,#ff9100,#ff9300,#ff9400,#ff9400,#ff9400,#ff9400)"></i>
<i style="top:82px;height:2px;background:linear-gradient(90deg,#ff2e00,#ff3400,#ff3a00,#ff4400,#ff5600,#ff6900,#ff7d00,#ff9800,#ffb200,#ffcd00,#ffe800,#fbff04,#e2ff1d,#cdff32,#b7ff48,#a3ff5c,#90ff6f,#7cff83,#6bff94,#5cffa3,#4effb1,#45ffba,#41ffbe,#3effc1,#3cffc3,#3bffc4,#3affc5,#3cffc3,#40ffbf,#45ffba,#66ff99,#9dff62,#e0ff1f,#ffed00,#ffc500,#ff9f00,#ff8a00,#ff7c00,#ff7000,#ff6f00,#ff7100,#ff7400,#ff7600,#ff7900,#ff7b00,#ff7f00,#ff8200,#ff8500,#ff8800,#ff8a00,#ff8d00,#ff8e00,#ff8f00,#ff8f00,#ff9000,#ff9000,#ff9000)"></i>
<i style="top:84px;height:2px;background:linear-gradient(90deg,#ff1900,#ff1f00,#ff2600,#ff3000,#ff4300,#ff5700,#ff6e00,#ff8800,#ffa400,#ffbf00,#ffdb00,#fff600,#eeff11,#d6ff29,#bfff40,#a8ff57,#92ff6d,#7bff84,#67ff98,#56ffa9,#46ffb9,#3bffc4,#37ffc8,#32ffcd,#30ffcf,#30ffcf,#2fffd0,#30ffcf,#31ffce,#35ffca,#57ffa8,#93ff6c,#deff21,#ffea00,#ffc000,#ff9800,#ff8300,#ff7500,#ff6900,#ff6800,#ff6b00,#ff6e00,#ff7100,#ff7500,#ff7800,#ff7b00,#ff7f00,#ff8200,#ff8500,#ff8800,#ff8a00,#ff8b00,#ff8b00,#ff8c00,#ff8c00,#ff8c00,#ff8c00)"></i>
<i style="top:86px;height:2px;background:linear-gradient(90deg,#ff0e00,#ff1400,#ff1b00,#ff2500,#ff3900,#ff4e00,#ff6500,#ff8000,#ff9c00,#ffb800,#ffd400,#ffef00,#f4ff0b,#dcff23,#c4ff3b,#acff53,#95ff6a,#7dff82,#68ff97,#55ffaa,#43ffbc,#36ffc9,#2fffd0,#29ffd6,#25ffda,#25ffda,#24ffdb,#24ffdb,#25ffda,#28ffd7,#4bffb4,#88ff77,#d8ff27,#ffed00,#ffc000,#ff9600,#ff8000,#ff7300,#ff6700,#ff6700,#ff6a00,#ff6d00,#ff7100,#ff7400,#ff7800,#ff7b00,#ff7f00,#ff8200,#ff8500,#ff8700,#ff8a00,#ff8a00,#ff8a00,#ff8a00,#ff8a00,#ff8a00,#ff8a00)"></i>
<i style="top:88px;height:2px;background:linear-gradient(90deg,#ff0800,#ff0e00,#ff1500,#ff1f00,#ff3400,#ff4a00,#ff6200,#ff7d00,#ff9900,#ffb500,#ffd000,#ffec00,#f7ff08,#dfff20,#c7ff38,#afff50,#98ff67,#81ff7e,#6cff93,#57ffa8,#43ffbc,#34ffcb,#2affd5,#20ffdf,#1bffe4,#1affe5,#18ffe7,#18ffe7,#1affe5,#1dffe2,#3fffc0,#7dff82,#cfff30,#fff300,#ffc400,#ff9600,#ff8000,#ff7400,#ff6900,#ff6800,#ff6c00,#ff6f00,#ff7300,#ff7600,#ff7a00,#ff7d00,#ff8100,#ff8400,#ff8600,#ff8800,#ff8900,#ff8a00,#ff8a00,#ff8a00,#ff8a00,#ff8a00,#ff8a00)"></i>
<i style="top:90px;height:2px;background:linear-gradient(90deg,#ff0300,#ff0900,#ff1000,#ff1a00,#ff3000,#ff4700,#ff5f00,#ff7b00,#ff9600,#ffb200,#ffce00,#ffea00,#faff05,#e1ff1e,#c9ff36,#b2ff4d,#9cff63,#86ff79,#70ff8f,#59ffa6,#43ffbc,#32ffcd,#25ffda,#18ffe7,#11ffee,#0efff1,#0cfff3,#0dfff2,#0ffff0,#13ffec,#35ffca,#71ff8e,#c5ff3a,#fffb00,#ffc800,#ff9700,#ff8100,#ff7500,#ff6b00,#ff6b00,#ff6e00,#ff7200,#ff7500,#ff7900,#ff7c00,#ff8000,#ff8300,#ff8600,#ff8800,#ff8900,#ff8a00,#ff8a00,#ff8a00,#ff8a00,#ff8a00,#ff8a00,#ff8a00)"></i>
<i style="top:92px;height:2px;background:linear-gradient(90deg,#ff0000,#ff0600,#ff0d00,#ff1700,#ff2d00,#ff4500,#ff5e00,#ff7900,#ff9500,#ffb100,#ffcc00,#ffe800,#fcff03,#e3ff1c,#cbff34,#b4ff4b,#9fff60,#89ff76,#73ff8c,#5bffa4,#43ffbc,#2effd1,#1dffe2,#0dfff2,#04fffb,#02fdfd,#01fcfe,#02fdfd,#04fffb,#0bfff4,#2cffd3,#67ff98,#bbff44,#fcff03,#ffcc00,#ff9a00,#ff8300,#ff7800,#ff6e00,#ff6e00,#ff7100,#ff7500,#ff7800,#ff7b00,#ff7f00,#ff8200,#ff8500,#ff8800,#ff8900,#ff8900,#ff8a00,#ff8a00,#ff8a00,#ff8a00,#ff8a00,#ff8a00,#ff8a00)"></i>
<i style="top:94px;height:2px;background:linear-gradient(90deg,#ff0100,#ff0600,#ff0d00,#ff1800,#ff2e00,#ff4500,#ff5e00,#ff7900,#ff9500,#ffb100,#ffcc00,#ffe700,#fdff02,#e5ff1a,#cdff32,#b7ff48,#a1ff5e,#8bff74,#73ff8c,#58ffa7,#3dffc2,#25ffda,#0ffff0,#00f9ff,#00eeff,#00ebff,#00eaff,#00efff,#00faff,#07fff8,#29ffd6,#62ff9d,#b3ff4c,#f4ff0b,#ffd300,#ffa000,#ff8900,#ff7e00,#ff7500,#ff7400,#ff7600,#ff7900,#ff7b00,#ff7e00,#ff8100,#ff8400,#ff8700,#ff8900,#ff8a00,#ff8a00,#ff8a00,#ff8a00,#ff8b00,#ff8c00,#ff8c00,#ff8c00,#ff8c00)"></i>
<i style="top:96px;height:2px;background:linear-gradient(90deg,#ff0500,#ff0a00,#ff1100,#ff1c00,#ff3100,#ff4800,#ff6000,#ff7c00,#ff9700,#ffb300,#ffcd00,#ffe700,#fdff02,#e6ff19,#cfff30,#b9ff46,#a3ff5c,#8cff73,#72ff8d,#53ffac,#34ffcb,#17ffe8,#00faff,#00e0ff,#00d3ff,#00d2ff,#00d2ff,#00ddff,#00f1ff,#08fff7,#2affd5,#60ff9f,#adff52,#ecff13,#ffdc00,#ffa800,#ff9200,#ff8700,#ff7e00,#ff7c00,#ff7d00,#ff7e00,#ff7f00,#ff8100,#ff8400,#ff8600,#ff8800,#ff8900,#ff8a00,#ff8a00,#ff8a00,#ff8b00,#ff8d00,#ff8e00,#ff8e00,#ff8e00,#ff8e00)"></i>
<i style="top:98px;height:2px;background:linear-gradient(90deg,#ff0a00,#ff0f00,#ff1600,#ff2100,#ff3500,#ff4b00,#ff6300,#ff7e00,#ff9a00,#ffb500,#ffcf00,#ffe800,#feff01,#e7ff18,#d1ff2e,#bbff44,#a4ff5b,#8dff72,#70ff8f,#4dffb2,#2affd5,#08fff7,#00e6ff,#00c6ff,#00b7ff,#00b8ff,#00b9ff,#00cbff,#00e9ff,#09fff6,#2dffd2,#5effa1,#a8ff57,#e4ff1b,#ffe400,#ffb200,#ff9c00,#ff9100,#ff8800,#ff8500,#ff8400,#ff8300,#ff8400,#ff8500,#ff8600,#ff8700,#ff8900,#ff8a00,#ff8a00,#ff8a00,#ff8a00,#ff8c00,#ff8f00,#ff9000,#ff9000,#ff9000,#ff9000)"></i>
<i style="top:100px;height:2px;background:linear-gradient(90deg,#ff1000,#ff1600,#ff1d00,#ff2700,#ff3b00,#ff5100,#ff6700,#ff8200,#ff9e00,#ffb900,#ffd100,#ffea00,#fdff02,#e8ff17,#d3ff2c,#bcff43,#a5ff5a,#8dff72,#6fff90,#49ffb6,#22ffdd,#00fbff,#00d6ff,#00b2ff,#00a2ff,#00a3ff,#00a7ff,#00beff,#00e3ff,#09fff6,#2fffd0,#5dffa2,#a2ff5d,#dcff23,#ffee00,#ffbd00,#ffa800,#ff9d00,#ff9400,#ff8f00,#ff8d00,#ff8b00,#ff8b00,#ff8b00,#ff8c00,#ff8c00,#ff8d00,#ff8d00,#ff8d00,#ff8d00,#ff8e00,#ff9000,#ff9300,#ff9500,#ff9600,#ff9600,#ff9600)"></i>
<i style="top:102px;height:2px;background:linear-gradient(90deg,#ff1d00,#ff2300,#ff2a00,#ff3500,#ff4800,#ff5c00,#ff7200,#ff8c00,#ffa700,#ffc100,#ffd800,#ffef00,#faff05,#e6ff19,#d2ff2d,#bcff43,#a5ff5a,#8dff72,#6fff90,#49ffb6,#22ffdd,#00fbff,#00d6ff,#00b2ff,#00a2ff,#00a4ff,#00a7ff,#00beff,#00e3ff,#09fff6,#2fffd0,#5cffa3,#9cff63,#d2ff2d,#fffb00,#ffce00,#ffb900,#ffaf00,#ffa600,#ffa100,#ff9e00,#ff9b00,#ff9a00,#ff9a00,#ff9a00,#ff9b00,#ff9b00,#ff9b00,#ff9b00,#ff9b00,#ff9b00,#ff9e00,#ffa100,#ffa300,#ffa300,#ffa300,#ffa300)"></i>
<i style="top:104px;height:2px;background:linear-gradient(90deg,#ff2f00,#ff3600,#ff3e00,#ff4800,#ff5b00,#ff6e00,#ff8300,#ff9c00,#ffb600,#ffcd00,#ffe200,#fff700,#f4ff0b,#e1ff1e,#cfff30,#bbff44,#a4ff5b,#8dff72,#70ff8f,#4dffb2,#2affd5,#08fff7,#00e6ff,#00c6ff,#00b7ff,#00b8ff,#00baff,#00ccff,#00e9ff,#09fff6,#2dffd2,#5affa5,#96ff69,#c7ff38,#f2ff0d,#ffe300,#ffd000,#ffc700,#ffbe00,#ffba00,#ffb600,#ffb300,#ffb200,#ffb200,#ffb200,#ffb200,#ffb200,#ffb200,#ffb200,#ffb200,#ffb300,#ffb500,#ffb700,#ffb900,#ffb900,#ffb900,#ffb900)"></i>
<i style="top:106px;height:2px;background:linear-gradient(90deg,#ff4200,#ff4a00,#ff5300,#ff5e00,#ff7000,#ff8300,#ff9700,#ffae00,#ffc500,#ffdb00,#ffee00,#fefe01,#edff12,#dcff23,#cbff34,#b9ff46,#a3ff5c,#8cff73,#72ff8d,#53ffac,#34ffcb,#17ffe8,#00faff,#00e0ff,#00d3ff,#00d2ff,#00d2ff,#00ddff,#00f1ff,#07fff8,#2affd5,#59ffa6,#90ff6f,#bbff44,#e1ff1e,#fff900,#ffe900,#ffe100,#ffd900,#ffd400,#ffd100,#ffce00,#ffcd00,#ffcd00,#ffcd00,#ffcd00,#ffcd00,#ffcd00,#ffcd00,#ffcd00,#ffcd00,#ffcf00,#ffd000,#ffd100,#ffd100,#ffd100,#ffd100)"></i>
<i style="top:108px;height:2px;background:linear-gradient(90deg,#ff5600,#ff5f00,#ff6800,#ff7400,#ff8500,#ff9600,#ffa900,#ffbf00,#ffd500,#ffe900,#fff900,#f5ff0a,#e6ff19,#d7ff28,#c8ff37,#b6ff49,#a1ff5e,#8cff73,#74ff8b,#58ffa7,#3dffc2,#24ffdb,#0ffff0,#00f8ff,#00edff,#00ebff,#00e9ff,#00eeff,#00f9ff,#06fff9,#27ffd8,#56ffa9,#89ff76,#afff50,#cfff30,#edff12,#fafe05,#fefa01,#fff300,#ffee00,#ffeb00,#ffe800,#ffe700,#ffe700,#ffe700,#ffe700,#ffe700,#ffe700,#ffe700,#ffe700,#ffe700,#ffe700,#ffe800,#ffe800,#ffe800,#ffe800,#ffe800)"></i>
<i style="top:110px;height:2px;background:linear-gradient(90deg,#ff6c00,#ff7400,#ff7d00,#ff8800,#ff9800,#ffa900,#ffbb00,#ffce00,#ffe300,#fff500,#fbff04,#edff12,#dfff20,#d2ff2d,#c4ff3b,#b4ff4b,#a0ff5f,#8bff74,#75ff8a,#5cffa3,#43ffbc,#2dffd2,#1bffe4,#09fff6,#00fdff,#00faff,#00f7ff,#00f9ff,#00feff,#06fff9,#24ffdb,#50ffaf,#7dff82,#9fff60,#bbff44,#d6ff29,#e4ff1b,#ecff13,#f4ff0b,#f9ff06,#fbfe04,#fdfc02,#fdfc02,#fefc01,#fefc01,#fefc01,#fefc01,#fefc01,#fefb01,#fefb01,#fffb00,#fffb00,#fffa00,#fff900,#fff800,#fff800,#fff700)"></i>
<i style="top:112px;height:2px;background:linear-gradient(90deg,#ff8300,#ff8a00,#ff9200,#ff9c00,#ffab00,#ffba00,#ffca00,#ffdc00,#ffef00,#fefe01,#f1ff0e,#e5ff1a,#d8ff27,#cdff32,#c1ff3e,#b2ff4d,#9fff60,#8bff74,#75ff8a,#5dffa2,#45ffba,#30ffcf,#1effe1,#0dfff2,#03fffc,#00feff,#00fbff,#00fcff,#00ffff,#05fffa,#1fffe0,#45ffba,#6bff94,#8aff75,#a4ff5b,#beff41,#cdff32,#d7ff28,#e1ff1e,#e6ff19,#eaff15,#edff12,#eeff11,#efff10,#f0ff0f,#f1ff0e,#f1ff0e,#f1ff0e,#f2ff0d,#f3ff0c,#f4ff0b,#f6ff09,#f9ff06,#fbff04,#fdff02,#fffe00,#fffd00)"></i>
<i style="top:114px;height:2px;background:linear-gradient(90deg,#ff9b00,#ffa100,#ffa700,#ffb000,#ffbc00,#ffca00,#ffd800,#ffe900,#fffa00,#f5ff0a,#e9ff16,#ddff22,#d1ff2e,#c7ff38,#bdff42,#b0ff4f,#9dff62,#8aff75,#75ff8a,#5dffa2,#45ffba,#30ffcf,#1effe1,#0dfff2,#03fffc,#00ffff,#00fbff,#00fcff,#00ffff,#05fffa,#1affe5,#39ffc6,#58ffa7,#73ff8c,#8dff72,#a6ff59,#b6ff49,#c3ff3c,#cfff30,#d5ff2a,#d8ff27,#dcff23,#deff21,#e0ff1f,#e2ff1d,#e2ff1d,#e2ff1d,#e2ff1d,#e4ff1b,#e6ff19,#e8ff17,#ecff13,#f0ff0f,#f4ff0b,#f8ff07,#fbff04,#feff01)"></i>
<i style="top:116px;height:2px;background:linear-gradient(90deg,#ffb300,#ffb700,#ffbc00,#ffc300,#ffce00,#ffda00,#ffe600,#fff500,#faff05,#ebff14,#e0ff1f,#d5ff2a,#cbff34,#c2ff3d,#baff45,#adff52,#9cff63,#8aff75,#75ff8a,#5dffa2,#45ffba,#30ffcf,#1effe1,#0dfff2,#03fffc,#00ffff,#00fbff,#00fcff,#00ffff,#05fffa,#15ffea,#2dffd2,#45ffba,#5dffa2,#76ff89,#8fff70,#a0ff5f,#b0ff4f,#beff41,#c4ff3b,#c8ff37,#ccff33,#cfff30,#d2ff2d,#d5ff2a,#d5ff2a,#d5ff2a,#d6ff29,#d8ff27,#dbff24,#dfff20,#e4ff1b,#e9ff16,#efff10,#f4ff0b,#faff05,#feff01)"></i>
<i style="top:118px;height:2px;background:linear-gradient(90deg,#ffc700,#ffca00,#ffce00,#ffd300,#ffdd00,#ffe800,#fff300,#fdfe02,#f0ff0f,#e3ff1c,#d9ff26,#ceff31,#c4ff3b,#bdff42,#b5ff4a,#aaff55,#99ff66,#87ff78,#73ff8c,#5bffa4,#44ffbb,#2fffd0,#1effe1,#0dfff2,#03fffc,#00ffff,#00fbff,#00fcff,#00ffff,#04fffb,#11ffee,#23ffdc,#36ffc9,#4cffb3,#64ff9b,#7bff84,#8eff71,#9eff61,#aeff51,#b7ff48,#beff41,#c4ff3b,#c9ff36,#ceff31,#d3ff2c,#d4ff2b,#d5ff2a,#d6ff29,#d9ff26,#ddff22,#e1ff1e,#e8ff17,#efff10,#f6ff09,#fcfd03,#fff900,#fff400)"></i>
<i style="top:120px;height:2px;background:linear-gradient(90deg,#ffd600,#ffd900,#ffdc00,#ffe100,#ffea00,#fff300,#fffd00,#f5ff0a,#e9ff16,#ddff22,#d3ff2c,#c9ff36,#bfff40,#b7ff48,#afff50,#a4ff5b,#93ff6c,#83ff7c,#70ff8f,#58ffa7,#41ffbe,#2dffd2,#1dffe2,#0dfff2,#03fffc,#00ffff,#00fbff,#00fbff,#00feff,#02fffd,#0dfff2,#1cffe3,#2cffd3,#40ffbf,#56ffa9,#6cff93,#7fff80,#90ff6f,#a1ff5e,#afff50,#bbff44,#c7ff38,#d0ff2f,#d9ff26,#e0ff1f,#e3ff1c,#e5ff1a,#e8ff17,#ecff13,#f0ff0f,#f6ff09,#fbfc04,#fff700,#ffee00,#ffe500,#ffdc00,#ffd600)"></i>
<i style="top:122px;height:2px;background:linear-gradient(90deg,#ffe200,#ffe500,#ffe900,#ffed00,#fff500,#fefd01,#f7ff08,#edff12,#e3ff1c,#d8ff27,#ceff31,#c4ff3b,#baff45,#b1ff4e,#a8ff57,#9dff62,#8dff72,#7eff81,#6bff94,#55ffaa,#3effc1,#2bffd4,#1cffe3,#0cfff3,#03fffc,#00ffff,#00fbff,#00fbff,#00fdff,#00ffff,#09fff6,#17ffe8,#25ffda,#37ffc8,#4cffb3,#60ff9f,#73ff8c,#84ff7b,#96ff69,#a9ff56,#bcff43,#cfff30,#ddff22,#eaff15,#f5ff0a,#faff05,#fbfc04,#fdfa02,#fff700,#fff200,#ffec00,#ffe200,#ffd700,#ffcd00,#ffc200,#ffb700,#ffb000)"></i>
<i style="top:124px;height:2px;background:linear-gradient(90deg,#ffee00,#fff100,#fff500,#fff900,#fdfe02,#f6ff09,#eeff11,#e5ff1a,#dcff23,#d3ff2c,#c9ff36,#bfff40,#b4ff4b,#abff54,#a1ff5e,#96ff69,#87ff78,#79ff86,#67ff98,#51ffae,#3cffc3,#2affd5,#1bffe4,#0cfff3,#04fffb,#00ffff,#00fcff,#00fbff,#00fbff,#00fdff,#06fff9,#12ffed,#1effe1,#2fffd0,#42ffbd,#55ffaa,#67ff98,#78ff87,#8aff75,#a3ff5c,#bdff42,#d7ff28,#e9ff16,#faff05,#fff600,#ffee00,#ffe900,#ffe400,#ffde00,#ffd800,#ffd100,#ffc500,#ffb900,#ffad00,#ffa100,#ff9500,#ff8c00)"></i>
<i style="top:126px;height:2px;background:linear-gradient(90deg,#fffb00,#fefd01,#fcff03,#f9ff06,#f2ff0d,#ebff14,#e4ff1b,#ddff22,#d6ff29,#ceff31,#c3ff3c,#b9ff46,#afff50,#a5ff5a,#9bff64,#90ff6f,#82ff7d,#74ff8b,#63ff9c,#4fffb0,#3affc5,#29ffd6,#1bffe4,#0dfff2,#05fffa,#01fffe,#00fdff,#00fcff,#00fbff,#00fcff,#04fffb,#0efff1,#19ffe6,#29ffd6,#3affc5,#4bffb4,#5cffa3,#6dff92,#7fff80,#9aff65,#b9ff46,#d6ff29,#ebff14,#feff01,#ffef00,#ffe700,#ffe000,#ffda00,#ffd300,#ffcd00,#ffc500,#ffb900,#ffac00,#ff9f00,#ff9200,#ff8600,#ff7c00)"></i>
<i style="top:128px;height:2px;background:linear-gradient(90deg,#f7ff08,#f4ff0b,#f1ff0e,#edff12,#e7ff18,#e1ff1e,#dbff24,#d4ff2b,#ceff31,#c7ff38,#bdff42,#b2ff4d,#a8ff57,#9fff60,#95ff6a,#8aff75,#7dff82,#70ff8f,#61ff9e,#4effb1,#3affc5,#2affd5,#1dffe2,#10ffef,#08fff7,#05fffa,#01fffe,#00feff,#00feff,#00fdff,#04fffb,#0efff1,#17ffe8,#25ffda,#35ffca,#45ffba,#54ffab,#64ff9b,#75ff8a,#8fff70,#acff53,#c8ff37,#dbff24,#ecff13,#fafd05,#fff800,#fff100,#ffe900,#ffe300,#ffdd00,#ffd600,#ffca00,#ffbe00,#ffb200,#ffa600,#ff9a00,#ff9100)"></i>
<i style="top:130px;height:2px;background:linear-gradient(90deg,#ebff14,#e8ff17,#e4ff1b,#e1ff1e,#dcff23,#d6ff29,#d1ff2e,#ccff33,#c6ff39,#c0ff3f,#b5ff4a,#abff54,#a1ff5e,#98ff67,#90ff6f,#86ff79,#79ff86,#6dff92,#5fffa0,#4dffb2,#3cffc3,#2dffd2,#21ffde,#15ffea,#0dfff2,#0afff5,#06fff9,#04fffb,#02fffd,#01fffe,#06fff9,#0efff1,#17ffe8,#24ffdb,#32ffcd,#40ffbf,#4effb1,#5cffa3,#6bff94,#81ff7e,#9aff65,#b1ff4e,#c1ff3e,#d0ff2f,#ddff22,#e6ff19,#efff10,#f7ff08,#fafc05,#fcf903,#fff600,#ffec00,#ffe100,#ffd700,#ffcc00,#ffc100,#ffba00)"></i>
<i style="top:132px;height:2px;background:linear-gradient(90deg,#dfff20,#dcff23,#d8ff27,#d5ff2a,#d0ff2f,#ccff33,#c7ff38,#c3ff3c,#beff41,#b8ff47,#aeff51,#a4ff5b,#9aff65,#92ff6d,#8aff75,#81ff7e,#76ff89,#6aff95,#5dffa2,#4dffb2,#3dffc2,#30ffcf,#24ffdb,#19ffe6,#12ffed,#0efff1,#0bfff4,#08fff7,#06fff9,#04fffb,#08fff7,#10ffef,#18ffe7,#23ffdc,#2fffd0,#3bffc4,#48ffb7,#54ffab,#61ff9e,#73ff8c,#87ff78,#9aff65,#a6ff59,#b1ff4e,#bcff43,#c6ff39,#cfff30,#d8ff27,#ddff22,#e1ff1e,#e7ff18,#efff10,#f7fe08,#fbf904,#fff400,#ffeb00,#ffe500)"></i>
<i style="top:134px;height:2px;background:linear-gradient(90deg,#d4ff2b,#d1ff2e,#ceff31,#caff35,#c6ff39,#c3ff3c,#bfff40,#bbff44,#b7ff48,#b1ff4e,#a7ff58,#9dff62,#94ff6b,#8cff73,#85ff7a,#7cff83,#72ff8d,#67ff98,#5bffa4,#4cffb3,#3effc1,#31ffce,#27ffd8,#1cffe3,#16ffe9,#12ffed,#0ffff0,#0cfff3,#09fff6,#07fff8,#0afff5,#11ffee,#19ffe6,#22ffdd,#2dffd2,#38ffc7,#43ffbc,#4effb1,#59ffa6,#67ff98,#77ff88,#85ff7a,#8fff70,#97ff68,#a0ff5f,#a9ff56,#b3ff4c,#bcff43,#c0ff3f,#c4ff3b,#c9ff36,#d0ff2f,#d7ff28,#dfff20,#e6ff19,#eeff11,#f3ff0c)"></i>
<i style="top:136px;height:2px;background:linear-gradient(90deg,#cdff32,#caff35,#c6ff39,#c3ff3c,#bfff40,#bcff43,#b8ff47,#b4ff4b,#b0ff4f,#aaff55,#a0ff5f,#97ff68,#8eff71,#86ff79,#7fff80,#77ff88,#6dff92,#62ff9d,#57ffa8,#4affb5,#3dffc2,#31ffce,#27ffd8,#1effe1,#18ffe7,#15ffea,#12ffed,#10ffef,#0dfff2,#0bfff4,#0efff1,#15ffea,#1cffe3,#24ffdb,#2dffd2,#37ffc8,#40ffbf,#4affb5,#54ffab,#60ff9f,#6dff92,#79ff86,#81ff7e,#87ff78,#8eff71,#97ff68,#a0ff5f,#a9ff56,#adff52,#b1ff4e,#b5ff4a,#bbff44,#c1ff3e,#c7ff38,#ceff31,#d5ff2a,#daff25)"></i>
<i style="top:138px;height:2px;background:linear-gradient(90deg,#c7ff38,#c4ff3b,#c1ff3e,#beff41,#baff45,#b7ff48,#b3ff4c,#aeff51,#a9ff56,#a3ff5c,#9aff65,#91ff6e,#89ff76,#81ff7e,#79ff86,#71ff8e,#67ff98,#5dffa2,#53ffac,#46ffb9,#3affc5,#2fffd0,#26ffd9,#1effe1,#19ffe6,#16ffe9,#15ffea,#13ffec,#11ffee,#0ffff0,#13ffec,#1affe5,#21ffde,#28ffd7,#2fffd0,#37ffc8,#3fffc0,#48ffb7,#51ffae,#5bffa4,#66ff99,#71ff8e,#78ff87,#7eff81,#84ff7b,#8cff73,#94ff6b,#9cff63,#a0ff5f,#a3ff5c,#a7ff58,#acff53,#b2ff4d,#b7ff48,#beff41,#c5ff3a,#caff35)"></i>
<i style="top:140px;height:2px;background:linear-gradient(90deg,#c3ff3c,#c0ff3f,#bcff43,#b9ff46,#b5ff4a,#b2ff4d,#aeff51,#a8ff57,#a2ff5d,#9cff63,#94ff6b,#8cff73,#84ff7b,#7cff83,#73ff8c,#6bff94,#62ff9d,#58ffa7,#4effb1,#43ffbc,#37ffc8,#2dffd2,#25ffda,#1dffe2,#19ffe6,#18ffe7,#17ffe8,#16ffe9,#14ffeb,#14ffeb,#18ffe7,#1effe1,#25ffda,#2bffd4,#31ffce,#37ffc8,#3effc1,#47ffb8,#4fffb0,#58ffa7,#61ff9e,#6aff95,#70ff8f,#76ff89,#7cff83,#82ff7d,#89ff76,#90ff6f,#94ff6b,#97ff68,#9bff64,#9fff60,#a4ff5b,#a9ff56,#b0ff4f,#b7ff48,#bcff43)"></i>
<i style="top:142px;height:2px;background:linear-gradient(90deg,#beff41,#bcff43,#b8ff47,#b5ff4a,#b1ff4e,#aeff51,#a9ff56,#a3ff5c,#9dff62,#96ff69,#8eff71,#87ff78,#7fff80,#77ff88,#6fff90,#66ff99,#5dffa2,#54ffab,#4affb5,#40ffbf,#35ffca,#2cffd3,#24ffdb,#1dffe2,#19ffe6,#19ffe6,#18ffe7,#18ffe7,#18ffe7,#17ffe8,#1cffe3,#23ffdc,#29ffd6,#2fffd0,#33ffcc,#37ffc8,#3effc1,#45ffba,#4dffb2,#54ffab,#5cffa3,#64ff9b,#6aff95,#6fff90,#74ff8b,#7aff85,#80ff7f,#86ff79,#89ff76,#8dff72,#90ff6f,#94ff6b,#98ff67,#9dff62,#a3ff5c,#aaff55,#afff50)"></i>
<i style="top:144px;height:1px;background:linear-gradient(90deg,#bdff42,#baff45,#b6ff49,#b3ff4c,#afff50,#acff53,#a7ff58,#a1ff5e,#9aff65,#93ff6c,#8cff73,#85ff7a,#7dff82,#75ff8a,#6cff93,#64ff9b,#5bffa4,#52ffad,#49ffb6,#3effc1,#34ffcb,#2bffd4,#24ffdb,#1dffe2,#1affe5,#19ffe6,#19ffe6,#19ffe6,#19ffe6,#19ffe6,#1effe1,#24ffdb,#2bffd4,#30ffcf,#34ffcb,#38ffc7,#3effc1,#45ffba,#4cffb3,#53ffac,#5affa5,#61ff9e,#67ff98,#6cff93,#71ff8e,#77ff88,#7cff83,#81ff7e,#85ff7a,#88ff77,#8cff73,#8fff70,#93ff6c,#97ff68,#9eff61,#a5ff5a,#aaff55)"></i>
</div>
<div class="cb" style="left:278.50px;top:698.30px;width:12.00px;height:166.10px;background:linear-gradient(180deg,#000080,#00009f,#0000bf,#0000df,#0000ff,#0020ff,#0040ff,#0060ff,#0080ff,#009fff,#00bfff,#00dfff,#00ffff,#20ffdf,#40ffbf,#60ff9f,#80ff80,#9fff60,#bfff40,#dfff20,#ffff00,#ffdf00,#ffbf00,#ff9f00,#ff8000,#ff6000,#ff4000,#ff2000,#ff0000,#df0000,#bf0000,#9f0000,#800000)"></div>
<div class="f" style="left:397px;top:713px;width:225px;height:145px;clip-path:polygon(0.6px 35.2px,6.5px 35.2px,6.5px 33.2px,12.5px 33.2px,12.5px 31.1px,18.5px 31.1px,18.5px 29.1px,24.5px 29.1px,24.5px 27.0px,30.4px 27.0px,30.4px 24.9px,36.4px 24.9px,36.4px 22.9px,42.4px 22.9px,42.4px 20.8px,48.3px 20.8px,48.3px 18.8px,54.3px 18.8px,54.3px 16.7px,60.3px 16.7px,60.3px 14.6px,66.2px 14.6px,66.2px 12.6px,72.2px 12.6px,72.2px 10.5px,78.2px 10.5px,78.2px 8.5px,84.2px 8.5px,84.2px 6.4px,90.1px 6.4px,90.1px 4.3px,96.1px 4.3px,96.1px 2.3px,102.1px 2.3px,102.1px 0.2px,108.0px 0.2px,108.0px 0.2px,146.8px 0.2px,146.8px 2.3px,187.9px 2.3px,187.9px 4.0px,224.3px 4.0px,224.3px 137.4px,207.3px 137.4px,207.3px 139.5px,182.0px 139.5px,182.0px 142.4px,156.8px 142.4px,156.8px 144.1px,62.8px 144.1px,62.8px 141.2px,39.3px 141.2px,39.3px 139.5px,15.3px 139.5px,15.3px 137.0px,0.6px 137.0px)">
<i style="top:0px;height:2px;background:linear-gradient(90deg,#2fffd0,#2fffd0,#2fffd0,#2fffd0,#2fffd0,#2fffd0,#2fffd0,#2fffd0,#2fffd0,#2fffd0,#2fffd0,#2fffd0,#2fffd0,#2fffd0,#2fffd0,#2fffd0,#2fffd0,#2fffd0,#2fffd0,#2fffd0,#2fffd0,#2effd1,#2effd1,#2effd1,#2effd1,#2effd1,#2effd1,#2fffd0,#2fffd0,#2fffd0,#30ffcf,#32ffcd,#34ffcb,#35ffca,#37ffc8,#39ffc6,#39ffc6,#39ffc6,#3affc5,#3affc5,#3affc5,#3affc5,#3bffc4,#3bffc4,#3bffc4,#3cffc3,#3cffc3,#3dffc2,#3effc1,#40ffbf,#42ffbd,#43ffbc,#45ffba,#46ffb9,#47ffb8,#47ffb8,#48ffb7)"></i>
<i style="top:2px;height:2px;background:linear-gradient(90deg,#30ffcf,#30ffcf,#30ffcf,#30ffcf,#30ffcf,#30ffcf,#30ffcf,#30ffcf,#30ffcf,#30ffcf,#30ffcf,#30ffcf,#30ffcf,#30ffcf,#30ffcf,#30ffcf,#30ffcf,#30ffcf,#30ffcf,#2fffd0,#2fffd0,#2fffd0,#2effd1,#2effd1,#2effd1,#2effd1,#2fffd0,#2fffd0,#2fffd0,#30ffcf,#31ffce,#33ffcc,#34ffcb,#36ffc9,#38ffc7,#3affc5,#3affc5,#3bffc4,#3bffc4,#3bffc4,#3cffc3,#3cffc3,#3dffc2,#3dffc2,#3effc1,#3fffc0,#3fffc0,#40ffbf,#42ffbd,#43ffbc,#45ffba,#47ffb8,#49ffb6,#4affb5,#4bffb4,#4bffb4,#4cffb3)"></i>
<i style="top:4px;height:2px;background:linear-gradient(90deg,#31ffce,#31ffce,#31ffce,#31ffce,#31ffce,#31ffce,#31ffce,#31ffce,#31ffce,#31ffce,#31ffce,#31ffce,#31ffce,#31ffce,#31ffce,#31ffce,#31ffce,#31ffce,#31ffce,#30ffcf,#30ffcf,#2fffd0,#2fffd0,#2effd1,#2effd1,#2fffd0,#2fffd0,#30ffcf,#30ffcf,#31ffce,#32ffcd,#34ffcb,#35ffca,#37ffc8,#39ffc6,#3bffc4,#3bffc4,#3cffc3,#3cffc3,#3dffc2,#3effc1,#3effc1,#3fffc0,#40ffbf,#41ffbe,#42ffbd,#43ffbc,#44ffbb,#46ffb9,#48ffb7,#49ffb6,#4bffb4,#4dffb2,#4effb1,#4fffb0,#50ffaf,#51ffae)"></i>
<i style="top:6px;height:2px;background:linear-gradient(90deg,#32ffcd,#32ffcd,#32ffcd,#32ffcd,#32ffcd,#32ffcd,#32ffcd,#32ffcd,#32ffcd,#32ffcd,#32ffcd,#32ffcd,#32ffcd,#32ffcd,#32ffcd,#32ffcd,#32ffcd,#32ffcd,#32ffcd,#31ffce,#30ffcf,#30ffcf,#2fffd0,#2effd1,#2effd1,#2fffd0,#30ffcf,#30ffcf,#31ffce,#32ffcd,#33ffcc,#35ffca,#37ffc8,#38ffc7,#3affc5,#3cffc3,#3dffc2,#3dffc2,#3effc1,#3fffc0,#3fffc0,#40ffbf,#41ffbe,#43ffbc,#44ffbb,#46ffb9,#47ffb8,#48ffb7,#4affb5,#4cffb3,#4effb1,#4fffb0,#51ffae,#53ffac,#54ffab,#55ffaa,#56ffa9)"></i>
<i style="top:8px;height:2px;background:linear-gradient(90deg,#33ffcc,#33ffcc,#33ffcc,#33ffcc,#33ffcc,#33ffcc,#33ffcc,#33ffcc,#33ffcc,#33ffcc,#33ffcc,#33ffcc,#33ffcc,#33ffcc,#33ffcc,#33ffcc,#33ffcc,#33ffcc,#33ffcc,#32ffcd,#31ffce,#30ffcf,#2fffd0,#2effd1,#2effd1,#2fffd0,#30ffcf,#31ffce,#32ffcd,#33ffcc,#34ffcb,#36ffc9,#38ffc7,#39ffc6,#3bffc4,#3dffc2,#3effc1,#3fffc0,#40ffbf,#40ffbf,#41ffbe,#42ffbd,#44ffbb,#46ffb9,#47ffb8,#49ffb6,#4bffb4,#4dffb2,#4effb1,#50ffaf,#52ffad,#54ffab,#55ffaa,#57ffa8,#59ffa6,#5affa5,#5cffa3)"></i>
<i style="top:10px;height:2px;background:linear-gradient(90deg,#34ffcb,#34ffcb,#34ffcb,#34ffcb,#34ffcb,#34ffcb,#34ffcb,#34ffcb,#34ffcb,#34ffcb,#34ffcb,#34ffcb,#34ffcb,#34ffcb,#34ffcb,#34ffcb,#34ffcb,#34ffcb,#34ffcb,#33ffcc,#32ffcd,#31ffce,#2fffd0,#2effd1,#2effd1,#2fffd0,#31ffce,#32ffcd,#33ffcc,#34ffcb,#35ffca,#37ffc8,#39ffc6,#3affc5,#3cffc3,#3effc1,#3fffc0,#40ffbf,#41ffbe,#42ffbd,#43ffbc,#44ffbb,#46ffb9,#48ffb7,#4bffb4,#4dffb2,#4fffb0,#51ffae,#53ffac,#54ffab,#56ffa9,#58ffa7,#5affa5,#5bffa4,#5dffa2,#5fffa0,#61ff9e)"></i>
<i style="top:12px;height:2px;background:linear-gradient(90deg,#35ffca,#35ffca,#35ffca,#35ffca,#35ffca,#35ffca,#35ffca,#35ffca,#35ffca,#35ffca,#35ffca,#35ffca,#35ffca,#35ffca,#35ffca,#35ffca,#35ffca,#35ffca,#35ffca,#33ffcc,#32ffcd,#31ffce,#30ffcf,#2fffd0,#2fffd0,#30ffcf,#31ffce,#32ffcd,#33ffcc,#35ffca,#36ffc9,#38ffc7,#3affc5,#3bffc4,#3dffc2,#3fffc0,#40ffbf,#41ffbe,#43ffbc,#44ffbb,#45ffba,#47ffb8,#49ffb6,#4bffb4,#4effb1,#50ffaf,#53ffac,#55ffaa,#57ffa8,#59ffa6,#5affa5,#5cffa3,#5effa1,#60ff9f,#62ff9d,#65ff9a,#66ff99)"></i>
<i style="top:14px;height:2px;background:linear-gradient(90deg,#36ffc9,#36ffc9,#36ffc9,#36ffc9,#36ffc9,#36ffc9,#36ffc9,#36ffc9,#36ffc9,#36ffc9,#36ffc9,#36ffc9,#36ffc9,#36ffc9,#36ffc9,#36ffc9,#36ffc9,#36ffc9,#36ffc9,#34ffcb,#33ffcc,#31ffce,#30ffcf,#2fffd0,#2fffd0,#30ffcf,#31ffce,#33ffcc,#34ffcb,#36ffc9,#37ffc8,#39ffc6,#3bffc4,#3cffc3,#3effc1,#40ffbf,#41ffbe,#43ffbc,#44ffbb,#46ffb9,#47ffb8,#49ffb6,#4bffb4,#4effb1,#51ffae,#54ffab,#57ffa8,#59ffa6,#5bffa4,#5dffa2,#5fffa0,#60ff9f,#62ff9d,#64ff9b,#67ff98,#6aff95,#6cff93)"></i>
<i style="top:16px;height:2px;background:linear-gradient(90deg,#38ffc7,#38ffc7,#38ffc7,#38ffc7,#37ffc8,#37ffc8,#37ffc8,#37ffc8,#37ffc8,#37ffc8,#37ffc8,#37ffc8,#37ffc8,#37ffc8,#37ffc8,#37ffc8,#37ffc8,#37ffc8,#37ffc8,#35ffca,#33ffcc,#32ffcd,#30ffcf,#2fffd0,#2fffd0,#30ffcf,#32ffcd,#33ffcc,#35ffca,#37ffc8,#38ffc7,#3affc5,#3cffc3,#3effc1,#3fffc0,#41ffbe,#43ffbc,#44ffbb,#46ffb9,#48ffb7,#49ffb6,#4bffb4,#4effb1,#51ffae,#54ffab,#57ffa8,#5bffa4,#5effa1,#60ff9f,#61ff9e,#63ff9c,#65ff9a,#67ff98,#69ff96,#6cff93,#6fff90,#71ff8e)"></i>
<i style="top:18px;height:2px;background:linear-gradient(90deg,#3affc5,#3affc5,#3affc5,#3affc5,#3affc5,#3affc5,#39ffc6,#39ffc6,#39ffc6,#39ffc6,#39ffc6,#39ffc6,#38ffc7,#38ffc7,#38ffc7,#38ffc7,#38ffc7,#38ffc7,#37ffc8,#36ffc9,#34ffcb,#32ffcd,#30ffcf,#2fffd0,#2fffd0,#30ffcf,#31ffce,#33ffcc,#35ffca,#37ffc8,#39ffc6,#3bffc4,#3dffc2,#3fffc0,#41ffbe,#43ffbc,#45ffba,#47ffb8,#49ffb6,#4bffb4,#4dffb2,#4fffb0,#52ffad,#55ffaa,#59ffa6,#5cffa3,#60ff9f,#63ff9c,#65ff9a,#67ff98,#69ff96,#6aff95,#6cff93,#6eff91,#72ff8d,#75ff8a,#77ff88)"></i>
<i style="top:20px;height:2px;background:linear-gradient(90deg,#40ffbf,#3fffc0,#3fffc0,#3effc1,#3effc1,#3dffc2,#3dffc2,#3cffc3,#3cffc3,#3bffc4,#3bffc4,#3affc5,#3affc5,#39ffc6,#39ffc6,#39ffc6,#39ffc6,#38ffc7,#37ffc8,#36ffc9,#34ffcb,#32ffcd,#31ffce,#2fffd0,#2effd1,#2fffd0,#30ffcf,#32ffcd,#34ffcb,#36ffc9,#38ffc7,#3bffc4,#3effc1,#41ffbe,#43ffbc,#46ffb9,#49ffb6,#4bffb4,#4dffb2,#4fffb0,#52ffad,#54ffab,#57ffa8,#5bffa4,#5fffa0,#62ff9d,#66ff99,#6aff95,#6cff93,#6eff91,#70ff8f,#72ff8d,#74ff8b,#76ff89,#79ff86,#7cff83,#7eff81)"></i>
<i style="top:22px;height:2px;background:linear-gradient(90deg,#46ffb9,#45ffba,#44ffbb,#43ffbc,#42ffbd,#41ffbe,#40ffbf,#3fffc0,#3effc1,#3dffc2,#3cffc3,#3cffc3,#3bffc4,#3affc5,#3affc5,#39ffc6,#39ffc6,#38ffc7,#37ffc8,#36ffc9,#34ffcb,#32ffcd,#31ffce,#2fffd0,#2effd1,#2effd1,#2fffd0,#30ffcf,#32ffcd,#35ffca,#38ffc7,#3bffc4,#3fffc0,#42ffbd,#46ffb9,#49ffb6,#4cffb3,#4fffb0,#52ffad,#54ffab,#57ffa8,#5affa5,#5effa1,#61ff9e,#65ff9a,#69ff96,#6dff92,#71ff8e,#73ff8c,#76ff89,#78ff87,#7aff85,#7cff83,#7eff81,#81ff7e,#84ff7b,#85ff7a)"></i>
<i style="top:24px;height:2px;background:linear-gradient(90deg,#4cffb3,#4affb5,#49ffb6,#48ffb7,#46ffb9,#45ffba,#44ffbb,#42ffbd,#41ffbe,#40ffbf,#3effc1,#3dffc2,#3cffc3,#3bffc4,#3bffc4,#3affc5,#39ffc6,#39ffc6,#37ffc8,#36ffc9,#34ffcb,#32ffcd,#31ffce,#2fffd0,#2effd1,#2dffd2,#2dffd2,#2effd1,#31ffce,#33ffcc,#37ffc8,#3bffc4,#40ffbf,#44ffbb,#49ffb6,#4dffb2,#50ffaf,#53ffac,#57ffa8,#5affa5,#5dffa2,#60ff9f,#64ff9b,#68ff97,#6cff93,#70ff8f,#74ff8b,#78ff87,#7bff84,#7dff82,#80ff7f,#82ff7d,#85ff7a,#87ff78,#89ff76,#8bff74,#8dff72)"></i>
<i style="top:26px;height:2px;background:linear-gradient(90deg,#52ffad,#50ffaf,#4effb1,#4dffb2,#4bffb4,#49ffb6,#47ffb8,#46ffb9,#44ffbb,#42ffbd,#40ffbf,#3fffc0,#3dffc2,#3cffc3,#3bffc4,#3affc5,#3affc5,#39ffc6,#37ffc8,#36ffc9,#34ffcb,#32ffcd,#31ffce,#2fffd0,#2dffd2,#2dffd2,#2cffd3,#2dffd2,#2fffd0,#32ffcd,#36ffc9,#3bffc4,#41ffbe,#46ffb9,#4bffb4,#50ffaf,#54ffab,#58ffa7,#5bffa4,#5fffa0,#62ff9d,#66ff99,#6aff95,#6eff91,#73ff8c,#77ff88,#7cff83,#80ff7f,#82ff7d,#85ff7a,#88ff77,#8aff75,#8dff72,#8fff70,#91ff6e,#93ff6c,#94ff6b)"></i>
<i style="top:28px;height:2px;background:linear-gradient(90deg,#58ffa7,#56ffa9,#54ffab,#52ffad,#4fffb0,#4dffb2,#4bffb4,#49ffb6,#47ffb8,#44ffbb,#42ffbd,#40ffbf,#3effc1,#3dffc2,#3cffc3,#3bffc4,#3affc5,#39ffc6,#37ffc8,#36ffc9,#34ffcb,#32ffcd,#31ffce,#2fffd0,#2dffd2,#2cffd3,#2affd5,#2bffd4,#2effd1,#31ffce,#36ffc9,#3cffc3,#42ffbd,#48ffb7,#4effb1,#54ffab,#58ffa7,#5cffa3,#60ff9f,#64ff9b,#68ff97,#6cff93,#70ff8f,#75ff8a,#7aff85,#7eff81,#83ff7c,#87ff78,#8aff75,#8dff72,#90ff6f,#93ff6c,#95ff6a,#98ff67,#99ff66,#9bff64,#9cff63)"></i>
<i style="top:30px;height:2px;background:linear-gradient(90deg,#5effa1,#5cffa3,#59ffa6,#56ffa9,#54ffab,#51ffae,#4fffb0,#4cffb3,#49ffb6,#47ffb8,#44ffbb,#42ffbd,#3fffc0,#3effc1,#3dffc2,#3cffc3,#3affc5,#39ffc6,#37ffc8,#36ffc9,#34ffcb,#32ffcd,#31ffce,#2fffd0,#2dffd2,#2bffd4,#29ffd6,#29ffd6,#2cffd3,#2fffd0,#35ffca,#3cffc3,#43ffbc,#4affb5,#50ffaf,#57ffa8,#5cffa3,#61ff9e,#65ff9a,#69ff96,#6eff91,#72ff8d,#77ff88,#7bff84,#80ff7f,#85ff7a,#8aff75,#8eff71,#92ff6d,#95ff6a,#98ff67,#9bff64,#9eff61,#a0ff5f,#a1ff5e,#a2ff5d,#a3ff5c)"></i>
<i style="top:32px;height:2px;background:linear-gradient(90deg,#64ff9b,#61ff9e,#5effa1,#5bffa4,#58ffa7,#55ffaa,#52ffad,#4fffb0,#4cffb3,#49ffb6,#46ffb9,#43ffbc,#41ffbe,#3fffc0,#3effc1,#3cffc3,#3bffc4,#39ffc6,#37ffc8,#36ffc9,#34ffcb,#32ffcd,#30ffcf,#2fffd0,#2cffd3,#2affd5,#27ffd8,#28ffd7,#2bffd4,#2effd1,#34ffcb,#3cffc3,#44ffbb,#4bffb4,#53ffac,#5bffa4,#61ff9e,#65ff9a,#6aff95,#6fff90,#73ff8c,#78ff87,#7dff82,#82ff7d,#87ff78,#8cff73,#91ff6e,#96ff69,#99ff66,#9cff63,#a0ff5f,#a3ff5c,#a6ff59,#a9ff56,#a9ff56,#aaff55,#aaff55)"></i>
<i style="top:34px;height:2px;background:linear-gradient(90deg,#6bff94,#68ff97,#64ff9b,#61ff9e,#5dffa2,#5affa5,#56ffa9,#53ffac,#4fffb0,#4cffb3,#49ffb6,#45ffba,#42ffbd,#40ffbf,#3effc1,#3dffc2,#3bffc4,#39ffc6,#37ffc8,#35ffca,#34ffcb,#32ffcd,#30ffcf,#2effd1,#2cffd3,#28ffd7,#25ffda,#26ffd9,#29ffd6,#2dffd2,#34ffcb,#3cffc3,#45ffba,#4effb1,#57ffa8,#60ff9f,#66ff99,#6bff94,#70ff8f,#75ff8a,#7bff84,#80ff7f,#85ff7a,#8aff75,#8fff70,#94ff6b,#99ff66,#9eff61,#a2ff5d,#a5ff5a,#a8ff57,#acff53,#afff50,#b2ff4d,#b2ff4d,#b2ff4d,#b2ff4d)"></i>
<i style="top:36px;height:2px;background:linear-gradient(90deg,#72ff8d,#6fff90,#6bff94,#67ff98,#63ff9c,#5fffa0,#5bffa4,#57ffa8,#53ffac,#4fffb0,#4bffb4,#47ffb8,#44ffbb,#42ffbd,#3fffc0,#3dffc2,#3bffc4,#38ffc7,#36ffc9,#34ffcb,#32ffcd,#30ffcf,#2fffd0,#2dffd2,#2affd5,#26ffd9,#22ffdd,#23ffdc,#27ffd8,#2bffd4,#33ffcc,#3effc1,#48ffb7,#52ffad,#5dffa2,#67ff98,#6eff91,#74ff8b,#79ff86,#7fff80,#84ff7b,#8aff75,#8fff70,#94ff6b,#99ff66,#9eff61,#a3ff5c,#a8ff57,#abff54,#afff50,#b2ff4d,#b5ff4a,#b8ff47,#bbff44,#bbff44,#bbff44,#bbff44)"></i>
<i style="top:38px;height:2px;background:linear-gradient(90deg,#7bff84,#77ff88,#72ff8d,#6dff92,#69ff96,#64ff9b,#5fffa0,#5bffa4,#57ffa8,#53ffac,#4effb1,#4affb5,#46ffb9,#43ffbc,#40ffbf,#3dffc2,#3bffc4,#38ffc7,#35ffca,#33ffcc,#31ffce,#2fffd0,#2dffd2,#2affd5,#27ffd8,#23ffdc,#1fffe0,#20ffdf,#25ffda,#2affd5,#33ffcc,#3fffc0,#4cffb3,#58ffa7,#64ff9b,#70ff8f,#78ff87,#7eff81,#84ff7b,#8aff75,#90ff6f,#96ff69,#9bff64,#a0ff5f,#a4ff5b,#a9ff56,#aeff51,#b3ff4c,#b6ff49,#b9ff46,#bcff43,#bfff40,#c2ff3d,#c5ff3a,#c5ff3a,#c5ff3a,#c5ff3a)"></i>
<i style="top:40px;height:2px;background:linear-gradient(90deg,#83ff7c,#7fff80,#79ff86,#74ff8b,#6fff90,#69ff96,#64ff9b,#60ff9f,#5bffa4,#56ffa9,#52ffad,#4dffb2,#49ffb6,#45ffba,#41ffbe,#3effc1,#3affc5,#37ffc8,#34ffcb,#31ffce,#2fffd0,#2dffd2,#2affd5,#28ffd7,#25ffda,#20ffdf,#1bffe4,#1dffe2,#22ffdd,#28ffd7,#33ffcc,#41ffbe,#4fffb0,#5dffa2,#6bff94,#79ff86,#82ff7d,#88ff77,#8fff70,#95ff6a,#9cff63,#a2ff5d,#a7ff58,#abff54,#b0ff4f,#b5ff4a,#b9ff46,#beff41,#c1ff3e,#c4ff3b,#c6ff39,#c9ff36,#ccff33,#ceff31,#cfff30,#cfff30,#cfff30)"></i>
<i style="top:42px;height:2px;background:linear-gradient(90deg,#8cff73,#87ff78,#81ff7e,#7bff84,#75ff8a,#6fff90,#69ff96,#64ff9b,#5fffa0,#5affa5,#55ffaa,#50ffaf,#4bffb4,#47ffb8,#42ffbd,#3effc1,#3affc5,#36ffc9,#32ffcd,#30ffcf,#2dffd2,#2bffd4,#28ffd7,#26ffd9,#22ffdd,#1dffe2,#18ffe7,#19ffe6,#20ffdf,#27ffd8,#33ffcc,#43ffbc,#53ffac,#63ff9c,#73ff8c,#82ff7d,#8cff73,#93ff6c,#9aff65,#a0ff5f,#a7ff58,#aeff51,#b3ff4c,#b7ff48,#bcff43,#c0ff3f,#c4ff3b,#c9ff36,#cbff34,#ceff31,#d1ff2e,#d3ff2c,#d6ff29,#d8ff27,#d8ff27,#d8ff27,#d8ff27)"></i>
<i style="top:44px;height:2px;background:linear-gradient(90deg,#94ff6b,#8eff71,#88ff77,#81ff7e,#7bff84,#74ff8b,#6eff91,#68ff97,#63ff9c,#5dffa2,#58ffa7,#52ffad,#4dffb2,#48ffb7,#44ffbb,#3fffc0,#3affc5,#35ffca,#31ffce,#2effd1,#2cffd3,#29ffd6,#26ffd9,#23ffdc,#1fffe0,#1affe5,#15ffea,#16ffe9,#1effe1,#25ffda,#33ffcc,#45ffba,#57ffa8,#68ff97,#7aff85,#8cff73,#96ff69,#9dff62,#a5ff5a,#acff53,#b3ff4c,#baff45,#bfff40,#c3ff3c,#c7ff38,#cbff34,#d0ff2f,#d4ff2b,#d6ff29,#d9ff26,#dbff24,#deff21,#e0ff1f,#e2ff1d,#e2ff1d,#e2ff1d,#e2ff1d)"></i>
<i style="top:46px;height:2px;background:linear-gradient(90deg,#9cff63,#96ff69,#8fff70,#88ff77,#81ff7e,#7aff85,#73ff8c,#6dff92,#67ff98,#61ff9e,#5bffa4,#55ffaa,#4fffb0,#4affb5,#45ffba,#3fffc0,#3affc5,#34ffcb,#30ffcf,#2dffd2,#2affd5,#27ffd8,#24ffdb,#21ffde,#1dffe2,#17ffe8,#11ffee,#13ffec,#1bffe4,#24ffdb,#33ffcc,#47ffb8,#5affa5,#6eff91,#82ff7d,#95ff6a,#a0ff5f,#a8ff57,#afff50,#b7ff48,#bfff40,#c6ff39,#cbff34,#cfff30,#d3ff2c,#d7ff28,#dbff24,#dfff20,#e1ff1e,#e3ff1c,#e6ff19,#e8ff17,#eaff15,#ecff13,#ecff13,#ecff13,#ecff13)"></i>
<i style="top:48px;height:2px;background:linear-gradient(90deg,#a5ff5a,#9eff61,#97ff68,#8fff70,#87ff78,#7fff80,#78ff87,#71ff8e,#6bff94,#65ff9a,#5effa1,#58ffa7,#52ffad,#4cffb3,#46ffb9,#40ffbf,#3affc5,#34ffcb,#2fffd0,#2bffd4,#28ffd7,#25ffda,#22ffdd,#1fffe0,#1affe5,#14ffeb,#0efff1,#10ffef,#19ffe6,#22ffdd,#33ffcc,#48ffb7,#5effa1,#74ff8b,#89ff76,#9eff61,#aaff55,#b2ff4d,#baff45,#c2ff3d,#cbff34,#d2ff2d,#d7ff28,#dbff24,#deff21,#e2ff1d,#e6ff19,#eaff15,#ecff13,#eeff11,#f0ff0f,#f2ff0d,#f4ff0b,#f6ff09,#f6ff09,#f6ff09,#f6ff09)"></i>
<i style="top:50px;height:2px;background:linear-gradient(90deg,#afff50,#a7ff58,#9fff60,#97ff68,#8eff71,#86ff79,#7eff81,#77ff88,#70ff8f,#69ff96,#62ff9d,#5bffa4,#55ffaa,#4effb1,#47ffb8,#41ffbe,#3affc5,#34ffcb,#2effd1,#2bffd4,#27ffd8,#23ffdc,#20ffdf,#1cffe3,#17ffe8,#11ffee,#0afff5,#0dfff2,#17ffe8,#21ffde,#33ffcc,#4affb5,#62ff9d,#79ff86,#91ff6e,#a7ff58,#b4ff4b,#bdff42,#c5ff3a,#ceff31,#d6ff29,#deff21,#e3ff1c,#e6ff19,#eaff15,#edff12,#f1ff0e,#f4ff0b,#f6ff09,#f8ff07,#faff05,#fcff03,#fdfe02,#fefe01,#fefe01,#fefe01,#fefe01)"></i>
<i style="top:52px;height:2px;background:linear-gradient(90deg,#bcff43,#b4ff4b,#abff54,#a1ff5e,#98ff67,#8fff70,#86ff79,#7fff80,#77ff88,#70ff8f,#68ff97,#61ff9e,#5affa5,#52ffad,#4bffb4,#44ffbb,#3dffc2,#36ffc9,#30ffcf,#2bffd4,#27ffd8,#23ffdc,#1fffe0,#1affe5,#15ffea,#0efff1,#07fff8,#0afff5,#15ffea,#20ffdf,#34ffcb,#4dffb2,#66ff99,#7fff80,#98ff67,#b1ff4e,#beff41,#c7ff38,#d0ff2f,#d8ff27,#e1ff1e,#e9ff16,#eeff11,#f1ff0e,#f5ff0a,#f8ff07,#fcff03,#fefe01,#fffd00,#fffc00,#fffb00,#fff900,#fff800,#fff600,#fff700,#fff700,#fff800)"></i>
<i style="top:54px;height:2px;background:linear-gradient(90deg,#ccff33,#c3ff3c,#b9ff46,#afff50,#a5ff5a,#9bff64,#92ff6d,#89ff76,#81ff7e,#79ff86,#71ff8e,#68ff97,#60ff9f,#59ffa6,#51ffae,#49ffb6,#42ffbd,#3affc5,#34ffcb,#2effd1,#29ffd6,#23ffdc,#1effe1,#18ffe7,#12ffed,#0bfff4,#05fffa,#08fff7,#14ffeb,#20ffdf,#34ffcb,#4fffb0,#6aff95,#85ff7a,#a0ff5f,#baff45,#c8ff37,#d1ff2e,#d9ff26,#e2ff1d,#ebff14,#f3ff0c,#f8ff07,#fbff04,#fefe01,#fffc00,#fff900,#fff500,#fff400,#fff300,#fff200,#fff100,#fff000,#ffef00,#fff000,#fff100,#fff200)"></i>
<i style="top:56px;height:2px;background:linear-gradient(90deg,#ddff22,#d3ff2c,#c9ff36,#beff41,#b3ff4c,#a8ff57,#9eff61,#95ff6a,#8cff73,#82ff7d,#79ff86,#70ff8f,#68ff97,#5fffa0,#57ffa8,#4fffb0,#47ffb8,#3fffc0,#38ffc7,#31ffce,#2bffd4,#24ffdb,#1dffe2,#17ffe8,#10ffef,#09fff6,#02fffd,#06fff9,#12ffed,#20ffdf,#36ffc9,#52ffad,#6fff90,#8bff74,#a8ff57,#c3ff3c,#d2ff2d,#dbff24,#e3ff1c,#ecff13,#f5ff0a,#fdff02,#fffd00,#fff900,#fff600,#fff200,#ffef00,#ffec00,#ffeb00,#ffea00,#ffe900,#ffe900,#ffe800,#ffe800,#ffea00,#ffec00,#ffed00)"></i>
<i style="top:58px;height:2px;background:linear-gradient(90deg,#eeff11,#e4ff1b,#d9ff26,#cdff32,#c2ff3d,#b6ff49,#abff54,#a1ff5e,#97ff68,#8dff72,#83ff7c,#79ff86,#6fff90,#67ff98,#5effa1,#56ffa9,#4dffb2,#45ffba,#3dffc2,#35ffca,#2dffd2,#25ffda,#1effe1,#16ffe9,#0efff1,#08fff7,#01fffe,#05fffa,#12ffed,#20ffdf,#38ffc7,#56ffa9,#74ff8b,#92ff6d,#b0ff4f,#cdff32,#dcff23,#e4ff1b,#edff12,#f6ff09,#fdfe02,#fff700,#fff300,#fff000,#ffec00,#ffe900,#ffe600,#ffe300,#ffe200,#ffe200,#ffe200,#ffe100,#ffe100,#ffe200,#ffe400,#ffe700,#ffe900)"></i>
<i style="top:60px;height:2px;background:linear-gradient(90deg,#fefb01,#f8ff07,#ecff13,#e0ff1f,#d3ff2c,#c7ff38,#bbff44,#b0ff4f,#a5ff5a,#9aff65,#8fff70,#84ff7b,#7aff85,#70ff8f,#67ff98,#5effa1,#55ffaa,#4bffb4,#42ffbd,#3affc5,#31ffce,#29ffd6,#20ffdf,#18ffe7,#10ffef,#0afff5,#04fffb,#09fff6,#17ffe8,#25ffda,#3effc1,#5cffa3,#7bff84,#9aff65,#b9ff46,#d7ff28,#e6ff19,#efff10,#f7ff08,#fefd01,#fff600,#ffee00,#ffea00,#ffe700,#ffe400,#ffe100,#ffde00,#ffdc00,#ffdc00,#ffdc00,#ffdd00,#ffdd00,#ffdd00,#ffdf00,#ffe200,#ffe500,#ffe700)"></i>
<i style="top:62px;height:2px;background:linear-gradient(90deg,#ffe400,#ffef00,#fefa01,#f6ff09,#e9ff16,#dcff23,#d0ff2f,#c3ff3c,#b7ff48,#abff54,#9fff60,#93ff6c,#87ff78,#7dff82,#72ff8d,#68ff97,#5dffa2,#53ffac,#49ffb6,#41ffbe,#38ffc7,#2fffd0,#27ffd8,#1effe1,#17ffe8,#11ffee,#0cfff3,#11ffee,#20ffdf,#2fffd0,#48ffb7,#67ff98,#86ff79,#a6ff59,#c5ff3a,#e3ff1c,#f2ff0d,#faff05,#fffc00,#fff400,#ffeb00,#ffe400,#ffe100,#ffdf00,#ffdd00,#ffdc00,#ffda00,#ffd800,#ffd900,#ffda00,#ffdb00,#ffdd00,#ffde00,#ffdf00,#ffe300,#ffe600,#ffe900)"></i>
<i style="top:64px;height:2px;background:linear-gradient(90deg,#ffcc00,#ffd700,#ffe400,#fff100,#fcfc03,#f2ff0d,#e5ff1a,#d8ff27,#caff35,#bdff42,#b0ff4f,#a2ff5d,#95ff6a,#8aff75,#7eff81,#72ff8d,#67ff98,#5bffa4,#51ffae,#48ffb7,#3fffc0,#36ffc9,#2effd1,#25ffda,#1effe1,#19ffe6,#15ffea,#1bffe4,#2bffd4,#3bffc4,#54ffab,#73ff8c,#93ff6c,#b2ff4d,#d1ff2e,#efff10,#fdfe02,#fff800,#fff100,#ffe900,#ffe100,#ffda00,#ffd800,#ffd800,#ffd700,#ffd700,#ffd600,#ffd600,#ffd700,#ffd900,#ffdb00,#ffdd00,#ffdf00,#ffe200,#ffe500,#ffe800,#ffeb00)"></i>
<i style="top:66px;height:2px;background:linear-gradient(90deg,#ffb500,#ffc000,#ffce00,#ffdb00,#ffe900,#fff600,#faff05,#ecff13,#ddff22,#ceff31,#c0ff3f,#b1ff4e,#a3ff5c,#96ff69,#8aff75,#7dff82,#70ff8f,#63ff9c,#58ffa7,#4fffb0,#46ffb9,#3effc1,#35ffca,#2cffd3,#26ffd9,#22ffdd,#1effe1,#25ffda,#36ffc9,#47ffb8,#60ff9f,#7fff80,#9eff61,#beff41,#ddff22,#fbff04,#fff500,#ffed00,#ffe600,#ffdf00,#ffd700,#ffd100,#ffd000,#ffd000,#ffd100,#ffd200,#ffd200,#ffd300,#ffd600,#ffd900,#ffdb00,#ffde00,#ffe100,#ffe400,#ffe700,#ffeb00,#ffed00)"></i>
<i style="top:68px;height:2px;background:linear-gradient(90deg,#ffa200,#ffae00,#ffbc00,#ffca00,#ffd700,#ffe500,#fff300,#fbff04,#ecff13,#ddff22,#cdff32,#beff41,#afff50,#a1ff5e,#93ff6c,#85ff7a,#77ff88,#6aff95,#5effa1,#55ffaa,#4dffb2,#44ffbb,#3cffc3,#34ffcb,#2effd1,#2bffd4,#28ffd7,#30ffcf,#40ffbf,#51ffae,#6aff95,#89ff76,#a9ff56,#c8ff37,#e7ff18,#fff900,#ffeb00,#ffe400,#ffdd00,#ffd600,#ffcf00,#ffc800,#ffc800,#ffca00,#ffcb00,#ffcd00,#ffce00,#ffd000,#ffd300,#ffd700,#ffda00,#ffde00,#ffe100,#ffe400,#ffe800,#ffeb00,#ffee00)"></i>
<i style="top:70px;height:2px;background:linear-gradient(90deg,#ff9800,#ffa300,#ffb100,#ffbf00,#ffcd00,#ffdb00,#ffe900,#fff900,#f5ff0a,#e5ff1a,#d6ff29,#c6ff39,#b6ff49,#a8ff57,#99ff66,#8bff74,#7dff82,#6eff91,#63ff9c,#5affa5,#52ffad,#4bffb4,#43ffbc,#3bffc4,#36ffc9,#34ffcb,#32ffcd,#3affc5,#4affb5,#5affa5,#73ff8c,#91ff6e,#b0ff4f,#cfff30,#edff12,#fff300,#ffe500,#ffdd00,#ffd600,#ffcf00,#ffc800,#ffc100,#ffc200,#ffc400,#ffc600,#ffc800,#ffca00,#ffcd00,#ffd000,#ffd400,#ffd800,#ffdc00,#ffdf00,#ffe300,#ffe600,#ffea00,#ffec00)"></i>
<i style="top:72px;height:2px;background:linear-gradient(90deg,#ff9000,#ff9c00,#ffaa00,#ffb700,#ffc500,#ffd300,#ffe200,#fff100,#fcff03,#ecff13,#dcff23,#ccff33,#bdff42,#aeff51,#9fff60,#90ff6f,#81ff7e,#72ff8d,#67ff98,#5fffa0,#58ffa7,#50ffaf,#49ffb6,#42ffbd,#3effc1,#3dffc2,#3dffc2,#44ffbb,#53ffac,#62ff9d,#7aff85,#98ff67,#b6ff49,#d5ff2a,#f3ff0c,#ffee00,#ffdf00,#ffd800,#ffd100,#ffc900,#ffc200,#ffbb00,#ffbc00,#ffbe00,#ffc100,#ffc400,#ffc600,#ffc900,#ffcd00,#ffd100,#ffd500,#ffd900,#ffdd00,#ffe100,#ffe400,#ffe800,#ffea00)"></i>
<i style="top:74px;height:2px;background:linear-gradient(90deg,#ff8900,#ff9400,#ffa200,#ffb000,#ffbe00,#ffcc00,#ffda00,#ffea00,#fffb00,#f3ff0c,#e3ff1c,#d3ff2c,#c3ff3c,#b3ff4c,#a4ff5b,#95ff6a,#86ff79,#76ff89,#6bff94,#64ff9b,#5dffa2,#56ffa9,#4fffb0,#49ffb6,#46ffb9,#46ffb9,#47ffb8,#4effb1,#5cffa3,#6aff95,#81ff7e,#9fff60,#bdff42,#dbff24,#f8ff07,#ffe900,#ffda00,#ffd300,#ffcb00,#ffc400,#ffbc00,#ffb500,#ffb600,#ffb900,#ffbc00,#ffbf00,#ffc200,#ffc600,#ffca00,#ffce00,#ffd200,#ffd600,#ffda00,#ffde00,#ffe200,#ffe500,#ffe800)"></i>
<i style="top:76px;height:2px;background:linear-gradient(90deg,#ff8100,#ff8d00,#ff9b00,#ffa900,#ffb700,#ffc500,#ffd300,#ffe300,#fff400,#faff05,#e9ff16,#d9ff26,#c9ff36,#b9ff46,#a9ff56,#9aff65,#8aff75,#7aff85,#6eff91,#68ff97,#62ff9d,#5cffa3,#56ffa9,#50ffaf,#4effb1,#4fffb0,#51ffae,#59ffa6,#65ff9a,#71ff8e,#88ff77,#a5ff5a,#c3ff3c,#e0ff1f,#feff01,#ffe400,#ffd500,#ffcd00,#ffc600,#ffbe00,#ffb600,#ffaf00,#ffb000,#ffb400,#ffb700,#ffbb00,#ffbe00,#ffc200,#ffc600,#ffca00,#ffcf00,#ffd300,#ffd700,#ffdc00,#ffdf00,#ffe300,#ffe500)"></i>
<i style="top:78px;height:2px;background:linear-gradient(90deg,#ff7a00,#ff8600,#ff9300,#ffa100,#ffaf00,#ffbd00,#ffcc00,#ffdc00,#ffed00,#fffd00,#f0ff0f,#dfff20,#cfff30,#beff41,#aeff51,#9eff61,#8eff71,#7eff81,#72ff8d,#6dff92,#67ff98,#62ff9d,#5cffa3,#57ffa8,#56ffa9,#59ffa6,#5cffa3,#63ff9c,#6eff91,#79ff86,#8fff70,#acff53,#c9ff36,#e6ff19,#fffb00,#ffdf00,#ffd000,#ffc800,#ffc000,#ffb800,#ffb000,#ffa900,#ffab00,#ffae00,#ffb200,#ffb600,#ffba00,#ffbe00,#ffc300,#ffc700,#ffcc00,#ffd000,#ffd500,#ffd900,#ffdd00,#ffe000,#ffe300)"></i>
<i style="top:80px;height:2px;background:linear-gradient(90deg,#ff7300,#ff7e00,#ff8c00,#ff9a00,#ffa800,#ffb600,#ffc400,#ffd500,#ffe600,#fff700,#f6ff09,#e5ff1a,#d5ff2a,#c4ff3b,#b4ff4b,#a3ff5c,#93ff6c,#82ff7d,#76ff89,#71ff8e,#6cff93,#67ff98,#63ff9c,#5effa1,#5effa1,#62ff9d,#66ff99,#6dff92,#77ff88,#81ff7e,#96ff69,#b3ff4c,#cfff30,#ecff13,#fff500,#ffda00,#ffcb00,#ffc300,#ffbb00,#ffb300,#ffaa00,#ffa300,#ffa500,#ffa900,#ffad00,#ffb200,#ffb600,#ffba00,#ffbf00,#ffc400,#ffc900,#ffcd00,#ffd200,#ffd700,#ffda00,#ffde00,#ffe000)"></i>
<i style="top:82px;height:2px;background:linear-gradient(90deg,#ff6c00,#ff7700,#ff8500,#ff9300,#ffa100,#ffaf00,#ffbd00,#ffce00,#ffdf00,#fff000,#fcff03,#ebff14,#daff25,#c9ff36,#b9ff46,#a8ff57,#97ff68,#86ff79,#7aff85,#76ff89,#71ff8e,#6dff92,#69ff96,#65ff9a,#66ff99,#6bff94,#70ff8f,#78ff87,#80ff7f,#89ff76,#9dff62,#b9ff46,#d5ff2a,#f2ff0d,#fff000,#ffd500,#ffc600,#ffbe00,#ffb600,#ffad00,#ffa500,#ff9e00,#ff9f00,#ffa400,#ffa900,#ffad00,#ffb200,#ffb700,#ffbc00,#ffc100,#ffc600,#ffcb00,#ffd000,#ffd400,#ffd800,#ffdb00,#ffde00)"></i>
<i style="top:84px;height:2px;background:linear-gradient(90deg,#ff6800,#ff7300,#ff8100,#ff8f00,#ff9d00,#ffaa00,#ffb900,#ffca00,#ffdb00,#ffec00,#fffd00,#f0ff0f,#dfff20,#ceff31,#bdff42,#acff53,#9bff64,#8aff75,#7eff81,#7aff85,#77ff88,#73ff8c,#70ff8f,#6cff93,#6dff92,#74ff8b,#7aff85,#81ff7e,#88ff77,#90ff6f,#a4ff5b,#bfff40,#dbff24,#f6ff09,#ffec00,#ffd200,#ffc300,#ffbb00,#ffb300,#ffaa00,#ffa200,#ff9b00,#ff9c00,#ffa100,#ffa600,#ffab00,#ffb000,#ffb500,#ffba00,#ffbf00,#ffc500,#ffca00,#ffcf00,#ffd400,#ffd700,#ffdb00,#ffdd00)"></i>
<i style="top:86px;height:2px;background:linear-gradient(90deg,#ff6a00,#ff7500,#ff8300,#ff9000,#ff9e00,#ffab00,#ffba00,#ffca00,#ffdb00,#ffec00,#fffd00,#f0ff0f,#dfff20,#cfff30,#bfff40,#aeff51,#9eff61,#8eff71,#83ff7c,#80ff7f,#7cff83,#79ff86,#76ff89,#73ff8c,#75ff8a,#7bff84,#82ff7d,#88ff77,#8fff70,#96ff69,#a9ff56,#c3ff3c,#ddff22,#f8ff07,#ffec00,#ffd200,#ffc500,#ffbc00,#ffb400,#ffac00,#ffa400,#ff9d00,#ff9f00,#ffa400,#ffa900,#ffae00,#ffb200,#ffb700,#ffbc00,#ffc200,#ffc700,#ffcc00,#ffd100,#ffd600,#ffda00,#ffdd00,#ffe000)"></i>
<i style="top:88px;height:2px;background:linear-gradient(90deg,#ff7000,#ff7b00,#ff8900,#ff9600,#ffa300,#ffb000,#ffbe00,#ffce00,#ffdf00,#ffef00,#feff01,#eeff11,#ddff22,#ceff31,#bfff40,#b0ff4f,#a1ff5e,#92ff6d,#88ff77,#85ff7a,#82ff7d,#80ff7f,#7dff82,#7aff85,#7cff83,#82ff7d,#88ff77,#8eff71,#94ff6b,#9bff64,#adff52,#c6ff39,#dfff20,#f8ff07,#ffed00,#ffd500,#ffc800,#ffc100,#ffb900,#ffb200,#ffaa00,#ffa400,#ffa500,#ffaa00,#ffae00,#ffb300,#ffb700,#ffbc00,#ffc100,#ffc600,#ffcb00,#ffd000,#ffd600,#ffda00,#ffde00,#ffe200,#ffe400)"></i>
<i style="top:90px;height:2px;background:linear-gradient(90deg,#ff7800,#ff8200,#ff8f00,#ff9c00,#ffa800,#ffb500,#ffc300,#ffd200,#ffe300,#fff300,#fbff04,#ebff14,#dbff24,#cdff32,#c0ff3f,#b2ff4d,#a4ff5b,#96ff69,#8dff72,#8aff75,#88ff77,#86ff79,#84ff7b,#81ff7e,#83ff7c,#89ff76,#8eff71,#94ff6b,#9aff65,#a0ff5f,#b1ff4e,#c8ff37,#e0ff1f,#f7ff08,#ffef00,#ffd800,#ffcc00,#ffc500,#ffbe00,#ffb800,#ffb100,#ffab00,#ffac00,#ffb000,#ffb400,#ffb800,#ffbc00,#ffc100,#ffc600,#ffcb00,#ffd000,#ffd500,#ffdb00,#ffdf00,#ffe300,#ffe600,#ffe900)"></i>
<i style="top:92px;height:2px;background:linear-gradient(90deg,#ff7f00,#ff8900,#ff9600,#ffa200,#ffae00,#ffba00,#ffc700,#ffd700,#ffe700,#fff600,#f8ff07,#e8ff17,#d9ff26,#cdff32,#c0ff3f,#b3ff4c,#a7ff58,#9aff65,#92ff6d,#90ff6f,#8eff71,#8cff73,#8aff75,#88ff77,#8aff75,#8fff70,#95ff6a,#9aff65,#9fff60,#a5ff5a,#b5ff4a,#cbff34,#e1ff1e,#f7ff08,#fff100,#ffdb00,#ffd000,#ffca00,#ffc400,#ffbe00,#ffb700,#ffb200,#ffb300,#ffb700,#ffbb00,#ffbe00,#ffc200,#ffc600,#ffcb00,#ffd000,#ffd500,#ffda00,#ffdf00,#ffe400,#ffe800,#ffeb00,#ffee00)"></i>
<i style="top:94px;height:2px;background:linear-gradient(90deg,#ff8600,#ff9000,#ff9c00,#ffa800,#ffb400,#ffc000,#ffcc00,#ffdb00,#ffeb00,#fffa00,#f5ff0a,#e5ff1a,#d7ff28,#ccff33,#c0ff3f,#b5ff4a,#aaff55,#9fff60,#97ff68,#95ff6a,#94ff6b,#92ff6d,#91ff6e,#90ff6f,#91ff6e,#96ff69,#9bff64,#a0ff5f,#a5ff5a,#aaff55,#b9ff46,#cdff32,#e2ff1d,#f7ff08,#fff300,#ffdf00,#ffd500,#ffcf00,#ffc900,#ffc400,#ffbe00,#ffb900,#ffba00,#ffbe00,#ffc100,#ffc400,#ffc700,#ffcb00,#ffcf00,#ffd500,#ffda00,#ffdf00,#ffe400,#ffe900,#ffed00,#fff000,#fff300)"></i>
<i style="top:96px;height:2px;background:linear-gradient(90deg,#ff8d00,#ff9700,#ffa300,#ffae00,#ffba00,#ffc500,#ffd100,#ffe000,#ffef00,#fffe00,#f1ff0e,#e3ff1c,#d5ff2a,#cbff34,#c1ff3e,#b7ff48,#adff52,#a3ff5c,#9cff63,#9bff64,#9aff65,#99ff66,#98ff67,#97ff68,#98ff67,#9dff62,#a1ff5e,#a6ff59,#aaff55,#afff50,#bdff42,#d0ff2f,#e3ff1c,#f6ff09,#fff500,#ffe200,#ffd900,#ffd400,#ffcf00,#ffca00,#ffc500,#ffc000,#ffc100,#ffc400,#ffc700,#ffca00,#ffcc00,#ffd000,#ffd400,#ffda00,#ffdf00,#ffe400,#ffe900,#ffee00,#fff200,#fff500,#fff800)"></i>
<i style="top:98px;height:2px;background:linear-gradient(90deg,#ff9500,#ff9e00,#ffa900,#ffb400,#ffbf00,#ffca00,#ffd600,#ffe400,#fff300,#fdff02,#eeff11,#e0ff1f,#d3ff2c,#caff35,#c1ff3e,#b8ff47,#afff50,#a7ff58,#a1ff5e,#a0ff5f,#a0ff5f,#9fff60,#9eff61,#9eff61,#9fff60,#a3ff5c,#a8ff57,#acff53,#b0ff4f,#b4ff4b,#c1ff3e,#d2ff2d,#e4ff1b,#f6ff09,#fff600,#ffe500,#ffdd00,#ffd800,#ffd400,#ffd000,#ffcb00,#ffc700,#ffc800,#ffcb00,#ffcd00,#ffcf00,#ffd200,#ffd500,#ffd900,#ffdf00,#ffe400,#ffe900,#ffee00,#fff300,#fff700,#fffa00,#fffd00)"></i>
<i style="top:100px;height:2px;background:linear-gradient(90deg,#ff9e00,#ffa600,#ffb100,#ffbb00,#ffc600,#ffd100,#ffdc00,#ffe900,#fff700,#f9ff06,#ebff14,#ddff22,#d1ff2e,#c9ff36,#c1ff3e,#b9ff46,#b2ff4d,#aaff55,#a6ff59,#a5ff5a,#a5ff5a,#a5ff5a,#a4ff5b,#a4ff5b,#a6ff59,#aaff55,#adff52,#b1ff4e,#b5ff4a,#b9ff46,#c4ff3b,#d4ff2b,#e4ff1b,#f5ff0a,#fff900,#ffe900,#ffe200,#ffde00,#ffda00,#ffd600,#ffd200,#ffcf00,#ffd000,#ffd200,#ffd400,#ffd600,#ffd800,#ffda00,#ffdf00,#ffe400,#ffe900,#ffee00,#fff300,#fff800,#fffc00,#fefe01,#fcff03)"></i>
<i style="top:102px;height:2px;background:linear-gradient(90deg,#ffaa00,#ffb300,#ffbc00,#ffc600,#ffd000,#ffda00,#ffe400,#fff100,#fffe00,#f3ff0c,#e6ff19,#d9ff26,#ceff31,#c7ff38,#c0ff3f,#baff45,#b3ff4c,#adff52,#a9ff56,#a9ff56,#a9ff56,#a9ff56,#a9ff56,#a9ff56,#abff54,#aeff51,#b1ff4e,#b4ff4b,#b8ff47,#bbff44,#c5ff3a,#d4ff2b,#e3ff1c,#f1ff0e,#fffe00,#fff000,#ffe900,#ffe500,#ffe200,#ffdf00,#ffdb00,#ffd800,#ffd900,#ffda00,#ffdc00,#ffde00,#ffdf00,#ffe100,#ffe600,#ffeb00,#fff000,#fff500,#fffa00,#fefe01,#fcff03,#f9ff06,#f6ff09)"></i>
<i style="top:104px;height:2px;background:linear-gradient(90deg,#ffbb00,#ffc300,#ffcc00,#ffd400,#ffdd00,#ffe600,#fff000,#fffb00,#f7ff08,#ecff13,#e0ff1f,#d4ff2b,#cbff34,#c4ff3b,#bfff40,#b9ff46,#b3ff4c,#aeff51,#aaff55,#abff54,#abff54,#abff54,#abff54,#acff53,#adff52,#b0ff4f,#b3ff4c,#b6ff49,#b9ff46,#bcff43,#c5ff3a,#d2ff2d,#dfff20,#ecff13,#f9ff06,#fff800,#fff200,#ffef00,#ffec00,#ffe900,#ffe500,#ffe300,#ffe300,#ffe500,#ffe600,#ffe700,#ffe900,#ffeb00,#ffef00,#fff300,#fff800,#fffd00,#fdff02,#f9ff06,#f5ff0a,#f2ff0d,#efff10)"></i>
<i style="top:106px;height:2px;background:linear-gradient(90deg,#ffcd00,#ffd400,#ffdc00,#ffe400,#ffeb00,#fff300,#fffb00,#f9ff06,#eeff11,#e4ff1b,#daff25,#d0ff2f,#c7ff38,#c2ff3d,#bdff42,#b8ff47,#b3ff4c,#afff50,#acff53,#acff53,#adff52,#adff52,#aeff51,#aeff51,#b0ff4f,#b2ff4d,#b5ff4a,#b7ff48,#b9ff46,#bcff43,#c4ff3b,#cfff30,#dbff24,#e6ff19,#f2ff0d,#fdff02,#fffc00,#fff900,#fff600,#fff300,#fff000,#ffee00,#ffee00,#ffef00,#fff000,#fff200,#fff300,#fff400,#fff800,#fffc00,#fdff02,#f9ff06,#f5ff0a,#f1ff0e,#eeff11,#eaff15,#e8ff17)"></i>
<i style="top:108px;height:2px;background:linear-gradient(90deg,#ffe000,#ffe500,#ffec00,#fff300,#fffa00,#fdfe02,#f6ff09,#eeff11,#e5ff1a,#dcff23,#d4ff2b,#cbff34,#c4ff3b,#bfff40,#bbff44,#b7ff48,#b3ff4c,#afff50,#adff52,#aeff51,#aeff51,#afff50,#b0ff4f,#b1ff4e,#b2ff4d,#b4ff4b,#b6ff49,#b8ff47,#baff45,#bcff43,#c3ff3c,#cdff32,#d6ff29,#e0ff1f,#eaff15,#f3ff0c,#f8ff07,#fbff04,#fdfe02,#fefd01,#fffb00,#fff900,#fff900,#fffa00,#fffb00,#fffc00,#fffd00,#fefd01,#fdff02,#f9ff06,#f5ff0a,#f1ff0e,#eeff11,#eaff15,#e6ff19,#e3ff1c,#e0ff1f)"></i>
<i style="top:110px;height:2px;background:linear-gradient(90deg,#fff200,#fff700,#fefc01,#fcff03,#f6ff09,#f1ff0e,#eaff15,#e3ff1c,#dcff23,#d5ff2a,#cdff32,#c6ff39,#c0ff3f,#bdff42,#b9ff46,#b6ff49,#b3ff4c,#b0ff4f,#aeff51,#afff50,#b0ff4f,#b1ff4e,#b2ff4d,#b3ff4c,#b4ff4b,#b6ff49,#b7ff48,#b9ff46,#bbff44,#bcff43,#c2ff3d,#caff35,#d2ff2d,#daff25,#e2ff1d,#eaff15,#eeff11,#f1ff0e,#f3ff0c,#f6ff09,#f8ff07,#fbff04,#faff05,#faff05,#f9ff06,#f8ff07,#f7ff08,#f6ff09,#f3ff0c,#f0ff0f,#ecff13,#e9ff16,#e6ff19,#e2ff1d,#dfff20,#dcff23,#d9ff26)"></i>
<i style="top:112px;height:2px;background:linear-gradient(90deg,#faff05,#f6ff09,#f1ff0e,#edff12,#e8ff17,#e3ff1c,#deff21,#d9ff26,#d3ff2c,#cdff32,#c7ff38,#c1ff3e,#bcff43,#baff45,#b8ff47,#b5ff4a,#b3ff4c,#b1ff4e,#b0ff4f,#b1ff4e,#b2ff4d,#b3ff4c,#b4ff4b,#b5ff4a,#b6ff49,#b8ff47,#b9ff46,#baff45,#bbff44,#bcff43,#c1ff3e,#c7ff38,#ceff31,#d4ff2b,#daff25,#e1ff1e,#e4ff1b,#e7ff18,#e9ff16,#ebff14,#eeff11,#f0ff0f,#f0ff0f,#efff10,#eeff11,#eeff11,#edff12,#ecff13,#eaff15,#e7ff18,#e4ff1b,#e1ff1e,#deff21,#dbff24,#d8ff27,#d4ff2b,#d2ff2d)"></i>
<i style="top:114px;height:2px;background:linear-gradient(90deg,#e8ff17,#e5ff1a,#e1ff1e,#ddff22,#daff25,#d6ff29,#d2ff2d,#ceff31,#caff35,#c5ff3a,#c1ff3e,#bdff42,#b9ff46,#b7ff48,#b6ff49,#b4ff4b,#b3ff4c,#b1ff4e,#b1ff4e,#b2ff4d,#b3ff4c,#b5ff4a,#b6ff49,#b8ff47,#b9ff46,#b9ff46,#baff45,#bbff44,#bcff43,#bdff42,#c0ff3f,#c4ff3b,#c9ff36,#ceff31,#d3ff2c,#d7ff28,#daff25,#dcff23,#dfff20,#e1ff1e,#e3ff1c,#e5ff1a,#e5ff1a,#e4ff1b,#e4ff1b,#e4ff1b,#e3ff1c,#e3ff1c,#e0ff1f,#deff21,#dbff24,#d9ff26,#d6ff29,#d4ff2b,#d0ff2f,#cdff32,#caff35)"></i>
<i style="top:116px;height:2px;background:linear-gradient(90deg,#d6ff29,#d4ff2b,#d1ff2e,#cfff30,#ccff33,#c9ff36,#c7ff38,#c4ff3b,#c1ff3e,#beff41,#bbff44,#b8ff47,#b6ff49,#b5ff4a,#b4ff4b,#b3ff4c,#b3ff4c,#b2ff4d,#b2ff4d,#b3ff4c,#b5ff4a,#b7ff48,#b8ff47,#baff45,#bbff44,#bbff44,#bbff44,#bcff43,#bcff43,#bdff42,#bfff40,#c2ff3d,#c5ff3a,#c8ff37,#cbff34,#ceff31,#d1ff2e,#d2ff2d,#d4ff2b,#d6ff29,#d8ff27,#daff25,#daff25,#daff25,#daff25,#daff25,#d9ff26,#d9ff26,#d7ff28,#d5ff2a,#d3ff2c,#d1ff2e,#cfff30,#ccff33,#c9ff36,#c6ff39,#c3ff3c)"></i>
<i style="top:118px;height:2px;background:linear-gradient(90deg,#c7ff38,#c6ff39,#c4ff3b,#c2ff3d,#c1ff3e,#bfff40,#bdff42,#bbff44,#baff45,#b8ff47,#b6ff49,#b4ff4b,#b2ff4d,#b2ff4d,#b2ff4d,#b2ff4d,#b2ff4d,#b2ff4d,#b2ff4d,#b4ff4b,#b6ff49,#b7ff48,#b9ff46,#bbff44,#bcff43,#bcff43,#bcff43,#bcff43,#bcff43,#bcff43,#bdff42,#bfff40,#c1ff3e,#c2ff3d,#c4ff3b,#c6ff39,#c8ff37,#caff35,#cbff34,#cdff32,#cfff30,#d0ff2f,#d1ff2e,#d1ff2e,#d0ff2f,#d0ff2f,#d0ff2f,#d0ff2f,#ceff31,#cdff32,#cbff34,#c9ff36,#c7ff38,#c5ff3a,#c1ff3e,#beff41,#bcff43)"></i>
<i style="top:120px;height:2px;background:linear-gradient(90deg,#bdff42,#bcff43,#bbff44,#baff45,#b9ff46,#b8ff47,#b7ff48,#b6ff49,#b4ff4b,#b3ff4c,#b2ff4d,#b1ff4e,#b0ff4f,#b0ff4f,#b0ff4f,#b0ff4f,#b1ff4e,#b1ff4e,#b2ff4d,#b3ff4c,#b5ff4a,#b7ff48,#b9ff46,#baff45,#bbff44,#bbff44,#bbff44,#baff45,#baff45,#baff45,#baff45,#bbff44,#bcff43,#bdff42,#beff41,#c0ff3f,#c1ff3e,#c2ff3d,#c4ff3b,#c5ff3a,#c7ff38,#c8ff37,#c9ff36,#c9ff36,#c9ff36,#c9ff36,#c9ff36,#c8ff37,#c6ff39,#c4ff3b,#c3ff3c,#c1ff3e,#bfff40,#bcff43,#b9ff46,#b6ff49,#b4ff4b)"></i>
<i style="top:122px;height:2px;background:linear-gradient(90deg,#b4ff4b,#b4ff4b,#b3ff4c,#b3ff4c,#b3ff4c,#b2ff4d,#b2ff4d,#b1ff4e,#b0ff4f,#afff50,#afff50,#aeff51,#adff52,#aeff51,#aeff51,#afff50,#afff50,#b0ff4f,#b1ff4e,#b2ff4d,#b4ff4b,#b6ff49,#b7ff48,#b9ff46,#baff45,#b9ff46,#b9ff46,#b8ff47,#b8ff47,#b8ff47,#b8ff47,#b8ff47,#b8ff47,#b9ff46,#b9ff46,#baff45,#bbff44,#bcff43,#bdff42,#beff41,#c0ff3f,#c1ff3e,#c1ff3e,#c1ff3e,#c1ff3e,#c1ff3e,#c1ff3e,#c1ff3e,#bfff40,#bdff42,#bbff44,#b8ff47,#b6ff49,#b4ff4b,#b1ff4e,#afff50,#adff52)"></i>
<i style="top:124px;height:2px;background:linear-gradient(90deg,#acff53,#acff53,#acff53,#acff53,#adff52,#adff52,#adff52,#adff52,#acff53,#acff53,#abff54,#abff54,#abff54,#acff53,#acff53,#adff52,#aeff51,#aeff51,#afff50,#b1ff4e,#b3ff4c,#b4ff4b,#b6ff49,#b8ff47,#b8ff47,#b8ff47,#b7ff48,#b6ff49,#b6ff49,#b5ff4a,#b5ff4a,#b5ff4a,#b4ff4b,#b4ff4b,#b4ff4b,#b4ff4b,#b4ff4b,#b5ff4a,#b6ff49,#b7ff48,#b9ff46,#baff45,#baff45,#baff45,#baff45,#baff45,#baff45,#b9ff46,#b7ff48,#b5ff4a,#b3ff4c,#b0ff4f,#aeff51,#abff54,#a9ff56,#a7ff58,#a6ff59)"></i>
<i style="top:126px;height:2px;background:linear-gradient(90deg,#a3ff5c,#a4ff5b,#a5ff5a,#a6ff59,#a7ff58,#a7ff58,#a8ff57,#a8ff57,#a8ff57,#a8ff57,#a8ff57,#a8ff57,#a9ff56,#a9ff56,#aaff55,#abff54,#acff53,#adff52,#aeff51,#b0ff4f,#b1ff4e,#b3ff4c,#b5ff4a,#b7ff48,#b7ff48,#b6ff49,#b5ff4a,#b5ff4a,#b4ff4b,#b3ff4c,#b2ff4d,#b1ff4e,#b0ff4f,#afff50,#aeff51,#aeff51,#aeff51,#afff50,#b0ff4f,#b1ff4e,#b1ff4e,#b2ff4d,#b2ff4d,#b2ff4d,#b2ff4d,#b2ff4d,#b2ff4d,#b2ff4d,#b0ff4f,#adff52,#abff54,#a8ff57,#a5ff5a,#a3ff5c,#a1ff5e,#9fff60,#9eff61)"></i>
<i style="top:128px;height:2px;background:linear-gradient(90deg,#9bff64,#9cff63,#9eff61,#9fff60,#a1ff5e,#a2ff5d,#a3ff5c,#a4ff5b,#a4ff5b,#a5ff5a,#a5ff5a,#a6ff59,#a6ff59,#a7ff58,#a8ff57,#a9ff56,#aaff55,#abff54,#adff52,#afff50,#b0ff4f,#b2ff4d,#b4ff4b,#b5ff4a,#b6ff49,#b5ff4a,#b4ff4b,#b3ff4c,#b2ff4d,#b0ff4f,#afff50,#aeff51,#acff53,#abff54,#a9ff56,#a8ff57,#a8ff57,#a8ff57,#a9ff56,#aaff55,#aaff55,#abff54,#abff54,#abff54,#abff54,#abff54,#abff54,#abff54,#a8ff57,#a5ff5a,#a3ff5c,#a0ff5f,#9dff62,#9bff64,#99ff66,#98ff67,#97ff68)"></i>
<i style="top:130px;height:2px;background:linear-gradient(90deg,#92ff6d,#94ff6b,#96ff69,#98ff67,#9aff65,#9dff62,#9eff61,#9fff60,#a0ff5f,#a1ff5e,#a2ff5d,#a3ff5c,#a4ff5b,#a5ff5a,#a6ff59,#a8ff57,#a9ff56,#aaff55,#acff53,#adff52,#afff50,#b1ff4e,#b3ff4c,#b4ff4b,#b4ff4b,#b3ff4c,#b2ff4d,#b1ff4e,#afff50,#aeff51,#acff53,#aaff55,#a8ff57,#a6ff59,#a4ff5b,#a2ff5d,#a1ff5e,#a2ff5d,#a2ff5d,#a3ff5c,#a3ff5c,#a4ff5b,#a4ff5b,#a4ff5b,#a4ff5b,#a4ff5b,#a4ff5b,#a3ff5c,#a1ff5e,#9eff61,#9bff64,#98ff67,#95ff6a,#92ff6d,#91ff6e,#90ff6f,#8fff70)"></i>
<i style="top:132px;height:2px;background:linear-gradient(90deg,#8aff75,#8cff73,#8fff70,#92ff6d,#94ff6b,#97ff68,#9aff65,#9bff64,#9cff63,#9dff62,#9fff60,#a0ff5f,#a1ff5e,#a3ff5c,#a4ff5b,#a6ff59,#a7ff58,#a9ff56,#aaff55,#acff53,#aeff51,#b0ff4f,#b1ff4e,#b3ff4c,#b3ff4c,#b2ff4d,#b0ff4f,#afff50,#adff52,#acff53,#a9ff56,#a7ff58,#a4ff5b,#a1ff5e,#9fff60,#9cff63,#9bff64,#9cff63,#9cff63,#9cff63,#9cff63,#9cff63,#9dff62,#9dff62,#9dff62,#9dff62,#9dff62,#9cff63,#99ff66,#96ff69,#93ff6c,#90ff6f,#8cff73,#8aff75,#89ff76,#89ff76,#88ff77)"></i>
<i style="top:134px;height:2px;background:linear-gradient(90deg,#82ff7d,#85ff7a,#88ff77,#8bff74,#8fff70,#92ff6d,#95ff6a,#97ff68,#98ff67,#9aff65,#9cff63,#9dff62,#9fff60,#a1ff5e,#a2ff5d,#a4ff5b,#a5ff5a,#a7ff58,#a9ff56,#abff54,#acff53,#aeff51,#b0ff4f,#b1ff4e,#b2ff4d,#b0ff4f,#aeff51,#adff52,#abff54,#a9ff56,#a7ff58,#a3ff5c,#a0ff5f,#9dff62,#9aff65,#97ff68,#96ff69,#96ff69,#96ff69,#96ff69,#96ff69,#96ff69,#96ff69,#96ff69,#96ff69,#96ff69,#96ff69,#96ff69,#93ff6c,#8fff70,#8cff73,#89ff76,#85ff7a,#83ff7c,#82ff7d,#82ff7d,#82ff7d)"></i>
<i style="top:136px;height:2px;background:linear-gradient(90deg,#7cff83,#7fff80,#82ff7d,#86ff79,#89ff76,#8dff72,#90ff6f,#92ff6d,#94ff6b,#96ff69,#98ff67,#9aff65,#9cff63,#9eff61,#a0ff5f,#a2ff5d,#a3ff5c,#a5ff5a,#a7ff58,#a9ff56,#aaff55,#acff53,#aeff51,#afff50,#afff50,#aeff51,#acff53,#aaff55,#a9ff56,#a7ff58,#a4ff5b,#a1ff5e,#9dff62,#9aff65,#96ff69,#93ff6c,#92ff6d,#92ff6d,#92ff6d,#92ff6d,#92ff6d,#92ff6d,#92ff6d,#92ff6d,#92ff6d,#92ff6d,#92ff6d,#92ff6d,#8fff70,#8bff74,#88ff77,#84ff7b,#81ff7e,#7eff81,#7eff81,#7eff81,#7eff81)"></i>
<i style="top:138px;height:2px;background:linear-gradient(90deg,#77ff88,#7aff85,#7dff82,#81ff7e,#84ff7b,#88ff77,#8bff74,#8eff71,#90ff6f,#93ff6c,#95ff6a,#98ff67,#9aff65,#9cff63,#9dff62,#9fff60,#a1ff5e,#a3ff5c,#a4ff5b,#a6ff59,#a8ff57,#aaff55,#abff54,#adff52,#adff52,#abff54,#aaff55,#a8ff57,#a6ff59,#a4ff5b,#a2ff5d,#9eff61,#9bff64,#97ff68,#94ff6b,#90ff6f,#8fff70,#8fff70,#8fff70,#8fff70,#8fff70,#8fff70,#8fff70,#8fff70,#8fff70,#8fff70,#8fff70,#8fff70,#8cff73,#88ff77,#85ff7a,#82ff7d,#7eff81,#7bff84,#7bff84,#7bff84,#7bff84)"></i>
<i style="top:140px;height:2px;background:linear-gradient(90deg,#72ff8d,#75ff8a,#79ff86,#7cff83,#80ff7f,#83ff7c,#86ff79,#89ff76,#8cff73,#8fff70,#92ff6d,#95ff6a,#98ff67,#99ff66,#9bff64,#9dff62,#9fff60,#a0ff5f,#a2ff5d,#a4ff5b,#a5ff5a,#a7ff58,#a9ff56,#abff54,#abff54,#a9ff56,#a7ff58,#a6ff59,#a4ff5b,#a2ff5d,#9fff60,#9cff63,#98ff67,#95ff6a,#91ff6e,#8eff71,#8dff72,#8dff72,#8dff72,#8dff72,#8dff72,#8dff72,#8dff72,#8dff72,#8dff72,#8dff72,#8dff72,#8cff73,#8aff75,#86ff79,#83ff7c,#7fff80,#7cff83,#79ff86,#79ff86,#79ff86,#79ff86)"></i>
<i style="top:142px;height:2px;background:linear-gradient(90deg,#6eff91,#71ff8e,#74ff8b,#78ff87,#7bff84,#7fff80,#82ff7d,#86ff79,#89ff76,#8cff73,#8fff70,#93ff6c,#95ff6a,#97ff68,#99ff66,#9bff64,#9cff63,#9eff61,#a0ff5f,#a2ff5d,#a3ff5c,#a5ff5a,#a7ff58,#a9ff56,#a9ff56,#a7ff58,#a5ff5a,#a3ff5c,#a2ff5d,#a0ff5f,#9dff62,#9aff65,#96ff69,#93ff6c,#8fff70,#8cff73,#8bff74,#8bff74,#8bff74,#8bff74,#8bff74,#8bff74,#8bff74,#8bff74,#8bff74,#8bff74,#8bff74,#8aff75,#87ff78,#84ff7b,#81ff7e,#7dff82,#7aff85,#77ff88,#77ff88,#77ff88,#77ff88)"></i>
<i style="top:144px;height:1px;background:linear-gradient(90deg,#6cff93,#6fff90,#73ff8c,#76ff89,#7aff85,#7dff82,#81ff7e,#84ff7b,#87ff78,#8bff74,#8eff71,#92ff6d,#95ff6a,#96ff69,#98ff67,#9aff65,#9cff63,#9dff62,#9fff60,#a1ff5e,#a3ff5c,#a4ff5b,#a6ff59,#a8ff57,#a8ff57,#a6ff59,#a4ff5b,#a3ff5c,#a1ff5e,#9fff60,#9cff63,#99ff66,#95ff6a,#92ff6d,#8eff71,#8bff74,#8aff75,#8aff75,#8aff75,#8aff75,#8aff75,#8aff75,#8aff75,#8aff75,#8aff75,#8aff75,#8aff75,#8aff75,#87ff78,#83ff7c,#80ff7f,#7cff83,#79ff86,#76ff89,#76ff89,#76ff89,#76ff89)"></i>
</div>
<div class="cb" style="left:633.10px;top:698.20px;width:12.00px;height:166.20px;background:linear-gradient(180deg,#000080,#00009f,#0000bf,#0000df,#0000ff,#0020ff,#0040ff,#0060ff,#0080ff,#009fff,#00bfff,#00dfff,#00ffff,#20ffdf,#40ffbf,#60ff9f,#80ff80,#9fff60,#bfff40,#dfff20,#ffff00,#ffdf00,#ffbf00,#ff9f00,#ff8000,#ff6000,#ff4000,#ff2000,#ff0000,#df0000,#bf0000,#9f0000,#800000)"></div>
<svg width="685" height="901" viewBox="0 0 685 901"><path d="M36.7 50.3h2v2h-2zM36.7 56.7h2v2h-2zM36.7 63.1h2v2h-2zM36.7 69.5h2v2h-2zM36.7 75.9h2v2h-2zM36.7 82.4h2v2h-2zM36.7 88.8h2v2h-2zM36.7 95.2h2v2h-2zM36.7 101.6h2v2h-2zM36.7 108.0h2v2h-2zM36.7 114.4h2v2h-2zM36.7 120.8h2v2h-2zM36.7 127.2h2v2h-2zM36.7 133.6h2v2h-2zM36.7 140.0h2v2h-2zM36.7 146.4h2v2h-2zM36.7 152.8h2v2h-2zM36.7 159.3h2v2h-2zM108.2 43.1h2v2h-2zM108.2 49.6h2v2h-2zM108.2 56.1h2v2h-2zM108.2 62.5h2v2h-2zM108.2 69.0h2v2h-2zM108.2 75.5h2v2h-2zM108.2 81.9h2v2h-2zM108.2 88.4h2v2h-2zM108.2 94.9h2v2h-2zM108.2 101.3h2v2h-2zM108.2 107.8h2v2h-2zM108.2 114.3h2v2h-2zM108.2 120.7h2v2h-2zM108.2 127.2h2v2h-2zM108.2 133.7h2v2h-2zM108.2 140.1h2v2h-2zM108.2 146.6h2v2h-2zM108.2 153.1h2v2h-2zM108.2 159.5h2v2h-2zM108.2 166.0h2v2h-2zM145.3 19.1h2v2h-2zM145.3 25.4h2v2h-2zM145.3 31.8h2v2h-2zM145.3 38.2h2v2h-2zM145.3 44.6h2v2h-2zM145.3 50.9h2v2h-2zM145.3 57.3h2v2h-2zM145.3 63.7h2v2h-2zM145.3 70.1h2v2h-2zM145.3 76.5h2v2h-2zM145.3 82.8h2v2h-2zM145.3 89.2h2v2h-2zM145.3 95.6h2v2h-2zM145.3 102.0h2v2h-2zM145.3 108.3h2v2h-2zM145.3 114.7h2v2h-2zM145.3 121.1h2v2h-2zM145.3 127.5h2v2h-2zM145.3 133.8h2v2h-2zM145.3 140.2h2v2h-2zM145.3 146.6h2v2h-2zM185.0 38.1h2v2h-2zM185.0 44.5h2v2h-2zM185.0 50.9h2v2h-2zM185.0 57.3h2v2h-2zM185.0 63.7h2v2h-2zM185.0 70.1h2v2h-2zM185.0 76.5h2v2h-2zM185.0 82.8h2v2h-2zM185.0 89.2h2v2h-2zM185.0 95.6h2v2h-2zM185.0 102.0h2v2h-2zM185.0 108.4h2v2h-2zM185.0 114.8h2v2h-2zM185.0 121.2h2v2h-2zM185.0 127.6h2v2h-2zM185.0 134.0h2v2h-2zM185.0 140.4h2v2h-2zM185.0 146.8h2v2h-2zM185.0 153.2h2v2h-2zM185.0 159.6h2v2h-2zM185.0 166.0h2v2h-2zM262.2 19.1h2v2h-2zM262.2 25.5h2v2h-2zM262.2 31.8h2v2h-2zM262.2 38.2h2v2h-2zM262.2 44.6h2v2h-2zM262.2 51.0h2v2h-2zM262.2 57.4h2v2h-2zM262.2 63.8h2v2h-2zM262.2 70.2h2v2h-2zM262.2 76.6h2v2h-2zM262.2 83.0h2v2h-2zM262.2 89.3h2v2h-2zM262.2 95.7h2v2h-2zM262.2 102.1h2v2h-2zM262.2 108.5h2v2h-2zM262.2 114.9h2v2h-2zM262.2 121.3h2v2h-2zM262.2 127.7h2v2h-2zM262.2 134.1h2v2h-2zM262.2 140.5h2v2h-2zM262.2 146.8h2v2h-2zM262.2 153.2h2v2h-2zM262.2 159.6h2v2h-2zM262.2 166.0h2v2h-2z" fill="#000"/><rect x="31.80" y="7.40" width="237.30" height="168.90" fill="none" stroke="#808080" stroke-width="1"/><line x1="37.73" y1="176.30" x2="37.73" y2="178.90" stroke="#808080" stroke-width="1.00"/><line x1="37.73" y1="7.40" x2="37.73" y2="4.80" stroke="#808080" stroke-width="1.00"/><line x1="97.06" y1="176.30" x2="97.06" y2="178.90" stroke="#808080" stroke-width="1.00"/><line x1="97.06" y1="7.40" x2="97.06" y2="4.80" stroke="#808080" stroke-width="1.00"/><line x1="156.38" y1="176.30" x2="156.38" y2="178.90" stroke="#808080" stroke-width="1.00"/><line x1="156.38" y1="7.40" x2="156.38" y2="4.80" stroke="#808080" stroke-width="1.00"/><line x1="215.71" y1="176.30" x2="215.71" y2="178.90" stroke="#808080" stroke-width="1.00"/><line x1="215.71" y1="7.40" x2="215.71" y2="4.80" stroke="#808080" stroke-width="1.00"/><line x1="29.20" y1="7.40" x2="31.80" y2="7.40" stroke="#808080" stroke-width="1.00"/><line x1="269.10" y1="7.40" x2="271.70" y2="7.40" stroke="#808080" stroke-width="1.00"/><line x1="29.20" y1="49.62" x2="31.80" y2="49.62" stroke="#808080" stroke-width="1.00"/><line x1="269.10" y1="49.62" x2="271.70" y2="49.62" stroke="#808080" stroke-width="1.00"/><line x1="29.20" y1="91.85" x2="31.80" y2="91.85" stroke="#808080" stroke-width="1.00"/><line x1="269.10" y1="91.85" x2="271.70" y2="91.85" stroke="#808080" stroke-width="1.00"/><line x1="29.20" y1="134.08" x2="31.80" y2="134.08" stroke="#808080" stroke-width="1.00"/><line x1="269.10" y1="134.08" x2="271.70" y2="134.08" stroke="#808080" stroke-width="1.00"/><line x1="29.20" y1="176.30" x2="31.80" y2="176.30" stroke="#808080" stroke-width="1.00"/><line x1="269.10" y1="176.30" x2="271.70" y2="176.30" stroke="#808080" stroke-width="1.00"/><rect x="275.80" y="7.40" width="12.20" height="168.30" fill="none" stroke="#303030" stroke-width="0.8"/><line x1="286.00" y1="7.40" x2="288.00" y2="7.40" stroke="#303030" stroke-width="0.80"/><line x1="286.00" y1="49.48" x2="288.00" y2="49.48" stroke="#303030" stroke-width="0.80"/><line x1="286.00" y1="91.55" x2="288.00" y2="91.55" stroke="#303030" stroke-width="0.80"/><line x1="286.00" y1="133.62" x2="288.00" y2="133.62" stroke="#303030" stroke-width="0.80"/><line x1="286.00" y1="175.70" x2="288.00" y2="175.70" stroke="#303030" stroke-width="0.80"/><rect x="390.00" y="7.40" width="236.60" height="168.90" fill="none" stroke="#808080" stroke-width="1"/><line x1="395.92" y1="176.30" x2="395.92" y2="178.90" stroke="#808080" stroke-width="1.00"/><line x1="395.92" y1="7.40" x2="395.92" y2="4.80" stroke="#808080" stroke-width="1.00"/><line x1="455.06" y1="176.30" x2="455.06" y2="178.90" stroke="#808080" stroke-width="1.00"/><line x1="455.06" y1="7.40" x2="455.06" y2="4.80" stroke="#808080" stroke-width="1.00"/><line x1="514.22" y1="176.30" x2="514.22" y2="178.90" stroke="#808080" stroke-width="1.00"/><line x1="514.22" y1="7.40" x2="514.22" y2="4.80" stroke="#808080" stroke-width="1.00"/><line x1="573.37" y1="176.30" x2="573.37" y2="178.90" stroke="#808080" stroke-width="1.00"/><line x1="573.37" y1="7.40" x2="573.37" y2="4.80" stroke="#808080" stroke-width="1.00"/><line x1="387.40" y1="7.40" x2="390.00" y2="7.40" stroke="#808080" stroke-width="1.00"/><line x1="626.60" y1="7.40" x2="629.20" y2="7.40" stroke="#808080" stroke-width="1.00"/><line x1="387.40" y1="49.62" x2="390.00" y2="49.62" stroke="#808080" stroke-width="1.00"/><line x1="626.60" y1="49.62" x2="629.20" y2="49.62" stroke="#808080" stroke-width="1.00"/><line x1="387.40" y1="91.85" x2="390.00" y2="91.85" stroke="#808080" stroke-width="1.00"/><line x1="626.60" y1="91.85" x2="629.20" y2="91.85" stroke="#808080" stroke-width="1.00"/><line x1="387.40" y1="134.08" x2="390.00" y2="134.08" stroke="#808080" stroke-width="1.00"/><line x1="626.60" y1="134.08" x2="629.20" y2="134.08" stroke="#808080" stroke-width="1.00"/><line x1="387.40" y1="176.30" x2="390.00" y2="176.30" stroke="#808080" stroke-width="1.00"/><line x1="626.60" y1="176.30" x2="629.20" y2="176.30" stroke="#808080" stroke-width="1.00"/><rect x="634.00" y="7.40" width="11.80" height="168.30" fill="none" stroke="#303030" stroke-width="0.8"/><line x1="643.80" y1="7.40" x2="645.80" y2="7.40" stroke="#303030" stroke-width="0.80"/><line x1="643.80" y1="49.48" x2="645.80" y2="49.48" stroke="#303030" stroke-width="0.80"/><line x1="643.80" y1="91.55" x2="645.80" y2="91.55" stroke="#303030" stroke-width="0.80"/><line x1="643.80" y1="133.62" x2="645.80" y2="133.62" stroke="#303030" stroke-width="0.80"/><line x1="643.80" y1="175.70" x2="645.80" y2="175.70" stroke="#303030" stroke-width="0.80"/><path d="M36.7 284.8h2v2h-2zM36.7 291.2h2v2h-2zM36.7 297.6h2v2h-2zM36.7 304.0h2v2h-2zM36.7 310.4h2v2h-2zM36.7 316.8h2v2h-2zM36.7 323.2h2v2h-2zM36.7 329.6h2v2h-2zM36.7 336.0h2v2h-2zM36.7 342.3h2v2h-2zM36.7 348.7h2v2h-2zM36.7 355.1h2v2h-2zM36.7 361.5h2v2h-2zM36.7 367.9h2v2h-2zM36.7 374.3h2v2h-2zM36.7 380.7h2v2h-2zM36.7 387.1h2v2h-2zM36.7 393.5h2v2h-2zM108.2 277.6h2v2h-2zM108.2 284.1h2v2h-2zM108.2 290.6h2v2h-2zM108.2 297.0h2v2h-2zM108.2 303.5h2v2h-2zM108.2 309.9h2v2h-2zM108.2 316.4h2v2h-2zM108.2 322.8h2v2h-2zM108.2 329.3h2v2h-2zM108.2 335.7h2v2h-2zM108.2 342.2h2v2h-2zM108.2 348.6h2v2h-2zM108.2 355.1h2v2h-2zM108.2 361.5h2v2h-2zM108.2 368.0h2v2h-2zM108.2 374.4h2v2h-2zM108.2 380.9h2v2h-2zM108.2 387.3h2v2h-2zM108.2 393.8h2v2h-2zM108.2 400.2h2v2h-2zM145.3 253.6h2v2h-2zM145.3 260.0h2v2h-2zM145.3 266.4h2v2h-2zM145.3 272.7h2v2h-2zM145.3 279.1h2v2h-2zM145.3 285.4h2v2h-2zM145.3 291.8h2v2h-2zM145.3 298.2h2v2h-2zM145.3 304.5h2v2h-2zM145.3 310.9h2v2h-2zM145.3 317.2h2v2h-2zM145.3 323.6h2v2h-2zM145.3 330.0h2v2h-2zM145.3 336.3h2v2h-2zM145.3 342.7h2v2h-2zM145.3 349.1h2v2h-2zM145.3 355.4h2v2h-2zM145.3 361.8h2v2h-2zM145.3 368.1h2v2h-2zM145.3 374.5h2v2h-2zM145.3 380.9h2v2h-2zM185.0 272.6h2v2h-2zM185.0 279.0h2v2h-2zM185.0 285.4h2v2h-2zM185.0 291.7h2v2h-2zM185.0 298.1h2v2h-2zM185.0 304.5h2v2h-2zM185.0 310.9h2v2h-2zM185.0 317.3h2v2h-2zM185.0 323.6h2v2h-2zM185.0 330.0h2v2h-2zM185.0 336.4h2v2h-2zM185.0 342.8h2v2h-2zM185.0 349.2h2v2h-2zM185.0 355.6h2v2h-2zM185.0 361.9h2v2h-2zM185.0 368.3h2v2h-2zM185.0 374.7h2v2h-2zM185.0 381.1h2v2h-2zM185.0 387.5h2v2h-2zM185.0 393.9h2v2h-2zM185.0 400.2h2v2h-2zM262.2 253.6h2v2h-2zM262.2 260.0h2v2h-2zM262.2 266.4h2v2h-2zM262.2 272.8h2v2h-2zM262.2 279.1h2v2h-2zM262.2 285.5h2v2h-2zM262.2 291.9h2v2h-2zM262.2 298.3h2v2h-2zM262.2 304.6h2v2h-2zM262.2 311.0h2v2h-2zM262.2 317.4h2v2h-2zM262.2 323.7h2v2h-2zM262.2 330.1h2v2h-2zM262.2 336.5h2v2h-2zM262.2 342.9h2v2h-2zM262.2 349.2h2v2h-2zM262.2 355.6h2v2h-2zM262.2 362.0h2v2h-2zM262.2 368.4h2v2h-2zM262.2 374.7h2v2h-2zM262.2 381.1h2v2h-2zM262.2 387.5h2v2h-2zM262.2 393.9h2v2h-2zM262.2 400.2h2v2h-2z" fill="#000"/><rect x="31.80" y="242.00" width="237.30" height="168.50" fill="none" stroke="#808080" stroke-width="1"/><line x1="37.73" y1="410.50" x2="37.73" y2="413.10" stroke="#808080" stroke-width="1.00"/><line x1="37.73" y1="242.00" x2="37.73" y2="239.40" stroke="#808080" stroke-width="1.00"/><line x1="97.06" y1="410.50" x2="97.06" y2="413.10" stroke="#808080" stroke-width="1.00"/><line x1="97.06" y1="242.00" x2="97.06" y2="239.40" stroke="#808080" stroke-width="1.00"/><line x1="156.38" y1="410.50" x2="156.38" y2="413.10" stroke="#808080" stroke-width="1.00"/><line x1="156.38" y1="242.00" x2="156.38" y2="239.40" stroke="#808080" stroke-width="1.00"/><line x1="215.71" y1="410.50" x2="215.71" y2="413.10" stroke="#808080" stroke-width="1.00"/><line x1="215.71" y1="242.00" x2="215.71" y2="239.40" stroke="#808080" stroke-width="1.00"/><line x1="29.20" y1="242.00" x2="31.80" y2="242.00" stroke="#808080" stroke-width="1.00"/><line x1="269.10" y1="242.00" x2="271.70" y2="242.00" stroke="#808080" stroke-width="1.00"/><line x1="29.20" y1="284.12" x2="31.80" y2="284.12" stroke="#808080" stroke-width="1.00"/><line x1="269.10" y1="284.12" x2="271.70" y2="284.12" stroke="#808080" stroke-width="1.00"/><line x1="29.20" y1="326.25" x2="31.80" y2="326.25" stroke="#808080" stroke-width="1.00"/><line x1="269.10" y1="326.25" x2="271.70" y2="326.25" stroke="#808080" stroke-width="1.00"/><line x1="29.20" y1="368.38" x2="31.80" y2="368.38" stroke="#808080" stroke-width="1.00"/><line x1="269.10" y1="368.38" x2="271.70" y2="368.38" stroke="#808080" stroke-width="1.00"/><line x1="29.20" y1="410.50" x2="31.80" y2="410.50" stroke="#808080" stroke-width="1.00"/><line x1="269.10" y1="410.50" x2="271.70" y2="410.50" stroke="#808080" stroke-width="1.00"/><rect x="275.80" y="242.00" width="12.00" height="167.90" fill="none" stroke="#303030" stroke-width="0.8"/><line x1="285.80" y1="260.66" x2="287.80" y2="260.66" stroke="#303030" stroke-width="0.80"/><line x1="285.80" y1="297.97" x2="287.80" y2="297.97" stroke="#303030" stroke-width="0.80"/><line x1="285.80" y1="335.28" x2="287.80" y2="335.28" stroke="#303030" stroke-width="0.80"/><line x1="285.80" y1="372.59" x2="287.80" y2="372.59" stroke="#303030" stroke-width="0.80"/><line x1="285.80" y1="409.90" x2="287.80" y2="409.90" stroke="#303030" stroke-width="0.80"/><rect x="390.00" y="242.00" width="236.60" height="168.50" fill="none" stroke="#808080" stroke-width="1"/><line x1="395.92" y1="410.50" x2="395.92" y2="413.10" stroke="#808080" stroke-width="1.00"/><line x1="395.92" y1="242.00" x2="395.92" y2="239.40" stroke="#808080" stroke-width="1.00"/><line x1="455.06" y1="410.50" x2="455.06" y2="413.10" stroke="#808080" stroke-width="1.00"/><line x1="455.06" y1="242.00" x2="455.06" y2="239.40" stroke="#808080" stroke-width="1.00"/><line x1="514.22" y1="410.50" x2="514.22" y2="413.10" stroke="#808080" stroke-width="1.00"/><line x1="514.22" y1="242.00" x2="514.22" y2="239.40" stroke="#808080" stroke-width="1.00"/><line x1="573.37" y1="410.50" x2="573.37" y2="413.10" stroke="#808080" stroke-width="1.00"/><line x1="573.37" y1="242.00" x2="573.37" y2="239.40" stroke="#808080" stroke-width="1.00"/><line x1="387.40" y1="242.00" x2="390.00" y2="242.00" stroke="#808080" stroke-width="1.00"/><line x1="626.60" y1="242.00" x2="629.20" y2="242.00" stroke="#808080" stroke-width="1.00"/><line x1="387.40" y1="284.12" x2="390.00" y2="284.12" stroke="#808080" stroke-width="1.00"/><line x1="626.60" y1="284.12" x2="629.20" y2="284.12" stroke="#808080" stroke-width="1.00"/><line x1="387.40" y1="326.25" x2="390.00" y2="326.25" stroke="#808080" stroke-width="1.00"/><line x1="626.60" y1="326.25" x2="629.20" y2="326.25" stroke="#808080" stroke-width="1.00"/><line x1="387.40" y1="368.38" x2="390.00" y2="368.38" stroke="#808080" stroke-width="1.00"/><line x1="626.60" y1="368.38" x2="629.20" y2="368.38" stroke="#808080" stroke-width="1.00"/><line x1="387.40" y1="410.50" x2="390.00" y2="410.50" stroke="#808080" stroke-width="1.00"/><line x1="626.60" y1="410.50" x2="629.20" y2="410.50" stroke="#808080" stroke-width="1.00"/><rect x="634.00" y="242.00" width="11.80" height="167.90" fill="none" stroke="#303030" stroke-width="0.8"/><line x1="643.80" y1="260.66" x2="645.80" y2="260.66" stroke="#303030" stroke-width="0.80"/><line x1="643.80" y1="297.97" x2="645.80" y2="297.97" stroke="#303030" stroke-width="0.80"/><line x1="643.80" y1="335.28" x2="645.80" y2="335.28" stroke="#303030" stroke-width="0.80"/><line x1="643.80" y1="372.59" x2="645.80" y2="372.59" stroke="#303030" stroke-width="0.80"/><line x1="643.80" y1="409.90" x2="645.80" y2="409.90" stroke="#303030" stroke-width="0.80"/><path d="M41.3 508.1h2v2h-2zM41.3 514.4h2v2h-2zM41.3 520.8h2v2h-2zM41.3 527.1h2v2h-2zM41.3 533.4h2v2h-2zM41.3 539.8h2v2h-2zM41.3 546.1h2v2h-2zM41.3 552.4h2v2h-2zM41.3 558.8h2v2h-2zM41.3 565.1h2v2h-2zM41.3 571.4h2v2h-2zM41.3 577.8h2v2h-2zM41.3 584.1h2v2h-2zM41.3 590.4h2v2h-2zM41.3 596.7h2v2h-2zM41.3 603.1h2v2h-2zM41.3 609.4h2v2h-2zM41.3 615.7h2v2h-2zM112.1 501.0h2v2h-2zM112.1 507.4h2v2h-2zM112.1 513.8h2v2h-2zM112.1 520.2h2v2h-2zM112.1 526.6h2v2h-2zM112.1 533.0h2v2h-2zM112.1 539.3h2v2h-2zM112.1 545.7h2v2h-2zM112.1 552.1h2v2h-2zM112.1 558.5h2v2h-2zM112.1 564.9h2v2h-2zM112.1 571.3h2v2h-2zM112.1 577.7h2v2h-2zM112.1 584.1h2v2h-2zM112.1 590.5h2v2h-2zM112.1 596.9h2v2h-2zM112.1 603.2h2v2h-2zM112.1 609.6h2v2h-2zM112.1 616.0h2v2h-2zM112.1 622.4h2v2h-2zM148.8 477.2h2v2h-2zM148.8 483.5h2v2h-2zM148.8 489.8h2v2h-2zM148.8 496.1h2v2h-2zM148.8 502.4h2v2h-2zM148.8 508.7h2v2h-2zM148.8 515.0h2v2h-2zM148.8 521.3h2v2h-2zM148.8 527.6h2v2h-2zM148.8 533.9h2v2h-2zM148.8 540.2h2v2h-2zM148.8 546.5h2v2h-2zM148.8 552.8h2v2h-2zM148.8 559.1h2v2h-2zM148.8 565.4h2v2h-2zM148.8 571.7h2v2h-2zM148.8 578.0h2v2h-2zM148.8 584.3h2v2h-2zM148.8 590.6h2v2h-2zM148.8 596.9h2v2h-2zM148.8 603.2h2v2h-2zM188.2 496.0h2v2h-2zM188.2 502.3h2v2h-2zM188.2 508.6h2v2h-2zM188.2 515.0h2v2h-2zM188.2 521.3h2v2h-2zM188.2 527.6h2v2h-2zM188.2 533.9h2v2h-2zM188.2 540.2h2v2h-2zM188.2 546.6h2v2h-2zM188.2 552.9h2v2h-2zM188.2 559.2h2v2h-2zM188.2 565.5h2v2h-2zM188.2 571.8h2v2h-2zM188.2 578.2h2v2h-2zM188.2 584.5h2v2h-2zM188.2 590.8h2v2h-2zM188.2 597.1h2v2h-2zM188.2 603.5h2v2h-2zM188.2 609.8h2v2h-2zM188.2 616.1h2v2h-2zM188.2 622.4h2v2h-2zM264.6 477.2h2v2h-2zM264.6 483.5h2v2h-2zM264.6 489.8h2v2h-2zM264.6 496.2h2v2h-2zM264.6 502.5h2v2h-2zM264.6 508.8h2v2h-2zM264.6 515.1h2v2h-2zM264.6 521.4h2v2h-2zM264.6 527.7h2v2h-2zM264.6 534.0h2v2h-2zM264.6 540.3h2v2h-2zM264.6 546.7h2v2h-2zM264.6 553.0h2v2h-2zM264.6 559.3h2v2h-2zM264.6 565.6h2v2h-2zM264.6 571.9h2v2h-2zM264.6 578.2h2v2h-2zM264.6 584.5h2v2h-2zM264.6 590.9h2v2h-2zM264.6 597.2h2v2h-2zM264.6 603.5h2v2h-2zM264.6 609.8h2v2h-2zM264.6 616.1h2v2h-2zM264.6 622.4h2v2h-2z" fill="#000"/><rect x="36.40" y="465.70" width="235.10" height="166.90" fill="none" stroke="#808080" stroke-width="1"/><line x1="42.28" y1="632.60" x2="42.28" y2="635.20" stroke="#808080" stroke-width="1.00"/><line x1="42.28" y1="465.70" x2="42.28" y2="463.10" stroke="#808080" stroke-width="1.00"/><line x1="101.05" y1="632.60" x2="101.05" y2="635.20" stroke="#808080" stroke-width="1.00"/><line x1="101.05" y1="465.70" x2="101.05" y2="463.10" stroke="#808080" stroke-width="1.00"/><line x1="159.83" y1="632.60" x2="159.83" y2="635.20" stroke="#808080" stroke-width="1.00"/><line x1="159.83" y1="465.70" x2="159.83" y2="463.10" stroke="#808080" stroke-width="1.00"/><line x1="218.60" y1="632.60" x2="218.60" y2="635.20" stroke="#808080" stroke-width="1.00"/><line x1="218.60" y1="465.70" x2="218.60" y2="463.10" stroke="#808080" stroke-width="1.00"/><line x1="33.80" y1="465.70" x2="36.40" y2="465.70" stroke="#808080" stroke-width="1.00"/><line x1="271.50" y1="465.70" x2="274.10" y2="465.70" stroke="#808080" stroke-width="1.00"/><line x1="33.80" y1="507.43" x2="36.40" y2="507.43" stroke="#808080" stroke-width="1.00"/><line x1="271.50" y1="507.43" x2="274.10" y2="507.43" stroke="#808080" stroke-width="1.00"/><line x1="33.80" y1="549.15" x2="36.40" y2="549.15" stroke="#808080" stroke-width="1.00"/><line x1="271.50" y1="549.15" x2="274.10" y2="549.15" stroke="#808080" stroke-width="1.00"/><line x1="33.80" y1="590.88" x2="36.40" y2="590.88" stroke="#808080" stroke-width="1.00"/><line x1="271.50" y1="590.88" x2="274.10" y2="590.88" stroke="#808080" stroke-width="1.00"/><line x1="33.80" y1="632.60" x2="36.40" y2="632.60" stroke="#808080" stroke-width="1.00"/><line x1="271.50" y1="632.60" x2="274.10" y2="632.60" stroke="#808080" stroke-width="1.00"/><rect x="278.50" y="465.70" width="12.00" height="166.30" fill="none" stroke="#303030" stroke-width="0.8"/><line x1="288.50" y1="465.70" x2="290.50" y2="465.70" stroke="#303030" stroke-width="0.80"/><line x1="288.50" y1="507.27" x2="290.50" y2="507.27" stroke="#303030" stroke-width="0.80"/><line x1="288.50" y1="548.85" x2="290.50" y2="548.85" stroke="#303030" stroke-width="0.80"/><line x1="288.50" y1="590.42" x2="290.50" y2="590.42" stroke="#303030" stroke-width="0.80"/><line x1="288.50" y1="632.00" x2="290.50" y2="632.00" stroke="#303030" stroke-width="0.80"/><rect x="391.70" y="465.60" width="234.90" height="167.10" fill="none" stroke="#808080" stroke-width="1"/><line x1="397.57" y1="632.70" x2="397.57" y2="635.30" stroke="#808080" stroke-width="1.00"/><line x1="397.57" y1="465.60" x2="397.57" y2="463.00" stroke="#808080" stroke-width="1.00"/><line x1="456.30" y1="632.70" x2="456.30" y2="635.30" stroke="#808080" stroke-width="1.00"/><line x1="456.30" y1="465.60" x2="456.30" y2="463.00" stroke="#808080" stroke-width="1.00"/><line x1="515.02" y1="632.70" x2="515.02" y2="635.30" stroke="#808080" stroke-width="1.00"/><line x1="515.02" y1="465.60" x2="515.02" y2="463.00" stroke="#808080" stroke-width="1.00"/><line x1="573.75" y1="632.70" x2="573.75" y2="635.30" stroke="#808080" stroke-width="1.00"/><line x1="573.75" y1="465.60" x2="573.75" y2="463.00" stroke="#808080" stroke-width="1.00"/><line x1="389.10" y1="465.60" x2="391.70" y2="465.60" stroke="#808080" stroke-width="1.00"/><line x1="626.60" y1="465.60" x2="629.20" y2="465.60" stroke="#808080" stroke-width="1.00"/><line x1="389.10" y1="507.38" x2="391.70" y2="507.38" stroke="#808080" stroke-width="1.00"/><line x1="626.60" y1="507.38" x2="629.20" y2="507.38" stroke="#808080" stroke-width="1.00"/><line x1="389.10" y1="549.15" x2="391.70" y2="549.15" stroke="#808080" stroke-width="1.00"/><line x1="626.60" y1="549.15" x2="629.20" y2="549.15" stroke="#808080" stroke-width="1.00"/><line x1="389.10" y1="590.93" x2="391.70" y2="590.93" stroke="#808080" stroke-width="1.00"/><line x1="626.60" y1="590.93" x2="629.20" y2="590.93" stroke="#808080" stroke-width="1.00"/><line x1="389.10" y1="632.70" x2="391.70" y2="632.70" stroke="#808080" stroke-width="1.00"/><line x1="626.60" y1="632.70" x2="629.20" y2="632.70" stroke="#808080" stroke-width="1.00"/><rect x="633.10" y="465.60" width="12.00" height="166.50" fill="none" stroke="#303030" stroke-width="0.8"/><line x1="643.10" y1="465.60" x2="645.10" y2="465.60" stroke="#303030" stroke-width="0.80"/><line x1="643.10" y1="507.23" x2="645.10" y2="507.23" stroke="#303030" stroke-width="0.80"/><line x1="643.10" y1="548.85" x2="645.10" y2="548.85" stroke="#303030" stroke-width="0.80"/><line x1="643.10" y1="590.48" x2="645.10" y2="590.48" stroke="#303030" stroke-width="0.80"/><line x1="643.10" y1="632.10" x2="645.10" y2="632.10" stroke="#303030" stroke-width="0.80"/><path d="M41.3 740.6h2v2h-2zM41.3 747.0h2v2h-2zM41.3 753.3h2v2h-2zM41.3 759.6h2v2h-2zM41.3 765.9h2v2h-2zM41.3 772.3h2v2h-2zM41.3 778.6h2v2h-2zM41.3 784.9h2v2h-2zM41.3 791.2h2v2h-2zM41.3 797.6h2v2h-2zM41.3 803.9h2v2h-2zM41.3 810.2h2v2h-2zM41.3 816.5h2v2h-2zM41.3 822.9h2v2h-2zM41.3 829.2h2v2h-2zM41.3 835.5h2v2h-2zM41.3 841.8h2v2h-2zM41.3 848.2h2v2h-2zM112.1 733.6h2v2h-2zM112.1 739.9h2v2h-2zM112.1 746.3h2v2h-2zM112.1 752.7h2v2h-2zM112.1 759.1h2v2h-2zM112.1 765.5h2v2h-2zM112.1 771.9h2v2h-2zM112.1 778.2h2v2h-2zM112.1 784.6h2v2h-2zM112.1 791.0h2v2h-2zM112.1 797.4h2v2h-2zM112.1 803.8h2v2h-2zM112.1 810.2h2v2h-2zM112.1 816.5h2v2h-2zM112.1 822.9h2v2h-2zM112.1 829.3h2v2h-2zM112.1 835.7h2v2h-2zM112.1 842.1h2v2h-2zM112.1 848.4h2v2h-2zM112.1 854.8h2v2h-2zM148.8 709.8h2v2h-2zM148.8 716.1h2v2h-2zM148.8 722.4h2v2h-2zM148.8 728.7h2v2h-2zM148.8 735.0h2v2h-2zM148.8 741.3h2v2h-2zM148.8 747.6h2v2h-2zM148.8 753.9h2v2h-2zM148.8 760.1h2v2h-2zM148.8 766.4h2v2h-2zM148.8 772.7h2v2h-2zM148.8 779.0h2v2h-2zM148.8 785.3h2v2h-2zM148.8 791.6h2v2h-2zM148.8 797.9h2v2h-2zM148.8 804.2h2v2h-2zM148.8 810.5h2v2h-2zM148.8 816.8h2v2h-2zM148.8 823.1h2v2h-2zM148.8 829.4h2v2h-2zM148.8 835.7h2v2h-2zM188.2 728.6h2v2h-2zM188.2 734.9h2v2h-2zM188.2 741.2h2v2h-2zM188.2 747.5h2v2h-2zM188.2 753.8h2v2h-2zM188.2 760.1h2v2h-2zM188.2 766.4h2v2h-2zM188.2 772.8h2v2h-2zM188.2 779.1h2v2h-2zM188.2 785.4h2v2h-2zM188.2 791.7h2v2h-2zM188.2 798.0h2v2h-2zM188.2 804.3h2v2h-2zM188.2 810.6h2v2h-2zM188.2 816.9h2v2h-2zM188.2 823.3h2v2h-2zM188.2 829.6h2v2h-2zM188.2 835.9h2v2h-2zM188.2 842.2h2v2h-2zM188.2 848.5h2v2h-2zM188.2 854.8h2v2h-2zM264.6 709.8h2v2h-2zM264.6 716.1h2v2h-2zM264.6 722.4h2v2h-2zM264.6 728.7h2v2h-2zM264.6 735.0h2v2h-2zM264.6 741.3h2v2h-2zM264.6 747.6h2v2h-2zM264.6 753.9h2v2h-2zM264.6 760.2h2v2h-2zM264.6 766.6h2v2h-2zM264.6 772.9h2v2h-2zM264.6 779.2h2v2h-2zM264.6 785.5h2v2h-2zM264.6 791.8h2v2h-2zM264.6 798.1h2v2h-2zM264.6 804.4h2v2h-2zM264.6 810.7h2v2h-2zM264.6 817.0h2v2h-2zM264.6 823.3h2v2h-2zM264.6 829.6h2v2h-2zM264.6 835.9h2v2h-2zM264.6 842.2h2v2h-2zM264.6 848.5h2v2h-2zM264.6 854.8h2v2h-2z" fill="#000"/><rect x="36.40" y="698.30" width="235.10" height="166.70" fill="none" stroke="#808080" stroke-width="1"/><line x1="42.28" y1="865.00" x2="42.28" y2="867.60" stroke="#808080" stroke-width="1.00"/><line x1="42.28" y1="698.30" x2="42.28" y2="695.70" stroke="#808080" stroke-width="1.00"/><line x1="101.05" y1="865.00" x2="101.05" y2="867.60" stroke="#808080" stroke-width="1.00"/><line x1="101.05" y1="698.30" x2="101.05" y2="695.70" stroke="#808080" stroke-width="1.00"/><line x1="159.83" y1="865.00" x2="159.83" y2="867.60" stroke="#808080" stroke-width="1.00"/><line x1="159.83" y1="698.30" x2="159.83" y2="695.70" stroke="#808080" stroke-width="1.00"/><line x1="218.60" y1="865.00" x2="218.60" y2="867.60" stroke="#808080" stroke-width="1.00"/><line x1="218.60" y1="698.30" x2="218.60" y2="695.70" stroke="#808080" stroke-width="1.00"/><line x1="33.80" y1="698.30" x2="36.40" y2="698.30" stroke="#808080" stroke-width="1.00"/><line x1="271.50" y1="698.30" x2="274.10" y2="698.30" stroke="#808080" stroke-width="1.00"/><line x1="33.80" y1="739.97" x2="36.40" y2="739.97" stroke="#808080" stroke-width="1.00"/><line x1="271.50" y1="739.97" x2="274.10" y2="739.97" stroke="#808080" stroke-width="1.00"/><line x1="33.80" y1="781.65" x2="36.40" y2="781.65" stroke="#808080" stroke-width="1.00"/><line x1="271.50" y1="781.65" x2="274.10" y2="781.65" stroke="#808080" stroke-width="1.00"/><line x1="33.80" y1="823.33" x2="36.40" y2="823.33" stroke="#808080" stroke-width="1.00"/><line x1="271.50" y1="823.33" x2="274.10" y2="823.33" stroke="#808080" stroke-width="1.00"/><line x1="33.80" y1="865.00" x2="36.40" y2="865.00" stroke="#808080" stroke-width="1.00"/><line x1="271.50" y1="865.00" x2="274.10" y2="865.00" stroke="#808080" stroke-width="1.00"/><rect x="278.50" y="698.30" width="12.00" height="166.10" fill="none" stroke="#303030" stroke-width="0.8"/><line x1="288.50" y1="716.76" x2="290.50" y2="716.76" stroke="#303030" stroke-width="0.80"/><line x1="288.50" y1="753.67" x2="290.50" y2="753.67" stroke="#303030" stroke-width="0.80"/><line x1="288.50" y1="790.58" x2="290.50" y2="790.58" stroke="#303030" stroke-width="0.80"/><line x1="288.50" y1="827.49" x2="290.50" y2="827.49" stroke="#303030" stroke-width="0.80"/><line x1="288.50" y1="864.40" x2="290.50" y2="864.40" stroke="#303030" stroke-width="0.80"/><rect x="391.70" y="698.20" width="234.90" height="166.80" fill="none" stroke="#808080" stroke-width="1"/><line x1="397.57" y1="865.00" x2="397.57" y2="867.60" stroke="#808080" stroke-width="1.00"/><line x1="397.57" y1="698.20" x2="397.57" y2="695.60" stroke="#808080" stroke-width="1.00"/><line x1="456.30" y1="865.00" x2="456.30" y2="867.60" stroke="#808080" stroke-width="1.00"/><line x1="456.30" y1="698.20" x2="456.30" y2="695.60" stroke="#808080" stroke-width="1.00"/><line x1="515.02" y1="865.00" x2="515.02" y2="867.60" stroke="#808080" stroke-width="1.00"/><line x1="515.02" y1="698.20" x2="515.02" y2="695.60" stroke="#808080" stroke-width="1.00"/><line x1="573.75" y1="865.00" x2="573.75" y2="867.60" stroke="#808080" stroke-width="1.00"/><line x1="573.75" y1="698.20" x2="573.75" y2="695.60" stroke="#808080" stroke-width="1.00"/><line x1="389.10" y1="698.20" x2="391.70" y2="698.20" stroke="#808080" stroke-width="1.00"/><line x1="626.60" y1="698.20" x2="629.20" y2="698.20" stroke="#808080" stroke-width="1.00"/><line x1="389.10" y1="739.90" x2="391.70" y2="739.90" stroke="#808080" stroke-width="1.00"/><line x1="626.60" y1="739.90" x2="629.20" y2="739.90" stroke="#808080" stroke-width="1.00"/><line x1="389.10" y1="781.60" x2="391.70" y2="781.60" stroke="#808080" stroke-width="1.00"/><line x1="626.60" y1="781.60" x2="629.20" y2="781.60" stroke="#808080" stroke-width="1.00"/><line x1="389.10" y1="823.30" x2="391.70" y2="823.30" stroke="#808080" stroke-width="1.00"/><line x1="626.60" y1="823.30" x2="629.20" y2="823.30" stroke="#808080" stroke-width="1.00"/><line x1="389.10" y1="865.00" x2="391.70" y2="865.00" stroke="#808080" stroke-width="1.00"/><line x1="626.60" y1="865.00" x2="629.20" y2="865.00" stroke="#808080" stroke-width="1.00"/><rect x="633.10" y="698.20" width="12.00" height="166.20" fill="none" stroke="#303030" stroke-width="0.8"/><line x1="643.10" y1="716.67" x2="645.10" y2="716.67" stroke="#303030" stroke-width="0.80"/><line x1="643.10" y1="753.60" x2="645.10" y2="753.60" stroke="#303030" stroke-width="0.80"/><line x1="643.10" y1="790.53" x2="645.10" y2="790.53" stroke="#303030" stroke-width="0.80"/><line x1="643.10" y1="827.47" x2="645.10" y2="827.47" stroke="#303030" stroke-width="0.80"/><line x1="643.10" y1="864.40" x2="645.10" y2="864.40" stroke="#303030" stroke-width="0.80"/></svg>
<div id="tx">
<div class="t" style="left:37.73px;transform:translateX(-50%);top:185.98px;font-size:10.3px">0</div>
<div class="t" style="left:97.06px;transform:translateX(-50%);top:185.98px;font-size:10.3px">10</div>
<div class="t" style="left:156.38px;transform:translateX(-50%);top:185.98px;font-size:10.3px">20</div>
<div class="t" style="left:215.71px;transform:translateX(-50%);top:185.98px;font-size:10.3px">30</div>
<div class="t" style="right:660.10px;top:3.88px;font-size:10.3px">0</div>
<div class="t" style="right:660.10px;top:46.11px;font-size:10.3px">1</div>
<div class="t" style="right:660.10px;top:88.33px;font-size:10.3px">2</div>
<div class="t" style="right:660.10px;top:130.56px;font-size:10.3px">3</div>
<div class="t" style="right:660.10px;top:172.78px;font-size:10.3px">4</div>
<div class="t" style="left:150.95px;transform:translateX(-50%);top:199.40px;font-size:11.7px">Distance (m)</div>
<div class="t" style="left:0.31px;top:91.55px;font-size:11.8px;transform-origin:0 0;transform:rotate(-90deg) translateX(-50%)">log<span class="sb" style="font-size:8.3px;top:5.4px">10</span> period (s)</div>
<div class="t" style="left:40.93px;top:8.90px;font-size:11.7px;color:#111;transform-origin:0 9.90px;transform:rotate(-45deg)">s05</div>
<div class="t" style="left:112.42px;top:8.90px;font-size:11.7px;color:#111;transform-origin:0 9.90px;transform:rotate(-45deg)">s06</div>
<div class="t" style="left:149.50px;top:8.90px;font-size:11.7px;color:#111;transform-origin:0 9.90px;transform:rotate(-45deg)">s07</div>
<div class="t" style="left:189.25px;top:8.90px;font-size:11.7px;color:#111;transform-origin:0 9.90px;transform:rotate(-45deg)">s08</div>
<div class="t" style="left:266.37px;top:8.90px;font-size:11.7px;color:#111;transform-origin:0 9.90px;transform:rotate(-45deg)">s09</div>
<div class="t" style="left:291.80px;top:4.18px;font-size:10.3px;transform:scaleX(0.9);transform-origin:0 0">1</div>
<div class="t" style="left:291.80px;top:46.26px;font-size:10.3px;transform:scaleX(0.9);transform-origin:0 0">0.5</div>
<div class="t" style="left:291.80px;top:88.33px;font-size:10.3px;transform:scaleX(0.9);transform-origin:0 0">0</div>
<div class="t" style="left:291.80px;top:130.41px;font-size:10.3px;transform:scaleX(0.9);transform-origin:0 0">-0.5</div>
<div class="t" style="left:291.80px;top:172.48px;font-size:10.3px;transform:scaleX(0.9);transform-origin:0 0">-1</div>
<div class="t" style="left:312.24px;top:92.65px;font-size:11.3px;transform-origin:0 0;transform:rotate(-90deg) translateX(-50%)">log<span class="sb" style="font-size:8px;top:5.2px">10</span> (<i class="g">ρ</i>)&nbsp;&nbsp; [Ohm-m]</div>
<div class="t" style="left:395.92px;transform:translateX(-50%);top:185.98px;font-size:10.3px">0</div>
<div class="t" style="left:455.06px;transform:translateX(-50%);top:185.98px;font-size:10.3px">10</div>
<div class="t" style="left:514.22px;transform:translateX(-50%);top:185.98px;font-size:10.3px">20</div>
<div class="t" style="left:573.37px;transform:translateX(-50%);top:185.98px;font-size:10.3px">30</div>
<div class="t" style="right:301.90px;top:3.88px;font-size:10.3px">0</div>
<div class="t" style="right:301.90px;top:46.11px;font-size:10.3px">1</div>
<div class="t" style="right:301.90px;top:88.33px;font-size:10.3px">2</div>
<div class="t" style="right:301.90px;top:130.56px;font-size:10.3px">3</div>
<div class="t" style="right:301.90px;top:172.78px;font-size:10.3px">4</div>
<div class="t" style="left:508.80px;transform:translateX(-50%);top:199.40px;font-size:11.7px">Distance (m)</div>
<div class="t" style="left:358.51px;top:91.55px;font-size:11.8px;transform-origin:0 0;transform:rotate(-90deg) translateX(-50%)">log<span class="sb" style="font-size:8.3px;top:5.4px">10</span> period (s)</div>
<div class="t" style="left:399.12px;top:8.90px;font-size:11.7px;color:#111;transform-origin:0 9.90px;transform:rotate(-45deg)">s05</div>
<div class="t" style="left:470.39px;top:8.90px;font-size:11.7px;color:#111;transform-origin:0 9.90px;transform:rotate(-45deg)">s06</div>
<div class="t" style="left:507.36px;top:8.90px;font-size:11.7px;color:#111;transform-origin:0 9.90px;transform:rotate(-45deg)">s07</div>
<div class="t" style="left:546.99px;top:8.90px;font-size:11.7px;color:#111;transform-origin:0 9.90px;transform:rotate(-45deg)">s08</div>
<div class="t" style="left:623.89px;top:8.90px;font-size:11.7px;color:#111;transform-origin:0 9.90px;transform:rotate(-45deg)">s09</div>
<div class="t" style="left:649.60px;top:4.18px;font-size:10.3px;transform:scaleX(0.9);transform-origin:0 0">1</div>
<div class="t" style="left:649.60px;top:46.26px;font-size:10.3px;transform:scaleX(0.9);transform-origin:0 0">0.5</div>
<div class="t" style="left:649.60px;top:88.33px;font-size:10.3px;transform:scaleX(0.9);transform-origin:0 0">0</div>
<div class="t" style="left:649.60px;top:130.41px;font-size:10.3px;transform:scaleX(0.9);transform-origin:0 0">-0.5</div>
<div class="t" style="left:649.60px;top:172.48px;font-size:10.3px;transform:scaleX(0.9);transform-origin:0 0">-1</div>
<div class="t" style="left:670.04px;top:92.65px;font-size:11.3px;transform-origin:0 0;transform:rotate(-90deg) translateX(-50%)">log<span class="sb" style="font-size:8px;top:5.2px">10</span> (<i class="g">ρ</i>)&nbsp;&nbsp; [Ohm-m]</div>
<div class="t" style="left:37.73px;transform:translateX(-50%);top:420.18px;font-size:10.3px">0</div>
<div class="t" style="left:97.06px;transform:translateX(-50%);top:420.18px;font-size:10.3px">10</div>
<div class="t" style="left:156.38px;transform:translateX(-50%);top:420.18px;font-size:10.3px">20</div>
<div class="t" style="left:215.71px;transform:translateX(-50%);top:420.18px;font-size:10.3px">30</div>
<div class="t" style="right:660.10px;top:238.48px;font-size:10.3px">0</div>
<div class="t" style="right:660.10px;top:280.61px;font-size:10.3px">1</div>
<div class="t" style="right:660.10px;top:322.73px;font-size:10.3px">2</div>
<div class="t" style="right:660.10px;top:364.86px;font-size:10.3px">3</div>
<div class="t" style="right:660.10px;top:406.98px;font-size:10.3px">4</div>
<div class="t" style="left:150.95px;transform:translateX(-50%);top:433.60px;font-size:11.7px">Distance (m)</div>
<div class="t" style="left:0.31px;top:325.95px;font-size:11.8px;transform-origin:0 0;transform:rotate(-90deg) translateX(-50%)">log<span class="sb" style="font-size:8.3px;top:5.4px">10</span> period (s)</div>
<div class="t" style="left:40.93px;top:243.50px;font-size:11.7px;color:#111;transform-origin:0 9.90px;transform:rotate(-45deg)">s05</div>
<div class="t" style="left:112.42px;top:243.50px;font-size:11.7px;color:#111;transform-origin:0 9.90px;transform:rotate(-45deg)">s06</div>
<div class="t" style="left:149.50px;top:243.50px;font-size:11.7px;color:#111;transform-origin:0 9.90px;transform:rotate(-45deg)">s07</div>
<div class="t" style="left:189.25px;top:243.50px;font-size:11.7px;color:#111;transform-origin:0 9.90px;transform:rotate(-45deg)">s08</div>
<div class="t" style="left:266.37px;top:243.50px;font-size:11.7px;color:#111;transform-origin:0 9.90px;transform:rotate(-45deg)">s09</div>
<div class="t" style="left:291.60px;top:257.44px;font-size:10.3px;transform:scaleX(0.9);transform-origin:0 0">80</div>
<div class="t" style="left:291.60px;top:294.75px;font-size:10.3px;transform:scaleX(0.9);transform-origin:0 0">60</div>
<div class="t" style="left:291.60px;top:332.06px;font-size:10.3px;transform:scaleX(0.9);transform-origin:0 0">40</div>
<div class="t" style="left:291.60px;top:369.37px;font-size:10.3px;transform:scaleX(0.9);transform-origin:0 0">20</div>
<div class="t" style="left:291.60px;top:406.68px;font-size:10.3px;transform:scaleX(0.9);transform-origin:0 0">0</div>
<div class="t" style="left:306.44px;top:327.05px;font-size:11.3px;transform-origin:0 0;transform:rotate(-90deg) translateX(-50%)"><i class="g" style="font-size:1.08em">ϕ</i>&nbsp; [°]</div>
<div class="t" style="left:395.92px;transform:translateX(-50%);top:420.18px;font-size:10.3px">0</div>
<div class="t" style="left:455.06px;transform:translateX(-50%);top:420.18px;font-size:10.3px">10</div>
<div class="t" style="left:514.22px;transform:translateX(-50%);top:420.18px;font-size:10.3px">20</div>
<div class="t" style="left:573.37px;transform:translateX(-50%);top:420.18px;font-size:10.3px">30</div>
<div class="t" style="right:301.90px;top:238.48px;font-size:10.3px">0</div>
<div class="t" style="right:301.90px;top:280.61px;font-size:10.3px">1</div>
<div class="t" style="right:301.90px;top:322.73px;font-size:10.3px">2</div>
<div class="t" style="right:301.90px;top:364.86px;font-size:10.3px">3</div>
<div class="t" style="right:301.90px;top:406.98px;font-size:10.3px">4</div>
<div class="t" style="left:508.80px;transform:translateX(-50%);top:433.60px;font-size:11.7px">Distance (m)</div>
<div class="t" style="left:358.51px;top:325.95px;font-size:11.8px;transform-origin:0 0;transform:rotate(-90deg) translateX(-50%)">log<span class="sb" style="font-size:8.3px;top:5.4px">10</span> period (s)</div>
<div class="t" style="left:399.12px;top:243.50px;font-size:11.7px;color:#111;transform-origin:0 9.90px;transform:rotate(-45deg)">s05</div>
<div class="t" style="left:470.39px;top:243.50px;font-size:11.7px;color:#111;transform-origin:0 9.90px;transform:rotate(-45deg)">s06</div>
<div class="t" style="left:507.36px;top:243.50px;font-size:11.7px;color:#111;transform-origin:0 9.90px;transform:rotate(-45deg)">s07</div>
<div class="t" style="left:546.99px;top:243.50px;font-size:11.7px;color:#111;transform-origin:0 9.90px;transform:rotate(-45deg)">s08</div>
<div class="t" style="left:623.89px;top:243.50px;font-size:11.7px;color:#111;transform-origin:0 9.90px;transform:rotate(-45deg)">s09</div>
<div class="t" style="left:649.60px;top:257.44px;font-size:10.3px;transform:scaleX(0.9);transform-origin:0 0">80</div>
<div class="t" style="left:649.60px;top:294.75px;font-size:10.3px;transform:scaleX(0.9);transform-origin:0 0">60</div>
<div class="t" style="left:649.60px;top:332.06px;font-size:10.3px;transform:scaleX(0.9);transform-origin:0 0">40</div>
<div class="t" style="left:649.60px;top:369.37px;font-size:10.3px;transform:scaleX(0.9);transform-origin:0 0">20</div>
<div class="t" style="left:649.60px;top:406.68px;font-size:10.3px;transform:scaleX(0.9);transform-origin:0 0">0</div>
<div class="t" style="left:664.44px;top:327.05px;font-size:11.3px;transform-origin:0 0;transform:rotate(-90deg) translateX(-50%)"><i class="g" style="font-size:1.08em">ϕ</i>&nbsp; [°]</div>
<div class="t" style="left:42.28px;transform:translateX(-50%);top:642.28px;font-size:10.3px">0</div>
<div class="t" style="left:101.05px;transform:translateX(-50%);top:642.28px;font-size:10.3px">10</div>
<div class="t" style="left:159.83px;transform:translateX(-50%);top:642.28px;font-size:10.3px">20</div>
<div class="t" style="left:218.60px;transform:translateX(-50%);top:642.28px;font-size:10.3px">30</div>
<div class="t" style="right:655.50px;top:462.18px;font-size:10.3px">0</div>
<div class="t" style="right:655.50px;top:503.91px;font-size:10.3px">1</div>
<div class="t" style="right:655.50px;top:545.63px;font-size:10.3px">2</div>
<div class="t" style="right:655.50px;top:587.36px;font-size:10.3px">3</div>
<div class="t" style="right:655.50px;top:629.08px;font-size:10.3px">4</div>
<div class="t" style="left:154.45px;transform:translateX(-50%);top:655.70px;font-size:11.7px">Distance (m)</div>
<div class="t" style="left:4.91px;top:548.85px;font-size:11.8px;transform-origin:0 0;transform:rotate(-90deg) translateX(-50%)">log<span class="sb" style="font-size:8.3px;top:5.4px">10</span> period (s)</div>
<div class="t" style="left:45.48px;top:467.20px;font-size:11.7px;color:#111;transform-origin:0 9.90px;transform:rotate(-45deg)">s05</div>
<div class="t" style="left:116.30px;top:467.20px;font-size:11.7px;color:#111;transform-origin:0 9.90px;transform:rotate(-45deg)">s06</div>
<div class="t" style="left:153.04px;top:467.20px;font-size:11.7px;color:#111;transform-origin:0 9.90px;transform:rotate(-45deg)">s07</div>
<div class="t" style="left:192.41px;top:467.20px;font-size:11.7px;color:#111;transform-origin:0 9.90px;transform:rotate(-45deg)">s08</div>
<div class="t" style="left:268.82px;top:467.20px;font-size:11.7px;color:#111;transform-origin:0 9.90px;transform:rotate(-45deg)">s09</div>
<div class="t" style="left:294.30px;top:462.48px;font-size:10.3px;transform:scaleX(0.9);transform-origin:0 0">1</div>
<div class="t" style="left:294.30px;top:504.06px;font-size:10.3px;transform:scaleX(0.9);transform-origin:0 0">0.5</div>
<div class="t" style="left:294.30px;top:545.63px;font-size:10.3px;transform:scaleX(0.9);transform-origin:0 0">0</div>
<div class="t" style="left:294.30px;top:587.21px;font-size:10.3px;transform:scaleX(0.9);transform-origin:0 0">-0.5</div>
<div class="t" style="left:294.30px;top:628.78px;font-size:10.3px;transform:scaleX(0.9);transform-origin:0 0">-1</div>
<div class="t" style="left:314.74px;top:549.95px;font-size:11.3px;transform-origin:0 0;transform:rotate(-90deg) translateX(-50%)">log<span class="sb" style="font-size:8px;top:5.2px">10</span> (<i class="g">ρ</i>)&nbsp;&nbsp; [Ohm-m]</div>
<div class="t" style="left:397.57px;transform:translateX(-50%);top:642.38px;font-size:10.3px">0</div>
<div class="t" style="left:456.30px;transform:translateX(-50%);top:642.38px;font-size:10.3px">10</div>
<div class="t" style="left:515.02px;transform:translateX(-50%);top:642.38px;font-size:10.3px">20</div>
<div class="t" style="left:573.75px;transform:translateX(-50%);top:642.38px;font-size:10.3px">30</div>
<div class="t" style="right:300.20px;top:462.08px;font-size:10.3px">0</div>
<div class="t" style="right:300.20px;top:503.86px;font-size:10.3px">1</div>
<div class="t" style="right:300.20px;top:545.63px;font-size:10.3px">2</div>
<div class="t" style="right:300.20px;top:587.41px;font-size:10.3px">3</div>
<div class="t" style="right:300.20px;top:629.18px;font-size:10.3px">4</div>
<div class="t" style="left:509.65px;transform:translateX(-50%);top:655.80px;font-size:11.7px">Distance (m)</div>
<div class="t" style="left:360.21px;top:548.85px;font-size:11.8px;transform-origin:0 0;transform:rotate(-90deg) translateX(-50%)">log<span class="sb" style="font-size:8.3px;top:5.4px">10</span> period (s)</div>
<div class="t" style="left:400.77px;top:467.10px;font-size:11.7px;color:#111;transform-origin:0 9.90px;transform:rotate(-45deg)">s05</div>
<div class="t" style="left:471.54px;top:467.10px;font-size:11.7px;color:#111;transform-origin:0 9.90px;transform:rotate(-45deg)">s06</div>
<div class="t" style="left:508.24px;top:467.10px;font-size:11.7px;color:#111;transform-origin:0 9.90px;transform:rotate(-45deg)">s07</div>
<div class="t" style="left:547.59px;top:467.10px;font-size:11.7px;color:#111;transform-origin:0 9.90px;transform:rotate(-45deg)">s08</div>
<div class="t" style="left:623.93px;top:467.10px;font-size:11.7px;color:#111;transform-origin:0 9.90px;transform:rotate(-45deg)">s09</div>
<div class="t" style="left:648.90px;top:462.38px;font-size:10.3px;transform:scaleX(0.9);transform-origin:0 0">1</div>
<div class="t" style="left:648.90px;top:504.01px;font-size:10.3px;transform:scaleX(0.9);transform-origin:0 0">0.5</div>
<div class="t" style="left:648.90px;top:545.63px;font-size:10.3px;transform:scaleX(0.9);transform-origin:0 0">0</div>
<div class="t" style="left:648.90px;top:587.26px;font-size:10.3px;transform:scaleX(0.9);transform-origin:0 0">-0.5</div>
<div class="t" style="left:648.90px;top:628.88px;font-size:10.3px;transform:scaleX(0.9);transform-origin:0 0">-1</div>
<div class="t" style="left:669.34px;top:549.95px;font-size:11.3px;transform-origin:0 0;transform:rotate(-90deg) translateX(-50%)">log<span class="sb" style="font-size:8px;top:5.2px">10</span> (<i class="g">ρ</i>)&nbsp;&nbsp; [Ohm-m]</div>
<div class="t" style="left:42.28px;transform:translateX(-50%);top:874.68px;font-size:10.3px">0</div>
<div class="t" style="left:101.05px;transform:translateX(-50%);top:874.68px;font-size:10.3px">10</div>
<div class="t" style="left:159.83px;transform:translateX(-50%);top:874.68px;font-size:10.3px">20</div>
<div class="t" style="left:218.60px;transform:translateX(-50%);top:874.68px;font-size:10.3px">30</div>
<div class="t" style="right:655.50px;top:694.78px;font-size:10.3px">0</div>
<div class="t" style="right:655.50px;top:736.46px;font-size:10.3px">1</div>
<div class="t" style="right:655.50px;top:778.13px;font-size:10.3px">2</div>
<div class="t" style="right:655.50px;top:819.81px;font-size:10.3px">3</div>
<div class="t" style="right:655.50px;top:861.48px;font-size:10.3px">4</div>
<div class="t" style="left:154.45px;transform:translateX(-50%);top:888.10px;font-size:11.7px">Distance (m)</div>
<div class="t" style="left:4.91px;top:781.35px;font-size:11.8px;transform-origin:0 0;transform:rotate(-90deg) translateX(-50%)">log<span class="sb" style="font-size:8.3px;top:5.4px">10</span> period (s)</div>
<div class="t" style="left:45.48px;top:699.80px;font-size:11.7px;color:#111;transform-origin:0 9.90px;transform:rotate(-45deg)">s05</div>
<div class="t" style="left:116.30px;top:699.80px;font-size:11.7px;color:#111;transform-origin:0 9.90px;transform:rotate(-45deg)">s06</div>
<div class="t" style="left:153.04px;top:699.80px;font-size:11.7px;color:#111;transform-origin:0 9.90px;transform:rotate(-45deg)">s07</div>
<div class="t" style="left:192.41px;top:699.80px;font-size:11.7px;color:#111;transform-origin:0 9.90px;transform:rotate(-45deg)">s08</div>
<div class="t" style="left:268.82px;top:699.80px;font-size:11.7px;color:#111;transform-origin:0 9.90px;transform:rotate(-45deg)">s09</div>
<div class="t" style="left:294.30px;top:713.54px;font-size:10.3px;transform:scaleX(0.9);transform-origin:0 0">-100</div>
<div class="t" style="left:294.30px;top:750.45px;font-size:10.3px;transform:scaleX(0.9);transform-origin:0 0">-120</div>
<div class="t" style="left:294.30px;top:787.36px;font-size:10.3px;transform:scaleX(0.9);transform-origin:0 0">-140</div>
<div class="t" style="left:294.30px;top:824.27px;font-size:10.3px;transform:scaleX(0.9);transform-origin:0 0">-160</div>
<div class="t" style="left:294.30px;top:861.18px;font-size:10.3px;transform:scaleX(0.9);transform-origin:0 0">-180</div>
<div class="t" style="left:318.14px;top:782.45px;font-size:11.3px;transform-origin:0 0;transform:rotate(-90deg) translateX(-50%)"><i class="g" style="font-size:1.08em">ϕ</i>&nbsp; [°]</div>
<div class="t" style="left:397.57px;transform:translateX(-50%);top:874.68px;font-size:10.3px">0</div>
<div class="t" style="left:456.30px;transform:translateX(-50%);top:874.68px;font-size:10.3px">10</div>
<div class="t" style="left:515.02px;transform:translateX(-50%);top:874.68px;font-size:10.3px">20</div>
<div class="t" style="left:573.75px;transform:translateX(-50%);top:874.68px;font-size:10.3px">30</div>
<div class="t" style="right:300.20px;top:694.68px;font-size:10.3px">0</div>
<div class="t" style="right:300.20px;top:736.38px;font-size:10.3px">1</div>
<div class="t" style="right:300.20px;top:778.08px;font-size:10.3px">2</div>
<div class="t" style="right:300.20px;top:819.78px;font-size:10.3px">3</div>
<div class="t" style="right:300.20px;top:861.48px;font-size:10.3px">4</div>
<div class="t" style="left:509.65px;transform:translateX(-50%);top:888.10px;font-size:11.7px">Distance (m)</div>
<div class="t" style="left:360.21px;top:781.30px;font-size:11.8px;transform-origin:0 0;transform:rotate(-90deg) translateX(-50%)">log<span class="sb" style="font-size:8.3px;top:5.4px">10</span> period (s)</div>
<div class="t" style="left:400.77px;top:699.70px;font-size:11.7px;color:#111;transform-origin:0 9.90px;transform:rotate(-45deg)">s05</div>
<div class="t" style="left:471.54px;top:699.70px;font-size:11.7px;color:#111;transform-origin:0 9.90px;transform:rotate(-45deg)">s06</div>
<div class="t" style="left:508.24px;top:699.70px;font-size:11.7px;color:#111;transform-origin:0 9.90px;transform:rotate(-45deg)">s07</div>
<div class="t" style="left:547.59px;top:699.70px;font-size:11.7px;color:#111;transform-origin:0 9.90px;transform:rotate(-45deg)">s08</div>
<div class="t" style="left:623.93px;top:699.70px;font-size:11.7px;color:#111;transform-origin:0 9.90px;transform:rotate(-45deg)">s09</div>
<div class="t" style="left:648.90px;top:713.45px;font-size:10.3px;transform:scaleX(0.9);transform-origin:0 0">-100</div>
<div class="t" style="left:648.90px;top:750.38px;font-size:10.3px;transform:scaleX(0.9);transform-origin:0 0">-120</div>
<div class="t" style="left:648.90px;top:787.32px;font-size:10.3px;transform:scaleX(0.9);transform-origin:0 0">-140</div>
<div class="t" style="left:648.90px;top:824.25px;font-size:10.3px;transform:scaleX(0.9);transform-origin:0 0">-160</div>
<div class="t" style="left:648.90px;top:861.18px;font-size:10.3px;transform:scaleX(0.9);transform-origin:0 0">-180</div>
<div class="t" style="left:672.74px;top:782.40px;font-size:11.3px;transform-origin:0 0;transform:rotate(-90deg) translateX(-50%)"><i class="g" style="font-size:1.08em">ϕ</i>&nbsp; [°]</div>
<div class="t g" style="left:172.50px;top:124.54px;font-size:12px;color:#000">ρ</div>
<div class="t an" style="left:178.10px;top:130.88px;font-size:10.3px">XY</div>
<div class="t an" style="left:194.60px;top:125.61px;font-size:11.8px">Observed</div>
<div class="t g" style="left:527.60px;top:124.74px;font-size:12px;color:#000">ρ</div>
<div class="t an" style="left:534.60px;top:131.08px;font-size:10.3px">XY</div>
<div class="t an" style="left:550.20px;top:125.81px;font-size:11.8px">Calculated</div>
<div class="t g" style="left:174.90px;top:366.44px;font-size:12px;color:#000">ϕ</div>
<div class="t an" style="left:181.80px;top:373.28px;font-size:10.3px">XY</div>
<div class="t an" style="left:198.20px;top:367.51px;font-size:11.8px">Observed</div>
<div class="t g" style="left:530.50px;top:366.24px;font-size:12px;color:#000">ϕ</div>
<div class="t an" style="left:537.80px;top:373.08px;font-size:10.3px">XY</div>
<div class="t an" style="left:553.90px;top:367.31px;font-size:11.8px">Calculated</div>
<div class="t g" style="left:172.50px;top:598.64px;font-size:12px;color:#000">ρ</div>
<div class="t an" style="left:178.80px;top:604.98px;font-size:10.3px">YX</div>
<div class="t an" style="left:194.60px;top:599.71px;font-size:11.8px">Observed</div>
<div class="t g" style="left:524.30px;top:598.24px;font-size:12px;color:#000">ρ</div>
<div class="t an" style="left:531.10px;top:604.58px;font-size:10.3px">YX</div>
<div class="t an" style="left:546.80px;top:599.31px;font-size:11.8px">Calculated</div>
<div class="t g" style="left:172.50px;top:830.64px;font-size:12px;color:#000">ϕ</div>
<div class="t an" style="left:178.80px;top:837.48px;font-size:10.3px">YX</div>
<div class="t an" style="left:195.20px;top:831.71px;font-size:11.8px">Observed</div>
<div class="t g" style="left:523.80px;top:830.64px;font-size:12px;color:#000">ϕ</div>
<div class="t an" style="left:531.10px;top:837.48px;font-size:10.3px">YX</div>
<div class="t an" style="left:546.80px;top:831.71px;font-size:11.8px">Calculated</div>
</div></div></body></html>
